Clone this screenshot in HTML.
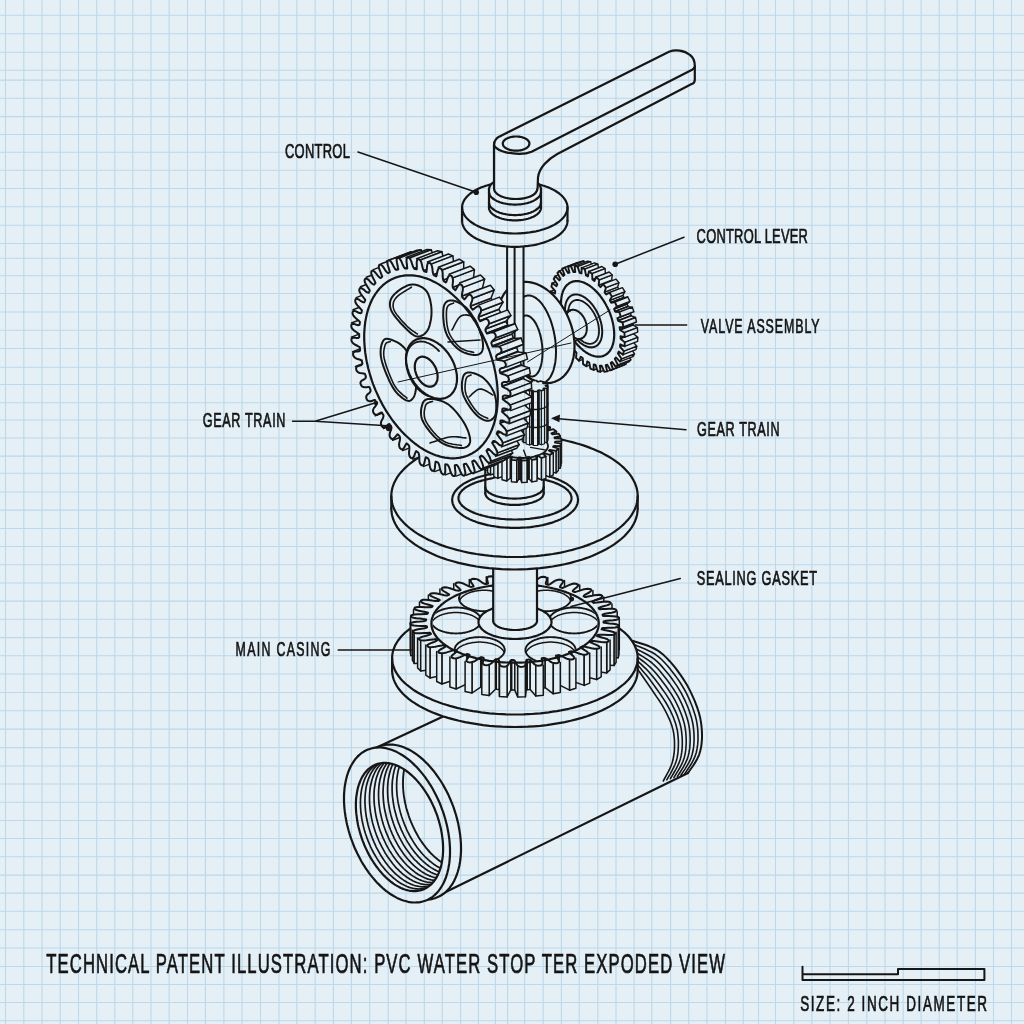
<!DOCTYPE html>
<html><head><meta charset="utf-8"><style>
html,body{margin:0;padding:0;background:#e4eff6;overflow:hidden;}
svg{display:block;will-change:transform;}
text{font-family:"Liberation Sans",sans-serif;fill:#141414;stroke:#141414;stroke-width:0.7px;}
</style></head><body>
<svg width="1024" height="1024" viewBox="0 0 1024 1024">
<defs><pattern id="bg" patternUnits="userSpaceOnUse" x="0" y="0" width="1024" height="1024">
<rect width="1024" height="1024" fill="#e4eff6"/>
<path d="M5.5 0V1024M23.8 0V1024M42.0 0V1024M60.2 0V1024M78.5 0V1024M96.7 0V1024M114.8 0V1024M132.8 0V1024M151.0 0V1024M169.1 0V1024M187.5 0V1024M205.4 0V1024M223.9 0V1024M242.0 0V1024M260.5 0V1024M279.0 0V1024M296.8 0V1024M315.1 0V1024M333.4 0V1024M351.4 0V1024M369.7 0V1024M388.2 0V1024M406.0 0V1024M424.3 0V1024M442.3 0V1024M460.6 0V1024M478.4 0V1024M495.4 0V1024M507.6 0V1024M524.6 0V1024M543.2 0V1024M561.4 0V1024M579.2 0V1024M597.8 0V1024M616.0 0V1024M634.1 0V1024M651.8 0V1024M670.6 0V1024M688.7 0V1024M707.0 0V1024M725.5 0V1024M743.3 0V1024M758.5 0V1024M775.5 0V1024M793.8 0V1024M811.9 0V1024M830.0 0V1024M848.4 0V1024M866.8 0V1024M885.0 0V1024M903.2 0V1024M921.1 0V1024M939.2 0V1024M957.2 0V1024M975.4 0V1024M993.5 0V1024M1011.5 0V1024M0 15.2H1024M0 33.8H1024M0 52.3H1024M0 70.3H1024M0 80.1H1024M0 98.2H1024M0 116.6H1024M0 134.4H1024M0 152.3H1024M0 170.3H1024M0 188.4H1024M0 206.7H1024M0 225.2H1024M0 243.5H1024M0 258.2H1024M0 275.7H1024M0 293.5H1024M0 312.0H1024M0 330.3H1024M0 348.4H1024M0 367.2H1024M0 384.4H1024M0 402.7H1024M0 420.0H1024M0 437.9H1024M0 456.1H1024M0 473.3H1024M0 491.9H1024M0 510.1H1024M0 528.4H1024M0 546.5H1024M0 564.7H1024M0 583.0H1024M0 601.1H1024M0 619.3H1024M0 637.6H1024M0 655.7H1024M0 673.9H1024M0 692.5H1024M0 710.8H1024M0 729.1H1024M0 747.6H1024M0 765.9H1024M0 783.9H1024M0 802.2H1024M0 820.5H1024M0 838.5H1024M0 856.8H1024M0 875.1H1024M0 893.1H1024M0 911.3H1024M0 929.8H1024M0 948.0H1024M0 966.4H1024M0 984.4H1024M0 1002.5H1024M0 1020.7H1024" stroke="#bcd8ea" stroke-width="1.05" fill="none"/>
</pattern></defs>
<rect width="1024" height="1024" fill="url(#bg)"/>
<g fill="none" stroke="#161616" stroke-linejoin="round" stroke-linecap="round">
<path d="M344.0 798.6L344.0 796.1L344.1 793.6L344.3 791.1L344.5 788.7L344.8 786.4L345.2 784.0L345.6 781.8L346.1 779.5L346.6 777.4L347.2 775.3L347.9 773.2L348.6 771.2L349.4 769.3L350.2 767.5L351.1 765.7L352.1 764.0L353.1 762.4L354.1 760.8L355.2 759.3L356.4 757.9L357.6 756.6L358.9 755.4L360.2 754.2L361.5 753.2L362.9 752.2L364.4 751.3L365.9 750.5L600.0 640.0L633.0 641.0L641.1 643.5L645.2 644.8L649.2 646.3L653.1 648.0L656.9 650.0L660.4 652.4L663.7 655.1L666.8 658.1L669.7 661.2L672.5 664.4L675.2 667.7L677.8 671.1L680.3 674.6L682.7 678.1L685.0 681.7L687.2 685.3L689.2 689.1L691.1 692.9L692.9 696.8L694.6 700.7L696.1 704.7L697.5 708.7L698.9 712.8L700.0 716.9L700.8 721.1L701.4 725.3L701.8 729.5L702.0 733.8L702.0 738.1L701.7 742.3L701.2 746.6L700.3 750.7L699.1 754.8L697.3 758.7L695.2 762.4L692.9 766.0L688.0 773.0L439.1 896.5L437.6 897.2L436.1 897.8L434.5 898.3L423.5 901.3L421.9 901.7L420.2 902.1L418.6 902.3L416.9 902.5L415.1 902.5L413.4 902.5L411.6 902.3L409.8 902.1L408.0 901.8L406.2 901.3L404.4 900.8L402.5 900.2L400.7 899.5L398.9 898.7L397.0 897.9L395.1 896.9L393.3 895.9L391.5 894.7L389.6 893.5L387.8 892.2L386.0 890.8L384.2 889.3L382.4 887.8L380.6 886.1L378.9 884.4L377.1 882.7L375.4 880.8L373.8 878.9L372.1 876.9L370.5 874.9L368.9 872.8L367.4 870.6L365.9 868.4L364.4 866.2L362.9 863.9L361.5 861.5L360.2 859.1L358.9 856.6L357.6 854.1L356.4 851.6L355.2 849.1L354.1 846.5L353.1 843.9L352.1 841.2L351.1 838.6L350.2 835.9L349.4 833.2L348.6 830.5L347.9 827.8L347.2 825.1L346.6 822.4L346.1 819.7L345.6 817.0L345.2 814.3L344.8 811.6L344.5 809.0L344.3 806.4L344.1 803.8L344.0 801.2Z" fill="url(#bg)" stroke="none"/>
<path d="M358.0 756.2L560.0 662.0" stroke-width="2.2" />
<path d="M431.4 899.0L688.0 773.0" stroke-width="2.2" />
<path d="M633.0 641.0L637.1 642.3L641.1 643.5L645.2 644.8L649.2 646.3L653.1 648.0L656.9 650.0L660.4 652.4L663.7 655.1L666.8 658.1L669.7 661.2L672.5 664.4L675.2 667.7L677.8 671.1L680.3 674.6L682.7 678.1L685.0 681.7L687.2 685.3L689.2 689.1L691.1 692.9L692.9 696.8L694.6 700.7L696.1 704.7L697.6 708.7L698.9 712.8L700.0 716.9L700.8 721.1L701.4 725.3L701.8 729.5L702.0 733.8L702.0 738.1L701.7 742.3L701.2 746.6L700.3 750.7L699.1 754.8L697.3 758.7L695.2 762.4L692.9 766.0L690.4 769.5L688.0 773.0" stroke-width="2.0" />
<path d="M633.1 644.3L636.9 645.8L640.7 647.2L644.4 648.7L648.1 650.4L651.8 652.2L655.3 654.3L658.6 656.8L661.6 659.5L664.5 662.5L667.3 665.5L670.0 668.7L672.5 671.9L675.0 675.2L677.5 678.6L679.8 682.0L682.0 685.5L684.1 689.0L686.1 692.7L687.9 696.4L689.6 700.1L691.2 704.0L692.7 707.8L694.0 711.7L695.3 715.7L696.3 719.7L697.0 723.7L697.6 727.8L697.9 732.0L698.0 736.1L698.0 740.2L697.7 744.4L697.1 748.4L696.3 752.5L695.0 756.4L693.3 760.2L691.3 763.8L689.1 767.3L686.8 770.7L684.5 774.1" stroke-width="1.6" />
<path d="M633.3 647.6L636.7 649.3L640.2 650.9L643.7 652.7L647.1 654.5L650.4 656.5L653.7 658.7L656.7 661.2L659.6 663.9L662.3 666.9L664.9 669.9L667.5 673.0L669.9 676.1L672.3 679.3L674.6 682.6L676.9 685.9L679.0 689.3L681.0 692.7L682.9 696.3L684.7 699.9L686.3 703.5L687.9 707.2L689.3 711.0L690.5 714.8L691.7 718.6L692.6 722.5L693.3 726.4L693.7 730.4L694.0 734.4L694.1 738.4L694.0 742.4L693.7 746.4L693.1 750.3L692.2 754.2L691.0 758.1L689.4 761.7L687.4 765.2L685.3 768.6L683.1 771.9L680.9 775.3" stroke-width="1.6" />
<path d="M633.4 650.9L636.6 652.8L639.7 654.7L642.9 656.6L646.0 658.6L649.0 660.7L652.0 663.0L654.8 665.6L657.5 668.3L660.1 671.2L662.5 674.2L664.9 677.2L667.3 680.3L669.6 683.4L671.8 686.6L674.0 689.8L676.0 693.1L678.0 696.4L679.8 699.9L681.5 703.3L683.0 706.9L684.5 710.5L685.8 714.1L687.0 717.8L688.1 721.5L688.9 725.3L689.5 729.1L689.9 732.9L690.1 736.8L690.2 740.7L690.0 744.5L689.7 748.4L689.1 752.2L688.2 756.0L687.0 759.7L685.4 763.2L683.6 766.6L681.6 769.9L679.5 773.2L677.4 776.4" stroke-width="1.6" />
<path d="M633.6 654.1L636.4 656.3L639.3 658.4L642.1 660.5L644.9 662.7L647.7 665.0L650.4 667.4L653.0 670.0L655.5 672.8L657.8 675.6L660.2 678.5L662.4 681.5L664.7 684.5L666.9 687.5L669.0 690.6L671.1 693.7L673.0 696.9L674.9 700.1L676.6 703.5L678.2 706.8L679.7 710.2L681.1 713.7L682.4 717.2L683.5 720.8L684.5 724.4L685.2 728.1L685.7 731.8L686.0 735.5L686.2 739.2L686.2 743.0L686.0 746.7L685.7 750.4L685.1 754.1L684.2 757.7L683.0 761.3L681.5 764.7L679.7 768.0L677.8 771.2L675.8 774.4L673.9 777.6" stroke-width="1.6" />
<path d="M633.7 657.4L636.2 659.8L638.8 662.1L641.3 664.4L643.8 666.8L646.3 669.2L648.8 671.7L651.1 674.4L653.4 677.2L655.6 680.0L657.8 682.9L659.9 685.8L662.0 688.7L664.1 691.6L666.2 694.6L668.1 697.6L670.0 700.7L671.8 703.9L673.4 707.1L675.0 710.3L676.5 713.6L677.8 717.0L679.0 720.4L680.0 723.8L680.9 727.3L681.5 730.9L681.9 734.5L682.2 738.0L682.3 741.7L682.3 745.3L682.1 748.9L681.7 752.4L681.1 756.0L680.2 759.5L679.0 762.9L677.5 766.2L675.8 769.4L674.0 772.5L672.2 775.6L670.4 778.7" stroke-width="1.6" />
<path d="M633.9 660.7L636.1 663.3L638.3 665.8L640.5 668.3L642.7 670.9L644.9 673.5L647.1 676.1L649.3 678.8L651.3 681.6L653.4 684.4L655.4 687.2L657.4 690.0L659.4 692.9L661.4 695.7L663.3 698.6L665.2 701.5L667.0 704.5L668.7 707.6L670.3 710.7L671.8 713.8L673.2 717.0L674.4 720.2L675.6 723.5L676.5 726.9L677.3 730.2L677.8 733.7L678.1 737.1L678.4 740.6L678.4 744.1L678.3 747.5L678.1 751.0L677.7 754.5L677.1 757.9L676.2 761.3L675.0 764.5L673.5 767.7L671.9 770.8L670.3 773.8L668.5 776.8L666.8 779.9" stroke-width="1.6" />
<path d="M634.0 664.0L635.9 666.7L637.8 669.5L639.8 672.2L641.7 675.0L643.6 677.7L645.5 680.5L647.4 683.2L649.3 686.0L651.2 688.8L653.0 691.5L654.9 694.3L656.8 697.1L658.7 699.8L660.5 702.6L662.3 705.4L664.0 708.3L665.6 711.3L667.1 714.3L668.5 717.3L669.9 720.4L671.1 723.5L672.1 726.6L673.0 729.9L673.7 733.2L674.1 736.5L674.4 739.8L674.5 743.1L674.5 746.5L674.4 749.8L674.1 753.2L673.6 756.5L673.0 759.8L672.1 763.0L671.0 766.1L669.6 769.2L668.1 772.2L666.5 775.1L664.9 778.0L663.3 781.0" stroke-width="1.6" />
<path d="M461.0 848.4L461.0 850.9L460.9 853.4L460.7 855.9L460.5 858.3L460.2 860.7L459.8 863.0L459.4 865.2L458.9 867.5L458.4 869.6L457.8 871.7L457.1 873.8L456.4 875.8L455.6 877.7L454.8 879.5L453.9 881.3L452.9 883.0L451.9 884.6L450.9 886.2L449.8 887.7L448.6 889.1L447.4 890.4L446.1 891.6L444.8 892.8L443.5 893.8L442.1 894.8L440.6 895.7L439.2 896.5L437.6 897.2L436.1 897.8L434.5 898.3L432.9 898.7L431.2 899.1L429.6 899.3L427.9 899.4L426.1 899.5L424.4 899.5L422.6 899.3L420.8 899.1L419.0 898.8L417.2 898.3L415.4 897.8L413.5 897.2L411.7 896.5L409.8 895.7L408.0 894.9L406.2 893.9L404.3 892.8L402.5 891.7L400.6 890.5L398.8 889.2L397.0 887.8L395.2 886.3L393.4 884.8L391.6 883.1L389.9 881.4L388.1 879.7L386.4 877.8L384.8 875.9L383.1 873.9L381.5 871.9L379.9 869.8L378.4 867.6L376.8 865.4L375.4 863.2L373.9 860.8L372.5 858.5L371.2 856.1L369.9 853.6L368.6 851.1L367.4 848.6L366.2 846.1L365.1 843.5L364.1 840.9L363.1 838.2L362.1 835.6L361.2 832.9L360.4 830.2L359.6 827.5L358.9 824.8L358.2 822.1L357.6 819.4L357.1 816.7L356.6 814.0L356.2 811.3L355.8 808.7L355.5 806.0L355.3 803.4L355.1 800.7L355.0 798.2L355.0 795.6L355.0 793.1L355.1 790.6L355.3 788.1L355.5 785.7L355.8 783.3L356.2 781.0L356.6 778.8L357.1 776.5L357.6 774.4L358.2 772.3L358.9 770.2L359.6 768.2L360.4 766.3L361.2 764.5L362.1 762.7L363.1 761.0L364.1 759.4L365.1 757.8L366.2 756.3L367.4 754.9L368.6 753.6L369.9 752.4L371.2 751.2L372.5 750.2L373.9 749.2L375.4 748.3L376.8 747.5L378.4 746.8L379.9 746.2L381.5 745.7L383.1 745.3L384.8 744.9L386.4 744.7L388.1 744.6L389.9 744.5L391.6 744.5L393.4 744.7L395.2 744.9L397.0 745.2L398.8 745.7L400.6 746.2L402.5 746.8L404.3 747.5L406.2 748.3L408.0 749.1L409.8 750.1L411.7 751.2L413.5 752.3L415.4 753.5L417.2 754.8L419.0 756.2L420.8 757.7L422.6 759.2L424.4 760.9L426.1 762.6L427.9 764.3L429.6 766.2L431.2 768.1L432.9 770.1L434.5 772.1L436.1 774.2L437.6 776.4L439.2 778.6L440.6 780.8L442.1 783.2L443.5 785.5L444.8 787.9L446.1 790.4L447.4 792.9L448.6 795.4L449.8 797.9L450.9 800.5L451.9 803.1L452.9 805.8L453.9 808.4L454.8 811.1L455.6 813.8L456.4 816.5L457.1 819.2L457.8 821.9L458.4 824.6L458.9 827.3L459.4 830.0L459.8 832.7L460.2 835.3L460.5 838.0L460.7 840.6L460.9 843.3L461.0 845.8L461.0 848.4Z" fill="url(#bg)" stroke="none"/>
<path d="M367.4 754.9L369.3 753.0L371.2 751.2L373.3 749.7L375.4 748.3L377.7 747.1L380.0 746.2L382.4 745.4L384.9 744.9L387.5 744.6L390.1 744.5L392.7 744.6L395.4 745.0L398.2 745.5L400.9 746.3L403.7 747.2L406.5 748.4L409.3 749.8L412.1 751.4L414.9 753.2L417.6 755.1L420.4 757.3L423.1 759.6L425.7 762.2L428.3 764.8L430.9 767.7L433.4 770.7L435.8 773.8L438.1 777.1L440.4 780.5L442.6 784.0L444.6 787.6L446.6 791.3L448.5 795.1L450.2 799.0L451.8 802.9L453.4 806.9L454.7 810.9L456.0 815.0L457.1 819.1L458.1 823.1L458.9 827.2L459.6 831.3L460.2 835.3L460.6 839.4L460.9 843.3L461.0 847.2L461.0 851.0L460.8 854.8L460.5 858.5L460.0 862.0L459.4 865.5L458.6 868.8L457.7 872.0L456.7 875.0L455.5 877.9L454.2 880.7L452.8 883.3L451.2 885.7L449.6 887.9L447.8 890.0L445.9 891.9L443.8 893.5L441.7 895.0L439.5 896.3L437.2 897.3L434.9 898.2L432.4 898.8L429.9 899.3L427.3 899.5L424.7 899.5L422.0 899.3L419.3 898.8L416.6 898.2L413.8 897.3L411.0 896.2L408.2 895.0L405.4 893.5L402.6 891.8L399.9 889.9L397.1 887.9L394.4 885.6L391.7 883.2L389.1 880.6L386.5 877.9L384.0 875.0L381.5 871.9" stroke-width="2.2" />
<path d="M450.0 851.4L450.0 853.9L449.9 856.4L449.7 858.9L449.5 861.3L449.2 863.7L448.8 866.0L448.4 868.2L447.9 870.5L447.4 872.6L446.8 874.7L446.1 876.8L445.4 878.8L444.6 880.7L443.8 882.5L442.9 884.3L441.9 886.0L440.9 887.6L439.9 889.2L438.8 890.7L437.6 892.1L436.4 893.4L435.1 894.6L433.8 895.8L432.5 896.8L431.1 897.8L429.6 898.7L428.2 899.5L426.6 900.2L425.1 900.8L423.5 901.3L421.9 901.7L420.2 902.1L418.6 902.3L416.9 902.4L415.1 902.5L413.4 902.5L411.6 902.3L409.8 902.1L408.0 901.8L406.2 901.3L404.4 900.8L402.5 900.2L400.7 899.5L398.8 898.7L397.0 897.9L395.2 896.9L393.3 895.8L391.5 894.7L389.6 893.5L387.8 892.2L386.0 890.8L384.2 889.3L382.4 887.8L380.6 886.1L378.9 884.4L377.1 882.7L375.4 880.8L373.8 878.9L372.1 876.9L370.5 874.9L368.9 872.8L367.4 870.6L365.8 868.4L364.4 866.2L362.9 863.8L361.5 861.5L360.2 859.1L358.9 856.6L357.6 854.1L356.4 851.6L355.2 849.1L354.1 846.5L353.1 843.9L352.1 841.2L351.1 838.6L350.2 835.9L349.4 833.2L348.6 830.5L347.9 827.8L347.2 825.1L346.6 822.4L346.1 819.7L345.6 817.0L345.2 814.3L344.8 811.7L344.5 809.0L344.3 806.4L344.1 803.7L344.0 801.2L344.0 798.6L344.0 796.1L344.1 793.6L344.3 791.1L344.5 788.7L344.8 786.3L345.2 784.0L345.6 781.8L346.1 779.5L346.6 777.4L347.2 775.3L347.9 773.2L348.6 771.2L349.4 769.3L350.2 767.5L351.1 765.7L352.1 764.0L353.1 762.4L354.1 760.8L355.2 759.3L356.4 757.9L357.6 756.6L358.9 755.4L360.2 754.2L361.5 753.2L362.9 752.2L364.4 751.3L365.8 750.5L367.4 749.8L368.9 749.2L370.5 748.7L372.1 748.3L373.8 747.9L375.4 747.7L377.1 747.6L378.9 747.5L380.6 747.5L382.4 747.7L384.2 747.9L386.0 748.2L387.8 748.7L389.6 749.2L391.5 749.8L393.3 750.5L395.2 751.3L397.0 752.1L398.8 753.1L400.7 754.2L402.5 755.3L404.4 756.5L406.2 757.8L408.0 759.2L409.8 760.7L411.6 762.2L413.4 763.9L415.1 765.6L416.9 767.3L418.6 769.2L420.2 771.1L421.9 773.1L423.5 775.1L425.1 777.2L426.6 779.4L428.2 781.6L429.6 783.8L431.1 786.2L432.5 788.5L433.8 790.9L435.1 793.4L436.4 795.9L437.6 798.4L438.8 800.9L439.9 803.5L440.9 806.1L441.9 808.8L442.9 811.4L443.8 814.1L444.6 816.8L445.4 819.5L446.1 822.2L446.8 824.9L447.4 827.6L447.9 830.3L448.4 833.0L448.8 835.7L449.2 838.3L449.5 841.0L449.7 843.6L449.9 846.3L450.0 848.8L450.0 851.4Z" fill="url(#bg)" stroke="none"/>
<path d="M450.0 851.4L450.0 853.9L449.9 856.4L449.7 858.9L449.5 861.3L449.2 863.7L448.8 866.0L448.4 868.2L447.9 870.5L447.4 872.6L446.8 874.7L446.1 876.8L445.4 878.8L444.6 880.7L443.8 882.5L442.9 884.3L441.9 886.0L440.9 887.6L439.9 889.2L438.8 890.7L437.6 892.1L436.4 893.4L435.1 894.6L433.8 895.8L432.5 896.8L431.1 897.8L429.6 898.7L428.2 899.5L426.6 900.2L425.1 900.8L423.5 901.3L421.9 901.7L420.2 902.1L418.6 902.3L416.9 902.4L415.1 902.5L413.4 902.5L411.6 902.3L409.8 902.1L408.0 901.8L406.2 901.3L404.4 900.8L402.5 900.2L400.7 899.5L398.8 898.7L397.0 897.9L395.2 896.9L393.3 895.8L391.5 894.7L389.6 893.5L387.8 892.2L386.0 890.8L384.2 889.3L382.4 887.8L380.6 886.1L378.9 884.4L377.1 882.7L375.4 880.8L373.8 878.9L372.1 876.9L370.5 874.9L368.9 872.8L367.4 870.6L365.8 868.4L364.4 866.2L362.9 863.8L361.5 861.5L360.2 859.1L358.9 856.6L357.6 854.1L356.4 851.6L355.2 849.1L354.1 846.5L353.1 843.9L352.1 841.2L351.1 838.6L350.2 835.9L349.4 833.2L348.6 830.5L347.9 827.8L347.2 825.1L346.6 822.4L346.1 819.7L345.6 817.0L345.2 814.3L344.8 811.7L344.5 809.0L344.3 806.4L344.1 803.7L344.0 801.2L344.0 798.6L344.0 796.1L344.1 793.6L344.3 791.1L344.5 788.7L344.8 786.3L345.2 784.0L345.6 781.8L346.1 779.5L346.6 777.4L347.2 775.3L347.9 773.2L348.6 771.2L349.4 769.3L350.2 767.5L351.1 765.7L352.1 764.0L353.1 762.4L354.1 760.8L355.2 759.3L356.4 757.9L357.6 756.6L358.9 755.4L360.2 754.2L361.5 753.2L362.9 752.2L364.4 751.3L365.8 750.5L367.4 749.8L368.9 749.2L370.5 748.7L372.1 748.3L373.8 747.9L375.4 747.7L377.1 747.6L378.9 747.5L380.6 747.5L382.4 747.7L384.2 747.9L386.0 748.2L387.8 748.7L389.6 749.2L391.5 749.8L393.3 750.5L395.2 751.3L397.0 752.1L398.8 753.1L400.7 754.2L402.5 755.3L404.4 756.5L406.2 757.8L408.0 759.2L409.8 760.7L411.6 762.2L413.4 763.9L415.1 765.6L416.9 767.3L418.6 769.2L420.2 771.1L421.9 773.1L423.5 775.1L425.1 777.2L426.6 779.4L428.2 781.6L429.6 783.8L431.1 786.2L432.5 788.5L433.8 790.9L435.1 793.4L436.4 795.9L437.6 798.4L438.8 800.9L439.9 803.5L440.9 806.1L441.9 808.8L442.9 811.4L443.8 814.1L444.6 816.8L445.4 819.5L446.1 822.2L446.8 824.9L447.4 827.6L447.9 830.3L448.4 833.0L448.8 835.7L449.2 838.3L449.5 841.0L449.7 843.6L449.9 846.3L450.0 848.8L450.0 851.4Z" stroke-width="2.2" />
<path d="M443.1 848.9L443.1 851.0L443.0 853.0L442.9 855.1L442.7 857.1L442.4 859.0L442.1 860.9L441.8 862.8L441.4 864.7L441.0 866.4L440.5 868.2L439.9 869.9L439.3 871.5L438.7 873.1L438.0 874.6L437.3 876.1L436.5 877.5L435.6 878.8L434.8 880.1L433.9 881.3L432.9 882.5L431.9 883.6L430.9 884.6L429.8 885.5L428.7 886.4L427.5 887.2L426.3 888.0L425.1 888.6L423.9 889.2L422.6 889.7L421.3 890.1L420.0 890.5L418.6 890.7L417.2 890.9L415.8 891.1L414.4 891.1L413.0 891.1L411.5 890.9L410.0 890.8L408.6 890.5L407.1 890.1L405.6 889.7L404.1 889.2L402.5 888.6L401.0 888.0L399.5 887.2L398.0 886.4L396.5 885.6L394.9 884.6L393.4 883.6L391.9 882.5L390.4 881.4L389.0 880.2L387.5 878.9L386.0 877.5L384.6 876.1L383.2 874.7L381.8 873.1L380.4 871.5L379.0 869.9L377.7 868.2L376.4 866.5L375.1 864.7L373.9 862.9L372.7 861.0L371.5 859.1L370.3 857.1L369.2 855.1L368.1 853.1L367.1 851.0L366.1 848.9L365.1 846.8L364.2 844.7L363.4 842.5L362.5 840.4L361.7 838.2L361.0 835.9L360.3 833.7L359.7 831.5L359.1 829.3L358.5 827.0L358.0 824.8L357.6 822.6L357.2 820.3L356.9 818.1L356.6 815.9L356.3 813.7L356.1 811.5L356.0 809.4L355.9 807.2L355.9 805.1L355.9 803.0L356.0 801.0L356.1 798.9L356.3 796.9L356.6 795.0L356.9 793.1L357.2 791.2L357.6 789.3L358.0 787.6L358.5 785.8L359.1 784.1L359.7 782.5L360.3 780.9L361.0 779.4L361.7 777.9L362.5 776.5L363.4 775.2L364.2 773.9L365.1 772.7L366.1 771.5L367.1 770.4L368.1 769.4L369.2 768.5L370.3 767.6L371.5 766.8L372.7 766.0L373.9 765.4L375.1 764.8L376.4 764.3L377.7 763.9L379.0 763.5L380.4 763.3L381.8 763.1L383.2 762.9L384.6 762.9L386.0 762.9L387.5 763.1L389.0 763.2L390.4 763.5L391.9 763.9L393.4 764.3L394.9 764.8L396.5 765.4L398.0 766.0L399.5 766.8L401.0 767.6L402.5 768.4L404.1 769.4L405.6 770.4L407.1 771.5L408.6 772.6L410.0 773.8L411.5 775.1L413.0 776.5L414.4 777.9L415.8 779.3L417.2 780.9L418.6 782.5L420.0 784.1L421.3 785.8L422.6 787.5L423.9 789.3L425.1 791.1L426.3 793.0L427.5 794.9L428.7 796.9L429.8 798.9L430.9 800.9L431.9 803.0L432.9 805.1L433.9 807.2L434.8 809.3L435.6 811.5L436.5 813.6L437.3 815.8L438.0 818.1L438.7 820.3L439.3 822.5L439.9 824.7L440.5 827.0L441.0 829.2L441.4 831.4L441.8 833.7L442.1 835.9L442.4 838.1L442.7 840.3L442.9 842.5L443.0 844.6L443.1 846.8L443.1 848.9Z" stroke-width="2.2" />
<clipPath id="cp1"><path d="M443.1 848.9L443.1 851.0L443.0 853.0L442.9 855.1L442.7 857.1L442.4 859.0L442.1 860.9L441.8 862.8L441.4 864.7L441.0 866.4L440.5 868.2L439.9 869.9L439.3 871.5L438.7 873.1L438.0 874.6L437.3 876.1L436.5 877.5L435.6 878.8L434.8 880.1L433.9 881.3L432.9 882.5L431.9 883.6L430.9 884.6L429.8 885.5L428.7 886.4L427.5 887.2L426.3 888.0L425.1 888.6L423.9 889.2L422.6 889.7L421.3 890.1L420.0 890.5L418.6 890.7L417.2 890.9L415.8 891.1L414.4 891.1L413.0 891.1L411.5 890.9L410.0 890.8L408.6 890.5L407.1 890.1L405.6 889.7L404.1 889.2L402.5 888.6L401.0 888.0L399.5 887.2L398.0 886.4L396.5 885.6L394.9 884.6L393.4 883.6L391.9 882.5L390.4 881.4L389.0 880.2L387.5 878.9L386.0 877.5L384.6 876.1L383.2 874.7L381.8 873.1L380.4 871.5L379.0 869.9L377.7 868.2L376.4 866.5L375.1 864.7L373.9 862.9L372.7 861.0L371.5 859.1L370.3 857.1L369.2 855.1L368.1 853.1L367.1 851.0L366.1 848.9L365.1 846.8L364.2 844.7L363.4 842.5L362.5 840.4L361.7 838.2L361.0 835.9L360.3 833.7L359.7 831.5L359.1 829.3L358.5 827.0L358.0 824.8L357.6 822.6L357.2 820.3L356.9 818.1L356.6 815.9L356.3 813.7L356.1 811.5L356.0 809.4L355.9 807.2L355.9 805.1L355.9 803.0L356.0 801.0L356.1 798.9L356.3 796.9L356.6 795.0L356.9 793.1L357.2 791.2L357.6 789.3L358.0 787.6L358.5 785.8L359.1 784.1L359.7 782.5L360.3 780.9L361.0 779.4L361.7 777.9L362.5 776.5L363.4 775.2L364.2 773.9L365.1 772.7L366.1 771.5L367.1 770.4L368.1 769.4L369.2 768.5L370.3 767.6L371.5 766.8L372.7 766.0L373.9 765.4L375.1 764.8L376.4 764.3L377.7 763.9L379.0 763.5L380.4 763.3L381.8 763.1L383.2 762.9L384.6 762.9L386.0 762.9L387.5 763.1L389.0 763.2L390.4 763.5L391.9 763.9L393.4 764.3L394.9 764.8L396.5 765.4L398.0 766.0L399.5 766.8L401.0 767.6L402.5 768.4L404.1 769.4L405.6 770.4L407.1 771.5L408.6 772.6L410.0 773.8L411.5 775.1L413.0 776.5L414.4 777.9L415.8 779.3L417.2 780.9L418.6 782.5L420.0 784.1L421.3 785.8L422.6 787.5L423.9 789.3L425.1 791.1L426.3 793.0L427.5 794.9L428.7 796.9L429.8 798.9L430.9 800.9L431.9 803.0L432.9 805.1L433.9 807.2L434.8 809.3L435.6 811.5L436.5 813.6L437.3 815.8L438.0 818.1L438.7 820.3L439.3 822.5L439.9 824.7L440.5 827.0L441.0 829.2L441.4 831.4L441.8 833.7L442.1 835.9L442.4 838.1L442.7 840.3L442.9 842.5L443.0 844.6L443.1 846.8L443.1 848.9Z"/></clipPath><g clip-path="url(#cp1)">
<path d="M447.6 846.8L447.6 848.9L447.5 850.9L447.4 853.0L447.2 854.9L447.0 856.9L446.7 858.8L446.3 860.7L445.9 862.5L445.5 864.3L445.0 866.1L444.5 867.7L443.9 869.4L443.2 871.0L442.5 872.5L441.8 874.0L441.0 875.4L440.2 876.7L439.3 878.0L438.4 879.2L437.4 880.4L436.4 881.5L435.4 882.5L434.3 883.4L433.2 884.3L432.1 885.1L430.9 885.8L429.7 886.5L428.4 887.1L427.1 887.6L425.8 888.0L424.5 888.3L423.1 888.6L421.8 888.8L420.4 888.9L418.9 889.0L417.5 888.9L416.0 888.8L414.6 888.6L413.1 888.4L411.6 888.0L410.1 887.6L408.6 887.1L407.1 886.5L405.5 885.8L404.0 885.1L402.5 884.3L401.0 883.4L399.5 882.5L398.0 881.5L396.5 880.4L395.0 879.2L393.5 878.0L392.0 876.7L390.6 875.4L389.1 874.0L387.7 872.5L386.3 871.0L384.9 869.4L383.6 867.8L382.2 866.1L380.9 864.4L379.6 862.6L378.4 860.7L377.2 858.9L376.0 856.9L374.9 855.0L373.7 853.0L372.7 851.0L371.6 848.9L370.6 846.8L369.7 844.7L368.8 842.6L367.9 840.4L367.1 838.2L366.3 836.0L365.5 833.8L364.8 831.6L364.2 829.4L363.6 827.1L363.1 824.9L362.6 822.7L362.1 820.4L361.7 818.2L361.4 816.0L361.1 813.8L360.8 811.6L360.7 809.4L360.5 807.2L360.5 805.1L360.4 803.0L360.5 800.9L360.5 798.8L360.7 796.8L360.8 794.8L361.1 792.8L361.4 790.9L361.7 789.1L362.1 787.2L362.6 785.4L363.1 783.7L363.6 782.0L364.2 780.4L364.8 778.8L365.5 777.3L366.3 775.8L367.1 774.4L367.9 773.0L368.8 771.7L369.7 770.5L370.6 769.4L371.6 768.3L372.7 767.3L373.7 766.3L374.9 765.5L376.0 764.6L377.2 763.9L378.4 763.3L379.6 762.7L380.9 762.2L382.2 761.8L383.6 761.4L384.9 761.1L386.3 760.9L387.7 760.8L389.1 760.8L390.6 760.8L392.0 760.9L393.5 761.1L395.0 761.4L396.5 761.7L398.0 762.2L399.5 762.7L401.0 763.3L402.5 763.9L404.0 764.6L405.5 765.4L407.1 766.3L408.6 767.3L410.1 768.3L411.6 769.4L413.1 770.5L414.6 771.7L416.0 773.0L417.5 774.3L418.9 775.8L420.4 777.2L421.8 778.7L423.1 780.3L424.5 782.0L425.8 783.7L427.1 785.4L428.4 787.2L429.7 789.0L430.9 790.9L432.1 792.8L433.2 794.8L434.3 796.8L435.4 798.8L436.4 800.8L437.4 802.9L438.4 805.0L439.3 807.2L440.2 809.3L441.0 811.5L441.8 813.7L442.5 815.9L443.2 818.1L443.9 820.4L444.5 822.6L445.0 824.9L445.5 827.1L445.9 829.3L446.3 831.6L446.7 833.8L447.0 836.0L447.2 838.2L447.4 840.4L447.5 842.5L447.6 844.7L447.6 846.8Z" stroke-width="1.7" />
<path d="M452.2 844.6L452.1 846.7L452.0 848.8L451.9 850.8L451.7 852.8L451.5 854.8L451.2 856.7L450.9 858.6L450.5 860.4L450.0 862.2L449.5 863.9L449.0 865.6L448.4 867.3L447.7 868.8L447.0 870.4L446.3 871.8L445.5 873.2L444.7 874.6L443.8 875.9L442.9 877.1L441.9 878.2L441.0 879.3L439.9 880.4L438.8 881.3L437.7 882.2L436.6 883.0L435.4 883.7L434.2 884.4L432.9 884.9L431.7 885.4L430.4 885.9L429.0 886.2L427.7 886.5L426.3 886.7L424.9 886.8L423.5 886.8L422.0 886.8L420.6 886.7L419.1 886.5L417.6 886.2L416.1 885.9L414.6 885.5L413.1 885.0L411.6 884.4L410.1 883.7L408.6 883.0L407.0 882.2L405.5 881.3L404.0 880.4L402.5 879.4L401.0 878.3L399.5 877.1L398.0 875.9L396.5 874.6L395.1 873.3L393.6 871.9L392.2 870.4L390.8 868.9L389.4 867.3L388.1 865.7L386.8 864.0L385.4 862.2L384.2 860.4L382.9 858.6L381.7 856.7L380.5 854.8L379.4 852.9L378.3 850.9L377.2 848.8L376.1 846.8L375.2 844.7L374.2 842.6L373.3 840.4L372.4 838.3L371.6 836.1L370.8 833.9L370.1 831.7L369.4 829.5L368.7 827.2L368.1 825.0L367.6 822.8L367.1 820.5L366.6 818.3L366.2 816.1L365.9 813.9L365.6 811.6L365.4 809.4L365.2 807.3L365.1 805.1L365.0 803.0L364.9 800.9L365.0 798.8L365.1 796.7L365.2 794.7L365.4 792.7L365.6 790.7L365.9 788.8L366.2 786.9L366.6 785.1L367.1 783.3L367.6 781.6L368.1 779.9L368.7 778.2L369.4 776.7L370.1 775.1L370.8 773.7L371.6 772.3L372.4 770.9L373.3 769.6L374.2 768.4L375.2 767.3L376.1 766.2L377.2 765.1L378.3 764.2L379.4 763.3L380.5 762.5L381.7 761.8L382.9 761.1L384.2 760.6L385.4 760.1L386.8 759.6L388.1 759.3L389.4 759.0L390.8 758.8L392.2 758.7L393.6 758.7L395.1 758.7L396.5 758.8L398.0 759.0L399.5 759.3L401.0 759.6L402.5 760.0L404.0 760.5L405.5 761.1L407.0 761.8L408.6 762.5L410.1 763.3L411.6 764.2L413.1 765.1L414.6 766.1L416.1 767.2L417.6 768.4L419.1 769.6L420.6 770.9L422.0 772.2L423.5 773.6L424.9 775.1L426.3 776.6L427.7 778.2L429.0 779.8L430.4 781.5L431.7 783.3L432.9 785.1L434.2 786.9L435.4 788.8L436.6 790.7L437.7 792.6L438.8 794.6L439.9 796.7L441.0 798.7L441.9 800.8L442.9 802.9L443.8 805.1L444.7 807.2L445.5 809.4L446.3 811.6L447.0 813.8L447.7 816.0L448.4 818.3L449.0 820.5L449.5 822.7L450.0 825.0L450.5 827.2L450.9 829.4L451.2 831.6L451.5 833.9L451.7 836.1L451.9 838.2L452.0 840.4L452.1 842.5L452.2 844.6Z" stroke-width="1.7" />
<path d="M456.7 842.5L456.6 844.6L456.6 846.7L456.4 848.7L456.3 850.7L456.0 852.7L455.7 854.6L455.4 856.4L455.0 858.3L454.5 860.1L454.0 861.8L453.5 863.5L452.9 865.1L452.3 866.7L451.6 868.2L450.8 869.7L450.0 871.1L449.2 872.5L448.3 873.8L447.4 875.0L446.5 876.1L445.5 877.2L444.4 878.2L443.4 879.2L442.2 880.0L441.1 880.9L439.9 881.6L438.7 882.2L437.5 882.8L436.2 883.3L434.9 883.7L433.5 884.1L432.2 884.4L430.8 884.6L429.4 884.7L428.0 884.7L426.5 884.7L425.1 884.6L423.6 884.4L422.1 884.1L420.6 883.8L419.1 883.3L417.6 882.8L416.1 882.2L414.6 881.6L413.1 880.9L411.6 880.1L410.0 879.2L408.5 878.2L407.0 877.2L405.5 876.1L404.0 875.0L402.5 873.8L401.1 872.5L399.6 871.2L398.2 869.7L396.7 868.3L395.3 866.8L394.0 865.2L392.6 863.5L391.3 861.8L390.0 860.1L388.7 858.3L387.4 856.5L386.2 854.6L385.0 852.7L383.9 850.7L382.8 848.7L381.7 846.7L380.7 844.7L379.7 842.6L378.7 840.5L377.8 838.3L376.9 836.2L376.1 834.0L375.3 831.8L374.6 829.6L373.9 827.4L373.2 825.1L372.6 822.9L372.1 820.6L371.6 818.4L371.2 816.2L370.8 813.9L370.4 811.7L370.1 809.5L369.9 807.3L369.7 805.1L369.6 803.0L369.5 800.8L369.5 798.7L369.5 796.6L369.6 794.6L369.7 792.5L369.9 790.6L370.1 788.6L370.4 786.7L370.8 784.8L371.2 783.0L371.6 781.2L372.1 779.4L372.6 777.8L373.2 776.1L373.9 774.5L374.6 773.0L375.3 771.5L376.1 770.1L376.9 768.8L377.8 767.5L378.7 766.3L379.7 765.1L380.7 764.0L381.7 763.0L382.8 762.1L383.9 761.2L385.0 760.4L386.2 759.7L387.4 759.0L388.7 758.4L390.0 757.9L391.3 757.5L392.6 757.2L394.0 756.9L395.3 756.7L396.7 756.6L398.2 756.5L399.6 756.6L401.1 756.7L402.5 756.9L404.0 757.1L405.5 757.5L407.0 757.9L408.5 758.4L410.0 759.0L411.6 759.7L413.1 760.4L414.6 761.2L416.1 762.1L417.6 763.0L419.1 764.0L420.6 765.1L422.1 766.3L423.6 767.5L425.1 768.8L426.5 770.1L428.0 771.5L429.4 773.0L430.8 774.5L432.2 776.1L433.5 777.7L434.9 779.4L436.2 781.1L437.5 782.9L438.7 784.8L439.9 786.6L441.1 788.6L442.2 790.5L443.4 792.5L444.4 794.5L445.5 796.6L446.5 798.7L447.4 800.8L448.3 802.9L449.2 805.1L450.0 807.3L450.8 809.5L451.6 811.7L452.3 813.9L452.9 816.1L453.5 818.4L454.0 820.6L454.5 822.8L455.0 825.1L455.4 827.3L455.7 829.5L456.0 831.7L456.3 833.9L456.4 836.1L456.6 838.3L456.6 840.4L456.7 842.5Z" stroke-width="1.7" />
<path d="M461.2 840.4L461.2 842.5L461.1 844.5L461.0 846.6L460.8 848.6L460.5 850.5L460.2 852.4L459.9 854.3L459.5 856.2L459.1 857.9L458.6 859.7L458.0 861.4L457.4 863.0L456.8 864.6L456.1 866.1L455.4 867.6L454.6 869.0L453.7 870.3L452.9 871.6L452.0 872.8L451.0 874.0L450.0 875.1L449.0 876.1L447.9 877.0L446.8 877.9L445.6 878.7L444.4 879.5L443.2 880.1L442.0 880.7L440.7 881.2L439.4 881.6L438.1 882.0L436.7 882.2L435.3 882.4L433.9 882.6L432.5 882.6L431.1 882.6L429.6 882.4L428.1 882.3L426.7 882.0L425.2 881.6L423.7 881.2L422.2 880.7L420.6 880.1L419.1 879.5L417.6 878.7L416.1 877.9L414.6 877.1L413.0 876.1L411.5 875.1L410.0 874.0L408.5 872.9L407.1 871.7L405.6 870.4L404.1 869.0L402.7 867.6L401.3 866.2L399.9 864.6L398.5 863.0L397.1 861.4L395.8 859.7L394.5 858.0L393.2 856.2L392.0 854.4L390.8 852.5L389.6 850.6L388.4 848.6L387.3 846.6L386.2 844.6L385.2 842.5L384.2 840.4L383.2 838.3L382.3 836.2L381.5 834.0L380.6 831.9L379.8 829.7L379.1 827.4L378.4 825.2L377.8 823.0L377.2 820.8L376.6 818.5L376.1 816.3L375.7 814.1L375.3 811.8L375.0 809.6L374.7 807.4L374.4 805.2L374.2 803.0L374.1 800.9L374.0 798.7L374.0 796.6L374.0 794.5L374.1 792.5L374.2 790.4L374.4 788.4L374.7 786.5L375.0 784.6L375.3 782.7L375.7 780.8L376.1 779.1L376.6 777.3L377.2 775.6L377.8 774.0L378.4 772.4L379.1 770.9L379.8 769.4L380.6 768.0L381.5 766.7L382.3 765.4L383.2 764.2L384.2 763.0L385.2 761.9L386.2 760.9L387.3 760.0L388.4 759.1L389.6 758.3L390.8 757.5L392.0 756.9L393.2 756.3L394.5 755.8L395.8 755.4L397.1 755.0L398.5 754.8L399.9 754.6L401.3 754.4L402.7 754.4L404.1 754.4L405.6 754.6L407.1 754.7L408.5 755.0L410.0 755.4L411.5 755.8L413.0 756.3L414.6 756.9L416.1 757.5L417.6 758.3L419.1 759.1L420.6 759.9L422.2 760.9L423.7 761.9L425.2 763.0L426.7 764.1L428.1 765.3L429.6 766.6L431.1 768.0L432.5 769.4L433.9 770.8L435.3 772.4L436.7 774.0L438.1 775.6L439.4 777.3L440.7 779.0L442.0 780.8L443.2 782.6L444.4 784.5L445.6 786.4L446.8 788.4L447.9 790.4L449.0 792.4L450.0 794.5L451.0 796.6L452.0 798.7L452.9 800.8L453.7 803.0L454.6 805.1L455.4 807.3L456.1 809.6L456.8 811.8L457.4 814.0L458.0 816.2L458.6 818.5L459.1 820.7L459.5 822.9L459.9 825.2L460.2 827.4L460.5 829.6L460.8 831.8L461.0 834.0L461.1 836.1L461.2 838.3L461.2 840.4Z" stroke-width="1.7" />
<path d="M465.7 838.3L465.7 840.4L465.6 842.4L465.5 844.5L465.3 846.4L465.1 848.4L464.8 850.3L464.4 852.2L464.0 854.0L463.6 855.8L463.1 857.6L462.6 859.2L462.0 860.9L461.3 862.5L460.6 864.0L459.9 865.5L459.1 866.9L458.3 868.2L457.4 869.5L456.5 870.7L455.5 871.9L454.5 873.0L453.5 874.0L452.4 874.9L451.3 875.8L450.2 876.6L449.0 877.3L447.8 878.0L446.5 878.6L445.2 879.1L443.9 879.5L442.6 879.8L441.2 880.1L439.9 880.3L438.5 880.4L437.0 880.5L435.6 880.4L434.1 880.3L432.7 880.1L431.2 879.9L429.7 879.5L428.2 879.1L426.7 878.6L425.2 878.0L423.6 877.3L422.1 876.6L420.6 875.8L419.1 874.9L417.6 874.0L416.1 873.0L414.6 871.9L413.1 870.7L411.6 869.5L410.1 868.2L408.7 866.9L407.2 865.5L405.8 864.0L404.4 862.5L403.0 860.9L401.7 859.3L400.3 857.6L399.0 855.9L397.7 854.1L396.5 852.2L395.3 850.4L394.1 848.4L393.0 846.5L391.8 844.5L390.8 842.5L389.7 840.4L388.7 838.3L387.8 836.2L386.9 834.1L386.0 831.9L385.2 829.7L384.4 827.5L383.6 825.3L382.9 823.1L382.3 820.9L381.7 818.6L381.2 816.4L380.7 814.2L380.2 811.9L379.8 809.7L379.5 807.5L379.2 805.3L378.9 803.1L378.8 800.9L378.6 798.7L378.6 796.6L378.5 794.5L378.6 792.4L378.6 790.3L378.8 788.3L378.9 786.3L379.2 784.3L379.5 782.4L379.8 780.6L380.2 778.7L380.7 776.9L381.2 775.2L381.7 773.5L382.3 771.9L382.9 770.3L383.6 768.8L384.4 767.3L385.2 765.9L386.0 764.5L386.9 763.2L387.8 762.0L388.7 760.9L389.7 759.8L390.8 758.8L391.8 757.8L393.0 757.0L394.1 756.1L395.3 755.4L396.5 754.8L397.7 754.2L399.0 753.7L400.3 753.3L401.7 752.9L403.0 752.6L404.4 752.4L405.8 752.3L407.2 752.3L408.7 752.3L410.1 752.4L411.6 752.6L413.1 752.9L414.6 753.2L416.1 753.7L417.6 754.2L419.1 754.8L420.6 755.4L422.1 756.1L423.6 756.9L425.2 757.8L426.7 758.8L428.2 759.8L429.7 760.9L431.2 762.0L432.7 763.2L434.1 764.5L435.6 765.8L437.0 767.3L438.5 768.7L439.9 770.2L441.2 771.8L442.6 773.5L443.9 775.2L445.2 776.9L446.5 778.7L447.8 780.5L449.0 782.4L450.2 784.3L451.3 786.3L452.4 788.3L453.5 790.3L454.5 792.3L455.5 794.4L456.5 796.5L457.4 798.7L458.3 800.8L459.1 803.0L459.9 805.2L460.6 807.4L461.3 809.6L462.0 811.9L462.6 814.1L463.1 816.4L463.6 818.6L464.0 820.8L464.4 823.1L464.8 825.3L465.1 827.5L465.3 829.7L465.5 831.9L465.6 834.0L465.7 836.2L465.7 838.3Z" stroke-width="1.7" />
<path d="M470.2 836.1L470.2 838.2L470.1 840.3L470.0 842.3L469.8 844.3L469.6 846.3L469.3 848.2L469.0 850.1L468.6 851.9L468.1 853.7L467.6 855.4L467.1 857.1L466.5 858.8L465.8 860.3L465.1 861.9L464.4 863.3L463.6 864.7L462.8 866.1L461.9 867.4L461.0 868.6L460.0 869.7L459.1 870.8L458.0 871.9L456.9 872.8L455.8 873.7L454.7 874.5L453.5 875.2L452.3 875.9L451.0 876.4L449.8 876.9L448.4 877.4L447.1 877.7L445.8 878.0L444.4 878.2L443.0 878.3L441.6 878.3L440.1 878.3L438.7 878.2L437.2 878.0L435.7 877.7L434.2 877.4L432.7 877.0L431.2 876.5L429.7 875.9L428.2 875.2L426.6 874.5L425.1 873.7L423.6 872.8L422.1 871.9L420.6 870.9L419.1 869.8L417.6 868.6L416.1 867.4L414.6 866.1L413.2 864.8L411.7 863.4L410.3 861.9L408.9 860.4L407.5 858.8L406.2 857.2L404.8 855.5L403.5 853.7L402.3 851.9L401.0 850.1L399.8 848.2L398.6 846.3L397.5 844.4L396.4 842.4L395.3 840.3L394.2 838.3L393.3 836.2L392.3 834.1L391.4 831.9L390.5 829.8L389.7 827.6L388.9 825.4L388.2 823.2L387.5 821.0L386.8 818.7L386.2 816.5L385.7 814.3L385.2 812.0L384.7 809.8L384.3 807.6L384.0 805.4L383.7 803.1L383.5 800.9L383.3 798.8L383.2 796.6L383.1 794.5L383.0 792.4L383.1 790.3L383.2 788.2L383.3 786.2L383.5 784.2L383.7 782.2L384.0 780.3L384.3 778.4L384.7 776.6L385.2 774.8L385.7 773.1L386.2 771.4L386.8 769.7L387.5 768.2L388.2 766.6L388.9 765.2L389.7 763.8L390.5 762.4L391.4 761.1L392.3 759.9L393.3 758.8L394.2 757.7L395.3 756.6L396.4 755.7L397.5 754.8L398.6 754.0L399.8 753.3L401.0 752.6L402.3 752.1L403.5 751.6L404.8 751.1L406.2 750.8L407.5 750.5L408.9 750.3L410.3 750.2L411.7 750.2L413.2 750.2L414.6 750.3L416.1 750.5L417.6 750.8L419.1 751.1L420.6 751.5L422.1 752.0L423.6 752.6L425.1 753.3L426.6 754.0L428.2 754.8L429.7 755.7L431.2 756.6L432.7 757.6L434.2 758.7L435.7 759.9L437.2 761.1L438.7 762.4L440.1 763.7L441.6 765.1L443.0 766.6L444.4 768.1L445.8 769.7L447.1 771.3L448.4 773.0L449.8 774.8L451.0 776.6L452.3 778.4L453.5 780.3L454.7 782.2L455.8 784.1L456.9 786.1L458.0 788.2L459.1 790.2L460.0 792.3L461.0 794.4L461.9 796.6L462.8 798.7L463.6 800.9L464.4 803.1L465.1 805.3L465.8 807.5L466.5 809.8L467.1 812.0L467.6 814.2L468.1 816.5L468.6 818.7L469.0 820.9L469.3 823.1L469.6 825.4L469.8 827.6L470.0 829.7L470.1 831.9L470.2 834.0L470.2 836.1Z" stroke-width="1.7" />
<path d="M474.8 834.0L474.7 836.1L474.7 838.2L474.5 840.2L474.4 842.2L474.1 844.2L473.8 846.1L473.5 847.9L473.1 849.8L472.6 851.6L472.1 853.3L471.6 855.0L471.0 856.6L470.4 858.2L469.7 859.7L468.9 861.2L468.1 862.6L467.3 864.0L466.4 865.3L465.5 866.5L464.6 867.6L463.6 868.7L462.5 869.7L461.5 870.7L460.3 871.5L459.2 872.4L458.0 873.1L456.8 873.7L455.6 874.3L454.3 874.8L453.0 875.2L451.6 875.6L450.3 875.9L448.9 876.1L447.5 876.2L446.1 876.2L444.6 876.2L443.2 876.1L441.7 875.9L440.2 875.6L438.7 875.3L437.2 874.8L435.7 874.3L434.2 873.7L432.7 873.1L431.2 872.4L429.7 871.6L428.1 870.7L426.6 869.7L425.1 868.7L423.6 867.6L422.1 866.5L420.6 865.3L419.2 864.0L417.7 862.7L416.3 861.2L414.8 859.8L413.4 858.3L412.1 856.7L410.7 855.0L409.4 853.3L408.1 851.6L406.8 849.8L405.5 848.0L404.3 846.1L403.1 844.2L402.0 842.2L400.9 840.2L399.8 838.2L398.8 836.2L397.8 834.1L396.8 832.0L395.9 829.8L395.0 827.7L394.2 825.5L393.4 823.3L392.7 821.1L392.0 818.9L391.3 816.6L390.7 814.4L390.2 812.1L389.7 809.9L389.3 807.7L388.9 805.4L388.5 803.2L388.2 801.0L388.0 798.8L387.8 796.6L387.7 794.5L387.6 792.3L387.6 790.2L387.6 788.1L387.7 786.1L387.8 784.0L388.0 782.1L388.2 780.1L388.5 778.2L388.9 776.3L389.3 774.5L389.7 772.7L390.2 770.9L390.7 769.3L391.3 767.6L392.0 766.0L392.7 764.5L393.4 763.0L394.2 761.6L395.0 760.3L395.9 759.0L396.8 757.8L397.8 756.6L398.8 755.5L399.8 754.5L400.9 753.6L402.0 752.7L403.1 751.9L404.3 751.2L405.5 750.5L406.8 749.9L408.1 749.4L409.4 749.0L410.7 748.7L412.1 748.4L413.4 748.2L414.8 748.1L416.3 748.0L417.7 748.1L419.2 748.2L420.6 748.4L422.1 748.6L423.6 749.0L425.1 749.4L426.6 749.9L428.1 750.5L429.7 751.2L431.2 751.9L432.7 752.7L434.2 753.6L435.7 754.5L437.2 755.5L438.7 756.6L440.2 757.8L441.7 759.0L443.2 760.3L444.6 761.6L446.1 763.0L447.5 764.5L448.9 766.0L450.3 767.6L451.6 769.2L453.0 770.9L454.3 772.6L455.6 774.4L456.8 776.3L458.0 778.1L459.2 780.1L460.3 782.0L461.5 784.0L462.5 786.0L463.6 788.1L464.6 790.2L465.5 792.3L466.4 794.4L467.3 796.6L468.1 798.8L468.9 801.0L469.7 803.2L470.4 805.4L471.0 807.6L471.6 809.9L472.1 812.1L472.6 814.3L473.1 816.6L473.5 818.8L473.8 821.0L474.1 823.2L474.4 825.4L474.5 827.6L474.7 829.8L474.7 831.9L474.8 834.0Z" stroke-width="1.7" />
<path d="M479.3 831.9L479.3 834.0L479.2 836.0L479.1 838.1L478.9 840.1L478.6 842.0L478.3 843.9L478.0 845.8L477.6 847.7L477.2 849.4L476.7 851.2L476.1 852.9L475.5 854.5L474.9 856.1L474.2 857.6L473.5 859.1L472.7 860.5L471.8 861.8L471.0 863.1L470.1 864.3L469.1 865.5L468.1 866.6L467.1 867.6L466.0 868.5L464.9 869.4L463.7 870.2L462.5 871.0L461.3 871.6L460.1 872.2L458.8 872.7L457.5 873.1L456.2 873.5L454.8 873.7L453.4 873.9L452.0 874.1L450.6 874.1L449.2 874.1L447.7 873.9L446.2 873.8L444.8 873.5L443.3 873.1L441.8 872.7L440.3 872.2L438.7 871.6L437.2 871.0L435.7 870.2L434.2 869.4L432.7 868.6L431.1 867.6L429.6 866.6L428.1 865.5L426.6 864.4L425.2 863.2L423.7 861.9L422.2 860.5L420.8 859.1L419.4 857.7L418.0 856.1L416.6 854.5L415.2 852.9L413.9 851.2L412.6 849.5L411.3 847.7L410.1 845.9L408.9 844.0L407.7 842.1L406.5 840.1L405.4 838.1L404.3 836.1L403.3 834.0L402.3 831.9L401.3 829.8L400.4 827.7L399.6 825.5L398.7 823.4L397.9 821.2L397.2 818.9L396.5 816.7L395.9 814.5L395.3 812.3L394.7 810.0L394.2 807.8L393.8 805.6L393.4 803.3L393.1 801.1L392.8 798.9L392.5 796.7L392.3 794.5L392.2 792.4L392.1 790.2L392.1 788.1L392.1 786.0L392.2 784.0L392.3 781.9L392.5 779.9L392.8 778.0L393.1 776.1L393.4 774.2L393.8 772.3L394.2 770.6L394.7 768.8L395.3 767.1L395.9 765.5L396.5 763.9L397.2 762.4L397.9 760.9L398.7 759.5L399.6 758.2L400.4 756.9L401.3 755.7L402.3 754.5L403.3 753.4L404.3 752.4L405.4 751.5L406.5 750.6L407.7 749.8L408.9 749.0L410.1 748.4L411.3 747.8L412.6 747.3L413.9 746.9L415.2 746.5L416.6 746.3L418.0 746.1L419.4 745.9L420.8 745.9L422.2 745.9L423.7 746.1L425.2 746.2L426.6 746.5L428.1 746.9L429.6 747.3L431.1 747.8L432.7 748.4L434.2 749.0L435.7 749.8L437.2 750.6L438.7 751.4L440.3 752.4L441.8 753.4L443.3 754.5L444.8 755.6L446.2 756.8L447.7 758.1L449.2 759.5L450.6 760.9L452.0 762.3L453.4 763.9L454.8 765.5L456.2 767.1L457.5 768.8L458.8 770.5L460.1 772.3L461.3 774.1L462.5 776.0L463.7 777.9L464.9 779.9L466.0 781.9L467.1 783.9L468.1 786.0L469.1 788.1L470.1 790.2L471.0 792.3L471.8 794.5L472.7 796.6L473.5 798.8L474.2 801.1L474.9 803.3L475.5 805.5L476.1 807.7L476.7 810.0L477.2 812.2L477.6 814.4L478.0 816.7L478.3 818.9L478.6 821.1L478.9 823.3L479.1 825.5L479.2 827.6L479.3 829.8L479.3 831.9Z" stroke-width="1.7" />
<path d="M483.8 829.8L483.8 831.9L483.7 833.9L483.6 836.0L483.4 837.9L483.2 839.9L482.9 841.8L482.5 843.7L482.1 845.5L481.7 847.3L481.2 849.1L480.7 850.7L480.1 852.4L479.4 854.0L478.7 855.5L478.0 857.0L477.2 858.4L476.4 859.7L475.5 861.0L474.6 862.2L473.6 863.4L472.6 864.5L471.6 865.5L470.5 866.4L469.4 867.3L468.3 868.1L467.1 868.8L465.9 869.5L464.6 870.1L463.3 870.6L462.0 871.0L460.7 871.3L459.3 871.6L458.0 871.8L456.6 871.9L455.1 872.0L453.7 871.9L452.2 871.8L450.8 871.6L449.3 871.4L447.8 871.0L446.3 870.6L444.8 870.1L443.3 869.5L441.7 868.8L440.2 868.1L438.7 867.3L437.2 866.4L435.7 865.5L434.2 864.5L432.7 863.4L431.2 862.2L429.7 861.0L428.2 859.7L426.8 858.4L425.3 857.0L423.9 855.5L422.5 854.0L421.1 852.4L419.8 850.8L418.4 849.1L417.1 847.4L415.8 845.6L414.6 843.7L413.4 841.9L412.2 839.9L411.1 838.0L409.9 836.0L408.9 834.0L407.8 831.9L406.8 829.8L405.9 827.7L405.0 825.6L404.1 823.4L403.3 821.2L402.5 819.0L401.7 816.8L401.0 814.6L400.4 812.4L399.8 810.1L399.3 807.9L398.8 805.7L398.3 803.4L397.9 801.2L397.6 799.0L397.3 796.8L397.0 794.6L396.9 792.4L396.7 790.2L396.7 788.1L396.6 786.0L396.7 783.9L396.7 781.8L396.9 779.8L397.0 777.8L397.3 775.8L397.6 773.9L397.9 772.1L398.3 770.2L398.8 768.4L399.3 766.7L399.8 765.0L400.4 763.4L401.0 761.8L401.7 760.3L402.5 758.8L403.3 757.4L404.1 756.0L405.0 754.7L405.9 753.5L406.8 752.4L407.8 751.3L408.9 750.3L409.9 749.3L411.1 748.5L412.2 747.6L413.4 746.9L414.6 746.3L415.8 745.7L417.1 745.2L418.4 744.8L419.8 744.4L421.1 744.1L422.5 743.9L423.9 743.8L425.3 743.8L426.8 743.8L428.2 743.9L429.7 744.1L431.2 744.4L432.7 744.7L434.2 745.2L435.7 745.7L437.2 746.3L438.7 746.9L440.2 747.6L441.7 748.4L443.3 749.3L444.8 750.3L446.3 751.3L447.8 752.4L449.3 753.5L450.8 754.7L452.2 756.0L453.7 757.3L455.1 758.8L456.6 760.2L458.0 761.7L459.3 763.3L460.7 765.0L462.0 766.7L463.3 768.4L464.6 770.2L465.9 772.0L467.1 773.9L468.3 775.8L469.4 777.8L470.5 779.8L471.6 781.8L472.6 783.8L473.6 785.9L474.6 788.0L475.5 790.2L476.4 792.3L477.2 794.5L478.0 796.7L478.7 798.9L479.4 801.1L480.1 803.4L480.7 805.6L481.2 807.9L481.7 810.1L482.1 812.3L482.5 814.6L482.9 816.8L483.2 819.0L483.4 821.2L483.6 823.4L483.7 825.5L483.8 827.7L483.8 829.8Z" stroke-width="1.7" />
<path d="M490.2 826.8L490.1 828.9L490.1 830.9L489.9 833.0L489.7 835.0L489.5 836.9L489.2 838.8L488.9 840.7L488.5 842.6L488.0 844.3L487.5 846.1L487.0 847.8L486.4 849.4L485.7 851.0L485.1 852.5L484.3 854.0L483.5 855.4L482.7 856.7L481.8 858.0L480.9 859.2L480.0 860.4L479.0 861.5L477.9 862.5L476.8 863.4L475.7 864.3L474.6 865.1L473.4 865.9L472.2 866.5L470.9 867.1L469.7 867.6L468.4 868.0L467.0 868.4L465.7 868.6L464.3 868.8L462.9 869.0L461.5 869.0L460.0 869.0L458.6 868.8L457.1 868.7L455.6 868.4L454.1 868.0L452.6 867.6L451.1 867.1L449.6 866.5L448.1 865.9L446.6 865.1L445.0 864.3L443.5 863.5L442.0 862.5L440.5 861.5L439.0 860.4L437.5 859.3L436.0 858.1L434.5 856.8L433.1 855.4L431.6 854.0L430.2 852.6L428.8 851.0L427.4 849.4L426.1 847.8L424.8 846.1L423.5 844.4L422.2 842.6L420.9 840.8L419.7 838.9L418.5 837.0L417.4 835.0L416.3 833.0L415.2 831.0L414.2 828.9L413.2 826.8L412.2 824.7L411.3 822.6L410.4 820.4L409.6 818.3L408.8 816.1L408.1 813.8L407.4 811.6L406.7 809.4L406.1 807.2L405.6 804.9L405.1 802.7L404.6 800.5L404.3 798.2L403.9 796.0L403.6 793.8L403.4 791.6L403.2 789.4L403.1 787.3L403.0 785.1L403.0 783.0L403.0 780.9L403.1 778.9L403.2 776.8L403.4 774.8L403.6 772.9L403.9 771.0L404.3 769.1L404.6 767.2L405.1 765.5L405.6 763.7L406.1 762.0L406.7 760.4L407.4 758.8L408.1 757.3L408.8 755.8L409.6 754.4L410.4 753.1L411.3 751.8L412.2 750.6L413.2 749.4L414.2 748.3L415.2 747.3L416.3 746.4L417.4 745.5L418.5 744.7L419.7 743.9L420.9 743.3L422.2 742.7L423.5 742.2L424.8 741.8L426.1 741.4L427.4 741.2L428.8 741.0L430.2 740.8L431.6 740.8L433.1 740.8L434.5 741.0L436.0 741.1L437.5 741.4L439.0 741.8L440.5 742.2L442.0 742.7L443.5 743.3L445.0 743.9L446.6 744.7L448.1 745.5L449.6 746.3L451.1 747.3L452.6 748.3L454.1 749.4L455.6 750.5L457.1 751.7L458.6 753.0L460.0 754.4L461.5 755.8L462.9 757.2L464.3 758.8L465.7 760.4L467.0 762.0L468.4 763.7L469.7 765.4L470.9 767.2L472.2 769.0L473.4 770.9L474.6 772.8L475.7 774.8L476.8 776.8L477.9 778.8L479.0 780.9L480.0 783.0L480.9 785.1L481.8 787.2L482.7 789.4L483.5 791.5L484.3 793.7L485.1 796.0L485.7 798.2L486.4 800.4L487.0 802.6L487.5 804.9L488.0 807.1L488.5 809.3L488.9 811.6L489.2 813.8L489.5 816.0L489.7 818.2L489.9 820.4L490.1 822.5L490.1 824.7L490.2 826.8Z" stroke-width="1.9" />
</g>
<path d="M392.1 658.0L392.3 655.0L392.8 652.1L393.6 649.2L394.8 646.3L396.3 643.4L398.1 640.5L400.3 637.8L402.7 635.0L405.5 632.3L408.6 629.8L411.9 627.2L415.6 624.8L419.5 622.4L423.6 620.2L428.1 618.0L432.7 616.0L437.6 614.1L442.7 612.3L448.0 610.6L453.5 609.1L459.1 607.7L465.0 606.4L470.9 605.3L477.0 604.3L483.1 603.4L489.4 602.7L495.7 602.2L502.1 601.8L508.5 601.6L514.9 601.5L521.3 601.6L527.7 601.8L534.1 602.2L540.4 602.7L546.7 603.4L552.8 604.3L558.9 605.3L564.8 606.4L570.7 607.7L576.3 609.1L581.8 610.6L587.1 612.3L592.2 614.1L597.1 616.0L601.7 618.0L606.2 620.2L610.3 622.4L614.2 624.8L617.9 627.2L621.2 629.8L624.3 632.3L627.1 635.0L629.5 637.8L631.7 640.5L633.5 643.4L635.0 646.3L636.2 649.2L637.0 652.1L637.5 655.0L637.7 658.0L637.7 670.5L637.5 673.5L637.0 676.4L636.2 679.3L635.0 682.2L633.5 685.1L631.7 688.0L629.5 690.7L627.1 693.5L624.3 696.2L621.2 698.8L617.9 701.3L614.2 703.7L610.3 706.1L606.2 708.3L601.7 710.5L597.1 712.5L592.2 714.4L587.1 716.2L581.8 717.9L576.3 719.4L570.7 720.8L564.8 722.1L558.9 723.2L552.8 724.2L546.7 725.1L540.4 725.8L534.1 726.3L527.7 726.7L521.3 726.9L514.9 727.0L508.5 726.9L502.1 726.7L495.7 726.3L489.4 725.8L483.1 725.1L477.0 724.2L470.9 723.2L465.0 722.1L459.1 720.8L453.5 719.4L448.0 717.9L442.7 716.2L437.6 714.4L432.7 712.5L428.1 710.5L423.6 708.3L419.5 706.1L415.6 703.7L411.9 701.3L408.6 698.8L405.5 696.2L402.7 693.5L400.3 690.7L398.1 688.0L396.3 685.1L394.8 682.2L393.6 679.3L392.8 676.4L392.3 673.5L392.1 670.5Z" fill="url(#bg)" stroke="none"/>
<path d="M637.7 658.0L637.6 660.0L637.4 661.9L637.0 663.9L636.5 665.9L635.8 667.8L635.0 669.7L634.1 671.7L632.9 673.6L631.7 675.5L630.3 677.3L628.8 679.2L627.1 681.0L625.3 682.8L623.3 684.5L621.2 686.2L619.0 687.9L616.7 689.6L614.2 691.2L611.7 692.8L609.0 694.3L606.2 695.8L603.2 697.2L600.2 698.6L597.1 700.0L593.8 701.3L590.5 702.5L587.1 703.7L583.6 704.8L580.0 705.9L576.3 706.9L572.6 707.9L568.7 708.8L564.8 709.6L560.9 710.4L556.9 711.1L552.8 711.7L548.7 712.3L544.6 712.8L540.4 713.3L536.2 713.6L532.0 714.0L527.7 714.2L523.5 714.4L519.2 714.5L514.9 714.5L510.6 714.5L506.3 714.4L502.1 714.2L497.8 714.0L493.6 713.6L489.4 713.3L485.2 712.8L481.1 712.3L477.0 711.7L472.9 711.1L468.9 710.4L465.0 709.6L461.1 708.8L457.2 707.9L453.5 706.9L449.8 705.9L446.2 704.8L442.7 703.7L439.3 702.5L436.0 701.3L432.7 700.0L429.6 698.6L426.6 697.2L423.6 695.8L420.8 694.3L418.1 692.8L415.6 691.2L413.1 689.6L410.8 687.9L408.6 686.2L406.5 684.5L404.5 682.8L402.7 681.0L401.0 679.2L399.5 677.3L398.1 675.5L396.9 673.6L395.7 671.7L394.8 669.7L394.0 667.8L393.3 665.9L392.8 663.9L392.4 661.9L392.2 660.0L392.1 658.0L392.2 656.0L392.4 654.1L392.8 652.1L393.3 650.1L394.0 648.2L394.8 646.3L395.7 644.3L396.9 642.4L398.1 640.5L399.5 638.7L401.0 636.8L402.7 635.0L404.5 633.2L406.5 631.5L408.6 629.8L410.8 628.1L413.1 626.4L415.6 624.8L418.1 623.2L420.8 621.7L423.6 620.2L426.6 618.8L429.6 617.4L432.7 616.0L436.0 614.7L439.3 613.5L442.7 612.3L446.2 611.2L449.8 610.1L453.5 609.1L457.2 608.1L461.1 607.2L465.0 606.4L468.9 605.6L472.9 604.9L477.0 604.3L481.1 603.7L485.2 603.2L489.4 602.7L493.6 602.4L497.8 602.0L502.1 601.8L506.3 601.6L510.6 601.5L514.9 601.5L519.2 601.5L523.5 601.6L527.7 601.8L532.0 602.0L536.2 602.4L540.4 602.7L544.6 603.2L548.7 603.7L552.8 604.3L556.9 604.9L560.9 605.6L564.8 606.4L568.7 607.2L572.6 608.1L576.3 609.1L580.0 610.1L583.6 611.2L587.1 612.3L590.5 613.5L593.8 614.7L597.1 616.0L600.2 617.4L603.2 618.8L606.2 620.2L609.0 621.7L611.7 623.2L614.2 624.8L616.7 626.4L619.0 628.1L621.2 629.8L623.3 631.5L625.3 633.2L627.1 635.0L628.8 636.8L630.3 638.7L631.7 640.5L632.9 642.4L634.1 644.3L635.0 646.3L635.8 648.2L636.5 650.1L637.0 652.1L637.4 654.1L637.6 656.0L637.7 658.0Z" stroke-width="2.2" />
<path d="M637.7 670.5L637.5 673.5L637.0 676.4L636.2 679.3L635.0 682.2L633.5 685.1L631.7 688.0L629.5 690.7L627.1 693.5L624.3 696.2L621.2 698.8L617.9 701.3L614.2 703.7L610.3 706.1L606.2 708.3L601.7 710.5L597.1 712.5L592.2 714.4L587.1 716.2L581.8 717.9L576.3 719.4L570.7 720.8L564.8 722.1L558.9 723.2L552.8 724.2L546.7 725.1L540.4 725.8L534.1 726.3L527.7 726.7L521.3 726.9L514.9 727.0L508.5 726.9L502.1 726.7L495.7 726.3L489.4 725.8L483.1 725.1L477.0 724.2L470.9 723.2L465.0 722.1L459.1 720.8L453.5 719.4L448.0 717.9L442.7 716.2L437.6 714.4L432.7 712.5L428.1 710.5L423.6 708.3L419.5 706.1L415.6 703.7L411.9 701.3L408.6 698.8L405.5 696.2L402.7 693.5L400.3 690.7L398.1 688.0L396.3 685.1L394.8 682.2L393.6 679.3L392.8 676.4L392.3 673.5L392.1 670.5" stroke-width="2.2" />
<path d="M392.1 658.0L392.1 670.5" stroke-width="2.2" />
<path d="M637.7 658.0L637.7 670.5" stroke-width="2.2" />
<path d="M410.3 621.0L410.3 651.0L619.3 651.0L619.3 621.0Z" fill="url(#bg)" stroke="none"/>
<path d="M488.2 583.7L486.3 576.7L486.3 606.7L488.2 613.7Z" fill="url(#bg)" stroke="none"/>
<path d="M488.2 583.7L488.2 613.7L486.3 606.7L486.3 576.7" stroke-width="1.5" />
<path d="M547.8 577.4L545.2 584.3L545.2 614.3L547.8 607.4Z" fill="url(#bg)" stroke="none"/>
<path d="M547.8 577.4L547.8 607.4L545.2 614.3L545.2 584.3" stroke-width="1.5" />
<path d="M473.9 586.3L469.3 579.6L469.3 609.6L473.9 616.3Z" fill="url(#bg)" stroke="none"/>
<path d="M473.9 586.3L473.9 616.3L469.3 609.6L469.3 579.6" stroke-width="1.5" />
<path d="M564.5 580.5L559.2 587.1L559.2 617.1L564.5 610.5Z" fill="url(#bg)" stroke="none"/>
<path d="M564.5 580.5L564.5 610.5L559.2 617.1L559.2 587.1" stroke-width="1.5" />
<path d="M460.8 589.9L453.7 583.7L453.7 613.7L460.8 619.9Z" fill="url(#bg)" stroke="none"/>
<path d="M460.8 589.9L460.8 619.9L453.7 613.7L453.7 583.7" stroke-width="1.5" />
<path d="M579.7 585.0L571.9 591.0L571.9 621.0L579.7 615.0Z" fill="url(#bg)" stroke="none"/>
<path d="M579.7 585.0L579.7 615.0L571.9 621.0L571.9 591.0" stroke-width="1.5" />
<path d="M449.4 594.5L439.9 588.9L439.9 618.9L449.4 624.5Z" fill="url(#bg)" stroke="none"/>
<path d="M449.4 594.5L449.4 624.5L439.9 618.9L439.9 588.9" stroke-width="1.5" />
<path d="M592.9 590.5L582.8 595.9L582.8 625.9L592.9 620.5Z" fill="url(#bg)" stroke="none"/>
<path d="M592.9 590.5L592.9 620.5L582.8 625.9L582.8 595.9" stroke-width="1.5" />
<path d="M440.0 599.9L428.4 595.1L428.4 625.1L440.0 629.9Z" fill="url(#bg)" stroke="none"/>
<path d="M440.0 599.9L440.0 629.9L428.4 625.1L428.4 595.1" stroke-width="1.5" />
<path d="M603.8 596.9L591.7 601.4L591.7 631.4L603.8 626.9Z" fill="url(#bg)" stroke="none"/>
<path d="M603.8 596.9L603.8 626.9L591.7 631.4L591.7 601.4" stroke-width="1.5" />
<path d="M432.8 606.0L419.5 602.1L419.5 632.1L432.8 636.0Z" fill="url(#bg)" stroke="none"/>
<path d="M432.8 606.0L432.8 636.0L419.5 632.1L419.5 602.1" stroke-width="1.5" />
<path d="M612.0 604.1L598.3 607.6L598.3 637.6L612.0 634.1Z" fill="url(#bg)" stroke="none"/>
<path d="M612.0 604.1L612.0 634.1L598.3 637.6L598.3 607.6" stroke-width="1.5" />
<path d="M428.1 612.5L413.5 609.7L413.5 639.7L428.1 642.5Z" fill="url(#bg)" stroke="none"/>
<path d="M428.1 612.5L428.1 642.5L413.5 639.7L413.5 609.7" stroke-width="1.5" />
<path d="M617.2 611.8L602.3 614.2L602.3 644.2L617.2 641.8Z" fill="url(#bg)" stroke="none"/>
<path d="M617.2 611.8L617.2 641.8L602.3 644.2L602.3 614.2" stroke-width="1.5" />
<path d="M426.1 619.2L410.6 617.6L410.6 647.6L426.1 649.2Z" fill="url(#bg)" stroke="none"/>
<path d="M426.1 619.2L426.1 649.2L410.6 647.6L410.6 617.6" stroke-width="1.5" />
<path d="M619.3 619.7L603.6 621.0L603.6 651.0L619.3 649.7Z" fill="url(#bg)" stroke="none"/>
<path d="M619.3 619.7L619.3 649.7L603.6 651.0L603.6 621.0" stroke-width="1.5" />
<path d="M603.6 621.0L603.6 622.4L603.6 652.4L603.6 651.0Z" fill="url(#bg)" stroke="none"/>
<path d="M603.6 621.0L603.6 651.0L603.6 652.4L603.6 622.4" stroke-width="1.5" />
<path d="M603.6 622.4L603.5 622.8L603.5 652.8L603.6 652.4Z" fill="url(#bg)" stroke="none"/>
<path d="M603.6 622.4L603.6 652.4L603.5 652.8L603.5 622.8" stroke-width="1.5" />
<path d="M410.8 625.6L410.3 622.3L410.3 652.3L410.8 655.6Z" fill="url(#bg)" stroke="none"/>
<path d="M410.8 625.6L410.8 655.6L410.3 652.3L410.3 622.3" stroke-width="1.5" />
<path d="M426.7 626.0L410.8 625.6L410.8 655.6L426.7 656.0Z" fill="url(#bg)" stroke="none"/>
<path d="M426.7 626.0L426.7 656.0L410.8 655.6L410.8 625.6" stroke-width="1.5" />
<path d="M619.0 624.4L618.2 627.7L618.2 657.7L619.0 654.4Z" fill="url(#bg)" stroke="none"/>
<path d="M619.0 624.4L619.0 654.4L618.2 657.7L618.2 627.7" stroke-width="1.5" />
<path d="M426.8 626.4L426.7 626.0L426.7 656.0L426.8 656.4Z" fill="url(#bg)" stroke="none"/>
<path d="M426.8 626.4L426.8 656.4L426.7 656.0L426.7 626.0" stroke-width="1.5" />
<path d="M427.3 627.8L426.8 626.4L426.8 656.4L427.3 657.8Z" fill="url(#bg)" stroke="none"/>
<path d="M427.3 627.8L427.3 657.8L426.8 656.4L426.8 626.4" stroke-width="1.5" />
<path d="M618.2 627.7L602.3 627.8L602.3 657.8L618.2 657.7Z" fill="url(#bg)" stroke="none"/>
<path d="M618.2 627.7L618.2 657.7L602.3 657.8L602.3 627.8" stroke-width="1.5" />
<path d="M602.3 627.8L601.7 629.1L601.7 659.1L602.3 657.8Z" fill="url(#bg)" stroke="none"/>
<path d="M602.3 627.8L602.3 657.8L601.7 659.1L601.7 629.1" stroke-width="1.5" />
<path d="M601.7 629.1L601.5 629.5L601.5 659.5L601.7 659.1Z" fill="url(#bg)" stroke="none"/>
<path d="M601.7 629.1L601.7 659.1L601.5 659.5L601.5 629.5" stroke-width="1.5" />
<path d="M414.2 633.5L412.4 630.2L412.4 660.2L414.2 663.5Z" fill="url(#bg)" stroke="none"/>
<path d="M414.2 633.5L414.2 663.5L412.4 660.2L412.4 630.2" stroke-width="1.5" />
<path d="M430.3 633.1L430.0 632.7L430.0 662.7L430.3 663.1Z" fill="url(#bg)" stroke="none"/>
<path d="M430.3 633.1L430.3 663.1L430.0 662.7L430.0 632.7" stroke-width="1.5" />
<path d="M430.0 632.7L414.2 633.5L414.2 663.5L430.0 662.7Z" fill="url(#bg)" stroke="none"/>
<path d="M430.0 632.7L430.0 662.7L414.2 663.5L414.2 633.5" stroke-width="1.5" />
<path d="M431.3 634.4L430.3 633.1L430.3 663.1L431.3 664.4Z" fill="url(#bg)" stroke="none"/>
<path d="M431.3 634.4L431.3 664.4L430.3 663.1L430.3 633.1" stroke-width="1.5" />
<path d="M616.1 632.3L614.0 635.5L614.0 665.5L616.1 662.3Z" fill="url(#bg)" stroke="none"/>
<path d="M616.1 632.3L616.1 662.3L614.0 665.5L614.0 635.5" stroke-width="1.5" />
<path d="M614.0 635.5L598.3 634.4L598.3 664.4L614.0 665.5Z" fill="url(#bg)" stroke="none"/>
<path d="M614.0 635.5L614.0 665.5L598.3 664.4L598.3 634.4" stroke-width="1.5" />
<path d="M598.3 634.4L597.2 635.6L597.2 665.6L598.3 664.4Z" fill="url(#bg)" stroke="none"/>
<path d="M598.3 634.4L598.3 664.4L597.2 665.6L597.2 635.6" stroke-width="1.5" />
<path d="M597.2 635.6L596.8 636.0L596.8 666.0L597.2 665.6Z" fill="url(#bg)" stroke="none"/>
<path d="M597.2 635.6L597.2 665.6L596.8 666.0L596.8 636.0" stroke-width="1.5" />
<path d="M436.4 639.4L435.9 639.0L435.9 669.0L436.4 669.4Z" fill="url(#bg)" stroke="none"/>
<path d="M436.4 639.4L436.4 669.4L435.9 669.0L435.9 639.0" stroke-width="1.5" />
<path d="M420.7 641.0L417.6 637.9L417.6 667.9L420.7 671.0Z" fill="url(#bg)" stroke="none"/>
<path d="M420.7 641.0L420.7 671.0L417.6 667.9L417.6 637.9" stroke-width="1.5" />
<path d="M437.9 640.5L436.4 639.4L436.4 669.4L437.9 670.5Z" fill="url(#bg)" stroke="none"/>
<path d="M437.9 640.5L437.9 670.5L436.4 669.4L436.4 639.4" stroke-width="1.5" />
<path d="M435.9 639.0L420.7 641.0L420.7 671.0L435.9 669.0Z" fill="url(#bg)" stroke="none"/>
<path d="M435.9 639.0L435.9 669.0L420.7 671.0L420.7 641.0" stroke-width="1.5" />
<path d="M591.7 640.5L590.1 641.7L590.1 671.7L591.7 670.5Z" fill="url(#bg)" stroke="none"/>
<path d="M591.7 640.5L591.7 670.5L590.1 671.7L590.1 641.7" stroke-width="1.5" />
<path d="M610.1 639.9L606.7 642.9L606.7 672.9L610.1 669.9Z" fill="url(#bg)" stroke="none"/>
<path d="M610.1 639.9L610.1 669.9L606.7 672.9L606.7 642.9" stroke-width="1.5" />
<path d="M606.7 642.9L591.7 640.5L591.7 670.5L606.7 672.9Z" fill="url(#bg)" stroke="none"/>
<path d="M606.7 642.9L606.7 672.9L591.7 670.5L591.7 640.5" stroke-width="1.5" />
<path d="M590.1 641.7L589.6 642.1L589.6 672.1L590.1 671.7Z" fill="url(#bg)" stroke="none"/>
<path d="M590.1 641.7L590.1 671.7L589.6 672.1L589.6 642.1" stroke-width="1.5" />
<path d="M444.8 645.1L444.2 644.7L444.2 674.7L444.8 675.1Z" fill="url(#bg)" stroke="none"/>
<path d="M444.8 645.1L444.8 675.1L444.2 674.7L444.2 644.7" stroke-width="1.5" />
<path d="M446.8 646.1L444.8 645.1L444.8 675.1L446.8 676.1Z" fill="url(#bg)" stroke="none"/>
<path d="M446.8 646.1L446.8 676.1L444.8 675.1L444.8 645.1" stroke-width="1.5" />
<path d="M444.2 644.7L430.0 647.9L430.0 677.9L444.2 674.7Z" fill="url(#bg)" stroke="none"/>
<path d="M444.2 644.7L444.2 674.7L430.0 677.9L430.0 647.9" stroke-width="1.5" />
<path d="M430.0 647.9L425.8 645.1L425.8 675.1L430.0 677.9Z" fill="url(#bg)" stroke="none"/>
<path d="M430.0 647.9L430.0 677.9L425.8 675.1L425.8 645.1" stroke-width="1.5" />
<path d="M582.8 646.1L580.8 647.2L580.8 677.2L582.8 676.1Z" fill="url(#bg)" stroke="none"/>
<path d="M582.8 646.1L582.8 676.1L580.8 677.2L580.8 647.2" stroke-width="1.5" />
<path d="M580.8 647.2L580.2 647.5L580.2 677.5L580.8 677.2Z" fill="url(#bg)" stroke="none"/>
<path d="M580.8 647.2L580.8 677.2L580.2 677.5L580.2 647.5" stroke-width="1.5" />
<path d="M596.7 649.6L582.8 646.1L582.8 676.1L596.7 679.6Z" fill="url(#bg)" stroke="none"/>
<path d="M596.7 649.6L596.7 679.6L582.8 676.1L582.8 646.1" stroke-width="1.5" />
<path d="M601.2 646.9L596.7 649.6L596.7 679.6L601.2 676.9Z" fill="url(#bg)" stroke="none"/>
<path d="M601.2 646.9L601.2 676.9L596.7 679.6L596.7 649.6" stroke-width="1.5" />
<path d="M455.4 650.1L454.7 649.8L454.7 679.8L455.4 680.1Z" fill="url(#bg)" stroke="none"/>
<path d="M455.4 650.1L455.4 680.1L454.7 679.8L454.7 649.8" stroke-width="1.5" />
<path d="M457.7 651.0L455.4 650.1L455.4 680.1L457.7 681.0Z" fill="url(#bg)" stroke="none"/>
<path d="M457.7 651.0L457.7 681.0L455.4 680.1L455.4 650.1" stroke-width="1.5" />
<path d="M571.9 651.0L569.5 651.8L569.5 681.8L571.9 681.0Z" fill="url(#bg)" stroke="none"/>
<path d="M571.9 651.0L571.9 681.0L569.5 681.8L569.5 651.8" stroke-width="1.5" />
<path d="M454.7 649.8L441.9 654.0L441.9 684.0L454.7 679.8Z" fill="url(#bg)" stroke="none"/>
<path d="M454.7 649.8L454.7 679.8L441.9 684.0L441.9 654.0" stroke-width="1.5" />
<path d="M569.5 651.8L568.8 652.1L568.8 682.1L569.5 681.8Z" fill="url(#bg)" stroke="none"/>
<path d="M569.5 651.8L569.5 681.8L568.8 682.1L568.8 652.1" stroke-width="1.5" />
<path d="M441.9 654.0L436.7 651.5L436.7 681.5L441.9 684.0Z" fill="url(#bg)" stroke="none"/>
<path d="M441.9 654.0L441.9 684.0L436.7 681.5L436.7 651.5" stroke-width="1.5" />
<path d="M584.2 655.4L571.9 651.0L571.9 681.0L584.2 685.4Z" fill="url(#bg)" stroke="none"/>
<path d="M584.2 655.4L584.2 685.4L571.9 681.0L571.9 651.0" stroke-width="1.5" />
<path d="M467.7 654.2L466.9 653.9L466.9 683.9L467.7 684.2Z" fill="url(#bg)" stroke="none"/>
<path d="M467.7 654.2L467.7 684.2L466.9 683.9L466.9 653.9" stroke-width="1.5" />
<path d="M589.7 653.1L584.2 655.4L584.2 685.4L589.7 683.1Z" fill="url(#bg)" stroke="none"/>
<path d="M589.7 653.1L589.7 683.1L584.2 685.4L584.2 655.4" stroke-width="1.5" />
<path d="M470.4 654.9L467.7 654.2L467.7 684.2L470.4 684.9Z" fill="url(#bg)" stroke="none"/>
<path d="M470.4 654.9L470.4 684.9L467.7 684.2L467.7 654.2" stroke-width="1.5" />
<path d="M559.2 654.9L556.5 655.5L556.5 685.5L559.2 684.9Z" fill="url(#bg)" stroke="none"/>
<path d="M559.2 654.9L559.2 684.9L556.5 685.5L556.5 655.5" stroke-width="1.5" />
<path d="M556.5 655.5L555.7 655.7L555.7 685.7L556.5 685.5Z" fill="url(#bg)" stroke="none"/>
<path d="M556.5 655.5L556.5 685.5L555.7 685.7L555.7 655.7" stroke-width="1.5" />
<path d="M466.9 653.9L456.1 659.0L456.1 689.0L466.9 683.9Z" fill="url(#bg)" stroke="none"/>
<path d="M466.9 653.9L466.9 683.9L456.1 689.0L456.1 659.0" stroke-width="1.5" />
<path d="M481.5 657.3L480.7 657.1L480.7 687.1L481.5 687.3Z" fill="url(#bg)" stroke="none"/>
<path d="M481.5 657.3L481.5 687.3L480.7 687.1L480.7 657.1" stroke-width="1.5" />
<path d="M484.4 657.7L481.5 657.3L481.5 687.3L484.4 687.7Z" fill="url(#bg)" stroke="none"/>
<path d="M484.4 657.7L484.4 687.7L481.5 687.3L481.5 657.3" stroke-width="1.5" />
<path d="M569.6 660.2L559.2 654.9L559.2 684.9L569.6 690.2Z" fill="url(#bg)" stroke="none"/>
<path d="M569.6 660.2L569.6 690.2L559.2 684.9L559.2 654.9" stroke-width="1.5" />
<path d="M545.2 657.7L542.2 658.2L542.2 688.2L545.2 687.7Z" fill="url(#bg)" stroke="none"/>
<path d="M545.2 657.7L545.2 687.7L542.2 688.2L542.2 658.2" stroke-width="1.5" />
<path d="M456.1 659.0L449.9 657.0L449.9 687.0L456.1 689.0Z" fill="url(#bg)" stroke="none"/>
<path d="M456.1 659.0L456.1 689.0L449.9 687.0L449.9 657.0" stroke-width="1.5" />
<path d="M542.2 658.2L541.4 658.3L541.4 688.3L542.2 688.2Z" fill="url(#bg)" stroke="none"/>
<path d="M542.2 658.2L542.2 688.2L541.4 688.3L541.4 658.3" stroke-width="1.5" />
<path d="M496.3 659.2L495.4 659.2L495.4 689.2L496.3 689.2Z" fill="url(#bg)" stroke="none"/>
<path d="M496.3 659.2L496.3 689.2L495.4 689.2L495.4 659.2" stroke-width="1.5" />
<path d="M575.9 658.3L569.6 660.2L569.6 690.2L575.9 688.3Z" fill="url(#bg)" stroke="none"/>
<path d="M575.9 658.3L575.9 688.3L569.6 690.2L569.6 660.2" stroke-width="1.5" />
<path d="M499.4 659.5L496.3 659.2L496.3 689.2L499.4 689.5Z" fill="url(#bg)" stroke="none"/>
<path d="M499.4 659.5L499.4 689.5L496.3 689.2L496.3 659.2" stroke-width="1.5" />
<path d="M530.2 659.5L527.2 659.7L527.2 689.7L530.2 689.5Z" fill="url(#bg)" stroke="none"/>
<path d="M530.2 659.5L530.2 689.5L527.2 689.7L527.2 659.7" stroke-width="1.5" />
<path d="M527.2 659.7L526.2 659.8L526.2 689.8L527.2 689.7Z" fill="url(#bg)" stroke="none"/>
<path d="M527.2 659.7L527.2 689.7L526.2 689.8L526.2 659.8" stroke-width="1.5" />
<path d="M480.7 657.1L472.0 663.0L472.0 693.0L480.7 687.1Z" fill="url(#bg)" stroke="none"/>
<path d="M480.7 657.1L480.7 687.1L472.0 693.0L472.0 663.0" stroke-width="1.5" />
<path d="M511.7 660.1L510.8 660.1L510.8 690.1L511.7 690.1Z" fill="url(#bg)" stroke="none"/>
<path d="M511.7 660.1L511.7 690.1L510.8 690.1L510.8 660.1" stroke-width="1.5" />
<path d="M514.8 660.1L511.7 660.1L511.7 690.1L514.8 690.1Z" fill="url(#bg)" stroke="none"/>
<path d="M514.8 660.1L514.8 690.1L511.7 690.1L511.7 660.1" stroke-width="1.5" />
<path d="M553.3 663.8L545.2 657.7L545.2 687.7L553.3 693.8Z" fill="url(#bg)" stroke="none"/>
<path d="M553.3 663.8L553.3 693.8L545.2 687.7L545.2 657.7" stroke-width="1.5" />
<path d="M472.0 663.0L465.1 661.5L465.1 691.5L472.0 693.0Z" fill="url(#bg)" stroke="none"/>
<path d="M472.0 663.0L472.0 693.0L465.1 691.5L465.1 661.5" stroke-width="1.5" />
<path d="M495.4 659.2L489.2 665.6L489.2 695.6L495.4 689.2Z" fill="url(#bg)" stroke="none"/>
<path d="M495.4 659.2L495.4 689.2L489.2 695.6L489.2 665.6" stroke-width="1.5" />
<path d="M535.8 666.1L530.2 659.5L530.2 689.5L535.8 696.1Z" fill="url(#bg)" stroke="none"/>
<path d="M535.8 666.1L535.8 696.1L530.2 689.5L530.2 659.5" stroke-width="1.5" />
<path d="M499.5 666.5L499.4 659.5L499.4 689.5L499.5 696.5Z" fill="url(#bg)" stroke="none"/>
<path d="M499.5 666.5L499.5 696.5L499.4 689.5L499.4 659.5" stroke-width="1.5" />
<path d="M560.3 662.4L553.3 663.8L553.3 693.8L560.3 692.4Z" fill="url(#bg)" stroke="none"/>
<path d="M560.3 662.4L560.3 692.4L553.3 693.8L553.3 663.8" stroke-width="1.5" />
<path d="M526.2 659.8L525.4 666.8L525.4 696.8L526.2 689.8Z" fill="url(#bg)" stroke="none"/>
<path d="M526.2 659.8L526.2 689.8L525.4 696.8L525.4 666.8" stroke-width="1.5" />
<path d="M510.8 660.1L507.1 666.9L507.1 696.9L510.8 690.1Z" fill="url(#bg)" stroke="none"/>
<path d="M510.8 660.1L510.8 690.1L507.1 696.9L507.1 666.9" stroke-width="1.5" />
<path d="M517.7 667.0L514.8 660.1L514.8 690.1L517.7 697.0Z" fill="url(#bg)" stroke="none"/>
<path d="M517.7 667.0L517.7 697.0L514.8 690.1L514.8 660.1" stroke-width="1.5" />
<path d="M489.2 665.6L481.8 664.6L481.8 694.6L489.2 695.6Z" fill="url(#bg)" stroke="none"/>
<path d="M489.2 665.6L489.2 695.6L481.8 694.6L481.8 664.6" stroke-width="1.5" />
<path d="M543.3 665.3L535.8 666.1L535.8 696.1L543.3 695.3Z" fill="url(#bg)" stroke="none"/>
<path d="M543.3 665.3L543.3 695.3L535.8 696.1L535.8 666.1" stroke-width="1.5" />
<path d="M507.1 666.9L499.5 666.5L499.5 696.5L507.1 696.9Z" fill="url(#bg)" stroke="none"/>
<path d="M507.1 666.9L507.1 696.9L499.5 696.5L499.5 666.5" stroke-width="1.5" />
<path d="M525.4 666.8L517.7 667.0L517.7 697.0L525.4 696.8Z" fill="url(#bg)" stroke="none"/>
<path d="M525.4 666.8L525.4 696.8L517.7 697.0L517.7 667.0" stroke-width="1.5" />
<path d="M603.6 622.5L603.5 622.6L604.5 622.8L606.4 623.0L609.3 623.4L613.2 623.8L616.1 624.3L617.9 624.9L618.7 625.6L618.5 626.5L617.3 627.1L615.2 627.5L612.2 627.7L608.2 627.8L605.2 627.9L603.2 628.0L602.1 628.3L601.9 628.6L601.8 628.9L601.7 629.1L601.6 629.3L601.6 629.4L602.4 629.6L604.2 630.0L607.0 630.6L610.6 631.3L613.2 632.0L614.8 632.7L615.3 633.5L614.8 634.3L613.4 634.8L611.2 635.1L608.1 635.1L604.2 634.8L601.1 634.7L599.0 634.7L597.9 634.9L597.6 635.2L597.3 635.4L597.2 635.6L597.0 635.8L596.9 635.9L597.7 636.2L599.3 636.7L601.8 637.5L605.1 638.4L607.4 639.3L608.6 640.2L608.8 641.0L608.0 641.7L606.4 642.2L604.1 642.3L601.1 642.0L597.3 641.4L594.4 641.1L592.4 640.9L591.1 641.0L590.7 641.3L590.4 641.5L590.1 641.7L589.9 641.8L589.8 641.9L590.4 642.3L591.8 642.9L594.0 643.9L596.9 645.1L598.8 646.1L599.7 647.1L599.5 647.9L598.4 648.6L596.7 648.8L594.4 648.8L591.5 648.3L588.0 647.4L585.3 646.8L583.3 646.5L582.1 646.5L581.6 646.8L581.2 647.0L580.8 647.2L580.6 647.3L580.4 647.4L580.9 647.8L582.0 648.5L583.8 649.6L586.1 651.0L587.6 652.2L588.1 653.2L587.6 653.9L586.3 654.5L584.5 654.7L582.2 654.4L579.6 653.7L576.5 652.6L574.0 651.8L572.2 651.4L571.0 651.3L570.4 651.5L569.9 651.7L569.5 651.8L569.2 651.9L569.0 652.0L569.3 652.4L570.1 653.2L571.4 654.4L573.2 656.0L574.2 657.3L574.3 658.3L573.5 659.0L571.9 659.5L570.1 659.5L568.0 659.1L565.7 658.2L563.1 656.9L561.0 655.9L559.4 655.3L558.2 655.1L557.5 655.3L557.0 655.4L556.5 655.5L556.2 655.6L556.0 655.6L556.1 656.1L556.6 657.0L557.4 658.2L558.6 659.9L559.0 661.2L558.7 662.2L557.7 662.9L555.9 663.3L554.1 663.1L552.2 662.6L550.2 661.5L548.2 660.0L546.5 658.9L545.1 658.2L544.1 657.9L543.3 658.0L542.7 658.1L542.3 658.2L541.9 658.2L541.7 658.3L541.6 658.7L541.8 659.6L542.1 660.9L542.5 662.7L542.4 664.0L541.7 665.0L540.5 665.6L538.6 665.8L536.9 665.5L535.2 664.8L533.7 663.6L532.3 662.0L531.1 660.7L530.0 660.0L529.1 659.6L528.3 659.6L527.7 659.7L527.2 659.7L526.8 659.7L526.6 659.8L526.4 660.2L526.1 661.1L525.9 662.4L525.7 664.1L525.0 665.5L524.0 666.4L522.5 666.8L520.6 666.9L519.0 666.5L517.6 665.7L516.6 664.4L515.9 662.7L515.2 661.4L514.4 660.5L513.6 660.1L512.9 660.1L512.2 660.1L511.7 660.1L511.4 660.1L511.1 660.1L510.7 660.5L510.1 661.3L509.4 662.6L508.5 664.3L507.4 665.6L505.9 666.4L504.3 666.7L502.4 666.6L501.0 666.1L500.0 665.2L499.5 663.9L499.4 662.1L499.2 660.8L498.8 659.9L498.2 659.4L497.5 659.3L496.8 659.3L496.4 659.2L496.0 659.2L495.8 659.2L495.2 659.6L494.3 660.4L493.1 661.6L491.5 663.2L489.9 664.3L488.2 665.0L486.4 665.2L484.6 665.0L483.4 664.4L482.8 663.4L482.8 662.1L483.4 660.3L483.8 659.0L483.7 658.1L483.3 657.6L482.6 657.4L482.0 657.3L481.5 657.3L481.2 657.2L481.0 657.2L480.3 657.5L479.1 658.2L477.4 659.3L475.2 660.8L473.2 661.8L471.2 662.3L469.4 662.4L467.7 662.0L466.7 661.3L466.5 660.3L467.1 659.0L468.4 657.3L469.2 656.1L469.6 655.1L469.4 654.6L468.7 654.4L468.2 654.3L467.7 654.2L467.4 654.1L467.2 654.0L466.4 654.3L465.0 654.9L462.9 655.9L460.1 657.1L457.7 658.0L455.6 658.4L453.7 658.3L452.2 657.8L451.5 657.0L451.7 656.0L452.8 654.8L454.8 653.2L456.1 652.0L456.8 651.2L456.8 650.6L456.2 650.4L455.8 650.2L455.4 650.1L455.1 650.0L454.9 649.9L454.0 650.1L452.3 650.6L449.9 651.4L446.7 652.4L444.0 653.0L441.7 653.3L440.0 653.1L438.6 652.5L438.3 651.7L438.9 650.7L440.4 649.5L443.0 648.2L444.7 647.1L445.8 646.3L446.0 645.7L445.5 645.5L445.1 645.3L444.8 645.1L444.6 645.0L444.4 644.9L443.5 645.0L441.6 645.4L438.9 645.9L435.4 646.7L432.4 647.1L430.1 647.2L428.5 646.9L427.4 646.2L427.3 645.3L428.3 644.4L430.3 643.4L433.3 642.3L435.5 641.3L436.8 640.6L437.3 640.1L436.9 639.8L436.6 639.6L436.4 639.4L436.2 639.2L436.1 639.1L435.1 639.2L433.1 639.4L430.2 639.8L426.4 640.3L423.4 640.4L421.1 640.3L419.6 639.9L418.8 639.1L419.1 638.3L420.4 637.5L422.8 636.6L426.2 635.7L428.7 635.0L430.3 634.4L431.0 633.9L430.7 633.6L430.5 633.3L430.3 633.1L430.2 632.9L430.1 632.8L429.1 632.8L427.1 632.9L424.1 633.0L420.2 633.2L417.1 633.2L414.9 632.9L413.6 632.3L413.1 631.5L413.7 630.7L415.3 630.0L418.0 629.3L421.7 628.7L424.5 628.2L426.3 627.7L427.1 627.3L427.0 626.9L426.9 626.7L426.8 626.4L426.8 626.3L426.8 626.2L425.7 626.1L423.7 626.0L420.8 625.9L416.8 625.8L413.8 625.5L411.7 625.0L410.6 624.4L410.5 623.5L411.4 622.8L413.3 622.3L416.2 621.8L420.1 621.5L423.0 621.2L425.0 620.8L426.0 620.5L426.0 620.1L426.0 619.9L426.0 619.6L426.0 619.5L426.1 619.4L425.1 619.2L423.2 619.0L420.3 618.6L416.4 618.2L413.5 617.7L411.7 617.1L410.9 616.4L411.1 615.5L412.3 614.9L414.4 614.5L417.4 614.3L421.4 614.2L424.4 614.1L426.4 614.0L427.5 613.7L427.7 613.4L427.8 613.1L427.9 612.9L428.0 612.7L428.0 612.6L427.2 612.4L425.4 612.0L422.6 611.4L419.0 610.7L416.4 610.0L414.8 609.3L414.3 608.5L414.8 607.7L416.2 607.2L418.4 606.9L421.5 606.9L425.4 607.2L428.5 607.3L430.6 607.3L431.7 607.1L432.0 606.8L432.3 606.6L432.4 606.4L432.6 606.2L432.7 606.1L431.9 605.8L430.3 605.3L427.8 604.5L424.5 603.6L422.2 602.7L421.0 601.8L420.8 601.0L421.6 600.3L423.2 599.8L425.5 599.7L428.5 600.0L432.3 600.6L435.2 600.9L437.2 601.1L438.5 601.0L438.9 600.7L439.2 600.5L439.5 600.3L439.7 600.2L439.8 600.1L439.2 599.7L437.8 599.1L435.6 598.1L432.7 596.9L430.8 595.9L429.9 594.9L430.1 594.1L431.2 593.4L432.9 593.2L435.2 593.2L438.1 593.7L441.6 594.6L444.3 595.2L446.3 595.5L447.5 595.5L448.0 595.2L448.4 595.0L448.8 594.8L449.0 594.7L449.2 594.6L448.7 594.2L447.6 593.5L445.8 592.4L443.5 591.0L442.0 589.8L441.5 588.8L442.0 588.1L443.3 587.5L445.1 587.3L447.4 587.6L450.0 588.3L453.1 589.4L455.6 590.2L457.4 590.6L458.6 590.7L459.2 590.5L459.7 590.3L460.1 590.2L460.4 590.1L460.6 590.0L460.3 589.6L459.5 588.8L458.2 587.6L456.4 586.0L455.4 584.7L455.3 583.7L456.1 583.0L457.7 582.5L459.5 582.5L461.6 582.9L463.9 583.8L466.5 585.1L468.6 586.1L470.2 586.7L471.4 586.9L472.1 586.7L472.6 586.6L473.1 586.5L473.4 586.4L473.6 586.4L473.5 585.9L473.0 585.0L472.2 583.8L471.0 582.1L470.6 580.8L470.9 579.8L471.9 579.1L473.7 578.7L475.5 578.9L477.4 579.4L479.4 580.5L481.4 582.0L483.1 583.1L484.5 583.8L485.5 584.1L486.3 584.0L486.9 583.9L487.3 583.8L487.7 583.8L487.9 583.7L488.0 583.3L487.8 582.4L487.5 581.1L487.1 579.3L487.2 578.0L487.9 577.0L489.1 576.4L491.0 576.2L492.7 576.5L494.4 577.2L495.9 578.4L497.3 580.0L498.5 581.3L499.6 582.0L500.5 582.4L501.3 582.4L501.9 582.3L502.4 582.3L502.8 582.3L503.0 582.2L503.2 581.8L503.5 580.9L503.7 579.6L503.9 577.9L504.6 576.5L505.6 575.6L507.1 575.2L509.0 575.1L510.6 575.5L512.0 576.3L513.0 577.6L513.7 579.3L514.4 580.6L515.2 581.5L516.0 581.9L516.7 581.9L517.4 581.9L517.9 581.9L518.2 581.9L518.5 581.9L518.9 581.5L519.5 580.7L520.2 579.4L521.1 577.7L522.2 576.4L523.7 575.6L525.3 575.3L527.2 575.4L528.6 575.9L529.6 576.8L530.1 578.1L530.2 579.9L530.4 581.2L530.8 582.1L531.4 582.6L532.1 582.7L532.8 582.7L533.2 582.8L533.6 582.8L533.8 582.8L534.4 582.4L535.3 581.6L536.5 580.4L538.1 578.8L539.7 577.7L541.4 577.0L543.2 576.8L545.0 577.0L546.2 577.6L546.8 578.6L546.8 579.9L546.2 581.7L545.8 583.0L545.9 583.9L546.3 584.4L547.0 584.6L547.6 584.7L548.1 584.7L548.4 584.8L548.6 584.8L549.3 584.5L550.5 583.8L552.2 582.7L554.4 581.2L556.4 580.2L558.4 579.7L560.2 579.6L561.9 580.0L562.9 580.7L563.1 581.7L562.5 583.0L561.2 584.7L560.4 585.9L560.0 586.9L560.2 587.4L560.9 587.6L561.4 587.7L561.9 587.8L562.2 587.9L562.4 588.0L563.2 587.7L564.6 587.1L566.7 586.1L569.5 584.9L571.9 584.0L574.0 583.6L575.9 583.7L577.4 584.2L578.1 585.0L577.9 586.0L576.8 587.2L574.8 588.8L573.5 590.0L572.8 590.8L572.8 591.4L573.4 591.6L573.8 591.8L574.2 591.9L574.5 592.0L574.7 592.1L575.6 591.9L577.3 591.4L579.7 590.6L582.9 589.6L585.6 589.0L587.9 588.7L589.6 588.9L591.0 589.5L591.3 590.3L590.7 591.3L589.2 592.5L586.6 593.8L584.9 594.9L583.8 595.7L583.6 596.3L584.1 596.5L584.5 596.7L584.8 596.9L585.0 597.0L585.2 597.1L586.1 597.0L588.0 596.6L590.7 596.1L594.2 595.3L597.2 594.9L599.5 594.8L601.1 595.1L602.2 595.8L602.3 596.7L601.3 597.6L599.3 598.6L596.3 599.7L594.1 600.7L592.8 601.4L592.3 601.9L592.7 602.2L593.0 602.4L593.2 602.6L593.4 602.8L593.5 602.9L594.5 602.8L596.5 602.6L599.4 602.2L603.2 601.7L606.2 601.6L608.5 601.7L610.0 602.1L610.8 602.9L610.5 603.7L609.2 604.5L606.8 605.4L603.4 606.3L600.9 607.0L599.3 607.6L598.6 608.1L598.9 608.4L599.1 608.7L599.3 608.9L599.4 609.1L599.5 609.2L600.5 609.2L602.5 609.1L605.5 609.0L609.4 608.8L612.5 608.8L614.7 609.1L616.0 609.7L616.5 610.5L615.9 611.3L614.3 612.0L611.6 612.7L607.9 613.3L605.1 613.8L603.3 614.3L602.5 614.7L602.6 615.1L602.7 615.3L602.8 615.6L602.8 615.7L602.8 615.8L603.9 615.9L605.9 616.0L608.8 616.1L612.8 616.2L615.8 616.5L617.9 617.0L619.0 617.6L619.1 618.5L618.2 619.2L616.3 619.7L613.4 620.2L609.5 620.5L606.6 620.8L604.6 621.2L603.6 621.5L603.6 621.9L603.6 622.1L603.6 622.4Z" fill="url(#bg)" stroke="none"/>
<path d="M603.6 622.5L603.5 622.6L604.5 622.8L606.4 623.0L609.3 623.4L613.2 623.8L616.1 624.3L617.9 624.9L618.7 625.6L618.5 626.5L617.3 627.1L615.2 627.5L612.2 627.7L608.2 627.8L605.2 627.9L603.2 628.0L602.1 628.3L601.9 628.6L601.8 628.9L601.7 629.1L601.6 629.3L601.6 629.4L602.4 629.6L604.2 630.0L607.0 630.6L610.6 631.3L613.2 632.0L614.8 632.7L615.3 633.5L614.8 634.3L613.4 634.8L611.2 635.1L608.1 635.1L604.2 634.8L601.1 634.7L599.0 634.7L597.9 634.9L597.6 635.2L597.3 635.4L597.2 635.6L597.0 635.8L596.9 635.9L597.7 636.2L599.3 636.7L601.8 637.5L605.1 638.4L607.4 639.3L608.6 640.2L608.8 641.0L608.0 641.7L606.4 642.2L604.1 642.3L601.1 642.0L597.3 641.4L594.4 641.1L592.4 640.9L591.1 641.0L590.7 641.3L590.4 641.5L590.1 641.7L589.9 641.8L589.8 641.9L590.4 642.3L591.8 642.9L594.0 643.9L596.9 645.1L598.8 646.1L599.7 647.1L599.5 647.9L598.4 648.6L596.7 648.8L594.4 648.8L591.5 648.3L588.0 647.4L585.3 646.8L583.3 646.5L582.1 646.5L581.6 646.8L581.2 647.0L580.8 647.2L580.6 647.3L580.4 647.4L580.9 647.8L582.0 648.5L583.8 649.6L586.1 651.0L587.6 652.2L588.1 653.2L587.6 653.9L586.3 654.5L584.5 654.7L582.2 654.4L579.6 653.7L576.5 652.6L574.0 651.8L572.2 651.4L571.0 651.3L570.4 651.5L569.9 651.7L569.5 651.8L569.2 651.9L569.0 652.0L569.3 652.4L570.1 653.2L571.4 654.4L573.2 656.0L574.2 657.3L574.3 658.3L573.5 659.0L571.9 659.5L570.1 659.5L568.0 659.1L565.7 658.2L563.1 656.9L561.0 655.9L559.4 655.3L558.2 655.1L557.5 655.3L557.0 655.4L556.5 655.5L556.2 655.6L556.0 655.6L556.1 656.1L556.6 657.0L557.4 658.2L558.6 659.9L559.0 661.2L558.7 662.2L557.7 662.9L555.9 663.3L554.1 663.1L552.2 662.6L550.2 661.5L548.2 660.0L546.5 658.9L545.1 658.2L544.1 657.9L543.3 658.0L542.7 658.1L542.3 658.2L541.9 658.2L541.7 658.3L541.6 658.7L541.8 659.6L542.1 660.9L542.5 662.7L542.4 664.0L541.7 665.0L540.5 665.6L538.6 665.8L536.9 665.5L535.2 664.8L533.7 663.6L532.3 662.0L531.1 660.7L530.0 660.0L529.1 659.6L528.3 659.6L527.7 659.7L527.2 659.7L526.8 659.7L526.6 659.8L526.4 660.2L526.1 661.1L525.9 662.4L525.7 664.1L525.0 665.5L524.0 666.4L522.5 666.8L520.6 666.9L519.0 666.5L517.6 665.7L516.6 664.4L515.9 662.7L515.2 661.4L514.4 660.5L513.6 660.1L512.9 660.1L512.2 660.1L511.7 660.1L511.4 660.1L511.1 660.1L510.7 660.5L510.1 661.3L509.4 662.6L508.5 664.3L507.4 665.6L505.9 666.4L504.3 666.7L502.4 666.6L501.0 666.1L500.0 665.2L499.5 663.9L499.4 662.1L499.2 660.8L498.8 659.9L498.2 659.4L497.5 659.3L496.8 659.3L496.4 659.2L496.0 659.2L495.8 659.2L495.2 659.6L494.3 660.4L493.1 661.6L491.5 663.2L489.9 664.3L488.2 665.0L486.4 665.2L484.6 665.0L483.4 664.4L482.8 663.4L482.8 662.1L483.4 660.3L483.8 659.0L483.7 658.1L483.3 657.6L482.6 657.4L482.0 657.3L481.5 657.3L481.2 657.2L481.0 657.2L480.3 657.5L479.1 658.2L477.4 659.3L475.2 660.8L473.2 661.8L471.2 662.3L469.4 662.4L467.7 662.0L466.7 661.3L466.5 660.3L467.1 659.0L468.4 657.3L469.2 656.1L469.6 655.1L469.4 654.6L468.7 654.4L468.2 654.3L467.7 654.2L467.4 654.1L467.2 654.0L466.4 654.3L465.0 654.9L462.9 655.9L460.1 657.1L457.7 658.0L455.6 658.4L453.7 658.3L452.2 657.8L451.5 657.0L451.7 656.0L452.8 654.8L454.8 653.2L456.1 652.0L456.8 651.2L456.8 650.6L456.2 650.4L455.8 650.2L455.4 650.1L455.1 650.0L454.9 649.9L454.0 650.1L452.3 650.6L449.9 651.4L446.7 652.4L444.0 653.0L441.7 653.3L440.0 653.1L438.6 652.5L438.3 651.7L438.9 650.7L440.4 649.5L443.0 648.2L444.7 647.1L445.8 646.3L446.0 645.7L445.5 645.5L445.1 645.3L444.8 645.1L444.6 645.0L444.4 644.9L443.5 645.0L441.6 645.4L438.9 645.9L435.4 646.7L432.4 647.1L430.1 647.2L428.5 646.9L427.4 646.2L427.3 645.3L428.3 644.4L430.3 643.4L433.3 642.3L435.5 641.3L436.8 640.6L437.3 640.1L436.9 639.8L436.6 639.6L436.4 639.4L436.2 639.2L436.1 639.1L435.1 639.2L433.1 639.4L430.2 639.8L426.4 640.3L423.4 640.4L421.1 640.3L419.6 639.9L418.8 639.1L419.1 638.3L420.4 637.5L422.8 636.6L426.2 635.7L428.7 635.0L430.3 634.4L431.0 633.9L430.7 633.6L430.5 633.3L430.3 633.1L430.2 632.9L430.1 632.8L429.1 632.8L427.1 632.9L424.1 633.0L420.2 633.2L417.1 633.2L414.9 632.9L413.6 632.3L413.1 631.5L413.7 630.7L415.3 630.0L418.0 629.3L421.7 628.7L424.5 628.2L426.3 627.7L427.1 627.3L427.0 626.9L426.9 626.7L426.8 626.4L426.8 626.3L426.8 626.2L425.7 626.1L423.7 626.0L420.8 625.9L416.8 625.8L413.8 625.5L411.7 625.0L410.6 624.4L410.5 623.5L411.4 622.8L413.3 622.3L416.2 621.8L420.1 621.5L423.0 621.2L425.0 620.8L426.0 620.5L426.0 620.1L426.0 619.9L426.0 619.6L426.0 619.5L426.1 619.4L425.1 619.2L423.2 619.0L420.3 618.6L416.4 618.2L413.5 617.7L411.7 617.1L410.9 616.4L411.1 615.5L412.3 614.9L414.4 614.5L417.4 614.3L421.4 614.2L424.4 614.1L426.4 614.0L427.5 613.7L427.7 613.4L427.8 613.1L427.9 612.9L428.0 612.7L428.0 612.6L427.2 612.4L425.4 612.0L422.6 611.4L419.0 610.7L416.4 610.0L414.8 609.3L414.3 608.5L414.8 607.7L416.2 607.2L418.4 606.9L421.5 606.9L425.4 607.2L428.5 607.3L430.6 607.3L431.7 607.1L432.0 606.8L432.3 606.6L432.4 606.4L432.6 606.2L432.7 606.1L431.9 605.8L430.3 605.3L427.8 604.5L424.5 603.6L422.2 602.7L421.0 601.8L420.8 601.0L421.6 600.3L423.2 599.8L425.5 599.7L428.5 600.0L432.3 600.6L435.2 600.9L437.2 601.1L438.5 601.0L438.9 600.7L439.2 600.5L439.5 600.3L439.7 600.2L439.8 600.1L439.2 599.7L437.8 599.1L435.6 598.1L432.7 596.9L430.8 595.9L429.9 594.9L430.1 594.1L431.2 593.4L432.9 593.2L435.2 593.2L438.1 593.7L441.6 594.6L444.3 595.2L446.3 595.5L447.5 595.5L448.0 595.2L448.4 595.0L448.8 594.8L449.0 594.7L449.2 594.6L448.7 594.2L447.6 593.5L445.8 592.4L443.5 591.0L442.0 589.8L441.5 588.8L442.0 588.1L443.3 587.5L445.1 587.3L447.4 587.6L450.0 588.3L453.1 589.4L455.6 590.2L457.4 590.6L458.6 590.7L459.2 590.5L459.7 590.3L460.1 590.2L460.4 590.1L460.6 590.0L460.3 589.6L459.5 588.8L458.2 587.6L456.4 586.0L455.4 584.7L455.3 583.7L456.1 583.0L457.7 582.5L459.5 582.5L461.6 582.9L463.9 583.8L466.5 585.1L468.6 586.1L470.2 586.7L471.4 586.9L472.1 586.7L472.6 586.6L473.1 586.5L473.4 586.4L473.6 586.4L473.5 585.9L473.0 585.0L472.2 583.8L471.0 582.1L470.6 580.8L470.9 579.8L471.9 579.1L473.7 578.7L475.5 578.9L477.4 579.4L479.4 580.5L481.4 582.0L483.1 583.1L484.5 583.8L485.5 584.1L486.3 584.0L486.9 583.9L487.3 583.8L487.7 583.8L487.9 583.7L488.0 583.3L487.8 582.4L487.5 581.1L487.1 579.3L487.2 578.0L487.9 577.0L489.1 576.4L491.0 576.2L492.7 576.5L494.4 577.2L495.9 578.4L497.3 580.0L498.5 581.3L499.6 582.0L500.5 582.4L501.3 582.4L501.9 582.3L502.4 582.3L502.8 582.3L503.0 582.2L503.2 581.8L503.5 580.9L503.7 579.6L503.9 577.9L504.6 576.5L505.6 575.6L507.1 575.2L509.0 575.1L510.6 575.5L512.0 576.3L513.0 577.6L513.7 579.3L514.4 580.6L515.2 581.5L516.0 581.9L516.7 581.9L517.4 581.9L517.9 581.9L518.2 581.9L518.5 581.9L518.9 581.5L519.5 580.7L520.2 579.4L521.1 577.7L522.2 576.4L523.7 575.6L525.3 575.3L527.2 575.4L528.6 575.9L529.6 576.8L530.1 578.1L530.2 579.9L530.4 581.2L530.8 582.1L531.4 582.6L532.1 582.7L532.8 582.7L533.2 582.8L533.6 582.8L533.8 582.8L534.4 582.4L535.3 581.6L536.5 580.4L538.1 578.8L539.7 577.7L541.4 577.0L543.2 576.8L545.0 577.0L546.2 577.6L546.8 578.6L546.8 579.9L546.2 581.7L545.8 583.0L545.9 583.9L546.3 584.4L547.0 584.6L547.6 584.7L548.1 584.7L548.4 584.8L548.6 584.8L549.3 584.5L550.5 583.8L552.2 582.7L554.4 581.2L556.4 580.2L558.4 579.7L560.2 579.6L561.9 580.0L562.9 580.7L563.1 581.7L562.5 583.0L561.2 584.7L560.4 585.9L560.0 586.9L560.2 587.4L560.9 587.6L561.4 587.7L561.9 587.8L562.2 587.9L562.4 588.0L563.2 587.7L564.6 587.1L566.7 586.1L569.5 584.9L571.9 584.0L574.0 583.6L575.9 583.7L577.4 584.2L578.1 585.0L577.9 586.0L576.8 587.2L574.8 588.8L573.5 590.0L572.8 590.8L572.8 591.4L573.4 591.6L573.8 591.8L574.2 591.9L574.5 592.0L574.7 592.1L575.6 591.9L577.3 591.4L579.7 590.6L582.9 589.6L585.6 589.0L587.9 588.7L589.6 588.9L591.0 589.5L591.3 590.3L590.7 591.3L589.2 592.5L586.6 593.8L584.9 594.9L583.8 595.7L583.6 596.3L584.1 596.5L584.5 596.7L584.8 596.9L585.0 597.0L585.2 597.1L586.1 597.0L588.0 596.6L590.7 596.1L594.2 595.3L597.2 594.9L599.5 594.8L601.1 595.1L602.2 595.8L602.3 596.7L601.3 597.6L599.3 598.6L596.3 599.7L594.1 600.7L592.8 601.4L592.3 601.9L592.7 602.2L593.0 602.4L593.2 602.6L593.4 602.8L593.5 602.9L594.5 602.8L596.5 602.6L599.4 602.2L603.2 601.7L606.2 601.6L608.5 601.7L610.0 602.1L610.8 602.9L610.5 603.7L609.2 604.5L606.8 605.4L603.4 606.3L600.9 607.0L599.3 607.6L598.6 608.1L598.9 608.4L599.1 608.7L599.3 608.9L599.4 609.1L599.5 609.2L600.5 609.2L602.5 609.1L605.5 609.0L609.4 608.8L612.5 608.8L614.7 609.1L616.0 609.7L616.5 610.5L615.9 611.3L614.3 612.0L611.6 612.7L607.9 613.3L605.1 613.8L603.3 614.3L602.5 614.7L602.6 615.1L602.7 615.3L602.8 615.6L602.8 615.7L602.8 615.8L603.9 615.9L605.9 616.0L608.8 616.1L612.8 616.2L615.8 616.5L617.9 617.0L619.0 617.6L619.1 618.5L618.2 619.2L616.3 619.7L613.4 620.2L609.5 620.5L606.6 620.8L604.6 621.2L603.6 621.5L603.6 621.9L603.6 622.1L603.6 622.4Z" stroke-width="2.0" />
<path d="M598.8 623.4L598.7 624.8L598.6 626.1L598.3 627.5L598.0 628.9L597.5 630.2L597.0 631.6L596.3 632.9L595.6 634.2L594.7 635.5L593.8 636.8L592.7 638.1L591.6 639.4L590.3 640.6L589.0 641.9L587.6 643.0L586.1 644.2L584.5 645.4L582.8 646.5L581.1 647.6L579.2 648.7L577.3 649.7L575.3 650.7L573.2 651.7L571.1 652.6L568.9 653.5L566.6 654.4L564.3 655.2L561.9 656.0L559.5 656.7L557.0 657.4L554.4 658.1L551.8 658.7L549.1 659.3L546.5 659.8L543.7 660.3L541.0 660.8L538.2 661.2L535.3 661.5L532.5 661.8L529.6 662.1L526.7 662.3L523.8 662.5L520.9 662.6L518.0 662.7L515.1 662.7L512.2 662.7L509.3 662.6L506.4 662.5L503.5 662.3L500.6 662.1L497.7 661.8L494.9 661.5L492.0 661.2L489.2 660.8L486.5 660.3L483.7 659.8L481.1 659.3L478.4 658.7L475.8 658.1L473.3 657.4L470.7 656.7L468.3 656.0L465.9 655.2L463.6 654.4L461.3 653.5L459.1 652.6L457.0 651.7L454.9 650.7L452.9 649.7L451.0 648.7L449.1 647.6L447.4 646.5L445.7 645.4L444.1 644.2L442.6 643.0L441.2 641.9L439.9 640.6L438.6 639.4L437.5 638.1L436.4 636.8L435.5 635.5L434.6 634.2L433.9 632.9L433.2 631.6L432.7 630.2L432.2 628.9L431.9 627.5L431.6 626.1L431.5 624.8L431.4 623.4L431.5 622.0L431.6 620.7L431.9 619.3L432.2 617.9L432.7 616.6L433.2 615.2L433.9 613.9L434.6 612.6L435.5 611.3L436.4 610.0L437.5 608.7L438.6 607.4L439.9 606.2L441.2 604.9L442.6 603.8L444.1 602.6L445.7 601.4L447.4 600.3L449.1 599.2L451.0 598.1L452.9 597.1L454.9 596.1L457.0 595.1L459.1 594.2L461.3 593.3L463.6 592.4L465.9 591.6L468.3 590.8L470.7 590.1L473.2 589.4L475.8 588.7L478.4 588.1L481.1 587.5L483.7 587.0L486.5 586.5L489.2 586.0L492.0 585.6L494.9 585.3L497.7 585.0L500.6 584.7L503.5 584.5L506.4 584.3L509.3 584.2L512.2 584.1L515.1 584.1L518.0 584.1L520.9 584.2L523.8 584.3L526.7 584.5L529.6 584.7L532.5 585.0L535.3 585.3L538.2 585.6L541.0 586.0L543.7 586.5L546.5 587.0L549.1 587.5L551.8 588.1L554.4 588.7L557.0 589.4L559.5 590.1L561.9 590.8L564.3 591.6L566.6 592.4L568.9 593.3L571.1 594.2L573.2 595.1L575.3 596.1L577.3 597.1L579.2 598.1L581.1 599.2L582.8 600.3L584.5 601.4L586.1 602.6L587.6 603.8L589.0 604.9L590.3 606.2L591.6 607.4L592.7 608.7L593.8 610.0L594.7 611.3L595.6 612.6L596.3 613.9L597.0 615.2L597.5 616.6L598.0 617.9L598.3 619.3L598.6 620.7L598.7 622.0L598.8 623.4Z" stroke-width="2.2" />
<clipPath id="cp2"><path d="M597.5 623.4L597.5 624.8L597.3 626.1L597.1 627.4L596.7 628.8L596.3 630.1L595.7 631.4L595.1 632.8L594.4 634.1L593.5 635.4L592.6 636.6L591.5 637.9L590.4 639.1L589.2 640.4L587.9 641.6L586.5 642.8L585.0 643.9L583.4 645.0L581.8 646.2L580.1 647.2L578.3 648.3L576.4 649.3L574.4 650.3L572.4 651.2L570.3 652.2L568.1 653.1L565.9 653.9L563.6 654.7L561.2 655.5L558.8 656.2L556.3 656.9L553.8 657.6L551.2 658.2L548.6 658.8L546.0 659.3L543.3 659.8L540.6 660.2L537.8 660.6L535.0 661.0L532.2 661.3L529.4 661.5L526.6 661.7L523.7 661.9L520.9 662.0L518.0 662.1L515.1 662.1L512.2 662.1L509.3 662.0L506.5 661.9L503.6 661.7L500.8 661.5L498.0 661.3L495.2 661.0L492.4 660.6L489.6 660.2L486.9 659.8L484.2 659.3L481.6 658.8L479.0 658.2L476.4 657.6L473.9 656.9L471.4 656.2L469.0 655.5L466.6 654.7L464.3 653.9L462.1 653.1L459.9 652.2L457.8 651.2L455.8 650.3L453.8 649.3L451.9 648.3L450.1 647.2L448.4 646.2L446.8 645.0L445.2 643.9L443.7 642.8L442.3 641.6L441.0 640.4L439.8 639.1L438.7 637.9L437.6 636.6L436.7 635.4L435.8 634.1L435.1 632.8L434.5 631.4L433.9 630.1L433.5 628.8L433.1 627.4L432.9 626.1L432.7 624.8L432.7 623.4L432.7 622.0L432.9 620.7L433.1 619.4L433.5 618.0L433.9 616.7L434.5 615.4L435.1 614.0L435.8 612.7L436.7 611.4L437.6 610.2L438.7 608.9L439.8 607.7L441.0 606.4L442.3 605.2L443.7 604.0L445.2 602.9L446.8 601.8L448.4 600.6L450.1 599.6L451.9 598.5L453.8 597.5L455.8 596.5L457.8 595.6L459.9 594.6L462.1 593.7L464.3 592.9L466.6 592.1L469.0 591.3L471.4 590.6L473.9 589.9L476.4 589.2L479.0 588.6L481.6 588.0L484.2 587.5L486.9 587.0L489.6 586.6L492.4 586.2L495.2 585.8L498.0 585.5L500.8 585.3L503.6 585.1L506.5 584.9L509.3 584.8L512.2 584.7L515.1 584.7L518.0 584.7L520.9 584.8L523.7 584.9L526.6 585.1L529.4 585.3L532.2 585.5L535.0 585.8L537.8 586.2L540.6 586.6L543.3 587.0L546.0 587.5L548.6 588.0L551.2 588.6L553.8 589.2L556.3 589.9L558.8 590.6L561.2 591.3L563.6 592.1L565.9 592.9L568.1 593.7L570.3 594.6L572.4 595.6L574.4 596.5L576.4 597.5L578.3 598.5L580.1 599.6L581.8 600.6L583.4 601.8L585.0 602.9L586.5 604.0L587.9 605.2L589.2 606.4L590.4 607.7L591.5 608.9L592.6 610.2L593.5 611.4L594.4 612.7L595.1 614.0L595.7 615.4L596.3 616.7L596.7 618.0L597.1 619.4L597.3 620.7L597.5 622.0L597.5 623.4Z"/></clipPath><g clip-path="url(#cp2)">
<path d="M599.3 620.5L599.3 620.9L599.3 621.4L599.2 621.8L599.1 622.3L598.9 622.7L598.8 623.2L598.6 623.6L598.3 624.1L598.1 624.5L597.8 624.9L597.5 625.3L597.1 625.8L596.8 626.2L596.4 626.6L595.9 627.0L595.5 627.4L595.0 627.7L594.5 628.1L594.0 628.5L593.4 628.8L592.9 629.2L592.3 629.5L591.6 629.8L591.0 630.1L590.3 630.4L589.7 630.7L589.0 631.0L588.2 631.2L587.5 631.5L586.8 631.7L586.0 631.9L585.2 632.1L584.4 632.3L583.6 632.5L582.8 632.7L582.0 632.8L581.1 632.9L580.3 633.1L579.4 633.2L578.6 633.3L577.7 633.3L576.8 633.4L576.0 633.4L575.1 633.4L574.2 633.5L573.3 633.4L572.4 633.4L571.6 633.4L570.7 633.3L569.8 633.3L569.0 633.2L568.1 633.1L567.3 632.9L566.4 632.8L565.6 632.7L564.8 632.5L564.0 632.3L563.2 632.1L562.4 631.9L561.6 631.7L560.9 631.5L560.2 631.2L559.4 631.0L558.7 630.7L558.1 630.4L557.4 630.1L556.8 629.8L556.1 629.5L555.5 629.2L555.0 628.8L554.4 628.5L553.9 628.1L553.4 627.7L552.9 627.4L552.5 627.0L552.0 626.6L551.6 626.2L551.3 625.8L550.9 625.3L550.6 624.9L550.3 624.5L550.1 624.1L549.8 623.6L549.6 623.2L549.5 622.7L549.3 622.3L549.2 621.8L549.2 621.4L549.1 620.9L549.1 620.5L549.1 620.0L549.2 619.6L549.2 619.1L549.3 618.7L549.5 618.2L549.6 617.8L549.8 617.3L550.1 616.9L550.3 616.5L550.6 616.0L550.9 615.6L551.3 615.2L551.6 614.8L552.0 614.4L552.5 614.0L552.9 613.6L553.4 613.2L553.9 612.9L554.4 612.5L555.0 612.1L555.5 611.8L556.1 611.5L556.8 611.2L557.4 610.8L558.1 610.5L558.7 610.3L559.4 610.0L560.2 609.7L560.9 609.5L561.6 609.3L562.4 609.0L563.2 608.8L564.0 608.6L564.8 608.5L565.6 608.3L566.4 608.1L567.3 608.0L568.1 607.9L569.0 607.8L569.8 607.7L570.7 607.6L571.6 607.6L572.4 607.5L573.3 607.5L574.2 607.5L575.1 607.5L576.0 607.5L576.8 607.6L577.7 607.6L578.6 607.7L579.4 607.8L580.3 607.9L581.1 608.0L582.0 608.1L582.8 608.3L583.6 608.5L584.4 608.6L585.2 608.8L586.0 609.0L586.8 609.3L587.5 609.5L588.2 609.7L589.0 610.0L589.7 610.3L590.3 610.5L591.0 610.8L591.6 611.2L592.3 611.5L592.9 611.8L593.4 612.1L594.0 612.5L594.5 612.9L595.0 613.2L595.5 613.6L595.9 614.0L596.4 614.4L596.8 614.8L597.1 615.2L597.5 615.6L597.8 616.0L598.1 616.5L598.3 616.9L598.6 617.3L598.8 617.8L598.9 618.2L599.1 618.7L599.2 619.1L599.3 619.6L599.3 620.0L599.3 620.5Z" stroke-width="1.9" />
</g>
<clipPath id="cp3"><path d="M599.3 620.5L599.3 620.9L599.3 621.4L599.2 621.8L599.1 622.3L598.9 622.7L598.8 623.2L598.6 623.6L598.3 624.1L598.1 624.5L597.8 624.9L597.5 625.3L597.1 625.8L596.8 626.2L596.4 626.6L595.9 627.0L595.5 627.4L595.0 627.7L594.5 628.1L594.0 628.5L593.4 628.8L592.9 629.2L592.3 629.5L591.6 629.8L591.0 630.1L590.3 630.4L589.7 630.7L589.0 631.0L588.2 631.2L587.5 631.5L586.8 631.7L586.0 631.9L585.2 632.1L584.4 632.3L583.6 632.5L582.8 632.7L582.0 632.8L581.1 632.9L580.3 633.1L579.4 633.2L578.6 633.3L577.7 633.3L576.8 633.4L576.0 633.4L575.1 633.4L574.2 633.5L573.3 633.4L572.4 633.4L571.6 633.4L570.7 633.3L569.8 633.3L569.0 633.2L568.1 633.1L567.3 632.9L566.4 632.8L565.6 632.7L564.8 632.5L564.0 632.3L563.2 632.1L562.4 631.9L561.6 631.7L560.9 631.5L560.2 631.2L559.4 631.0L558.7 630.7L558.1 630.4L557.4 630.1L556.8 629.8L556.1 629.5L555.5 629.2L555.0 628.8L554.4 628.5L553.9 628.1L553.4 627.7L552.9 627.4L552.5 627.0L552.0 626.6L551.6 626.2L551.3 625.8L550.9 625.3L550.6 624.9L550.3 624.5L550.1 624.1L549.8 623.6L549.6 623.2L549.5 622.7L549.3 622.3L549.2 621.8L549.2 621.4L549.1 620.9L549.1 620.5L549.1 620.0L549.2 619.6L549.2 619.1L549.3 618.7L549.5 618.2L549.6 617.8L549.8 617.3L550.1 616.9L550.3 616.5L550.6 616.0L550.9 615.6L551.3 615.2L551.6 614.8L552.0 614.4L552.5 614.0L552.9 613.6L553.4 613.2L553.9 612.9L554.4 612.5L555.0 612.1L555.5 611.8L556.1 611.5L556.8 611.2L557.4 610.8L558.1 610.5L558.7 610.3L559.4 610.0L560.2 609.7L560.9 609.5L561.6 609.3L562.4 609.0L563.2 608.8L564.0 608.6L564.8 608.5L565.6 608.3L566.4 608.1L567.3 608.0L568.1 607.9L569.0 607.8L569.8 607.7L570.7 607.6L571.6 607.6L572.4 607.5L573.3 607.5L574.2 607.5L575.1 607.5L576.0 607.5L576.8 607.6L577.7 607.6L578.6 607.7L579.4 607.8L580.3 607.9L581.1 608.0L582.0 608.1L582.8 608.3L583.6 608.5L584.4 608.6L585.2 608.8L586.0 609.0L586.8 609.3L587.5 609.5L588.2 609.7L589.0 610.0L589.7 610.3L590.3 610.5L591.0 610.8L591.6 611.2L592.3 611.5L592.9 611.8L593.4 612.1L594.0 612.5L594.5 612.9L595.0 613.2L595.5 613.6L595.9 614.0L596.4 614.4L596.8 614.8L597.1 615.2L597.5 615.6L597.8 616.0L598.1 616.5L598.3 616.9L598.6 617.3L598.8 617.8L598.9 618.2L599.1 618.7L599.2 619.1L599.3 619.6L599.3 620.0L599.3 620.5Z"/></clipPath><g clip-path="url(#cp3)">
<clipPath id="cp4"><path d="M597.5 623.4L597.5 624.8L597.3 626.1L597.1 627.4L596.7 628.8L596.3 630.1L595.7 631.4L595.1 632.8L594.4 634.1L593.5 635.4L592.6 636.6L591.5 637.9L590.4 639.1L589.2 640.4L587.9 641.6L586.5 642.8L585.0 643.9L583.4 645.0L581.8 646.2L580.1 647.2L578.3 648.3L576.4 649.3L574.4 650.3L572.4 651.2L570.3 652.2L568.1 653.1L565.9 653.9L563.6 654.7L561.2 655.5L558.8 656.2L556.3 656.9L553.8 657.6L551.2 658.2L548.6 658.8L546.0 659.3L543.3 659.8L540.6 660.2L537.8 660.6L535.0 661.0L532.2 661.3L529.4 661.5L526.6 661.7L523.7 661.9L520.9 662.0L518.0 662.1L515.1 662.1L512.2 662.1L509.3 662.0L506.5 661.9L503.6 661.7L500.8 661.5L498.0 661.3L495.2 661.0L492.4 660.6L489.6 660.2L486.9 659.8L484.2 659.3L481.6 658.8L479.0 658.2L476.4 657.6L473.9 656.9L471.4 656.2L469.0 655.5L466.6 654.7L464.3 653.9L462.1 653.1L459.9 652.2L457.8 651.2L455.8 650.3L453.8 649.3L451.9 648.3L450.1 647.2L448.4 646.2L446.8 645.0L445.2 643.9L443.7 642.8L442.3 641.6L441.0 640.4L439.8 639.1L438.7 637.9L437.6 636.6L436.7 635.4L435.8 634.1L435.1 632.8L434.5 631.4L433.9 630.1L433.5 628.8L433.1 627.4L432.9 626.1L432.7 624.8L432.7 623.4L432.7 622.0L432.9 620.7L433.1 619.4L433.5 618.0L433.9 616.7L434.5 615.4L435.1 614.0L435.8 612.7L436.7 611.4L437.6 610.2L438.7 608.9L439.8 607.7L441.0 606.4L442.3 605.2L443.7 604.0L445.2 602.9L446.8 601.8L448.4 600.6L450.1 599.6L451.9 598.5L453.8 597.5L455.8 596.5L457.8 595.6L459.9 594.6L462.1 593.7L464.3 592.9L466.6 592.1L469.0 591.3L471.4 590.6L473.9 589.9L476.4 589.2L479.0 588.6L481.6 588.0L484.2 587.5L486.9 587.0L489.6 586.6L492.4 586.2L495.2 585.8L498.0 585.5L500.8 585.3L503.6 585.1L506.5 584.9L509.3 584.8L512.2 584.7L515.1 584.7L518.0 584.7L520.9 584.8L523.7 584.9L526.6 585.1L529.4 585.3L532.2 585.5L535.0 585.8L537.8 586.2L540.6 586.6L543.3 587.0L546.0 587.5L548.6 588.0L551.2 588.6L553.8 589.2L556.3 589.9L558.8 590.6L561.2 591.3L563.6 592.1L565.9 592.9L568.1 593.7L570.3 594.6L572.4 595.6L574.4 596.5L576.4 597.5L578.3 598.5L580.1 599.6L581.8 600.6L583.4 601.8L585.0 602.9L586.5 604.0L587.9 605.2L589.2 606.4L590.4 607.7L591.5 608.9L592.6 610.2L593.5 611.4L594.4 612.7L595.1 614.0L595.7 615.4L596.3 616.7L596.7 618.0L597.1 619.4L597.3 620.7L597.5 622.0L597.5 623.4Z"/></clipPath><g clip-path="url(#cp4)">
<path d="M549.1 625.5L549.1 624.8L549.2 624.1L549.4 623.5L549.6 622.8L549.9 622.1L550.3 621.5L550.8 620.8L551.3 620.2L551.8 619.6L552.5 619.0L553.1 618.4L553.9 617.9L554.7 617.3L555.5 616.8L556.4 616.3L557.4 615.8L558.4 615.4L559.4 615.0L560.5 614.6L561.6 614.3L562.8 613.9L564.0 613.6L565.2 613.4L566.4 613.1L567.7 613.0L569.0 612.8L570.3 612.7L571.6 612.6L572.9 612.5L574.2 612.5L575.5 612.5L576.8 612.6L578.1 612.7L579.4 612.8L580.7 613.0L582.0 613.1L583.2 613.4L584.4 613.6L585.6 613.9L586.8 614.3L587.9 614.6L589.0 615.0L590.0 615.4L591.0 615.8L592.0 616.3L592.9 616.8L593.7 617.3L594.5 617.9L595.3 618.4L595.9 619.0L596.6 619.6L597.1 620.2L597.6 620.8L598.1 621.5L598.5 622.1L598.8 622.8L599.0 623.5L599.2 624.1L599.3 624.8L599.3 625.5" stroke-width="1.5" />
</g>
</g>
<clipPath id="cp5"><path d="M597.5 623.4L597.5 624.8L597.3 626.1L597.1 627.4L596.7 628.8L596.3 630.1L595.7 631.4L595.1 632.8L594.4 634.1L593.5 635.4L592.6 636.6L591.5 637.9L590.4 639.1L589.2 640.4L587.9 641.6L586.5 642.8L585.0 643.9L583.4 645.0L581.8 646.2L580.1 647.2L578.3 648.3L576.4 649.3L574.4 650.3L572.4 651.2L570.3 652.2L568.1 653.1L565.9 653.9L563.6 654.7L561.2 655.5L558.8 656.2L556.3 656.9L553.8 657.6L551.2 658.2L548.6 658.8L546.0 659.3L543.3 659.8L540.6 660.2L537.8 660.6L535.0 661.0L532.2 661.3L529.4 661.5L526.6 661.7L523.7 661.9L520.9 662.0L518.0 662.1L515.1 662.1L512.2 662.1L509.3 662.0L506.5 661.9L503.6 661.7L500.8 661.5L498.0 661.3L495.2 661.0L492.4 660.6L489.6 660.2L486.9 659.8L484.2 659.3L481.6 658.8L479.0 658.2L476.4 657.6L473.9 656.9L471.4 656.2L469.0 655.5L466.6 654.7L464.3 653.9L462.1 653.1L459.9 652.2L457.8 651.2L455.8 650.3L453.8 649.3L451.9 648.3L450.1 647.2L448.4 646.2L446.8 645.0L445.2 643.9L443.7 642.8L442.3 641.6L441.0 640.4L439.8 639.1L438.7 637.9L437.6 636.6L436.7 635.4L435.8 634.1L435.1 632.8L434.5 631.4L433.9 630.1L433.5 628.8L433.1 627.4L432.9 626.1L432.7 624.8L432.7 623.4L432.7 622.0L432.9 620.7L433.1 619.4L433.5 618.0L433.9 616.7L434.5 615.4L435.1 614.0L435.8 612.7L436.7 611.4L437.6 610.2L438.7 608.9L439.8 607.7L441.0 606.4L442.3 605.2L443.7 604.0L445.2 602.9L446.8 601.8L448.4 600.6L450.1 599.6L451.9 598.5L453.8 597.5L455.8 596.5L457.8 595.6L459.9 594.6L462.1 593.7L464.3 592.9L466.6 592.1L469.0 591.3L471.4 590.6L473.9 589.9L476.4 589.2L479.0 588.6L481.6 588.0L484.2 587.5L486.9 587.0L489.6 586.6L492.4 586.2L495.2 585.8L498.0 585.5L500.8 585.3L503.6 585.1L506.5 584.9L509.3 584.8L512.2 584.7L515.1 584.7L518.0 584.7L520.9 584.8L523.7 584.9L526.6 585.1L529.4 585.3L532.2 585.5L535.0 585.8L537.8 586.2L540.6 586.6L543.3 587.0L546.0 587.5L548.6 588.0L551.2 588.6L553.8 589.2L556.3 589.9L558.8 590.6L561.2 591.3L563.6 592.1L565.9 592.9L568.1 593.7L570.3 594.6L572.4 595.6L574.4 596.5L576.4 597.5L578.3 598.5L580.1 599.6L581.8 600.6L583.4 601.8L585.0 602.9L586.5 604.0L587.9 605.2L589.2 606.4L590.4 607.7L591.5 608.9L592.6 610.2L593.5 611.4L594.4 612.7L595.1 614.0L595.7 615.4L596.3 616.7L596.7 618.0L597.1 619.4L597.3 620.7L597.5 622.0L597.5 623.4Z"/></clipPath><g clip-path="url(#cp5)">
<path d="M575.7 650.1L575.7 650.5L575.6 651.0L575.6 651.4L575.4 651.9L575.3 652.3L575.1 652.8L574.9 653.2L574.7 653.6L574.5 654.1L574.2 654.5L573.9 654.9L573.5 655.3L573.2 655.7L572.8 656.2L572.3 656.5L571.9 656.9L571.4 657.3L570.9 657.7L570.4 658.0L569.8 658.4L569.2 658.7L568.6 659.1L568.0 659.4L567.4 659.7L566.7 660.0L566.0 660.3L565.3 660.6L564.6 660.8L563.9 661.1L563.1 661.3L562.4 661.5L561.6 661.7L560.8 661.9L560.0 662.1L559.2 662.2L558.3 662.4L557.5 662.5L556.7 662.6L555.8 662.7L554.9 662.8L554.1 662.9L553.2 663.0L552.3 663.0L551.5 663.0L550.6 663.0L549.7 663.0L548.8 663.0L548.0 663.0L547.1 662.9L546.2 662.8L545.4 662.7L544.5 662.6L543.7 662.5L542.8 662.4L542.0 662.2L541.2 662.1L540.4 661.9L539.6 661.7L538.8 661.5L538.0 661.3L537.3 661.1L536.5 660.8L535.8 660.6L535.1 660.3L534.4 660.0L533.8 659.7L533.1 659.4L532.5 659.1L531.9 658.7L531.3 658.4L530.8 658.0L530.3 657.7L529.8 657.3L529.3 656.9L528.8 656.5L528.4 656.2L528.0 655.7L527.6 655.3L527.3 654.9L527.0 654.5L526.7 654.1L526.4 653.6L526.2 653.2L526.0 652.8L525.9 652.3L525.7 651.9L525.6 651.4L525.5 651.0L525.5 650.5L525.5 650.1L525.5 649.6L525.5 649.2L525.6 648.7L525.7 648.3L525.9 647.8L526.0 647.4L526.2 646.9L526.4 646.5L526.7 646.1L527.0 645.6L527.3 645.2L527.6 644.8L528.0 644.4L528.4 644.0L528.8 643.6L529.3 643.2L529.8 642.8L530.3 642.4L530.8 642.1L531.3 641.7L531.9 641.4L532.5 641.1L533.1 640.7L533.8 640.4L534.4 640.1L535.1 639.8L535.8 639.6L536.5 639.3L537.3 639.1L538.0 638.8L538.8 638.6L539.6 638.4L540.4 638.2L541.2 638.0L542.0 637.9L542.8 637.7L543.7 637.6L544.5 637.5L545.4 637.4L546.2 637.3L547.1 637.2L548.0 637.2L548.8 637.1L549.7 637.1L550.6 637.1L551.5 637.1L552.3 637.1L553.2 637.2L554.1 637.2L554.9 637.3L555.8 637.4L556.7 637.5L557.5 637.6L558.3 637.7L559.2 637.9L560.0 638.0L560.8 638.2L561.6 638.4L562.4 638.6L563.1 638.8L563.9 639.1L564.6 639.3L565.3 639.6L566.0 639.8L566.7 640.1L567.4 640.4L568.0 640.7L568.6 641.1L569.2 641.4L569.8 641.7L570.4 642.1L570.9 642.4L571.4 642.8L571.9 643.2L572.3 643.6L572.8 644.0L573.2 644.4L573.5 644.8L573.9 645.2L574.2 645.6L574.5 646.1L574.7 646.5L574.9 646.9L575.1 647.4L575.3 647.8L575.4 648.3L575.6 648.7L575.6 649.2L575.7 649.6L575.7 650.1Z" stroke-width="1.9" />
</g>
<clipPath id="cp6"><path d="M575.7 650.1L575.7 650.5L575.6 651.0L575.6 651.4L575.4 651.9L575.3 652.3L575.1 652.8L574.9 653.2L574.7 653.6L574.5 654.1L574.2 654.5L573.9 654.9L573.5 655.3L573.2 655.7L572.8 656.2L572.3 656.5L571.9 656.9L571.4 657.3L570.9 657.7L570.4 658.0L569.8 658.4L569.2 658.7L568.6 659.1L568.0 659.4L567.4 659.7L566.7 660.0L566.0 660.3L565.3 660.6L564.6 660.8L563.9 661.1L563.1 661.3L562.4 661.5L561.6 661.7L560.8 661.9L560.0 662.1L559.2 662.2L558.3 662.4L557.5 662.5L556.7 662.6L555.8 662.7L554.9 662.8L554.1 662.9L553.2 663.0L552.3 663.0L551.5 663.0L550.6 663.0L549.7 663.0L548.8 663.0L548.0 663.0L547.1 662.9L546.2 662.8L545.4 662.7L544.5 662.6L543.7 662.5L542.8 662.4L542.0 662.2L541.2 662.1L540.4 661.9L539.6 661.7L538.8 661.5L538.0 661.3L537.3 661.1L536.5 660.8L535.8 660.6L535.1 660.3L534.4 660.0L533.8 659.7L533.1 659.4L532.5 659.1L531.9 658.7L531.3 658.4L530.8 658.0L530.3 657.7L529.8 657.3L529.3 656.9L528.8 656.5L528.4 656.2L528.0 655.7L527.6 655.3L527.3 654.9L527.0 654.5L526.7 654.1L526.4 653.6L526.2 653.2L526.0 652.8L525.9 652.3L525.7 651.9L525.6 651.4L525.5 651.0L525.5 650.5L525.5 650.1L525.5 649.6L525.5 649.2L525.6 648.7L525.7 648.3L525.9 647.8L526.0 647.4L526.2 646.9L526.4 646.5L526.7 646.1L527.0 645.6L527.3 645.2L527.6 644.8L528.0 644.4L528.4 644.0L528.8 643.6L529.3 643.2L529.8 642.8L530.3 642.4L530.8 642.1L531.3 641.7L531.9 641.4L532.5 641.1L533.1 640.7L533.8 640.4L534.4 640.1L535.1 639.8L535.8 639.6L536.5 639.3L537.3 639.1L538.0 638.8L538.8 638.6L539.6 638.4L540.4 638.2L541.2 638.0L542.0 637.9L542.8 637.7L543.7 637.6L544.5 637.5L545.4 637.4L546.2 637.3L547.1 637.2L548.0 637.2L548.8 637.1L549.7 637.1L550.6 637.1L551.5 637.1L552.3 637.1L553.2 637.2L554.1 637.2L554.9 637.3L555.8 637.4L556.7 637.5L557.5 637.6L558.3 637.7L559.2 637.9L560.0 638.0L560.8 638.2L561.6 638.4L562.4 638.6L563.1 638.8L563.9 639.1L564.6 639.3L565.3 639.6L566.0 639.8L566.7 640.1L567.4 640.4L568.0 640.7L568.6 641.1L569.2 641.4L569.8 641.7L570.4 642.1L570.9 642.4L571.4 642.8L571.9 643.2L572.3 643.6L572.8 644.0L573.2 644.4L573.5 644.8L573.9 645.2L574.2 645.6L574.5 646.1L574.7 646.5L574.9 646.9L575.1 647.4L575.3 647.8L575.4 648.3L575.6 648.7L575.6 649.2L575.7 649.6L575.7 650.1Z"/></clipPath><g clip-path="url(#cp6)">
<clipPath id="cp7"><path d="M597.5 623.4L597.5 624.8L597.3 626.1L597.1 627.4L596.7 628.8L596.3 630.1L595.7 631.4L595.1 632.8L594.4 634.1L593.5 635.4L592.6 636.6L591.5 637.9L590.4 639.1L589.2 640.4L587.9 641.6L586.5 642.8L585.0 643.9L583.4 645.0L581.8 646.2L580.1 647.2L578.3 648.3L576.4 649.3L574.4 650.3L572.4 651.2L570.3 652.2L568.1 653.1L565.9 653.9L563.6 654.7L561.2 655.5L558.8 656.2L556.3 656.9L553.8 657.6L551.2 658.2L548.6 658.8L546.0 659.3L543.3 659.8L540.6 660.2L537.8 660.6L535.0 661.0L532.2 661.3L529.4 661.5L526.6 661.7L523.7 661.9L520.9 662.0L518.0 662.1L515.1 662.1L512.2 662.1L509.3 662.0L506.5 661.9L503.6 661.7L500.8 661.5L498.0 661.3L495.2 661.0L492.4 660.6L489.6 660.2L486.9 659.8L484.2 659.3L481.6 658.8L479.0 658.2L476.4 657.6L473.9 656.9L471.4 656.2L469.0 655.5L466.6 654.7L464.3 653.9L462.1 653.1L459.9 652.2L457.8 651.2L455.8 650.3L453.8 649.3L451.9 648.3L450.1 647.2L448.4 646.2L446.8 645.0L445.2 643.9L443.7 642.8L442.3 641.6L441.0 640.4L439.8 639.1L438.7 637.9L437.6 636.6L436.7 635.4L435.8 634.1L435.1 632.8L434.5 631.4L433.9 630.1L433.5 628.8L433.1 627.4L432.9 626.1L432.7 624.8L432.7 623.4L432.7 622.0L432.9 620.7L433.1 619.4L433.5 618.0L433.9 616.7L434.5 615.4L435.1 614.0L435.8 612.7L436.7 611.4L437.6 610.2L438.7 608.9L439.8 607.7L441.0 606.4L442.3 605.2L443.7 604.0L445.2 602.9L446.8 601.8L448.4 600.6L450.1 599.6L451.9 598.5L453.8 597.5L455.8 596.5L457.8 595.6L459.9 594.6L462.1 593.7L464.3 592.9L466.6 592.1L469.0 591.3L471.4 590.6L473.9 589.9L476.4 589.2L479.0 588.6L481.6 588.0L484.2 587.5L486.9 587.0L489.6 586.6L492.4 586.2L495.2 585.8L498.0 585.5L500.8 585.3L503.6 585.1L506.5 584.9L509.3 584.8L512.2 584.7L515.1 584.7L518.0 584.7L520.9 584.8L523.7 584.9L526.6 585.1L529.4 585.3L532.2 585.5L535.0 585.8L537.8 586.2L540.6 586.6L543.3 587.0L546.0 587.5L548.6 588.0L551.2 588.6L553.8 589.2L556.3 589.9L558.8 590.6L561.2 591.3L563.6 592.1L565.9 592.9L568.1 593.7L570.3 594.6L572.4 595.6L574.4 596.5L576.4 597.5L578.3 598.5L580.1 599.6L581.8 600.6L583.4 601.8L585.0 602.9L586.5 604.0L587.9 605.2L589.2 606.4L590.4 607.7L591.5 608.9L592.6 610.2L593.5 611.4L594.4 612.7L595.1 614.0L595.7 615.4L596.3 616.7L596.7 618.0L597.1 619.4L597.3 620.7L597.5 622.0L597.5 623.4Z"/></clipPath><g clip-path="url(#cp7)">
<path d="M525.5 655.1L525.5 654.4L525.6 653.7L525.8 653.0L526.0 652.4L526.3 651.7L526.7 651.1L527.1 650.4L527.6 649.8L528.2 649.2L528.8 648.6L529.5 648.0L530.3 647.4L531.1 646.9L531.9 646.4L532.8 645.9L533.8 645.4L534.8 645.0L535.8 644.6L536.9 644.2L538.0 643.8L539.2 643.5L540.4 643.2L541.6 643.0L542.8 642.7L544.1 642.5L545.4 642.4L546.7 642.3L548.0 642.2L549.3 642.1L550.6 642.1L551.9 642.1L553.2 642.2L554.5 642.3L555.8 642.4L557.1 642.5L558.3 642.7L559.6 643.0L560.8 643.2L562.0 643.5L563.1 643.8L564.3 644.2L565.3 644.6L566.4 645.0L567.4 645.4L568.3 645.9L569.2 646.4L570.1 646.9L570.9 647.4L571.6 648.0L572.3 648.6L573.0 649.2L573.5 649.8L574.0 650.4L574.5 651.1L574.8 651.7L575.1 652.4L575.4 653.0L575.6 653.7L575.7 654.4L575.7 655.1" stroke-width="1.5" />
</g>
</g>
<clipPath id="cp8"><path d="M597.5 623.4L597.5 624.8L597.3 626.1L597.1 627.4L596.7 628.8L596.3 630.1L595.7 631.4L595.1 632.8L594.4 634.1L593.5 635.4L592.6 636.6L591.5 637.9L590.4 639.1L589.2 640.4L587.9 641.6L586.5 642.8L585.0 643.9L583.4 645.0L581.8 646.2L580.1 647.2L578.3 648.3L576.4 649.3L574.4 650.3L572.4 651.2L570.3 652.2L568.1 653.1L565.9 653.9L563.6 654.7L561.2 655.5L558.8 656.2L556.3 656.9L553.8 657.6L551.2 658.2L548.6 658.8L546.0 659.3L543.3 659.8L540.6 660.2L537.8 660.6L535.0 661.0L532.2 661.3L529.4 661.5L526.6 661.7L523.7 661.9L520.9 662.0L518.0 662.1L515.1 662.1L512.2 662.1L509.3 662.0L506.5 661.9L503.6 661.7L500.8 661.5L498.0 661.3L495.2 661.0L492.4 660.6L489.6 660.2L486.9 659.8L484.2 659.3L481.6 658.8L479.0 658.2L476.4 657.6L473.9 656.9L471.4 656.2L469.0 655.5L466.6 654.7L464.3 653.9L462.1 653.1L459.9 652.2L457.8 651.2L455.8 650.3L453.8 649.3L451.9 648.3L450.1 647.2L448.4 646.2L446.8 645.0L445.2 643.9L443.7 642.8L442.3 641.6L441.0 640.4L439.8 639.1L438.7 637.9L437.6 636.6L436.7 635.4L435.8 634.1L435.1 632.8L434.5 631.4L433.9 630.1L433.5 628.8L433.1 627.4L432.9 626.1L432.7 624.8L432.7 623.4L432.7 622.0L432.9 620.7L433.1 619.4L433.5 618.0L433.9 616.7L434.5 615.4L435.1 614.0L435.8 612.7L436.7 611.4L437.6 610.2L438.7 608.9L439.8 607.7L441.0 606.4L442.3 605.2L443.7 604.0L445.2 602.9L446.8 601.8L448.4 600.6L450.1 599.6L451.9 598.5L453.8 597.5L455.8 596.5L457.8 595.6L459.9 594.6L462.1 593.7L464.3 592.9L466.6 592.1L469.0 591.3L471.4 590.6L473.9 589.9L476.4 589.2L479.0 588.6L481.6 588.0L484.2 587.5L486.9 587.0L489.6 586.6L492.4 586.2L495.2 585.8L498.0 585.5L500.8 585.3L503.6 585.1L506.5 584.9L509.3 584.8L512.2 584.7L515.1 584.7L518.0 584.7L520.9 584.8L523.7 584.9L526.6 585.1L529.4 585.3L532.2 585.5L535.0 585.8L537.8 586.2L540.6 586.6L543.3 587.0L546.0 587.5L548.6 588.0L551.2 588.6L553.8 589.2L556.3 589.9L558.8 590.6L561.2 591.3L563.6 592.1L565.9 592.9L568.1 593.7L570.3 594.6L572.4 595.6L574.4 596.5L576.4 597.5L578.3 598.5L580.1 599.6L581.8 600.6L583.4 601.8L585.0 602.9L586.5 604.0L587.9 605.2L589.2 606.4L590.4 607.7L591.5 608.9L592.6 610.2L593.5 611.4L594.4 612.7L595.1 614.0L595.7 615.4L596.3 616.7L596.7 618.0L597.1 619.4L597.3 620.7L597.5 622.0L597.5 623.4Z"/></clipPath><g clip-path="url(#cp8)">
<path d="M504.7 650.1L504.7 650.5L504.7 651.0L504.6 651.4L504.5 651.9L504.3 652.3L504.2 652.8L504.0 653.2L503.8 653.6L503.5 654.1L503.2 654.5L502.9 654.9L502.6 655.3L502.2 655.7L501.8 656.2L501.4 656.5L500.9 656.9L500.4 657.3L499.9 657.7L499.4 658.0L498.9 658.4L498.3 658.7L497.7 659.1L497.1 659.4L496.4 659.7L495.8 660.0L495.1 660.3L494.4 660.6L493.7 660.8L492.9 661.1L492.2 661.3L491.4 661.5L490.6 661.7L489.8 661.9L489.0 662.1L488.2 662.2L487.4 662.4L486.5 662.5L485.7 662.6L484.8 662.7L484.0 662.8L483.1 662.9L482.2 663.0L481.4 663.0L480.5 663.0L479.6 663.0L478.7 663.0L477.9 663.0L477.0 663.0L476.1 662.9L475.3 662.8L474.4 662.7L473.5 662.6L472.7 662.5L471.9 662.4L471.0 662.2L470.2 662.1L469.4 661.9L468.6 661.7L467.8 661.5L467.1 661.3L466.3 661.1L465.6 660.8L464.9 660.6L464.2 660.3L463.5 660.0L462.8 659.7L462.2 659.4L461.6 659.1L461.0 658.7L460.4 658.4L459.8 658.0L459.3 657.7L458.8 657.3L458.3 656.9L457.9 656.5L457.4 656.2L457.0 655.7L456.7 655.3L456.3 654.9L456.0 654.5L455.7 654.1L455.5 653.6L455.3 653.2L455.1 652.8L454.9 652.3L454.8 651.9L454.6 651.4L454.6 651.0L454.5 650.5L454.5 650.1L454.5 649.6L454.6 649.2L454.6 648.7L454.8 648.3L454.9 647.8L455.1 647.4L455.3 646.9L455.5 646.5L455.7 646.1L456.0 645.6L456.3 645.2L456.7 644.8L457.0 644.4L457.4 644.0L457.9 643.6L458.3 643.2L458.8 642.8L459.3 642.4L459.8 642.1L460.4 641.7L461.0 641.4L461.6 641.1L462.2 640.7L462.8 640.4L463.5 640.1L464.2 639.8L464.9 639.6L465.6 639.3L466.3 639.1L467.1 638.8L467.8 638.6L468.6 638.4L469.4 638.2L470.2 638.0L471.0 637.9L471.9 637.7L472.7 637.6L473.5 637.5L474.4 637.4L475.3 637.3L476.1 637.2L477.0 637.2L477.9 637.1L478.7 637.1L479.6 637.1L480.5 637.1L481.4 637.1L482.2 637.2L483.1 637.2L484.0 637.3L484.8 637.4L485.7 637.5L486.5 637.6L487.4 637.7L488.2 637.9L489.0 638.0L489.8 638.2L490.6 638.4L491.4 638.6L492.2 638.8L492.9 639.1L493.7 639.3L494.4 639.6L495.1 639.8L495.8 640.1L496.4 640.4L497.1 640.7L497.7 641.1L498.3 641.4L498.9 641.7L499.4 642.1L499.9 642.4L500.4 642.8L500.9 643.2L501.4 643.6L501.8 644.0L502.2 644.4L502.6 644.8L502.9 645.2L503.2 645.6L503.5 646.1L503.8 646.5L504.0 646.9L504.2 647.4L504.3 647.8L504.5 648.3L504.6 648.7L504.7 649.2L504.7 649.6L504.7 650.1Z" stroke-width="1.9" />
</g>
<clipPath id="cp9"><path d="M504.7 650.1L504.7 650.5L504.7 651.0L504.6 651.4L504.5 651.9L504.3 652.3L504.2 652.8L504.0 653.2L503.8 653.6L503.5 654.1L503.2 654.5L502.9 654.9L502.6 655.3L502.2 655.7L501.8 656.2L501.4 656.5L500.9 656.9L500.4 657.3L499.9 657.7L499.4 658.0L498.9 658.4L498.3 658.7L497.7 659.1L497.1 659.4L496.4 659.7L495.8 660.0L495.1 660.3L494.4 660.6L493.7 660.8L492.9 661.1L492.2 661.3L491.4 661.5L490.6 661.7L489.8 661.9L489.0 662.1L488.2 662.2L487.4 662.4L486.5 662.5L485.7 662.6L484.8 662.7L484.0 662.8L483.1 662.9L482.2 663.0L481.4 663.0L480.5 663.0L479.6 663.0L478.7 663.0L477.9 663.0L477.0 663.0L476.1 662.9L475.3 662.8L474.4 662.7L473.5 662.6L472.7 662.5L471.9 662.4L471.0 662.2L470.2 662.1L469.4 661.9L468.6 661.7L467.8 661.5L467.1 661.3L466.3 661.1L465.6 660.8L464.9 660.6L464.2 660.3L463.5 660.0L462.8 659.7L462.2 659.4L461.6 659.1L461.0 658.7L460.4 658.4L459.8 658.0L459.3 657.7L458.8 657.3L458.3 656.9L457.9 656.5L457.4 656.2L457.0 655.7L456.7 655.3L456.3 654.9L456.0 654.5L455.7 654.1L455.5 653.6L455.3 653.2L455.1 652.8L454.9 652.3L454.8 651.9L454.6 651.4L454.6 651.0L454.5 650.5L454.5 650.1L454.5 649.6L454.6 649.2L454.6 648.7L454.8 648.3L454.9 647.8L455.1 647.4L455.3 646.9L455.5 646.5L455.7 646.1L456.0 645.6L456.3 645.2L456.7 644.8L457.0 644.4L457.4 644.0L457.9 643.6L458.3 643.2L458.8 642.8L459.3 642.4L459.8 642.1L460.4 641.7L461.0 641.4L461.6 641.1L462.2 640.7L462.8 640.4L463.5 640.1L464.2 639.8L464.9 639.6L465.6 639.3L466.3 639.1L467.1 638.8L467.8 638.6L468.6 638.4L469.4 638.2L470.2 638.0L471.0 637.9L471.9 637.7L472.7 637.6L473.5 637.5L474.4 637.4L475.3 637.3L476.1 637.2L477.0 637.2L477.9 637.1L478.7 637.1L479.6 637.1L480.5 637.1L481.4 637.1L482.2 637.2L483.1 637.2L484.0 637.3L484.8 637.4L485.7 637.5L486.5 637.6L487.4 637.7L488.2 637.9L489.0 638.0L489.8 638.2L490.6 638.4L491.4 638.6L492.2 638.8L492.9 639.1L493.7 639.3L494.4 639.6L495.1 639.8L495.8 640.1L496.4 640.4L497.1 640.7L497.7 641.1L498.3 641.4L498.9 641.7L499.4 642.1L499.9 642.4L500.4 642.8L500.9 643.2L501.4 643.6L501.8 644.0L502.2 644.4L502.6 644.8L502.9 645.2L503.2 645.6L503.5 646.1L503.8 646.5L504.0 646.9L504.2 647.4L504.3 647.8L504.5 648.3L504.6 648.7L504.7 649.2L504.7 649.6L504.7 650.1Z"/></clipPath><g clip-path="url(#cp9)">
<clipPath id="cp10"><path d="M597.5 623.4L597.5 624.8L597.3 626.1L597.1 627.4L596.7 628.8L596.3 630.1L595.7 631.4L595.1 632.8L594.4 634.1L593.5 635.4L592.6 636.6L591.5 637.9L590.4 639.1L589.2 640.4L587.9 641.6L586.5 642.8L585.0 643.9L583.4 645.0L581.8 646.2L580.1 647.2L578.3 648.3L576.4 649.3L574.4 650.3L572.4 651.2L570.3 652.2L568.1 653.1L565.9 653.9L563.6 654.7L561.2 655.5L558.8 656.2L556.3 656.9L553.8 657.6L551.2 658.2L548.6 658.8L546.0 659.3L543.3 659.8L540.6 660.2L537.8 660.6L535.0 661.0L532.2 661.3L529.4 661.5L526.6 661.7L523.7 661.9L520.9 662.0L518.0 662.1L515.1 662.1L512.2 662.1L509.3 662.0L506.5 661.9L503.6 661.7L500.8 661.5L498.0 661.3L495.2 661.0L492.4 660.6L489.6 660.2L486.9 659.8L484.2 659.3L481.6 658.8L479.0 658.2L476.4 657.6L473.9 656.9L471.4 656.2L469.0 655.5L466.6 654.7L464.3 653.9L462.1 653.1L459.9 652.2L457.8 651.2L455.8 650.3L453.8 649.3L451.9 648.3L450.1 647.2L448.4 646.2L446.8 645.0L445.2 643.9L443.7 642.8L442.3 641.6L441.0 640.4L439.8 639.1L438.7 637.9L437.6 636.6L436.7 635.4L435.8 634.1L435.1 632.8L434.5 631.4L433.9 630.1L433.5 628.8L433.1 627.4L432.9 626.1L432.7 624.8L432.7 623.4L432.7 622.0L432.9 620.7L433.1 619.4L433.5 618.0L433.9 616.7L434.5 615.4L435.1 614.0L435.8 612.7L436.7 611.4L437.6 610.2L438.7 608.9L439.8 607.7L441.0 606.4L442.3 605.2L443.7 604.0L445.2 602.9L446.8 601.8L448.4 600.6L450.1 599.6L451.9 598.5L453.8 597.5L455.8 596.5L457.8 595.6L459.9 594.6L462.1 593.7L464.3 592.9L466.6 592.1L469.0 591.3L471.4 590.6L473.9 589.9L476.4 589.2L479.0 588.6L481.6 588.0L484.2 587.5L486.9 587.0L489.6 586.6L492.4 586.2L495.2 585.8L498.0 585.5L500.8 585.3L503.6 585.1L506.5 584.9L509.3 584.8L512.2 584.7L515.1 584.7L518.0 584.7L520.9 584.8L523.7 584.9L526.6 585.1L529.4 585.3L532.2 585.5L535.0 585.8L537.8 586.2L540.6 586.6L543.3 587.0L546.0 587.5L548.6 588.0L551.2 588.6L553.8 589.2L556.3 589.9L558.8 590.6L561.2 591.3L563.6 592.1L565.9 592.9L568.1 593.7L570.3 594.6L572.4 595.6L574.4 596.5L576.4 597.5L578.3 598.5L580.1 599.6L581.8 600.6L583.4 601.8L585.0 602.9L586.5 604.0L587.9 605.2L589.2 606.4L590.4 607.7L591.5 608.9L592.6 610.2L593.5 611.4L594.4 612.7L595.1 614.0L595.7 615.4L596.3 616.7L596.7 618.0L597.1 619.4L597.3 620.7L597.5 622.0L597.5 623.4Z"/></clipPath><g clip-path="url(#cp10)">
<path d="M454.5 655.1L454.5 654.4L454.6 653.7L454.8 653.0L455.1 652.4L455.4 651.7L455.7 651.1L456.2 650.4L456.7 649.8L457.2 649.2L457.9 648.6L458.6 648.0L459.3 647.4L460.1 646.9L461.0 646.4L461.9 645.9L462.8 645.4L463.8 645.0L464.9 644.6L465.9 644.2L467.1 643.8L468.2 643.5L469.4 643.2L470.6 643.0L471.9 642.7L473.1 642.5L474.4 642.4L475.7 642.3L477.0 642.2L478.3 642.1L479.6 642.1L480.9 642.1L482.2 642.2L483.5 642.3L484.8 642.4L486.1 642.5L487.4 642.7L488.6 643.0L489.8 643.2L491.0 643.5L492.2 643.8L493.3 644.2L494.4 644.6L495.4 645.0L496.4 645.4L497.4 645.9L498.3 646.4L499.1 646.9L499.9 647.4L500.7 648.0L501.4 648.6L502.0 649.2L502.6 649.8L503.1 650.4L503.5 651.1L503.9 651.7L504.2 652.4L504.4 653.0L504.6 653.7L504.7 654.4L504.7 655.1" stroke-width="1.5" />
</g>
</g>
<clipPath id="cp11"><path d="M597.5 623.4L597.5 624.8L597.3 626.1L597.1 627.4L596.7 628.8L596.3 630.1L595.7 631.4L595.1 632.8L594.4 634.1L593.5 635.4L592.6 636.6L591.5 637.9L590.4 639.1L589.2 640.4L587.9 641.6L586.5 642.8L585.0 643.9L583.4 645.0L581.8 646.2L580.1 647.2L578.3 648.3L576.4 649.3L574.4 650.3L572.4 651.2L570.3 652.2L568.1 653.1L565.9 653.9L563.6 654.7L561.2 655.5L558.8 656.2L556.3 656.9L553.8 657.6L551.2 658.2L548.6 658.8L546.0 659.3L543.3 659.8L540.6 660.2L537.8 660.6L535.0 661.0L532.2 661.3L529.4 661.5L526.6 661.7L523.7 661.9L520.9 662.0L518.0 662.1L515.1 662.1L512.2 662.1L509.3 662.0L506.5 661.9L503.6 661.7L500.8 661.5L498.0 661.3L495.2 661.0L492.4 660.6L489.6 660.2L486.9 659.8L484.2 659.3L481.6 658.8L479.0 658.2L476.4 657.6L473.9 656.9L471.4 656.2L469.0 655.5L466.6 654.7L464.3 653.9L462.1 653.1L459.9 652.2L457.8 651.2L455.8 650.3L453.8 649.3L451.9 648.3L450.1 647.2L448.4 646.2L446.8 645.0L445.2 643.9L443.7 642.8L442.3 641.6L441.0 640.4L439.8 639.1L438.7 637.9L437.6 636.6L436.7 635.4L435.8 634.1L435.1 632.8L434.5 631.4L433.9 630.1L433.5 628.8L433.1 627.4L432.9 626.1L432.7 624.8L432.7 623.4L432.7 622.0L432.9 620.7L433.1 619.4L433.5 618.0L433.9 616.7L434.5 615.4L435.1 614.0L435.8 612.7L436.7 611.4L437.6 610.2L438.7 608.9L439.8 607.7L441.0 606.4L442.3 605.2L443.7 604.0L445.2 602.9L446.8 601.8L448.4 600.6L450.1 599.6L451.9 598.5L453.8 597.5L455.8 596.5L457.8 595.6L459.9 594.6L462.1 593.7L464.3 592.9L466.6 592.1L469.0 591.3L471.4 590.6L473.9 589.9L476.4 589.2L479.0 588.6L481.6 588.0L484.2 587.5L486.9 587.0L489.6 586.6L492.4 586.2L495.2 585.8L498.0 585.5L500.8 585.3L503.6 585.1L506.5 584.9L509.3 584.8L512.2 584.7L515.1 584.7L518.0 584.7L520.9 584.8L523.7 584.9L526.6 585.1L529.4 585.3L532.2 585.5L535.0 585.8L537.8 586.2L540.6 586.6L543.3 587.0L546.0 587.5L548.6 588.0L551.2 588.6L553.8 589.2L556.3 589.9L558.8 590.6L561.2 591.3L563.6 592.1L565.9 592.9L568.1 593.7L570.3 594.6L572.4 595.6L574.4 596.5L576.4 597.5L578.3 598.5L580.1 599.6L581.8 600.6L583.4 601.8L585.0 602.9L586.5 604.0L587.9 605.2L589.2 606.4L590.4 607.7L591.5 608.9L592.6 610.2L593.5 611.4L594.4 612.7L595.1 614.0L595.7 615.4L596.3 616.7L596.7 618.0L597.1 619.4L597.3 620.7L597.5 622.0L597.5 623.4Z"/></clipPath><g clip-path="url(#cp11)">
<path d="M481.1 620.5L481.1 620.9L481.0 621.4L481.0 621.8L480.9 622.3L480.7 622.7L480.6 623.2L480.4 623.6L480.1 624.1L479.9 624.5L479.6 624.9L479.3 625.3L478.9 625.8L478.6 626.2L478.2 626.6L477.7 627.0L477.3 627.4L476.8 627.7L476.3 628.1L475.8 628.5L475.2 628.8L474.7 629.2L474.1 629.5L473.4 629.8L472.8 630.1L472.1 630.4L471.5 630.7L470.8 631.0L470.0 631.2L469.3 631.5L468.6 631.7L467.8 631.9L467.0 632.1L466.2 632.3L465.4 632.5L464.6 632.7L463.8 632.8L462.9 632.9L462.1 633.1L461.2 633.2L460.4 633.3L459.5 633.3L458.6 633.4L457.8 633.4L456.9 633.4L456.0 633.5L455.1 633.4L454.2 633.4L453.4 633.4L452.5 633.3L451.6 633.3L450.8 633.2L449.9 633.1L449.1 632.9L448.2 632.8L447.4 632.7L446.6 632.5L445.8 632.3L445.0 632.1L444.2 631.9L443.4 631.7L442.7 631.5L442.0 631.2L441.2 631.0L440.5 630.7L439.9 630.4L439.2 630.1L438.6 629.8L437.9 629.5L437.3 629.2L436.8 628.8L436.2 628.5L435.7 628.1L435.2 627.7L434.7 627.4L434.3 627.0L433.8 626.6L433.4 626.2L433.1 625.8L432.7 625.3L432.4 624.9L432.1 624.5L431.9 624.1L431.6 623.6L431.4 623.2L431.3 622.7L431.1 622.3L431.0 621.8L430.9 621.4L430.9 620.9L430.9 620.5L430.9 620.0L430.9 619.6L431.0 619.1L431.1 618.7L431.3 618.2L431.4 617.8L431.6 617.3L431.9 616.9L432.1 616.5L432.4 616.0L432.7 615.6L433.1 615.2L433.4 614.8L433.8 614.4L434.3 614.0L434.7 613.6L435.2 613.2L435.7 612.9L436.2 612.5L436.8 612.1L437.3 611.8L437.9 611.5L438.6 611.2L439.2 610.8L439.9 610.5L440.5 610.3L441.2 610.0L442.0 609.7L442.7 609.5L443.4 609.3L444.2 609.0L445.0 608.8L445.8 608.6L446.6 608.5L447.4 608.3L448.2 608.1L449.1 608.0L449.9 607.9L450.8 607.8L451.6 607.7L452.5 607.6L453.4 607.6L454.2 607.5L455.1 607.5L456.0 607.5L456.9 607.5L457.8 607.5L458.6 607.6L459.5 607.6L460.4 607.7L461.2 607.8L462.1 607.9L462.9 608.0L463.8 608.1L464.6 608.3L465.4 608.5L466.2 608.6L467.0 608.8L467.8 609.0L468.6 609.3L469.3 609.5L470.0 609.7L470.8 610.0L471.5 610.3L472.1 610.5L472.8 610.8L473.4 611.2L474.1 611.5L474.7 611.8L475.2 612.1L475.8 612.5L476.3 612.9L476.8 613.2L477.3 613.6L477.7 614.0L478.2 614.4L478.6 614.8L478.9 615.2L479.3 615.6L479.6 616.0L479.9 616.5L480.1 616.9L480.4 617.3L480.6 617.8L480.7 618.2L480.9 618.7L481.0 619.1L481.0 619.6L481.1 620.0L481.1 620.5Z" stroke-width="1.9" />
</g>
<clipPath id="cp12"><path d="M481.1 620.5L481.1 620.9L481.0 621.4L481.0 621.8L480.9 622.3L480.7 622.7L480.6 623.2L480.4 623.6L480.1 624.1L479.9 624.5L479.6 624.9L479.3 625.3L478.9 625.8L478.6 626.2L478.2 626.6L477.7 627.0L477.3 627.4L476.8 627.7L476.3 628.1L475.8 628.5L475.2 628.8L474.7 629.2L474.1 629.5L473.4 629.8L472.8 630.1L472.1 630.4L471.5 630.7L470.8 631.0L470.0 631.2L469.3 631.5L468.6 631.7L467.8 631.9L467.0 632.1L466.2 632.3L465.4 632.5L464.6 632.7L463.8 632.8L462.9 632.9L462.1 633.1L461.2 633.2L460.4 633.3L459.5 633.3L458.6 633.4L457.8 633.4L456.9 633.4L456.0 633.5L455.1 633.4L454.2 633.4L453.4 633.4L452.5 633.3L451.6 633.3L450.8 633.2L449.9 633.1L449.1 632.9L448.2 632.8L447.4 632.7L446.6 632.5L445.8 632.3L445.0 632.1L444.2 631.9L443.4 631.7L442.7 631.5L442.0 631.2L441.2 631.0L440.5 630.7L439.9 630.4L439.2 630.1L438.6 629.8L437.9 629.5L437.3 629.2L436.8 628.8L436.2 628.5L435.7 628.1L435.2 627.7L434.7 627.4L434.3 627.0L433.8 626.6L433.4 626.2L433.1 625.8L432.7 625.3L432.4 624.9L432.1 624.5L431.9 624.1L431.6 623.6L431.4 623.2L431.3 622.7L431.1 622.3L431.0 621.8L430.9 621.4L430.9 620.9L430.9 620.5L430.9 620.0L430.9 619.6L431.0 619.1L431.1 618.7L431.3 618.2L431.4 617.8L431.6 617.3L431.9 616.9L432.1 616.5L432.4 616.0L432.7 615.6L433.1 615.2L433.4 614.8L433.8 614.4L434.3 614.0L434.7 613.6L435.2 613.2L435.7 612.9L436.2 612.5L436.8 612.1L437.3 611.8L437.9 611.5L438.6 611.2L439.2 610.8L439.9 610.5L440.5 610.3L441.2 610.0L442.0 609.7L442.7 609.5L443.4 609.3L444.2 609.0L445.0 608.8L445.8 608.6L446.6 608.5L447.4 608.3L448.2 608.1L449.1 608.0L449.9 607.9L450.8 607.8L451.6 607.7L452.5 607.6L453.4 607.6L454.2 607.5L455.1 607.5L456.0 607.5L456.9 607.5L457.8 607.5L458.6 607.6L459.5 607.6L460.4 607.7L461.2 607.8L462.1 607.9L462.9 608.0L463.8 608.1L464.6 608.3L465.4 608.5L466.2 608.6L467.0 608.8L467.8 609.0L468.6 609.3L469.3 609.5L470.0 609.7L470.8 610.0L471.5 610.3L472.1 610.5L472.8 610.8L473.4 611.2L474.1 611.5L474.7 611.8L475.2 612.1L475.8 612.5L476.3 612.9L476.8 613.2L477.3 613.6L477.7 614.0L478.2 614.4L478.6 614.8L478.9 615.2L479.3 615.6L479.6 616.0L479.9 616.5L480.1 616.9L480.4 617.3L480.6 617.8L480.7 618.2L480.9 618.7L481.0 619.1L481.0 619.6L481.1 620.0L481.1 620.5Z"/></clipPath><g clip-path="url(#cp12)">
<clipPath id="cp13"><path d="M597.5 623.4L597.5 624.8L597.3 626.1L597.1 627.4L596.7 628.8L596.3 630.1L595.7 631.4L595.1 632.8L594.4 634.1L593.5 635.4L592.6 636.6L591.5 637.9L590.4 639.1L589.2 640.4L587.9 641.6L586.5 642.8L585.0 643.9L583.4 645.0L581.8 646.2L580.1 647.2L578.3 648.3L576.4 649.3L574.4 650.3L572.4 651.2L570.3 652.2L568.1 653.1L565.9 653.9L563.6 654.7L561.2 655.5L558.8 656.2L556.3 656.9L553.8 657.6L551.2 658.2L548.6 658.8L546.0 659.3L543.3 659.8L540.6 660.2L537.8 660.6L535.0 661.0L532.2 661.3L529.4 661.5L526.6 661.7L523.7 661.9L520.9 662.0L518.0 662.1L515.1 662.1L512.2 662.1L509.3 662.0L506.5 661.9L503.6 661.7L500.8 661.5L498.0 661.3L495.2 661.0L492.4 660.6L489.6 660.2L486.9 659.8L484.2 659.3L481.6 658.8L479.0 658.2L476.4 657.6L473.9 656.9L471.4 656.2L469.0 655.5L466.6 654.7L464.3 653.9L462.1 653.1L459.9 652.2L457.8 651.2L455.8 650.3L453.8 649.3L451.9 648.3L450.1 647.2L448.4 646.2L446.8 645.0L445.2 643.9L443.7 642.8L442.3 641.6L441.0 640.4L439.8 639.1L438.7 637.9L437.6 636.6L436.7 635.4L435.8 634.1L435.1 632.8L434.5 631.4L433.9 630.1L433.5 628.8L433.1 627.4L432.9 626.1L432.7 624.8L432.7 623.4L432.7 622.0L432.9 620.7L433.1 619.4L433.5 618.0L433.9 616.7L434.5 615.4L435.1 614.0L435.8 612.7L436.7 611.4L437.6 610.2L438.7 608.9L439.8 607.7L441.0 606.4L442.3 605.2L443.7 604.0L445.2 602.9L446.8 601.8L448.4 600.6L450.1 599.6L451.9 598.5L453.8 597.5L455.8 596.5L457.8 595.6L459.9 594.6L462.1 593.7L464.3 592.9L466.6 592.1L469.0 591.3L471.4 590.6L473.9 589.9L476.4 589.2L479.0 588.6L481.6 588.0L484.2 587.5L486.9 587.0L489.6 586.6L492.4 586.2L495.2 585.8L498.0 585.5L500.8 585.3L503.6 585.1L506.5 584.9L509.3 584.8L512.2 584.7L515.1 584.7L518.0 584.7L520.9 584.8L523.7 584.9L526.6 585.1L529.4 585.3L532.2 585.5L535.0 585.8L537.8 586.2L540.6 586.6L543.3 587.0L546.0 587.5L548.6 588.0L551.2 588.6L553.8 589.2L556.3 589.9L558.8 590.6L561.2 591.3L563.6 592.1L565.9 592.9L568.1 593.7L570.3 594.6L572.4 595.6L574.4 596.5L576.4 597.5L578.3 598.5L580.1 599.6L581.8 600.6L583.4 601.8L585.0 602.9L586.5 604.0L587.9 605.2L589.2 606.4L590.4 607.7L591.5 608.9L592.6 610.2L593.5 611.4L594.4 612.7L595.1 614.0L595.7 615.4L596.3 616.7L596.7 618.0L597.1 619.4L597.3 620.7L597.5 622.0L597.5 623.4Z"/></clipPath><g clip-path="url(#cp13)">
<path d="M430.9 625.5L430.9 624.8L431.0 624.1L431.2 623.5L431.4 622.8L431.7 622.1L432.1 621.5L432.6 620.8L433.1 620.2L433.6 619.6L434.3 619.0L434.9 618.4L435.7 617.9L436.5 617.3L437.3 616.8L438.2 616.3L439.2 615.8L440.2 615.4L441.2 615.0L442.3 614.6L443.4 614.3L444.6 613.9L445.8 613.6L447.0 613.4L448.2 613.1L449.5 613.0L450.8 612.8L452.1 612.7L453.4 612.6L454.7 612.5L456.0 612.5L457.3 612.5L458.6 612.6L459.9 612.7L461.2 612.8L462.5 613.0L463.8 613.1L465.0 613.4L466.2 613.6L467.4 613.9L468.6 614.3L469.7 614.6L470.8 615.0L471.8 615.4L472.8 615.8L473.8 616.3L474.7 616.8L475.5 617.3L476.3 617.9L477.1 618.4L477.7 619.0L478.4 619.6L478.9 620.2L479.4 620.8L479.9 621.5L480.3 622.1L480.6 622.8L480.8 623.5L481.0 624.1L481.1 624.8L481.1 625.5" stroke-width="1.5" />
</g>
</g>
<clipPath id="cp14"><path d="M597.5 623.4L597.5 624.8L597.3 626.1L597.1 627.4L596.7 628.8L596.3 630.1L595.7 631.4L595.1 632.8L594.4 634.1L593.5 635.4L592.6 636.6L591.5 637.9L590.4 639.1L589.2 640.4L587.9 641.6L586.5 642.8L585.0 643.9L583.4 645.0L581.8 646.2L580.1 647.2L578.3 648.3L576.4 649.3L574.4 650.3L572.4 651.2L570.3 652.2L568.1 653.1L565.9 653.9L563.6 654.7L561.2 655.5L558.8 656.2L556.3 656.9L553.8 657.6L551.2 658.2L548.6 658.8L546.0 659.3L543.3 659.8L540.6 660.2L537.8 660.6L535.0 661.0L532.2 661.3L529.4 661.5L526.6 661.7L523.7 661.9L520.9 662.0L518.0 662.1L515.1 662.1L512.2 662.1L509.3 662.0L506.5 661.9L503.6 661.7L500.8 661.5L498.0 661.3L495.2 661.0L492.4 660.6L489.6 660.2L486.9 659.8L484.2 659.3L481.6 658.8L479.0 658.2L476.4 657.6L473.9 656.9L471.4 656.2L469.0 655.5L466.6 654.7L464.3 653.9L462.1 653.1L459.9 652.2L457.8 651.2L455.8 650.3L453.8 649.3L451.9 648.3L450.1 647.2L448.4 646.2L446.8 645.0L445.2 643.9L443.7 642.8L442.3 641.6L441.0 640.4L439.8 639.1L438.7 637.9L437.6 636.6L436.7 635.4L435.8 634.1L435.1 632.8L434.5 631.4L433.9 630.1L433.5 628.8L433.1 627.4L432.9 626.1L432.7 624.8L432.7 623.4L432.7 622.0L432.9 620.7L433.1 619.4L433.5 618.0L433.9 616.7L434.5 615.4L435.1 614.0L435.8 612.7L436.7 611.4L437.6 610.2L438.7 608.9L439.8 607.7L441.0 606.4L442.3 605.2L443.7 604.0L445.2 602.9L446.8 601.8L448.4 600.6L450.1 599.6L451.9 598.5L453.8 597.5L455.8 596.5L457.8 595.6L459.9 594.6L462.1 593.7L464.3 592.9L466.6 592.1L469.0 591.3L471.4 590.6L473.9 589.9L476.4 589.2L479.0 588.6L481.6 588.0L484.2 587.5L486.9 587.0L489.6 586.6L492.4 586.2L495.2 585.8L498.0 585.5L500.8 585.3L503.6 585.1L506.5 584.9L509.3 584.8L512.2 584.7L515.1 584.7L518.0 584.7L520.9 584.8L523.7 584.9L526.6 585.1L529.4 585.3L532.2 585.5L535.0 585.8L537.8 586.2L540.6 586.6L543.3 587.0L546.0 587.5L548.6 588.0L551.2 588.6L553.8 589.2L556.3 589.9L558.8 590.6L561.2 591.3L563.6 592.1L565.9 592.9L568.1 593.7L570.3 594.6L572.4 595.6L574.4 596.5L576.4 597.5L578.3 598.5L580.1 599.6L581.8 600.6L583.4 601.8L585.0 602.9L586.5 604.0L587.9 605.2L589.2 606.4L590.4 607.7L591.5 608.9L592.6 610.2L593.5 611.4L594.4 612.7L595.1 614.0L595.7 615.4L596.3 616.7L596.7 618.0L597.1 619.4L597.3 620.7L597.5 622.0L597.5 623.4Z"/></clipPath><g clip-path="url(#cp14)">
<path d="M509.2 598.2L509.2 598.7L509.2 599.1L509.1 599.6L509.0 600.0L508.9 600.5L508.7 600.9L508.5 601.4L508.3 601.8L508.0 602.2L507.7 602.6L507.4 603.1L507.1 603.5L506.7 603.9L506.3 604.3L505.9 604.7L505.4 605.1L504.9 605.5L504.4 605.8L503.9 606.2L503.4 606.6L502.8 606.9L502.2 607.2L501.6 607.5L500.9 607.9L500.3 608.1L499.6 608.4L498.9 608.7L498.2 609.0L497.4 609.2L496.7 609.4L495.9 609.7L495.1 609.9L494.3 610.1L493.5 610.2L492.7 610.4L491.9 610.5L491.1 610.7L490.2 610.8L489.4 610.9L488.5 611.0L487.6 611.1L486.8 611.1L485.9 611.2L485.0 611.2L484.1 611.2L483.3 611.2L482.4 611.2L481.5 611.1L480.6 611.1L479.8 611.0L478.9 610.9L478.1 610.8L477.2 610.7L476.4 610.5L475.5 610.4L474.7 610.2L473.9 610.1L473.1 609.9L472.3 609.7L471.6 609.4L470.8 609.2L470.1 609.0L469.4 608.7L468.7 608.4L468.0 608.1L467.3 607.9L466.7 607.5L466.1 607.2L465.5 606.9L464.9 606.6L464.3 606.2L463.8 605.8L463.3 605.5L462.8 605.1L462.4 604.7L462.0 604.3L461.6 603.9L461.2 603.5L460.8 603.1L460.5 602.6L460.2 602.2L460.0 601.8L459.8 601.4L459.6 600.9L459.4 600.5L459.3 600.0L459.2 599.6L459.1 599.1L459.0 598.7L459.0 598.2L459.0 597.8L459.1 597.3L459.2 596.9L459.3 596.4L459.4 596.0L459.6 595.5L459.8 595.1L460.0 594.6L460.2 594.2L460.5 593.8L460.8 593.4L461.2 592.9L461.6 592.5L462.0 592.1L462.4 591.7L462.8 591.3L463.3 591.0L463.8 590.6L464.3 590.2L464.9 589.9L465.5 589.5L466.1 589.2L466.7 588.9L467.3 588.6L468.0 588.3L468.7 588.0L469.4 587.7L470.1 587.5L470.8 587.2L471.6 587.0L472.3 586.8L473.1 586.6L473.9 586.4L474.7 586.2L475.5 586.0L476.4 585.9L477.2 585.7L478.1 585.6L478.9 585.5L479.8 585.4L480.6 585.4L481.5 585.3L482.4 585.3L483.3 585.3L484.1 585.2L485.0 585.3L485.9 585.3L486.8 585.3L487.6 585.4L488.5 585.4L489.4 585.5L490.2 585.6L491.1 585.7L491.9 585.9L492.7 586.0L493.5 586.2L494.3 586.4L495.1 586.6L495.9 586.8L496.7 587.0L497.4 587.2L498.2 587.5L498.9 587.7L499.6 588.0L500.3 588.3L500.9 588.6L501.6 588.9L502.2 589.2L502.8 589.5L503.4 589.9L503.9 590.2L504.4 590.6L504.9 591.0L505.4 591.3L505.9 591.7L506.3 592.1L506.7 592.5L507.1 592.9L507.4 593.4L507.7 593.8L508.0 594.2L508.3 594.6L508.5 595.1L508.7 595.5L508.9 596.0L509.0 596.4L509.1 596.9L509.2 597.3L509.2 597.8L509.2 598.2Z" stroke-width="1.9" />
</g>
<clipPath id="cp15"><path d="M509.2 598.2L509.2 598.7L509.2 599.1L509.1 599.6L509.0 600.0L508.9 600.5L508.7 600.9L508.5 601.4L508.3 601.8L508.0 602.2L507.7 602.6L507.4 603.1L507.1 603.5L506.7 603.9L506.3 604.3L505.9 604.7L505.4 605.1L504.9 605.5L504.4 605.8L503.9 606.2L503.4 606.6L502.8 606.9L502.2 607.2L501.6 607.5L500.9 607.9L500.3 608.1L499.6 608.4L498.9 608.7L498.2 609.0L497.4 609.2L496.7 609.4L495.9 609.7L495.1 609.9L494.3 610.1L493.5 610.2L492.7 610.4L491.9 610.5L491.1 610.7L490.2 610.8L489.4 610.9L488.5 611.0L487.6 611.1L486.8 611.1L485.9 611.2L485.0 611.2L484.1 611.2L483.3 611.2L482.4 611.2L481.5 611.1L480.6 611.1L479.8 611.0L478.9 610.9L478.1 610.8L477.2 610.7L476.4 610.5L475.5 610.4L474.7 610.2L473.9 610.1L473.1 609.9L472.3 609.7L471.6 609.4L470.8 609.2L470.1 609.0L469.4 608.7L468.7 608.4L468.0 608.1L467.3 607.9L466.7 607.5L466.1 607.2L465.5 606.9L464.9 606.6L464.3 606.2L463.8 605.8L463.3 605.5L462.8 605.1L462.4 604.7L462.0 604.3L461.6 603.9L461.2 603.5L460.8 603.1L460.5 602.6L460.2 602.2L460.0 601.8L459.8 601.4L459.6 600.9L459.4 600.5L459.3 600.0L459.2 599.6L459.1 599.1L459.0 598.7L459.0 598.2L459.0 597.8L459.1 597.3L459.2 596.9L459.3 596.4L459.4 596.0L459.6 595.5L459.8 595.1L460.0 594.6L460.2 594.2L460.5 593.8L460.8 593.4L461.2 592.9L461.6 592.5L462.0 592.1L462.4 591.7L462.8 591.3L463.3 591.0L463.8 590.6L464.3 590.2L464.9 589.9L465.5 589.5L466.1 589.2L466.7 588.9L467.3 588.6L468.0 588.3L468.7 588.0L469.4 587.7L470.1 587.5L470.8 587.2L471.6 587.0L472.3 586.8L473.1 586.6L473.9 586.4L474.7 586.2L475.5 586.0L476.4 585.9L477.2 585.7L478.1 585.6L478.9 585.5L479.8 585.4L480.6 585.4L481.5 585.3L482.4 585.3L483.3 585.3L484.1 585.2L485.0 585.3L485.9 585.3L486.8 585.3L487.6 585.4L488.5 585.4L489.4 585.5L490.2 585.6L491.1 585.7L491.9 585.9L492.7 586.0L493.5 586.2L494.3 586.4L495.1 586.6L495.9 586.8L496.7 587.0L497.4 587.2L498.2 587.5L498.9 587.7L499.6 588.0L500.3 588.3L500.9 588.6L501.6 588.9L502.2 589.2L502.8 589.5L503.4 589.9L503.9 590.2L504.4 590.6L504.9 591.0L505.4 591.3L505.9 591.7L506.3 592.1L506.7 592.5L507.1 592.9L507.4 593.4L507.7 593.8L508.0 594.2L508.3 594.6L508.5 595.1L508.7 595.5L508.9 596.0L509.0 596.4L509.1 596.9L509.2 597.3L509.2 597.8L509.2 598.2Z"/></clipPath><g clip-path="url(#cp15)">
<clipPath id="cp16"><path d="M597.5 623.4L597.5 624.8L597.3 626.1L597.1 627.4L596.7 628.8L596.3 630.1L595.7 631.4L595.1 632.8L594.4 634.1L593.5 635.4L592.6 636.6L591.5 637.9L590.4 639.1L589.2 640.4L587.9 641.6L586.5 642.8L585.0 643.9L583.4 645.0L581.8 646.2L580.1 647.2L578.3 648.3L576.4 649.3L574.4 650.3L572.4 651.2L570.3 652.2L568.1 653.1L565.9 653.9L563.6 654.7L561.2 655.5L558.8 656.2L556.3 656.9L553.8 657.6L551.2 658.2L548.6 658.8L546.0 659.3L543.3 659.8L540.6 660.2L537.8 660.6L535.0 661.0L532.2 661.3L529.4 661.5L526.6 661.7L523.7 661.9L520.9 662.0L518.0 662.1L515.1 662.1L512.2 662.1L509.3 662.0L506.5 661.9L503.6 661.7L500.8 661.5L498.0 661.3L495.2 661.0L492.4 660.6L489.6 660.2L486.9 659.8L484.2 659.3L481.6 658.8L479.0 658.2L476.4 657.6L473.9 656.9L471.4 656.2L469.0 655.5L466.6 654.7L464.3 653.9L462.1 653.1L459.9 652.2L457.8 651.2L455.8 650.3L453.8 649.3L451.9 648.3L450.1 647.2L448.4 646.2L446.8 645.0L445.2 643.9L443.7 642.8L442.3 641.6L441.0 640.4L439.8 639.1L438.7 637.9L437.6 636.6L436.7 635.4L435.8 634.1L435.1 632.8L434.5 631.4L433.9 630.1L433.5 628.8L433.1 627.4L432.9 626.1L432.7 624.8L432.7 623.4L432.7 622.0L432.9 620.7L433.1 619.4L433.5 618.0L433.9 616.7L434.5 615.4L435.1 614.0L435.8 612.7L436.7 611.4L437.6 610.2L438.7 608.9L439.8 607.7L441.0 606.4L442.3 605.2L443.7 604.0L445.2 602.9L446.8 601.8L448.4 600.6L450.1 599.6L451.9 598.5L453.8 597.5L455.8 596.5L457.8 595.6L459.9 594.6L462.1 593.7L464.3 592.9L466.6 592.1L469.0 591.3L471.4 590.6L473.9 589.9L476.4 589.2L479.0 588.6L481.6 588.0L484.2 587.5L486.9 587.0L489.6 586.6L492.4 586.2L495.2 585.8L498.0 585.5L500.8 585.3L503.6 585.1L506.5 584.9L509.3 584.8L512.2 584.7L515.1 584.7L518.0 584.7L520.9 584.8L523.7 584.9L526.6 585.1L529.4 585.3L532.2 585.5L535.0 585.8L537.8 586.2L540.6 586.6L543.3 587.0L546.0 587.5L548.6 588.0L551.2 588.6L553.8 589.2L556.3 589.9L558.8 590.6L561.2 591.3L563.6 592.1L565.9 592.9L568.1 593.7L570.3 594.6L572.4 595.6L574.4 596.5L576.4 597.5L578.3 598.5L580.1 599.6L581.8 600.6L583.4 601.8L585.0 602.9L586.5 604.0L587.9 605.2L589.2 606.4L590.4 607.7L591.5 608.9L592.6 610.2L593.5 611.4L594.4 612.7L595.1 614.0L595.7 615.4L596.3 616.7L596.7 618.0L597.1 619.4L597.3 620.7L597.5 622.0L597.5 623.4Z"/></clipPath><g clip-path="url(#cp16)">
<path d="M459.0 603.2L459.1 602.5L459.2 601.9L459.3 601.2L459.6 600.5L459.9 599.9L460.2 599.2L460.7 598.6L461.2 597.9L461.8 597.3L462.4 596.7L463.1 596.2L463.8 595.6L464.6 595.1L465.5 594.5L466.4 594.0L467.3 593.6L468.3 593.1L469.4 592.7L470.5 592.3L471.6 592.0L472.7 591.7L473.9 591.4L475.1 591.1L476.4 590.9L477.6 590.7L478.9 590.5L480.2 590.4L481.5 590.3L482.8 590.3L484.1 590.2L485.4 590.3L486.8 590.3L488.1 590.4L489.4 590.5L490.6 590.7L491.9 590.9L493.1 591.1L494.3 591.4L495.5 591.7L496.7 592.0L497.8 592.3L498.9 592.7L499.9 593.1L500.9 593.6L501.9 594.0L502.8 594.5L503.6 595.1L504.4 595.6L505.2 596.2L505.9 596.7L506.5 597.3L507.1 597.9L507.6 598.6L508.0 599.2L508.4 599.9L508.7 600.5L508.9 601.2L509.1 601.9L509.2 602.5L509.2 603.2" stroke-width="1.5" />
</g>
</g>
<clipPath id="cp17"><path d="M597.5 623.4L597.5 624.8L597.3 626.1L597.1 627.4L596.7 628.8L596.3 630.1L595.7 631.4L595.1 632.8L594.4 634.1L593.5 635.4L592.6 636.6L591.5 637.9L590.4 639.1L589.2 640.4L587.9 641.6L586.5 642.8L585.0 643.9L583.4 645.0L581.8 646.2L580.1 647.2L578.3 648.3L576.4 649.3L574.4 650.3L572.4 651.2L570.3 652.2L568.1 653.1L565.9 653.9L563.6 654.7L561.2 655.5L558.8 656.2L556.3 656.9L553.8 657.6L551.2 658.2L548.6 658.8L546.0 659.3L543.3 659.8L540.6 660.2L537.8 660.6L535.0 661.0L532.2 661.3L529.4 661.5L526.6 661.7L523.7 661.9L520.9 662.0L518.0 662.1L515.1 662.1L512.2 662.1L509.3 662.0L506.5 661.9L503.6 661.7L500.8 661.5L498.0 661.3L495.2 661.0L492.4 660.6L489.6 660.2L486.9 659.8L484.2 659.3L481.6 658.8L479.0 658.2L476.4 657.6L473.9 656.9L471.4 656.2L469.0 655.5L466.6 654.7L464.3 653.9L462.1 653.1L459.9 652.2L457.8 651.2L455.8 650.3L453.8 649.3L451.9 648.3L450.1 647.2L448.4 646.2L446.8 645.0L445.2 643.9L443.7 642.8L442.3 641.6L441.0 640.4L439.8 639.1L438.7 637.9L437.6 636.6L436.7 635.4L435.8 634.1L435.1 632.8L434.5 631.4L433.9 630.1L433.5 628.8L433.1 627.4L432.9 626.1L432.7 624.8L432.7 623.4L432.7 622.0L432.9 620.7L433.1 619.4L433.5 618.0L433.9 616.7L434.5 615.4L435.1 614.0L435.8 612.7L436.7 611.4L437.6 610.2L438.7 608.9L439.8 607.7L441.0 606.4L442.3 605.2L443.7 604.0L445.2 602.9L446.8 601.8L448.4 600.6L450.1 599.6L451.9 598.5L453.8 597.5L455.8 596.5L457.8 595.6L459.9 594.6L462.1 593.7L464.3 592.9L466.6 592.1L469.0 591.3L471.4 590.6L473.9 589.9L476.4 589.2L479.0 588.6L481.6 588.0L484.2 587.5L486.9 587.0L489.6 586.6L492.4 586.2L495.2 585.8L498.0 585.5L500.8 585.3L503.6 585.1L506.5 584.9L509.3 584.8L512.2 584.7L515.1 584.7L518.0 584.7L520.9 584.8L523.7 584.9L526.6 585.1L529.4 585.3L532.2 585.5L535.0 585.8L537.8 586.2L540.6 586.6L543.3 587.0L546.0 587.5L548.6 588.0L551.2 588.6L553.8 589.2L556.3 589.9L558.8 590.6L561.2 591.3L563.6 592.1L565.9 592.9L568.1 593.7L570.3 594.6L572.4 595.6L574.4 596.5L576.4 597.5L578.3 598.5L580.1 599.6L581.8 600.6L583.4 601.8L585.0 602.9L586.5 604.0L587.9 605.2L589.2 606.4L590.4 607.7L591.5 608.9L592.6 610.2L593.5 611.4L594.4 612.7L595.1 614.0L595.7 615.4L596.3 616.7L596.7 618.0L597.1 619.4L597.3 620.7L597.5 622.0L597.5 623.4Z"/></clipPath><g clip-path="url(#cp17)">
<path d="M571.2 598.2L571.2 598.7L571.1 599.1L571.0 599.6L570.9 600.0L570.8 600.5L570.6 600.9L570.4 601.4L570.2 601.8L570.0 602.2L569.7 602.6L569.4 603.1L569.0 603.5L568.6 603.9L568.2 604.3L567.8 604.7L567.4 605.1L566.9 605.5L566.4 605.8L565.9 606.2L565.3 606.6L564.7 606.9L564.1 607.2L563.5 607.5L562.9 607.9L562.2 608.1L561.5 608.4L560.8 608.7L560.1 609.0L559.4 609.2L558.6 609.4L557.9 609.7L557.1 609.9L556.3 610.1L555.5 610.2L554.7 610.4L553.8 610.5L553.0 610.7L552.1 610.8L551.3 610.9L550.4 611.0L549.6 611.1L548.7 611.1L547.8 611.2L546.9 611.2L546.1 611.2L545.2 611.2L544.3 611.2L543.4 611.1L542.6 611.1L541.7 611.0L540.8 610.9L540.0 610.8L539.1 610.7L538.3 610.5L537.5 610.4L536.7 610.2L535.9 610.1L535.1 609.9L534.3 609.7L533.5 609.4L532.8 609.2L532.0 609.0L531.3 608.7L530.6 608.4L529.9 608.1L529.3 607.9L528.6 607.5L528.0 607.2L527.4 606.9L526.8 606.6L526.3 606.2L525.8 605.8L525.3 605.5L524.8 605.1L524.3 604.7L523.9 604.3L523.5 603.9L523.1 603.5L522.8 603.1L522.5 602.6L522.2 602.2L521.9 601.8L521.7 601.4L521.5 600.9L521.3 600.5L521.2 600.0L521.1 599.6L521.0 599.1L521.0 598.7L521.0 598.2L521.0 597.8L521.0 597.3L521.1 596.9L521.2 596.4L521.3 596.0L521.5 595.5L521.7 595.1L521.9 594.6L522.2 594.2L522.5 593.8L522.8 593.4L523.1 592.9L523.5 592.5L523.9 592.1L524.3 591.7L524.8 591.3L525.3 591.0L525.8 590.6L526.3 590.2L526.8 589.9L527.4 589.5L528.0 589.2L528.6 588.9L529.3 588.6L529.9 588.3L530.6 588.0L531.3 587.7L532.0 587.5L532.8 587.2L533.5 587.0L534.3 586.8L535.1 586.6L535.9 586.4L536.7 586.2L537.5 586.0L538.3 585.9L539.1 585.7L540.0 585.6L540.8 585.5L541.7 585.4L542.6 585.4L543.4 585.3L544.3 585.3L545.2 585.3L546.1 585.2L546.9 585.3L547.8 585.3L548.7 585.3L549.6 585.4L550.4 585.4L551.3 585.5L552.1 585.6L553.0 585.7L553.8 585.9L554.7 586.0L555.5 586.2L556.3 586.4L557.1 586.6L557.9 586.8L558.6 587.0L559.4 587.2L560.1 587.5L560.8 587.7L561.5 588.0L562.2 588.3L562.9 588.6L563.5 588.9L564.1 589.2L564.7 589.5L565.3 589.9L565.9 590.2L566.4 590.6L566.9 591.0L567.4 591.3L567.8 591.7L568.2 592.1L568.6 592.5L569.0 592.9L569.4 593.4L569.7 593.8L570.0 594.2L570.2 594.6L570.4 595.1L570.6 595.5L570.8 596.0L570.9 596.4L571.0 596.9L571.1 597.3L571.2 597.8L571.2 598.2Z" stroke-width="1.9" />
</g>
<clipPath id="cp18"><path d="M571.2 598.2L571.2 598.7L571.1 599.1L571.0 599.6L570.9 600.0L570.8 600.5L570.6 600.9L570.4 601.4L570.2 601.8L570.0 602.2L569.7 602.6L569.4 603.1L569.0 603.5L568.6 603.9L568.2 604.3L567.8 604.7L567.4 605.1L566.9 605.5L566.4 605.8L565.9 606.2L565.3 606.6L564.7 606.9L564.1 607.2L563.5 607.5L562.9 607.9L562.2 608.1L561.5 608.4L560.8 608.7L560.1 609.0L559.4 609.2L558.6 609.4L557.9 609.7L557.1 609.9L556.3 610.1L555.5 610.2L554.7 610.4L553.8 610.5L553.0 610.7L552.1 610.8L551.3 610.9L550.4 611.0L549.6 611.1L548.7 611.1L547.8 611.2L546.9 611.2L546.1 611.2L545.2 611.2L544.3 611.2L543.4 611.1L542.6 611.1L541.7 611.0L540.8 610.9L540.0 610.8L539.1 610.7L538.3 610.5L537.5 610.4L536.7 610.2L535.9 610.1L535.1 609.9L534.3 609.7L533.5 609.4L532.8 609.2L532.0 609.0L531.3 608.7L530.6 608.4L529.9 608.1L529.3 607.9L528.6 607.5L528.0 607.2L527.4 606.9L526.8 606.6L526.3 606.2L525.8 605.8L525.3 605.5L524.8 605.1L524.3 604.7L523.9 604.3L523.5 603.9L523.1 603.5L522.8 603.1L522.5 602.6L522.2 602.2L521.9 601.8L521.7 601.4L521.5 600.9L521.3 600.5L521.2 600.0L521.1 599.6L521.0 599.1L521.0 598.7L521.0 598.2L521.0 597.8L521.0 597.3L521.1 596.9L521.2 596.4L521.3 596.0L521.5 595.5L521.7 595.1L521.9 594.6L522.2 594.2L522.5 593.8L522.8 593.4L523.1 592.9L523.5 592.5L523.9 592.1L524.3 591.7L524.8 591.3L525.3 591.0L525.8 590.6L526.3 590.2L526.8 589.9L527.4 589.5L528.0 589.2L528.6 588.9L529.3 588.6L529.9 588.3L530.6 588.0L531.3 587.7L532.0 587.5L532.8 587.2L533.5 587.0L534.3 586.8L535.1 586.6L535.9 586.4L536.7 586.2L537.5 586.0L538.3 585.9L539.1 585.7L540.0 585.6L540.8 585.5L541.7 585.4L542.6 585.4L543.4 585.3L544.3 585.3L545.2 585.3L546.1 585.2L546.9 585.3L547.8 585.3L548.7 585.3L549.6 585.4L550.4 585.4L551.3 585.5L552.1 585.6L553.0 585.7L553.8 585.9L554.7 586.0L555.5 586.2L556.3 586.4L557.1 586.6L557.9 586.8L558.6 587.0L559.4 587.2L560.1 587.5L560.8 587.7L561.5 588.0L562.2 588.3L562.9 588.6L563.5 588.9L564.1 589.2L564.7 589.5L565.3 589.9L565.9 590.2L566.4 590.6L566.9 591.0L567.4 591.3L567.8 591.7L568.2 592.1L568.6 592.5L569.0 592.9L569.4 593.4L569.7 593.8L570.0 594.2L570.2 594.6L570.4 595.1L570.6 595.5L570.8 596.0L570.9 596.4L571.0 596.9L571.1 597.3L571.2 597.8L571.2 598.2Z"/></clipPath><g clip-path="url(#cp18)">
<clipPath id="cp19"><path d="M597.5 623.4L597.5 624.8L597.3 626.1L597.1 627.4L596.7 628.8L596.3 630.1L595.7 631.4L595.1 632.8L594.4 634.1L593.5 635.4L592.6 636.6L591.5 637.9L590.4 639.1L589.2 640.4L587.9 641.6L586.5 642.8L585.0 643.9L583.4 645.0L581.8 646.2L580.1 647.2L578.3 648.3L576.4 649.3L574.4 650.3L572.4 651.2L570.3 652.2L568.1 653.1L565.9 653.9L563.6 654.7L561.2 655.5L558.8 656.2L556.3 656.9L553.8 657.6L551.2 658.2L548.6 658.8L546.0 659.3L543.3 659.8L540.6 660.2L537.8 660.6L535.0 661.0L532.2 661.3L529.4 661.5L526.6 661.7L523.7 661.9L520.9 662.0L518.0 662.1L515.1 662.1L512.2 662.1L509.3 662.0L506.5 661.9L503.6 661.7L500.8 661.5L498.0 661.3L495.2 661.0L492.4 660.6L489.6 660.2L486.9 659.8L484.2 659.3L481.6 658.8L479.0 658.2L476.4 657.6L473.9 656.9L471.4 656.2L469.0 655.5L466.6 654.7L464.3 653.9L462.1 653.1L459.9 652.2L457.8 651.2L455.8 650.3L453.8 649.3L451.9 648.3L450.1 647.2L448.4 646.2L446.8 645.0L445.2 643.9L443.7 642.8L442.3 641.6L441.0 640.4L439.8 639.1L438.7 637.9L437.6 636.6L436.7 635.4L435.8 634.1L435.1 632.8L434.5 631.4L433.9 630.1L433.5 628.8L433.1 627.4L432.9 626.1L432.7 624.8L432.7 623.4L432.7 622.0L432.9 620.7L433.1 619.4L433.5 618.0L433.9 616.7L434.5 615.4L435.1 614.0L435.8 612.7L436.7 611.4L437.6 610.2L438.7 608.9L439.8 607.7L441.0 606.4L442.3 605.2L443.7 604.0L445.2 602.9L446.8 601.8L448.4 600.6L450.1 599.6L451.9 598.5L453.8 597.5L455.8 596.5L457.8 595.6L459.9 594.6L462.1 593.7L464.3 592.9L466.6 592.1L469.0 591.3L471.4 590.6L473.9 589.9L476.4 589.2L479.0 588.6L481.6 588.0L484.2 587.5L486.9 587.0L489.6 586.6L492.4 586.2L495.2 585.8L498.0 585.5L500.8 585.3L503.6 585.1L506.5 584.9L509.3 584.8L512.2 584.7L515.1 584.7L518.0 584.7L520.9 584.8L523.7 584.9L526.6 585.1L529.4 585.3L532.2 585.5L535.0 585.8L537.8 586.2L540.6 586.6L543.3 587.0L546.0 587.5L548.6 588.0L551.2 588.6L553.8 589.2L556.3 589.9L558.8 590.6L561.2 591.3L563.6 592.1L565.9 592.9L568.1 593.7L570.3 594.6L572.4 595.6L574.4 596.5L576.4 597.5L578.3 598.5L580.1 599.6L581.8 600.6L583.4 601.8L585.0 602.9L586.5 604.0L587.9 605.2L589.2 606.4L590.4 607.7L591.5 608.9L592.6 610.2L593.5 611.4L594.4 612.7L595.1 614.0L595.7 615.4L596.3 616.7L596.7 618.0L597.1 619.4L597.3 620.7L597.5 622.0L597.5 623.4Z"/></clipPath><g clip-path="url(#cp19)">
<path d="M521.0 603.2L521.0 602.5L521.1 601.9L521.3 601.2L521.5 600.5L521.8 599.9L522.2 599.2L522.6 598.6L523.1 597.9L523.7 597.3L524.3 596.7L525.0 596.2L525.8 595.6L526.6 595.1L527.4 594.5L528.3 594.0L529.3 593.6L530.3 593.1L531.3 592.7L532.4 592.3L533.5 592.0L534.7 591.7L535.9 591.4L537.1 591.1L538.3 590.9L539.6 590.7L540.8 590.5L542.1 590.4L543.4 590.3L544.8 590.3L546.1 590.2L547.4 590.3L548.7 590.3L550.0 590.4L551.3 590.5L552.6 590.7L553.8 590.9L555.1 591.1L556.3 591.4L557.5 591.7L558.6 592.0L559.7 592.3L560.8 592.7L561.9 593.1L562.9 593.6L563.8 594.0L564.7 594.5L565.6 595.1L566.4 595.6L567.1 596.2L567.8 596.7L568.4 597.3L569.0 597.9L569.5 598.6L570.0 599.2L570.3 599.9L570.6 600.5L570.9 601.2L571.0 601.9L571.1 602.5L571.2 603.2" stroke-width="1.5" />
</g>
</g>
<path d="M551.5 622.0L551.5 622.6L551.4 623.2L551.3 623.8L551.1 624.4L550.9 625.0L550.7 625.5L550.4 626.1L550.1 626.7L549.7 627.3L549.3 627.8L548.8 628.4L548.3 628.9L547.8 629.5L547.2 630.0L546.6 630.5L546.0 631.0L545.3 631.5L544.5 632.0L543.8 632.5L543.0 632.9L542.1 633.4L541.3 633.8L540.4 634.2L539.4 634.6L538.5 635.0L537.5 635.4L536.5 635.8L535.4 636.1L534.3 636.4L533.2 636.7L532.1 637.0L531.0 637.3L529.8 637.5L528.7 637.8L527.5 638.0L526.3 638.2L525.1 638.3L523.8 638.5L522.6 638.6L521.3 638.7L520.1 638.8L518.8 638.9L517.5 639.0L516.3 639.0L515.0 639.0L513.7 639.0L512.5 639.0L511.2 638.9L509.9 638.8L508.7 638.7L507.4 638.6L506.2 638.5L504.9 638.3L503.7 638.2L502.5 638.0L501.3 637.8L500.2 637.5L499.0 637.3L497.9 637.0L496.8 636.7L495.7 636.4L494.6 636.1L493.5 635.8L492.5 635.4L491.5 635.0L490.6 634.6L489.6 634.2L488.7 633.8L487.9 633.4L487.0 632.9L486.2 632.5L485.5 632.0L484.7 631.5L484.0 631.0L483.4 630.5L482.8 630.0L482.2 629.5L481.7 628.9L481.2 628.4L480.7 627.8L480.3 627.3L479.9 626.7L479.6 626.1L479.3 625.5L479.1 625.0L478.9 624.4L478.7 623.8L478.6 623.2L478.5 622.6L478.5 622.0L478.5 621.4L478.6 620.8L478.7 620.2L478.9 619.6L479.1 619.0L479.3 618.5L479.6 617.9L479.9 617.3L480.3 616.7L480.7 616.2L481.2 615.6L481.7 615.1L482.2 614.5L482.8 614.0L483.4 613.5L484.0 613.0L484.7 612.5L485.5 612.0L486.2 611.5L487.0 611.1L487.9 610.6L488.7 610.2L489.6 609.8L490.6 609.4L491.5 609.0L492.5 608.6L493.5 608.2L494.6 607.9L495.7 607.6L496.8 607.3L497.9 607.0L499.0 606.7L500.2 606.5L501.3 606.2L502.5 606.0L503.7 605.8L504.9 605.7L506.2 605.5L507.4 605.4L508.7 605.3L509.9 605.2L511.2 605.1L512.5 605.0L513.7 605.0L515.0 605.0L516.3 605.0L517.5 605.0L518.8 605.1L520.1 605.2L521.3 605.3L522.6 605.4L523.8 605.5L525.1 605.7L526.3 605.8L527.5 606.0L528.7 606.2L529.8 606.5L531.0 606.7L532.1 607.0L533.2 607.3L534.3 607.6L535.4 607.9L536.5 608.2L537.5 608.6L538.5 609.0L539.4 609.4L540.4 609.8L541.3 610.2L542.1 610.6L543.0 611.1L543.8 611.5L544.5 612.0L545.3 612.5L546.0 613.0L546.6 613.5L547.2 614.0L547.8 614.5L548.3 615.1L548.8 615.6L549.3 616.2L549.7 616.7L550.1 617.3L550.4 617.9L550.7 618.5L550.9 619.0L551.1 619.6L551.3 620.2L551.4 620.8L551.5 621.4L551.5 622.0Z" fill="url(#bg)" stroke="none"/>
<path d="M551.5 622.0L551.5 622.6L551.4 623.2L551.3 623.8L551.1 624.4L550.9 625.0L550.7 625.5L550.4 626.1L550.1 626.7L549.7 627.3L549.3 627.8L548.8 628.4L548.3 628.9L547.8 629.5L547.2 630.0L546.6 630.5L546.0 631.0L545.3 631.5L544.5 632.0L543.8 632.5L543.0 632.9L542.1 633.4L541.3 633.8L540.4 634.2L539.4 634.6L538.5 635.0L537.5 635.4L536.5 635.8L535.4 636.1L534.3 636.4L533.2 636.7L532.1 637.0L531.0 637.3L529.8 637.5L528.7 637.8L527.5 638.0L526.3 638.2L525.1 638.3L523.8 638.5L522.6 638.6L521.3 638.7L520.1 638.8L518.8 638.9L517.5 639.0L516.3 639.0L515.0 639.0L513.7 639.0L512.5 639.0L511.2 638.9L509.9 638.8L508.7 638.7L507.4 638.6L506.2 638.5L504.9 638.3L503.7 638.2L502.5 638.0L501.3 637.8L500.2 637.5L499.0 637.3L497.9 637.0L496.8 636.7L495.7 636.4L494.6 636.1L493.5 635.8L492.5 635.4L491.5 635.0L490.6 634.6L489.6 634.2L488.7 633.8L487.9 633.4L487.0 632.9L486.2 632.5L485.5 632.0L484.7 631.5L484.0 631.0L483.4 630.5L482.8 630.0L482.2 629.5L481.7 628.9L481.2 628.4L480.7 627.8L480.3 627.3L479.9 626.7L479.6 626.1L479.3 625.5L479.1 625.0L478.9 624.4L478.7 623.8L478.6 623.2L478.5 622.6L478.5 622.0L478.5 621.4L478.6 620.8L478.7 620.2L478.9 619.6L479.1 619.0L479.3 618.5L479.6 617.9L479.9 617.3L480.3 616.7L480.7 616.2L481.2 615.6L481.7 615.1L482.2 614.5L482.8 614.0L483.4 613.5L484.0 613.0L484.7 612.5L485.5 612.0L486.2 611.5L487.0 611.1L487.9 610.6L488.7 610.2L489.6 609.8L490.6 609.4L491.5 609.0L492.5 608.6L493.5 608.2L494.6 607.9L495.7 607.6L496.8 607.3L497.9 607.0L499.0 606.7L500.2 606.5L501.3 606.2L502.5 606.0L503.7 605.8L504.9 605.7L506.2 605.5L507.4 605.4L508.7 605.3L509.9 605.2L511.2 605.1L512.5 605.0L513.7 605.0L515.0 605.0L516.3 605.0L517.5 605.0L518.8 605.1L520.1 605.2L521.3 605.3L522.6 605.4L523.8 605.5L525.1 605.7L526.3 605.8L527.5 606.0L528.7 606.2L529.8 606.5L531.0 606.7L532.1 607.0L533.2 607.3L534.3 607.6L535.4 607.9L536.5 608.2L537.5 608.6L538.5 609.0L539.4 609.4L540.4 609.8L541.3 610.2L542.1 610.6L543.0 611.1L543.8 611.5L544.5 612.0L545.3 612.5L546.0 613.0L546.6 613.5L547.2 614.0L547.8 614.5L548.3 615.1L548.8 615.6L549.3 616.2L549.7 616.7L550.1 617.3L550.4 617.9L550.7 618.5L550.9 619.0L551.1 619.6L551.3 620.2L551.4 620.8L551.5 621.4L551.5 622.0Z" stroke-width="2.2" />
<path d="M493.2 560.0L493.2 621.0L493.2 621.5L493.3 621.9L493.5 622.4L493.7 622.9L493.9 623.3L494.3 623.8L494.7 624.2L495.1 624.7L495.6 625.1L496.1 625.5L496.7 625.9L497.4 626.3L498.1 626.7L498.8 627.0L499.6 627.4L500.4 627.7L501.3 628.0L502.2 628.3L503.2 628.5L504.2 628.8L505.2 629.0L506.2 629.2L507.3 629.4L508.3 629.6L509.4 629.7L510.5 629.8L511.7 629.9L512.8 630.0L514.0 630.0L515.1 630.0L516.2 630.0L517.4 630.0L518.5 629.9L519.7 629.8L520.8 629.7L521.9 629.6L522.9 629.4L524.0 629.2L525.0 629.0L526.1 628.8L527.0 628.5L528.0 628.3L528.9 628.0L529.8 627.7L530.6 627.4L531.4 627.0L532.1 626.7L532.8 626.3L533.5 625.9L534.1 625.5L534.6 625.1L535.1 624.7L535.5 624.2L535.9 623.8L536.3 623.3L536.5 622.9L536.7 622.4L536.9 621.9L537.0 621.5L537.0 621.0L537.0 560.0Z" fill="url(#bg)" stroke="none"/>
<path d="M493.2 560.0L493.2 621.0" stroke-width="2.2" />
<path d="M537.0 560.0L537.0 621.0" stroke-width="2.2" />
<path d="M537.0 621.0L537.0 621.5L536.9 621.9L536.7 622.4L536.5 622.9L536.3 623.3L535.9 623.8L535.5 624.2L535.1 624.7L534.6 625.1L534.1 625.5L533.5 625.9L532.8 626.3L532.1 626.7L531.4 627.0L530.6 627.4L529.8 627.7L528.9 628.0L528.0 628.3L527.0 628.5L526.1 628.8L525.0 629.0L524.0 629.2L522.9 629.4L521.9 629.6L520.8 629.7L519.7 629.8L518.5 629.9L517.4 630.0L516.2 630.0L515.1 630.0L514.0 630.0L512.8 630.0L511.7 629.9L510.5 629.8L509.4 629.7L508.3 629.6L507.3 629.4L506.2 629.2L505.2 629.0L504.2 628.8L503.2 628.5L502.2 628.3L501.3 628.0L500.4 627.7L499.6 627.4L498.8 627.0L498.1 626.7L497.4 626.3L496.7 625.9L496.1 625.5L495.6 625.1L495.1 624.7L494.7 624.2L494.3 623.8L493.9 623.3L493.7 622.9L493.5 622.4L493.3 621.9L493.2 621.5L493.2 621.0" stroke-width="2.2" />
<path d="M391.3 496.0L391.5 492.8L392.0 489.6L392.8 486.5L394.0 483.3L395.5 480.2L397.3 477.1L399.5 474.1L402.0 471.2L404.7 468.3L407.8 465.5L411.2 462.8L414.8 460.1L418.8 457.6L422.9 455.2L427.4 452.9L432.1 450.7L437.0 448.6L442.1 446.6L447.4 444.8L452.9 443.2L458.6 441.6L464.4 440.3L470.3 439.1L476.4 438.0L482.6 437.1L488.9 436.3L495.2 435.8L501.6 435.3L508.1 435.1L514.5 435.0L520.9 435.1L527.4 435.3L533.8 435.8L540.1 436.3L546.4 437.1L552.6 438.0L558.7 439.1L564.6 440.3L570.4 441.6L576.1 443.2L581.6 444.8L586.9 446.6L592.0 448.6L596.9 450.7L601.6 452.9L606.1 455.2L610.2 457.6L614.2 460.1L617.8 462.8L621.2 465.5L624.3 468.3L627.0 471.2L629.5 474.1L631.7 477.1L633.5 480.2L635.0 483.3L636.2 486.5L637.0 489.6L637.5 492.8L637.7 496.0L637.7 508.5L637.5 511.7L637.0 514.9L636.2 518.0L635.0 521.2L633.5 524.3L631.7 527.4L629.5 530.4L627.0 533.3L624.3 536.2L621.2 539.0L617.8 541.7L614.2 544.4L610.2 546.9L606.1 549.3L601.6 551.6L596.9 553.8L592.0 555.9L586.9 557.9L581.6 559.7L576.1 561.3L570.4 562.9L564.6 564.2L558.7 565.4L552.6 566.5L546.4 567.4L540.1 568.2L533.8 568.7L527.4 569.2L520.9 569.4L514.5 569.5L508.1 569.4L501.6 569.2L495.2 568.7L488.9 568.2L482.6 567.4L476.4 566.5L470.3 565.4L464.4 564.2L458.6 562.9L452.9 561.3L447.4 559.7L442.1 557.9L437.0 555.9L432.1 553.8L427.4 551.6L422.9 549.3L418.8 546.9L414.8 544.4L411.2 541.7L407.8 539.0L404.7 536.2L402.0 533.3L399.5 530.4L397.3 527.4L395.5 524.3L394.0 521.2L392.8 518.0L392.0 514.9L391.5 511.7L391.3 508.5Z" fill="url(#bg)" stroke="none"/>
<path d="M637.7 496.0L637.6 498.1L637.4 500.3L637.0 502.4L636.5 504.5L635.8 506.6L635.0 508.7L634.0 510.8L632.9 512.8L631.7 514.9L630.3 516.9L628.7 518.9L627.0 520.8L625.2 522.7L623.3 524.6L621.2 526.5L619.0 528.3L616.6 530.1L614.2 531.9L611.6 533.6L608.9 535.2L606.1 536.8L603.1 538.4L600.1 539.9L596.9 541.3L593.7 542.7L590.3 544.1L586.9 545.4L583.4 546.6L579.8 547.7L576.1 548.8L572.3 549.9L568.5 550.8L564.6 551.7L560.7 552.6L556.6 553.3L552.6 554.0L548.5 554.6L544.3 555.2L540.1 555.7L535.9 556.1L531.6 556.4L527.4 556.7L523.1 556.9L518.8 557.0L514.5 557.0L510.2 557.0L505.9 556.9L501.6 556.7L497.4 556.4L493.1 556.1L488.9 555.7L484.7 555.2L480.5 554.6L476.4 554.0L472.4 553.3L468.3 552.6L464.4 551.7L460.5 550.8L456.7 549.9L452.9 548.8L449.2 547.7L445.6 546.6L442.1 545.4L438.7 544.1L435.3 542.7L432.1 541.3L428.9 539.9L425.9 538.4L422.9 536.8L420.1 535.2L417.4 533.6L414.8 531.9L412.4 530.1L410.0 528.3L407.8 526.5L405.7 524.6L403.8 522.7L402.0 520.8L400.3 518.9L398.7 516.9L397.3 514.9L396.1 512.8L395.0 510.8L394.0 508.7L393.2 506.6L392.5 504.5L392.0 502.4L391.6 500.3L391.4 498.1L391.3 496.0L391.4 493.9L391.6 491.7L392.0 489.6L392.5 487.5L393.2 485.4L394.0 483.3L395.0 481.2L396.1 479.2L397.3 477.1L398.7 475.1L400.3 473.1L402.0 471.2L403.8 469.3L405.7 467.4L407.8 465.5L410.0 463.7L412.4 461.9L414.8 460.1L417.4 458.4L420.1 456.8L422.9 455.2L425.9 453.6L428.9 452.1L432.1 450.7L435.3 449.3L438.7 447.9L442.1 446.6L445.6 445.4L449.2 444.3L452.9 443.2L456.7 442.1L460.5 441.2L464.4 440.3L468.3 439.4L472.4 438.7L476.4 438.0L480.5 437.4L484.7 436.8L488.9 436.3L493.1 435.9L497.4 435.6L501.6 435.3L505.9 435.1L510.2 435.0L514.5 435.0L518.8 435.0L523.1 435.1L527.4 435.3L531.6 435.6L535.9 435.9L540.1 436.3L544.3 436.8L548.5 437.4L552.6 438.0L556.6 438.7L560.7 439.4L564.6 440.3L568.5 441.2L572.3 442.1L576.1 443.2L579.8 444.3L583.4 445.4L586.9 446.6L590.3 447.9L593.7 449.3L596.9 450.7L600.1 452.1L603.1 453.6L606.1 455.2L608.9 456.8L611.6 458.4L614.2 460.1L616.6 461.9L619.0 463.7L621.2 465.5L623.3 467.4L625.2 469.3L627.0 471.2L628.7 473.1L630.3 475.1L631.7 477.1L632.9 479.2L634.0 481.2L635.0 483.3L635.8 485.4L636.5 487.5L637.0 489.6L637.4 491.7L637.6 493.9L637.7 496.0Z" stroke-width="2.2" />
<path d="M637.7 508.5L637.5 511.7L637.0 514.9L636.2 518.0L635.0 521.2L633.5 524.3L631.7 527.4L629.5 530.4L627.0 533.3L624.3 536.2L621.2 539.0L617.8 541.7L614.2 544.4L610.2 546.9L606.1 549.3L601.6 551.6L596.9 553.8L592.0 555.9L586.9 557.9L581.6 559.7L576.1 561.3L570.4 562.9L564.6 564.2L558.7 565.4L552.6 566.5L546.4 567.4L540.1 568.2L533.8 568.7L527.4 569.2L520.9 569.4L514.5 569.5L508.1 569.4L501.6 569.2L495.2 568.7L488.9 568.2L482.6 567.4L476.4 566.5L470.3 565.4L464.4 564.2L458.6 562.9L452.9 561.3L447.4 559.7L442.1 557.9L437.0 555.9L432.1 553.8L427.4 551.6L422.9 549.3L418.8 546.9L414.8 544.4L411.2 541.7L407.8 539.0L404.7 536.2L402.0 533.3L399.5 530.4L397.3 527.4L395.5 524.3L394.0 521.2L392.8 518.0L392.0 514.9L391.5 511.7L391.3 508.5" stroke-width="2.2" />
<path d="M391.3 496.0L391.3 508.5" stroke-width="2.2" />
<path d="M637.7 496.0L637.7 508.5" stroke-width="2.2" />
<path d="M578.0 499.9L578.0 500.9L577.8 501.9L577.7 502.8L577.4 503.8L577.0 504.8L576.6 505.7L576.1 506.7L575.6 507.6L574.9 508.6L574.2 509.5L573.4 510.4L572.6 511.3L571.6 512.2L570.6 513.0L569.6 513.9L568.4 514.7L567.2 515.6L566.0 516.4L564.7 517.1L563.3 517.9L561.8 518.6L560.3 519.4L558.8 520.0L557.2 520.7L555.5 521.3L553.8 522.0L552.1 522.6L550.3 523.1L548.4 523.6L546.6 524.1L544.6 524.6L542.7 525.1L540.7 525.5L538.7 525.9L536.6 526.2L534.5 526.5L532.4 526.8L530.3 527.1L528.2 527.3L526.0 527.5L523.9 527.6L521.7 527.7L519.5 527.8L517.3 527.9L515.1 527.9L512.9 527.9L510.7 527.8L508.5 527.7L506.3 527.6L504.2 527.5L502.0 527.3L499.9 527.1L497.8 526.8L495.7 526.5L493.6 526.2L491.5 525.9L489.5 525.5L487.5 525.1L485.6 524.6L483.7 524.1L481.8 523.6L479.9 523.1L478.1 522.6L476.4 522.0L474.7 521.3L473.0 520.7L471.4 520.0L469.9 519.4L468.4 518.6L466.9 517.9L465.5 517.1L464.2 516.4L463.0 515.6L461.8 514.7L460.6 513.9L459.6 513.0L458.6 512.2L457.6 511.3L456.8 510.4L456.0 509.5L455.3 508.6L454.6 507.6L454.1 506.7L453.6 505.7L453.2 504.8L452.8 503.8L452.5 502.8L452.4 501.9L452.2 500.9L452.2 499.9L452.2 498.9L452.4 497.9L452.5 497.0L452.8 496.0L453.2 495.0L453.6 494.1L454.1 493.1L454.6 492.2L455.3 491.2L456.0 490.3L456.8 489.4L457.6 488.5L458.6 487.6L459.6 486.8L460.6 485.9L461.8 485.1L463.0 484.2L464.2 483.4L465.5 482.7L466.9 481.9L468.4 481.2L469.9 480.4L471.4 479.8L473.0 479.1L474.7 478.5L476.4 477.8L478.1 477.2L479.9 476.7L481.8 476.2L483.6 475.7L485.6 475.2L487.5 474.7L489.5 474.3L491.5 473.9L493.6 473.6L495.7 473.3L497.8 473.0L499.9 472.7L502.0 472.5L504.2 472.3L506.3 472.2L508.5 472.1L510.7 472.0L512.9 471.9L515.1 471.9L517.3 471.9L519.5 472.0L521.7 472.1L523.9 472.2L526.0 472.3L528.2 472.5L530.3 472.7L532.4 473.0L534.5 473.3L536.6 473.6L538.7 473.9L540.7 474.3L542.7 474.7L544.6 475.2L546.6 475.7L548.4 476.2L550.3 476.7L552.1 477.2L553.8 477.8L555.5 478.5L557.2 479.1L558.8 479.8L560.3 480.4L561.8 481.2L563.3 481.9L564.7 482.7L566.0 483.4L567.2 484.2L568.4 485.1L569.6 485.9L570.6 486.8L571.6 487.6L572.6 488.5L573.4 489.4L574.2 490.3L574.9 491.2L575.6 492.2L576.1 493.1L576.6 494.1L577.0 495.0L577.4 496.0L577.7 497.0L577.8 497.9L578.0 498.9L578.0 499.9Z" stroke-width="2.2" />
<path d="M571.5 498.0L571.5 498.8L571.4 499.5L571.2 500.2L571.0 501.0L570.6 501.7L570.3 502.5L569.8 503.2L569.3 503.9L568.7 504.6L568.1 505.4L567.4 506.1L566.6 506.7L565.8 507.4L564.9 508.1L563.9 508.8L562.9 509.4L561.8 510.0L560.7 510.6L559.5 511.2L558.3 511.8L557.0 512.4L555.6 512.9L554.2 513.5L552.8 514.0L551.3 514.5L549.8 514.9L548.2 515.4L546.6 515.8L544.9 516.2L543.2 516.6L541.5 517.0L539.8 517.3L538.0 517.6L536.2 517.9L534.3 518.2L532.5 518.4L530.6 518.7L528.7 518.9L526.7 519.0L524.8 519.2L522.9 519.3L520.9 519.4L518.9 519.4L517.0 519.5L515.0 519.5L513.0 519.5L511.1 519.4L509.1 519.4L507.1 519.3L505.2 519.2L503.3 519.0L501.3 518.9L499.4 518.7L497.5 518.4L495.7 518.2L493.8 517.9L492.0 517.6L490.2 517.3L488.5 517.0L486.8 516.6L485.1 516.2L483.4 515.8L481.8 515.4L480.2 514.9L478.7 514.5L477.2 514.0L475.8 513.5L474.4 512.9L473.0 512.4L471.7 511.8L470.5 511.2L469.3 510.6L468.2 510.0L467.1 509.4L466.1 508.8L465.1 508.1L464.2 507.4L463.4 506.7L462.6 506.1L461.9 505.4L461.3 504.6L460.7 503.9L460.2 503.2L459.7 502.5L459.4 501.7L459.0 501.0L458.8 500.2L458.6 499.5L458.5 498.8L458.5 498.0L458.5 497.2L458.6 496.5L458.8 495.8L459.0 495.0L459.4 494.3L459.7 493.5L460.2 492.8L460.7 492.1L461.3 491.4L461.9 490.6L462.6 489.9L463.4 489.3L464.2 488.6L465.1 487.9L466.1 487.2L467.1 486.6L468.2 486.0L469.3 485.4L470.5 484.8L471.7 484.2L473.0 483.6L474.4 483.1L475.8 482.5L477.2 482.0L478.7 481.5L480.2 481.1L481.8 480.6L483.4 480.2L485.1 479.8L486.8 479.4L488.5 479.0L490.2 478.7L492.0 478.4L493.8 478.1L495.7 477.8L497.5 477.6L499.4 477.3L501.3 477.1L503.3 477.0L505.2 476.8L507.1 476.7L509.1 476.6L511.1 476.6L513.0 476.5L515.0 476.5L517.0 476.5L518.9 476.6L520.9 476.6L522.9 476.7L524.8 476.8L526.7 477.0L528.7 477.1L530.6 477.3L532.5 477.6L534.3 477.8L536.2 478.1L538.0 478.4L539.8 478.7L541.5 479.0L543.2 479.4L544.9 479.8L546.6 480.2L548.2 480.6L549.8 481.1L551.3 481.5L552.8 482.0L554.2 482.5L555.6 483.1L557.0 483.6L558.3 484.2L559.5 484.8L560.7 485.4L561.8 486.0L562.9 486.6L563.9 487.2L564.9 487.9L565.8 488.6L566.6 489.3L567.4 489.9L568.1 490.6L568.7 491.4L569.3 492.1L569.8 492.8L570.3 493.5L570.6 494.3L571.0 495.0L571.2 495.8L571.4 496.5L571.5 497.2L571.5 498.0Z" stroke-width="2.2" />
<path d="M485.3 487.0L485.3 486.4L485.5 485.8L485.7 485.2L485.9 484.6L486.3 484.0L486.7 483.4L487.2 482.8L487.8 482.3L488.5 481.7L489.2 481.2L490.0 480.7L490.9 480.2L491.8 479.7L492.8 479.2L493.9 478.8L495.0 478.4L496.1 478.0L497.3 477.6L498.6 477.3L499.9 477.0L501.2 476.7L502.6 476.4L504.0 476.2L505.5 476.0L506.9 475.8L508.4 475.7L509.9 475.5L511.4 475.5L513.0 475.4L514.5 475.4L516.0 475.4L517.6 475.5L519.1 475.5L520.6 475.7L522.1 475.8L523.5 476.0L525.0 476.2L526.4 476.4L527.8 476.7L529.1 477.0L530.4 477.3L531.7 477.6L532.9 478.0L534.0 478.4L535.1 478.8L536.2 479.2L537.2 479.7L538.1 480.2L539.0 480.7L539.8 481.2L540.5 481.7L541.2 482.3L541.8 482.8L542.3 483.4L542.7 484.0L543.1 484.6L543.3 485.2L543.5 485.8L543.7 486.4L543.7 487.0L543.7 493.3L543.7 493.3L543.7 493.9L543.5 494.5L543.3 495.1L543.1 495.7L542.7 496.3L542.3 496.9L541.8 497.5L541.2 498.0L540.5 498.6L539.8 499.1L539.0 499.6L538.1 500.1L537.2 500.6L536.2 501.1L535.1 501.5L534.0 501.9L532.9 502.3L531.7 502.7L530.4 503.0L529.1 503.3L527.8 503.6L526.4 503.9L525.0 504.1L523.5 504.3L522.1 504.5L520.6 504.6L519.1 504.8L517.6 504.8L516.0 504.9L514.5 504.9L513.0 504.9L511.4 504.8L509.9 504.8L508.4 504.6L506.9 504.5L505.5 504.3L504.0 504.1L502.6 503.9L501.2 503.6L499.9 503.3L498.6 503.0L497.3 502.7L496.1 502.3L495.0 501.9L493.9 501.5L492.8 501.1L491.8 500.6L490.9 500.1L490.0 499.6L489.2 499.1L488.5 498.6L487.8 498.0L487.2 497.5L486.7 496.9L486.3 496.3L485.9 495.7L485.7 495.1L485.5 494.5L485.3 493.9L485.3 493.3Z" fill="url(#bg)" stroke="none"/>
<path d="M543.7 487.0L543.7 487.6L543.5 488.2L543.3 488.8L543.1 489.4L542.7 490.0L542.3 490.6L541.8 491.2L541.2 491.7L540.5 492.3L539.8 492.8L539.0 493.3L538.1 493.8L537.2 494.3L536.2 494.8L535.1 495.2L534.0 495.6L532.9 496.0L531.7 496.4L530.4 496.7L529.1 497.0L527.8 497.3L526.4 497.6L525.0 497.8L523.5 498.0L522.1 498.2L520.6 498.3L519.1 498.5L517.6 498.5L516.0 498.6L514.5 498.6L513.0 498.6L511.4 498.5L509.9 498.5L508.4 498.3L506.9 498.2L505.5 498.0L504.0 497.8L502.6 497.6L501.2 497.3L499.9 497.0L498.6 496.7L497.3 496.4L496.1 496.0L495.0 495.6L493.9 495.2L492.8 494.8L491.8 494.3L490.9 493.8L490.0 493.3L489.2 492.8L488.5 492.3L487.8 491.7L487.2 491.2L486.7 490.6L486.3 490.0L485.9 489.4L485.7 488.8L485.5 488.2L485.3 487.6L485.3 487.0" stroke-width="2.2" />
<path d="M543.7 493.3L543.7 493.9L543.5 494.5L543.3 495.1L543.1 495.7L542.7 496.3L542.3 496.9L541.8 497.5L541.2 498.0L540.5 498.6L539.8 499.1L539.0 499.6L538.1 500.1L537.2 500.6L536.2 501.1L535.1 501.5L534.0 501.9L532.9 502.3L531.7 502.7L530.4 503.0L529.1 503.3L527.8 503.6L526.4 503.9L525.0 504.1L523.5 504.3L522.1 504.5L520.6 504.6L519.1 504.8L517.6 504.8L516.0 504.9L514.5 504.9L513.0 504.9L511.4 504.8L509.9 504.8L508.4 504.6L506.9 504.5L505.5 504.3L504.0 504.1L502.6 503.9L501.2 503.6L499.9 503.3L498.6 503.0L497.3 502.7L496.1 502.3L495.0 501.9L493.9 501.5L492.8 501.1L491.8 500.6L490.9 500.1L490.0 499.6L489.2 499.1L488.5 498.6L487.8 498.0L487.2 497.5L486.7 496.9L486.3 496.3L485.9 495.7L485.7 495.1L485.5 494.5L485.3 493.9L485.3 493.3" stroke-width="2.2" />
<path d="M485.3 470.0L485.3 493.3" stroke-width="2.2" />
<path d="M543.7 470.0L543.7 493.3" stroke-width="2.2" />
<path d="M532.6 422.2L531.9 425.4L531.9 447.4L532.6 444.2Z" fill="url(#bg)" stroke="none"/>
<path d="M532.6 422.2L532.6 444.2L531.9 447.4L531.9 425.4" stroke-width="1.4" />
<path d="M508.4 426.1L507.0 423.0L507.0 445.0L508.4 448.1Z" fill="url(#bg)" stroke="none"/>
<path d="M508.4 426.1L508.4 448.1L507.0 445.0L507.0 423.0" stroke-width="1.4" />
<path d="M542.0 424.2L539.8 427.2L539.8 449.2L542.0 446.2Z" fill="url(#bg)" stroke="none"/>
<path d="M542.0 424.2L542.0 446.2L539.8 449.2L539.8 427.2" stroke-width="1.4" />
<path d="M501.0 428.3L498.1 425.5L498.1 447.5L501.0 450.3Z" fill="url(#bg)" stroke="none"/>
<path d="M501.0 428.3L501.0 450.3L498.1 447.5L498.1 425.5" stroke-width="1.4" />
<path d="M550.2 427.3L546.4 429.9L546.4 451.9L550.2 449.3Z" fill="url(#bg)" stroke="none"/>
<path d="M550.2 427.3L550.2 449.3L546.4 451.9L546.4 429.9" stroke-width="1.4" />
<path d="M495.1 431.4L490.7 429.1L490.7 451.1L495.1 453.4Z" fill="url(#bg)" stroke="none"/>
<path d="M495.1 431.4L495.1 453.4L490.7 451.1L490.7 429.1" stroke-width="1.4" />
<path d="M556.4 431.4L551.4 433.4L551.4 455.4L556.4 453.4Z" fill="url(#bg)" stroke="none"/>
<path d="M556.4 431.4L556.4 453.4L551.4 455.4L551.4 433.4" stroke-width="1.4" />
<path d="M491.0 435.2L485.6 433.5L485.6 455.5L491.0 457.2Z" fill="url(#bg)" stroke="none"/>
<path d="M491.0 435.2L491.0 457.2L485.6 455.5L485.6 433.5" stroke-width="1.4" />
<path d="M560.2 436.1L554.4 437.4L554.4 459.4L560.2 458.1Z" fill="url(#bg)" stroke="none"/>
<path d="M560.2 436.1L560.2 458.1L554.4 459.4L554.4 437.4" stroke-width="1.4" />
<path d="M489.0 439.4L482.9 438.4L482.9 460.4L489.0 461.4Z" fill="url(#bg)" stroke="none"/>
<path d="M489.0 439.4L489.0 461.4L482.9 460.4L482.9 438.4" stroke-width="1.4" />
<path d="M561.5 441.2L555.1 441.7L555.1 463.7L561.5 463.2Z" fill="url(#bg)" stroke="none"/>
<path d="M561.5 441.2L561.5 463.2L555.1 463.7L555.1 441.7" stroke-width="1.4" />
<path d="M555.1 441.7L555.1 442.4L555.1 464.4L555.1 463.7Z" fill="url(#bg)" stroke="none"/>
<path d="M555.1 441.7L555.1 463.7L555.1 464.4L555.1 442.4" stroke-width="1.4" />
<path d="M482.8 443.5L482.5 440.8L482.5 462.8L482.8 465.5Z" fill="url(#bg)" stroke="none"/>
<path d="M482.8 443.5L482.8 465.5L482.5 462.8L482.5 440.8" stroke-width="1.4" />
<path d="M555.1 442.4L555.0 442.6L555.0 464.6L555.1 464.4Z" fill="url(#bg)" stroke="none"/>
<path d="M555.1 442.4L555.1 464.4L555.0 464.6L555.0 442.6" stroke-width="1.4" />
<path d="M489.3 443.6L482.8 443.5L482.8 465.5L489.3 465.6Z" fill="url(#bg)" stroke="none"/>
<path d="M489.3 443.6L489.3 465.6L482.8 465.5L482.8 443.5" stroke-width="1.4" />
<path d="M489.3 443.8L489.3 443.6L489.3 465.6L489.3 465.8Z" fill="url(#bg)" stroke="none"/>
<path d="M489.3 443.8L489.3 465.8L489.3 465.6L489.3 443.6" stroke-width="1.4" />
<path d="M489.6 444.6L489.3 443.8L489.3 465.8L489.6 466.6Z" fill="url(#bg)" stroke="none"/>
<path d="M489.6 444.6L489.6 466.6L489.3 465.8L489.3 443.8" stroke-width="1.4" />
<path d="M561.1 443.6L560.1 446.2L560.1 468.2L561.1 465.6Z" fill="url(#bg)" stroke="none"/>
<path d="M561.1 443.6L561.1 465.6L560.1 468.2L560.1 446.2" stroke-width="1.4" />
<path d="M560.1 446.2L553.7 445.9L553.7 467.9L560.1 468.2Z" fill="url(#bg)" stroke="none"/>
<path d="M560.1 446.2L560.1 468.2L553.7 467.9L553.7 445.9" stroke-width="1.4" />
<path d="M553.7 445.9L553.2 446.6L553.2 468.6L553.7 467.9Z" fill="url(#bg)" stroke="none"/>
<path d="M553.7 445.9L553.7 467.9L553.2 468.6L553.2 446.6" stroke-width="1.4" />
<path d="M553.2 446.6L553.0 446.8L553.0 468.8L553.2 468.6Z" fill="url(#bg)" stroke="none"/>
<path d="M553.2 446.6L553.2 468.6L553.0 468.8L553.0 446.8" stroke-width="1.4" />
<path d="M485.5 448.4L483.8 445.9L483.8 467.9L485.5 470.4Z" fill="url(#bg)" stroke="none"/>
<path d="M485.5 448.4L485.5 470.4L483.8 467.9L483.8 445.9" stroke-width="1.4" />
<path d="M491.9 447.9L491.7 447.7L491.7 469.7L491.9 469.9Z" fill="url(#bg)" stroke="none"/>
<path d="M491.9 447.9L491.9 469.9L491.7 469.7L491.7 447.7" stroke-width="1.4" />
<path d="M491.7 447.7L485.5 448.4L485.5 470.4L491.7 469.7Z" fill="url(#bg)" stroke="none"/>
<path d="M491.7 447.7L491.7 469.7L485.5 470.4L485.5 448.4" stroke-width="1.4" />
<path d="M492.6 448.6L491.9 447.9L491.9 469.9L492.6 470.6Z" fill="url(#bg)" stroke="none"/>
<path d="M492.6 448.6L492.6 470.6L491.9 469.9L491.9 447.9" stroke-width="1.4" />
<path d="M558.4 448.5L556.0 450.9L556.0 472.9L558.4 470.5Z" fill="url(#bg)" stroke="none"/>
<path d="M558.4 448.5L558.4 470.5L556.0 472.9L556.0 450.9" stroke-width="1.4" />
<path d="M550.0 449.8L549.2 450.4L549.2 472.4L550.0 471.8Z" fill="url(#bg)" stroke="none"/>
<path d="M550.0 449.8L550.0 471.8L549.2 472.4L549.2 450.4" stroke-width="1.4" />
<path d="M556.0 450.9L550.0 449.8L550.0 471.8L556.0 472.9Z" fill="url(#bg)" stroke="none"/>
<path d="M556.0 450.9L556.0 472.9L550.0 471.8L550.0 449.8" stroke-width="1.4" />
<path d="M549.2 450.4L548.9 450.6L548.9 472.6L549.2 472.4Z" fill="url(#bg)" stroke="none"/>
<path d="M549.2 450.4L549.2 472.4L548.9 472.6L548.9 450.6" stroke-width="1.4" />
<path d="M496.6 451.5L496.3 451.4L496.3 473.4L496.6 473.5Z" fill="url(#bg)" stroke="none"/>
<path d="M496.6 451.5L496.6 473.5L496.3 473.4L496.3 451.4" stroke-width="1.4" />
<path d="M490.6 452.8L487.6 450.6L487.6 472.6L490.6 474.8Z" fill="url(#bg)" stroke="none"/>
<path d="M490.6 452.8L490.6 474.8L487.6 472.6L487.6 450.6" stroke-width="1.4" />
<path d="M497.6 452.1L496.6 451.5L496.6 473.5L497.6 474.1Z" fill="url(#bg)" stroke="none"/>
<path d="M497.6 452.1L497.6 474.1L496.6 473.5L496.6 451.5" stroke-width="1.4" />
<path d="M496.3 451.4L490.6 452.8L490.6 474.8L496.3 473.4Z" fill="url(#bg)" stroke="none"/>
<path d="M496.3 451.4L496.3 473.4L490.6 474.8L490.6 452.8" stroke-width="1.4" />
<path d="M544.4 453.1L543.3 453.5L543.3 475.5L544.4 475.1Z" fill="url(#bg)" stroke="none"/>
<path d="M544.4 453.1L544.4 475.1L543.3 475.5L543.3 453.5" stroke-width="1.4" />
<path d="M543.3 453.5L543.0 453.7L543.0 475.7L543.3 475.5Z" fill="url(#bg)" stroke="none"/>
<path d="M543.3 453.5L543.3 475.5L543.0 475.7L543.0 453.7" stroke-width="1.4" />
<path d="M553.3 452.9L549.7 454.9L549.7 476.9L553.3 474.9Z" fill="url(#bg)" stroke="none"/>
<path d="M553.3 452.9L553.3 474.9L549.7 476.9L549.7 454.9" stroke-width="1.4" />
<path d="M549.7 454.9L544.4 453.1L544.4 475.1L549.7 476.9Z" fill="url(#bg)" stroke="none"/>
<path d="M549.7 454.9L549.7 476.9L544.4 475.1L544.4 453.1" stroke-width="1.4" />
<path d="M503.0 454.4L502.6 454.3L502.6 476.3L503.0 476.4Z" fill="url(#bg)" stroke="none"/>
<path d="M503.0 454.4L503.0 476.4L502.6 476.3L502.6 454.3" stroke-width="1.4" />
<path d="M504.2 454.8L503.0 454.4L503.0 476.4L504.2 476.8Z" fill="url(#bg)" stroke="none"/>
<path d="M504.2 454.8L504.2 476.8L503.0 476.4L503.0 454.4" stroke-width="1.4" />
<path d="M502.6 454.3L497.8 456.4L497.8 478.4L502.6 476.3Z" fill="url(#bg)" stroke="none"/>
<path d="M502.6 454.3L502.6 476.3L497.8 478.4L497.8 456.4" stroke-width="1.4" />
<path d="M497.8 456.4L493.8 454.7L493.8 476.7L497.8 478.4Z" fill="url(#bg)" stroke="none"/>
<path d="M497.8 456.4L497.8 478.4L493.8 476.7L493.8 454.7" stroke-width="1.4" />
<path d="M537.3 455.5L536.0 455.8L536.0 477.8L537.3 477.5Z" fill="url(#bg)" stroke="none"/>
<path d="M537.3 455.5L537.3 477.5L536.0 477.8L536.0 455.8" stroke-width="1.4" />
<path d="M536.0 455.8L535.6 455.9L535.6 477.9L536.0 477.8Z" fill="url(#bg)" stroke="none"/>
<path d="M536.0 455.8L536.0 477.8L535.6 477.9L535.6 455.9" stroke-width="1.4" />
<path d="M510.7 456.4L510.2 456.3L510.2 478.3L510.7 478.4Z" fill="url(#bg)" stroke="none"/>
<path d="M510.7 456.4L510.7 478.4L510.2 478.3L510.2 456.3" stroke-width="1.4" />
<path d="M512.1 456.6L510.7 456.4L510.7 478.4L512.1 478.6Z" fill="url(#bg)" stroke="none"/>
<path d="M512.1 456.6L512.1 478.6L510.7 478.4L510.7 456.4" stroke-width="1.4" />
<path d="M541.5 458.0L537.3 455.5L537.3 477.5L541.5 480.0Z" fill="url(#bg)" stroke="none"/>
<path d="M541.5 458.0L541.5 480.0L537.3 477.5L537.3 455.5" stroke-width="1.4" />
<path d="M529.2 457.0L527.8 457.1L527.8 479.1L529.2 479.0Z" fill="url(#bg)" stroke="none"/>
<path d="M529.2 457.0L529.2 479.0L527.8 479.1L527.8 457.1" stroke-width="1.4" />
<path d="M527.8 457.1L527.3 457.2L527.3 479.2L527.8 479.1Z" fill="url(#bg)" stroke="none"/>
<path d="M527.8 457.1L527.8 479.1L527.3 479.2L527.3 457.2" stroke-width="1.4" />
<path d="M545.9 456.5L541.5 458.0L541.5 480.0L545.9 478.5Z" fill="url(#bg)" stroke="none"/>
<path d="M545.9 456.5L545.9 478.5L541.5 480.0L541.5 458.0" stroke-width="1.4" />
<path d="M519.1 457.3L518.7 457.3L518.7 479.3L519.1 479.3Z" fill="url(#bg)" stroke="none"/>
<path d="M519.1 457.3L519.1 479.3L518.7 479.3L518.7 457.3" stroke-width="1.4" />
<path d="M520.6 457.4L519.1 457.3L519.1 479.3L520.6 479.4Z" fill="url(#bg)" stroke="none"/>
<path d="M520.6 457.4L520.6 479.4L519.1 479.3L519.1 457.3" stroke-width="1.4" />
<path d="M510.2 456.3L506.8 459.0L506.8 481.0L510.2 478.3Z" fill="url(#bg)" stroke="none"/>
<path d="M510.2 456.3L510.2 478.3L506.8 481.0L506.8 459.0" stroke-width="1.4" />
<path d="M506.8 459.0L502.0 457.8L502.0 479.8L506.8 481.0Z" fill="url(#bg)" stroke="none"/>
<path d="M506.8 459.0L506.8 481.0L502.0 479.8L502.0 457.8" stroke-width="1.4" />
<path d="M531.9 459.9L529.2 457.0L529.2 479.0L531.9 481.9Z" fill="url(#bg)" stroke="none"/>
<path d="M531.9 459.9L531.9 481.9L529.2 479.0L529.2 457.0" stroke-width="1.4" />
<path d="M527.3 457.2L527.0 460.3L527.0 482.3L527.3 479.2Z" fill="url(#bg)" stroke="none"/>
<path d="M527.3 457.2L527.3 479.2L527.0 482.3L527.0 460.3" stroke-width="1.4" />
<path d="M518.7 457.3L516.7 460.3L516.7 482.3L518.7 479.3Z" fill="url(#bg)" stroke="none"/>
<path d="M518.7 457.3L518.7 479.3L516.7 482.3L516.7 460.3" stroke-width="1.4" />
<path d="M521.7 460.5L520.6 457.4L520.6 479.4L521.7 482.5Z" fill="url(#bg)" stroke="none"/>
<path d="M521.7 460.5L521.7 482.5L520.6 479.4L520.6 457.4" stroke-width="1.4" />
<path d="M537.0 459.0L531.9 459.9L531.9 481.9L537.0 481.0Z" fill="url(#bg)" stroke="none"/>
<path d="M537.0 459.0L537.0 481.0L531.9 481.9L531.9 459.9" stroke-width="1.4" />
<path d="M516.7 460.3L511.4 459.8L511.4 481.8L516.7 482.3Z" fill="url(#bg)" stroke="none"/>
<path d="M516.7 460.3L516.7 482.3L511.4 481.8L511.4 459.8" stroke-width="1.4" />
<path d="M527.0 460.3L521.7 460.5L521.7 482.5L527.0 482.3Z" fill="url(#bg)" stroke="none"/>
<path d="M527.0 460.3L527.0 482.3L521.7 482.5L521.7 460.5" stroke-width="1.4" />
<path d="M555.1 442.4L555.0 442.6L561.1 443.6L560.1 446.2L553.7 445.9L553.2 446.6L553.0 446.8L558.4 448.5L556.0 450.9L550.0 449.8L549.2 450.4L548.9 450.6L553.3 452.9L549.7 454.9L544.4 453.1L543.3 453.5L543.0 453.7L545.9 456.5L541.5 458.0L537.3 455.5L536.0 455.8L535.6 455.9L537.0 459.0L531.9 459.9L529.2 457.0L527.8 457.1L527.3 457.2L527.0 460.3L521.7 460.5L520.6 457.4L519.1 457.3L518.7 457.3L516.7 460.3L511.4 459.8L512.1 456.6L510.7 456.4L510.2 456.3L506.8 459.0L502.0 457.8L504.2 454.8L503.0 454.4L502.6 454.3L497.8 456.4L493.8 454.7L497.6 452.1L496.6 451.5L496.3 451.4L490.6 452.8L487.6 450.6L492.6 448.6L491.9 447.9L491.7 447.7L485.5 448.4L483.8 445.9L489.6 444.6L489.3 443.8L489.3 443.6L482.8 443.5L482.5 440.8L488.9 440.3L488.9 439.6L489.0 439.4L482.9 438.4L483.9 435.8L490.3 436.1L490.8 435.4L491.0 435.2L485.6 433.5L488.0 431.1L494.0 432.2L494.8 431.6L495.1 431.4L490.7 429.1L494.3 427.1L499.6 428.9L500.7 428.5L501.0 428.3L498.1 425.5L502.5 424.0L506.7 426.5L508.0 426.2L508.4 426.1L507.0 423.0L512.1 422.1L514.8 425.0L516.2 424.9L516.7 424.8L517.0 421.7L522.3 421.5L523.4 424.6L524.9 424.7L525.3 424.7L527.3 421.7L532.6 422.2L531.9 425.4L533.3 425.6L533.8 425.7L537.2 423.0L542.0 424.2L539.8 427.2L541.0 427.6L541.4 427.7L546.2 425.6L550.2 427.3L546.4 429.9L547.4 430.5L547.7 430.6L553.4 429.2L556.4 431.4L551.4 433.4L552.1 434.1L552.3 434.3L558.5 433.6L560.2 436.1L554.4 437.4L554.7 438.2L554.7 438.4L561.2 438.5L561.5 441.2L555.1 441.7Z" fill="url(#bg)" stroke="none"/>
<path d="M555.1 442.4L555.0 442.6L561.1 443.6L560.1 446.2L553.7 445.9L553.2 446.6L553.0 446.8L558.4 448.5L556.0 450.9L550.0 449.8L549.2 450.4L548.9 450.6L553.3 452.9L549.7 454.9L544.4 453.1L543.3 453.5L543.0 453.7L545.9 456.5L541.5 458.0L537.3 455.5L536.0 455.8L535.6 455.9L537.0 459.0L531.9 459.9L529.2 457.0L527.8 457.1L527.3 457.2L527.0 460.3L521.7 460.5L520.6 457.4L519.1 457.3L518.7 457.3L516.7 460.3L511.4 459.8L512.1 456.6L510.7 456.4L510.2 456.3L506.8 459.0L502.0 457.8L504.2 454.8L503.0 454.4L502.6 454.3L497.8 456.4L493.8 454.7L497.6 452.1L496.6 451.5L496.3 451.4L490.6 452.8L487.6 450.6L492.6 448.6L491.9 447.9L491.7 447.7L485.5 448.4L483.8 445.9L489.6 444.6L489.3 443.8L489.3 443.6L482.8 443.5L482.5 440.8L488.9 440.3L488.9 439.6L489.0 439.4L482.9 438.4L483.9 435.8L490.3 436.1L490.8 435.4L491.0 435.2L485.6 433.5L488.0 431.1L494.0 432.2L494.8 431.6L495.1 431.4L490.7 429.1L494.3 427.1L499.6 428.9L500.7 428.5L501.0 428.3L498.1 425.5L502.5 424.0L506.7 426.5L508.0 426.2L508.4 426.1L507.0 423.0L512.1 422.1L514.8 425.0L516.2 424.9L516.7 424.8L517.0 421.7L522.3 421.5L523.4 424.6L524.9 424.7L525.3 424.7L527.3 421.7L532.6 422.2L531.9 425.4L533.3 425.6L533.8 425.7L537.2 423.0L542.0 424.2L539.8 427.2L541.0 427.6L541.4 427.7L546.2 425.6L550.2 427.3L546.4 429.9L547.4 430.5L547.7 430.6L553.4 429.2L556.4 431.4L551.4 433.4L552.1 434.1L552.3 434.3L558.5 433.6L560.2 436.1L554.4 437.4L554.7 438.2L554.7 438.4L561.2 438.5L561.5 441.2L555.1 441.7Z" stroke-width="1.8" />
<path d="M548.0 446.0L548.0 446.4L547.9 446.8L547.9 447.3L547.7 447.7L547.6 448.1L547.4 448.5L547.2 448.9L547.0 449.3L546.7 449.7L546.4 450.1L546.1 450.5L545.8 450.9L545.4 451.3L545.0 451.6L544.5 452.0L544.0 452.4L543.6 452.7L543.0 453.1L542.5 453.4L541.9 453.7L541.3 454.0L540.7 454.3L540.1 454.6L539.4 454.9L538.7 455.2L538.0 455.5L537.3 455.7L536.5 455.9L535.8 456.2L535.0 456.4L534.2 456.6L533.4 456.8L532.6 457.0L531.7 457.1L530.9 457.3L530.0 457.4L529.2 457.5L528.3 457.6L527.4 457.7L526.5 457.8L525.6 457.9L524.7 457.9L523.8 458.0L522.9 458.0L522.0 458.0L521.1 458.0L520.2 458.0L519.3 457.9L518.4 457.9L517.5 457.8L516.6 457.7L515.7 457.6L514.8 457.5L514.0 457.4L513.1 457.3L512.3 457.1L511.4 457.0L510.6 456.8L509.8 456.6L509.0 456.4L508.2 456.2L507.5 455.9L506.7 455.7L506.0 455.5L505.3 455.2L504.6 454.9L503.9 454.6L503.3 454.3L502.7 454.0L502.1 453.7L501.5 453.4L501.0 453.1L500.4 452.7L500.0 452.4L499.5 452.0L499.0 451.6L498.6 451.3L498.2 450.9L497.9 450.5L497.6 450.1L497.3 449.7L497.0 449.3L496.8 448.9L496.6 448.5L496.4 448.1L496.3 447.7L496.1 447.3L496.1 446.8L496.0 446.4L496.0 446.0L496.0 445.6L496.1 445.2L496.1 444.7L496.3 444.3L496.4 443.9L496.6 443.5L496.8 443.1L497.0 442.7L497.3 442.3L497.6 441.9L497.9 441.5L498.2 441.1L498.6 440.7L499.0 440.4L499.5 440.0L500.0 439.6L500.4 439.3L501.0 438.9L501.5 438.6L502.1 438.3L502.7 438.0L503.3 437.7L503.9 437.4L504.6 437.1L505.3 436.8L506.0 436.5L506.7 436.3L507.5 436.1L508.2 435.8L509.0 435.6L509.8 435.4L510.6 435.2L511.4 435.0L512.3 434.9L513.1 434.7L514.0 434.6L514.8 434.5L515.7 434.4L516.6 434.3L517.5 434.2L518.4 434.1L519.3 434.1L520.2 434.0L521.1 434.0L522.0 434.0L522.9 434.0L523.8 434.0L524.7 434.1L525.6 434.1L526.5 434.2L527.4 434.3L528.3 434.4L529.2 434.5L530.0 434.6L530.9 434.7L531.7 434.9L532.6 435.0L533.4 435.2L534.2 435.4L535.0 435.6L535.8 435.8L536.5 436.1L537.3 436.3L538.0 436.5L538.7 436.8L539.4 437.1L540.1 437.4L540.7 437.7L541.3 438.0L541.9 438.3L542.5 438.6L543.0 438.9L543.6 439.3L544.0 439.6L544.5 440.0L545.0 440.4L545.4 440.7L545.8 441.1L546.1 441.5L546.4 441.9L546.7 442.3L547.0 442.7L547.2 443.1L547.4 443.5L547.6 443.9L547.7 444.3L547.9 444.7L547.9 445.2L548.0 445.6L548.0 446.0Z" stroke-width="1.8" />
<path d="M530.6 447.4L546.4 450.1" stroke-width="1.4" />
<path d="M523.6 450.1L526.5 457.8" stroke-width="1.4" />
<path d="M515.0 448.7L502.1 453.7" stroke-width="1.4" />
<path d="M551.7 310.8L555.6 310.5L568.6 305.5L564.7 305.8Z" fill="url(#bg)" stroke="none"/>
<path d="M551.7 310.8L564.7 305.8L568.6 305.5L555.6 310.5" stroke-width="1.4" />
<path d="M569.0 343.3L565.8 345.2L578.8 340.2L582.0 338.3Z" fill="url(#bg)" stroke="none"/>
<path d="M569.0 343.3L582.0 338.3L578.8 340.2L565.8 345.2" stroke-width="1.4" />
<path d="M550.5 300.7L554.7 301.7L567.7 296.7L563.5 295.7Z" fill="url(#bg)" stroke="none"/>
<path d="M550.5 300.7L563.5 295.7L567.7 296.7L554.7 301.7" stroke-width="1.4" />
<path d="M574.7 350.6L572.1 353.7L585.1 348.7L587.7 345.6Z" fill="url(#bg)" stroke="none"/>
<path d="M574.7 350.6L587.7 345.6L585.1 348.7L572.1 353.7" stroke-width="1.4" />
<path d="M550.6 291.4L555.0 293.5L568.0 288.5L563.6 286.4Z" fill="url(#bg)" stroke="none"/>
<path d="M550.6 291.4L563.6 286.4L568.0 288.5L555.0 293.5" stroke-width="1.4" />
<path d="M580.8 356.7L579.0 360.8L592.0 355.8L593.8 351.7Z" fill="url(#bg)" stroke="none"/>
<path d="M580.8 356.7L593.8 351.7L592.0 355.8L579.0 360.8" stroke-width="1.4" />
<path d="M552.2 283.1L556.5 286.3L569.5 281.3L565.2 278.1Z" fill="url(#bg)" stroke="none"/>
<path d="M552.2 283.1L565.2 278.1L569.5 281.3L556.5 286.3" stroke-width="1.4" />
<path d="M587.3 361.4L586.3 366.3L599.3 361.3L600.3 356.4Z" fill="url(#bg)" stroke="none"/>
<path d="M587.3 361.4L600.3 356.4L599.3 361.3L586.3 366.3" stroke-width="1.4" />
<path d="M555.2 276.2L559.3 280.4L572.3 275.4L568.2 271.2Z" fill="url(#bg)" stroke="none"/>
<path d="M555.2 276.2L568.2 271.2L572.3 275.4L559.3 280.4" stroke-width="1.4" />
<path d="M593.7 364.4L593.6 370.0L606.6 365.0L606.7 359.4Z" fill="url(#bg)" stroke="none"/>
<path d="M593.7 364.4L606.7 359.4L606.6 365.0L593.6 370.0" stroke-width="1.4" />
<path d="M559.4 270.9L563.2 275.9L576.2 270.9L572.4 265.9Z" fill="url(#bg)" stroke="none"/>
<path d="M559.4 270.9L572.4 265.9L576.2 270.9L563.2 275.9" stroke-width="1.4" />
<path d="M599.9 365.7L600.6 371.7L613.6 366.7L612.9 360.7Z" fill="url(#bg)" stroke="none"/>
<path d="M599.9 365.7L612.9 360.7L613.6 366.7L600.6 371.7" stroke-width="1.4" />
<path d="M564.7 267.5L568.0 273.1L581.0 268.1L577.7 262.5Z" fill="url(#bg)" stroke="none"/>
<path d="M564.7 267.5L577.7 262.5L581.0 268.1L568.0 273.1" stroke-width="1.4" />
<path d="M568.0 273.1L569.3 272.7L582.3 267.7L581.0 268.1Z" fill="url(#bg)" stroke="none"/>
<path d="M568.0 273.1L581.0 268.1L582.3 267.7L569.3 272.7" stroke-width="1.4" />
<path d="M569.3 272.7L569.5 272.6L582.5 267.6L582.3 267.7Z" fill="url(#bg)" stroke="none"/>
<path d="M569.3 272.7L582.3 267.7L582.5 267.6L569.5 272.6" stroke-width="1.4" />
<path d="M605.7 365.2L607.2 371.4L620.2 366.4L618.7 360.2Z" fill="url(#bg)" stroke="none"/>
<path d="M605.7 365.2L618.7 360.2L620.2 366.4L607.2 371.4" stroke-width="1.4" />
<path d="M568.0 266.4L570.8 266.0L583.8 261.0L581.0 261.4Z" fill="url(#bg)" stroke="none"/>
<path d="M568.0 266.4L581.0 261.4L583.8 261.0L570.8 266.0" stroke-width="1.4" />
<path d="M570.8 266.0L573.5 272.0L586.5 267.0L583.8 261.0Z" fill="url(#bg)" stroke="none"/>
<path d="M570.8 266.0L583.8 261.0L586.5 267.0L573.5 272.0" stroke-width="1.4" />
<path d="M613.0 369.1L610.5 370.3L623.5 365.3L626.0 364.1Z" fill="url(#bg)" stroke="none"/>
<path d="M613.0 369.1L626.0 364.1L623.5 365.3L610.5 370.3" stroke-width="1.4" />
<path d="M573.5 272.0L575.0 272.1L588.0 267.1L586.5 267.0Z" fill="url(#bg)" stroke="none"/>
<path d="M573.5 272.0L586.5 267.0L588.0 267.1L575.0 272.1" stroke-width="1.4" />
<path d="M575.0 272.1L575.3 272.1L588.3 267.1L588.0 267.1Z" fill="url(#bg)" stroke="none"/>
<path d="M575.0 272.1L588.0 267.1L588.3 267.1L575.3 272.1" stroke-width="1.4" />
<path d="M610.7 362.9L613.0 369.1L626.0 364.1L623.7 357.9Z" fill="url(#bg)" stroke="none"/>
<path d="M610.7 362.9L623.7 357.9L626.0 364.1L613.0 369.1" stroke-width="1.4" />
<path d="M610.9 362.8L610.7 362.9L623.7 357.9L623.9 357.8Z" fill="url(#bg)" stroke="none"/>
<path d="M610.9 362.8L623.9 357.8L623.7 357.9L610.7 362.9" stroke-width="1.4" />
<path d="M612.0 361.9L610.9 362.8L623.9 357.8L625.0 356.9Z" fill="url(#bg)" stroke="none"/>
<path d="M612.0 361.9L625.0 356.9L623.9 357.8L610.9 362.8" stroke-width="1.4" />
<path d="M574.6 266.1L577.6 266.6L590.6 261.6L587.6 261.1Z" fill="url(#bg)" stroke="none"/>
<path d="M574.6 266.1L587.6 261.1L590.6 261.6L577.6 266.6" stroke-width="1.4" />
<path d="M577.6 266.6L579.6 272.8L592.6 267.8L590.6 261.6Z" fill="url(#bg)" stroke="none"/>
<path d="M577.6 266.6L590.6 261.6L592.6 267.8L579.6 272.8" stroke-width="1.4" />
<path d="M579.6 272.8L581.2 273.3L594.2 268.3L592.6 267.8Z" fill="url(#bg)" stroke="none"/>
<path d="M579.6 272.8L592.6 267.8L594.2 268.3L581.2 273.3" stroke-width="1.4" />
<path d="M617.8 364.8L615.8 366.9L628.8 361.9L630.8 359.8Z" fill="url(#bg)" stroke="none"/>
<path d="M617.8 364.8L630.8 359.8L628.8 361.9L615.8 366.9" stroke-width="1.4" />
<path d="M581.2 273.3L581.5 273.4L594.5 268.4L594.2 268.3Z" fill="url(#bg)" stroke="none"/>
<path d="M581.2 273.3L594.2 268.3L594.5 268.4L581.5 273.4" stroke-width="1.4" />
<path d="M615.0 358.7L614.8 358.9L627.8 353.9L628.0 353.7Z" fill="url(#bg)" stroke="none"/>
<path d="M615.0 358.7L628.0 353.7L627.8 353.9L614.8 358.9" stroke-width="1.4" />
<path d="M614.8 358.9L617.8 364.8L630.8 359.8L627.8 353.9Z" fill="url(#bg)" stroke="none"/>
<path d="M614.8 358.9L627.8 353.9L630.8 359.8L617.8 364.8" stroke-width="1.4" />
<path d="M615.9 357.4L615.0 358.7L628.0 353.7L628.9 352.4Z" fill="url(#bg)" stroke="none"/>
<path d="M615.9 357.4L628.9 352.4L628.0 353.7L615.0 358.7" stroke-width="1.4" />
<path d="M581.6 267.8L584.8 269.2L597.8 264.2L594.6 262.8Z" fill="url(#bg)" stroke="none"/>
<path d="M581.6 267.8L594.6 262.8L597.8 264.2L584.8 269.2" stroke-width="1.4" />
<path d="M584.8 269.2L586.0 275.3L599.0 270.3L597.8 264.2Z" fill="url(#bg)" stroke="none"/>
<path d="M584.8 269.2L597.8 264.2L599.0 270.3L586.0 275.3" stroke-width="1.4" />
<path d="M586.0 275.3L587.6 276.2L600.6 271.2L599.0 270.3Z" fill="url(#bg)" stroke="none"/>
<path d="M586.0 275.3L599.0 270.3L600.6 271.2L587.6 276.2" stroke-width="1.4" />
<path d="M587.6 276.2L587.9 276.4L600.9 271.4L600.6 271.2Z" fill="url(#bg)" stroke="none"/>
<path d="M587.6 276.2L600.6 271.2L600.9 271.4L587.9 276.4" stroke-width="1.4" />
<path d="M618.1 353.1L617.9 353.4L630.9 348.4L631.1 348.1Z" fill="url(#bg)" stroke="none"/>
<path d="M618.1 353.1L631.1 348.1L630.9 348.4L617.9 353.4" stroke-width="1.4" />
<path d="M621.5 358.8L620.0 361.6L633.0 356.6L634.5 353.8Z" fill="url(#bg)" stroke="none"/>
<path d="M621.5 358.8L634.5 353.8L633.0 356.6L620.0 361.6" stroke-width="1.4" />
<path d="M617.9 353.4L621.5 358.8L634.5 353.8L630.9 348.4Z" fill="url(#bg)" stroke="none"/>
<path d="M617.9 353.4L630.9 348.4L634.5 353.8L621.5 358.8" stroke-width="1.4" />
<path d="M618.7 351.5L618.1 353.1L631.1 348.1L631.7 346.5Z" fill="url(#bg)" stroke="none"/>
<path d="M618.7 351.5L631.7 346.5L631.1 348.1L618.1 353.1" stroke-width="1.4" />
<path d="M592.4 279.5L594.0 280.8L607.0 275.8L605.4 274.5Z" fill="url(#bg)" stroke="none"/>
<path d="M592.4 279.5L605.4 274.5L607.0 275.8L594.0 280.8" stroke-width="1.4" />
<path d="M588.9 271.5L592.1 273.7L605.1 268.7L601.9 266.5Z" fill="url(#bg)" stroke="none"/>
<path d="M588.9 271.5L601.9 266.5L605.1 268.7L592.1 273.7" stroke-width="1.4" />
<path d="M592.1 273.7L592.4 279.5L605.4 274.5L605.1 268.7Z" fill="url(#bg)" stroke="none"/>
<path d="M592.1 273.7L605.1 268.7L605.4 274.5L592.4 279.5" stroke-width="1.4" />
<path d="M594.0 280.8L594.4 281.1L607.4 276.1L607.0 275.8Z" fill="url(#bg)" stroke="none"/>
<path d="M594.0 280.8L607.0 275.8L607.4 276.1L594.4 281.1" stroke-width="1.4" />
<path d="M620.0 346.2L619.9 346.6L632.9 341.6L633.0 341.2Z" fill="url(#bg)" stroke="none"/>
<path d="M620.0 346.2L633.0 341.2L632.9 341.6L619.9 346.6" stroke-width="1.4" />
<path d="M620.2 344.3L620.0 346.2L633.0 341.2L633.2 339.3Z" fill="url(#bg)" stroke="none"/>
<path d="M620.2 344.3L633.2 339.3L633.0 341.2L620.0 346.2" stroke-width="1.4" />
<path d="M623.8 351.2L623.0 354.7L636.0 349.7L636.8 346.2Z" fill="url(#bg)" stroke="none"/>
<path d="M623.8 351.2L636.8 346.2L636.0 349.7L623.0 354.7" stroke-width="1.4" />
<path d="M619.9 346.6L623.8 351.2L636.8 346.2L632.9 341.6Z" fill="url(#bg)" stroke="none"/>
<path d="M619.9 346.6L632.9 341.6L636.8 346.2L623.8 351.2" stroke-width="1.4" />
<path d="M598.7 285.2L600.2 286.9L613.2 281.9L611.7 280.2Z" fill="url(#bg)" stroke="none"/>
<path d="M598.7 285.2L611.7 280.2L613.2 281.9L600.2 286.9" stroke-width="1.4" />
<path d="M600.2 286.9L600.5 287.2L613.5 282.2L613.2 281.9Z" fill="url(#bg)" stroke="none"/>
<path d="M600.2 286.9L613.2 281.9L613.5 282.2L600.5 287.2" stroke-width="1.4" />
<path d="M599.2 279.9L598.7 285.2L611.7 280.2L612.2 274.9Z" fill="url(#bg)" stroke="none"/>
<path d="M599.2 279.9L612.2 274.9L611.7 280.2L598.7 285.2" stroke-width="1.4" />
<path d="M620.6 338.2L620.6 338.7L633.6 333.7L633.6 333.2Z" fill="url(#bg)" stroke="none"/>
<path d="M620.6 338.2L633.6 333.2L633.6 333.7L620.6 338.7" stroke-width="1.4" />
<path d="M596.2 277.0L599.2 279.9L612.2 274.9L609.2 272.0Z" fill="url(#bg)" stroke="none"/>
<path d="M596.2 277.0L609.2 272.0L612.2 274.9L599.2 279.9" stroke-width="1.4" />
<path d="M620.5 336.1L620.6 338.2L633.6 333.2L633.5 331.1Z" fill="url(#bg)" stroke="none"/>
<path d="M620.5 336.1L633.5 331.1L633.6 333.2L620.6 338.2" stroke-width="1.4" />
<path d="M620.6 338.7L624.8 342.4L637.8 337.4L633.6 333.7Z" fill="url(#bg)" stroke="none"/>
<path d="M620.6 338.7L633.6 333.7L637.8 337.4L624.8 342.4" stroke-width="1.4" />
<path d="M624.8 342.4L624.6 346.4L637.6 341.4L637.8 337.4Z" fill="url(#bg)" stroke="none"/>
<path d="M624.8 342.4L637.8 337.4L637.6 341.4L624.6 346.4" stroke-width="1.4" />
<path d="M604.6 292.2L605.9 294.1L618.9 289.1L617.6 287.2Z" fill="url(#bg)" stroke="none"/>
<path d="M604.6 292.2L617.6 287.2L618.9 289.1L605.9 294.1" stroke-width="1.4" />
<path d="M605.9 294.1L606.2 294.5L619.2 289.5L618.9 289.1Z" fill="url(#bg)" stroke="none"/>
<path d="M605.9 294.1L618.9 289.1L619.2 289.5L606.2 294.5" stroke-width="1.4" />
<path d="M620.0 329.5L620.0 330.0L633.0 325.0L633.0 324.5Z" fill="url(#bg)" stroke="none"/>
<path d="M620.0 329.5L633.0 324.5L633.0 325.0L620.0 330.0" stroke-width="1.4" />
<path d="M619.6 327.3L620.0 329.5L633.0 324.5L632.6 322.3Z" fill="url(#bg)" stroke="none"/>
<path d="M619.6 327.3L632.6 322.3L633.0 324.5L620.0 329.5" stroke-width="1.4" />
<path d="M605.9 287.7L604.6 292.2L617.6 287.2L618.9 282.7Z" fill="url(#bg)" stroke="none"/>
<path d="M605.9 287.7L618.9 282.7L617.6 287.2L604.6 292.2" stroke-width="1.4" />
<path d="M609.8 300.3L610.9 302.4L623.9 297.4L622.8 295.3Z" fill="url(#bg)" stroke="none"/>
<path d="M609.8 300.3L622.8 295.3L623.9 297.4L610.9 302.4" stroke-width="1.4" />
<path d="M603.1 284.1L605.9 287.7L618.9 282.7L616.1 279.1Z" fill="url(#bg)" stroke="none"/>
<path d="M603.1 284.1L616.1 279.1L618.9 282.7L605.9 287.7" stroke-width="1.4" />
<path d="M610.9 302.4L611.2 302.8L624.2 297.8L623.9 297.4Z" fill="url(#bg)" stroke="none"/>
<path d="M610.9 302.4L623.9 297.4L624.2 297.8L611.2 302.8" stroke-width="1.4" />
<path d="M620.0 330.0L624.4 332.7L637.4 327.7L633.0 325.0Z" fill="url(#bg)" stroke="none"/>
<path d="M620.0 330.0L633.0 325.0L637.4 327.7L624.4 332.7" stroke-width="1.4" />
<path d="M618.1 320.4L618.2 320.9L631.2 315.9L631.1 315.4Z" fill="url(#bg)" stroke="none"/>
<path d="M618.1 320.4L631.1 315.4L631.2 315.9L618.2 320.9" stroke-width="1.4" />
<path d="M617.4 318.1L618.1 320.4L631.1 315.4L630.4 313.1Z" fill="url(#bg)" stroke="none"/>
<path d="M617.4 318.1L630.4 313.1L631.1 315.4L618.1 320.4" stroke-width="1.4" />
<path d="M614.1 309.0L615.0 311.3L628.0 306.3L627.1 304.0Z" fill="url(#bg)" stroke="none"/>
<path d="M614.1 309.0L627.1 304.0L628.0 306.3L615.0 311.3" stroke-width="1.4" />
<path d="M615.0 311.3L615.2 311.7L628.2 306.7L628.0 306.3Z" fill="url(#bg)" stroke="none"/>
<path d="M615.0 311.3L628.0 306.3L628.2 306.7L615.2 311.7" stroke-width="1.4" />
<path d="M624.4 332.7L624.7 337.1L637.7 332.1L637.4 327.7Z" fill="url(#bg)" stroke="none"/>
<path d="M624.4 332.7L637.4 327.7L637.7 332.1L624.7 337.1" stroke-width="1.4" />
<path d="M611.9 296.6L609.8 300.3L622.8 295.3L624.9 291.6Z" fill="url(#bg)" stroke="none"/>
<path d="M611.9 296.6L624.9 291.6L622.8 295.3L609.8 300.3" stroke-width="1.4" />
<path d="M618.2 320.9L622.5 322.5L635.5 317.5L631.2 315.9Z" fill="url(#bg)" stroke="none"/>
<path d="M618.2 320.9L631.2 315.9L635.5 317.5L622.5 322.5" stroke-width="1.4" />
<path d="M611.2 302.8L614.8 302.0L627.8 297.0L624.2 297.8Z" fill="url(#bg)" stroke="none"/>
<path d="M611.2 302.8L624.2 297.8L627.8 297.0L614.8 302.0" stroke-width="1.4" />
<path d="M620.8 316.7L617.4 318.1L630.4 313.1L633.8 311.7Z" fill="url(#bg)" stroke="none"/>
<path d="M620.8 316.7L633.8 311.7L630.4 313.1L617.4 318.1" stroke-width="1.4" />
<path d="M616.9 306.4L614.1 309.0L627.1 304.0L629.9 301.4Z" fill="url(#bg)" stroke="none"/>
<path d="M616.9 306.4L629.9 301.4L627.1 304.0L614.1 309.0" stroke-width="1.4" />
<path d="M615.2 311.7L619.3 312.1L632.3 307.1L628.2 306.7Z" fill="url(#bg)" stroke="none"/>
<path d="M615.2 311.7L628.2 306.7L632.3 307.1L619.3 312.1" stroke-width="1.4" />
<path d="M609.4 292.6L611.9 296.6L624.9 291.6L622.4 287.6Z" fill="url(#bg)" stroke="none"/>
<path d="M609.4 292.6L622.4 287.6L624.9 291.6L611.9 296.6" stroke-width="1.4" />
<path d="M622.5 322.5L623.5 327.0L636.5 322.0L635.5 317.5Z" fill="url(#bg)" stroke="none"/>
<path d="M622.5 322.5L635.5 317.5L636.5 322.0L623.5 327.0" stroke-width="1.4" />
<path d="M614.8 302.0L616.9 306.4L629.9 301.4L627.8 297.0Z" fill="url(#bg)" stroke="none"/>
<path d="M614.8 302.0L627.8 297.0L629.9 301.4L616.9 306.4" stroke-width="1.4" />
<path d="M619.3 312.1L620.8 316.7L633.8 311.7L632.3 307.1Z" fill="url(#bg)" stroke="none"/>
<path d="M619.3 312.1L632.3 307.1L633.8 311.7L620.8 316.7" stroke-width="1.4" />
<path d="M620.6 338.2L620.6 338.7L624.8 342.4L624.6 346.4L620.2 344.3L620.0 346.2L619.9 346.6L623.8 351.2L623.0 354.7L618.7 351.5L618.1 353.1L617.9 353.4L621.5 358.8L620.0 361.6L615.9 357.4L615.0 358.7L614.8 358.9L617.8 364.8L615.8 366.9L612.0 361.9L610.9 362.8L610.7 362.9L613.0 369.1L610.5 370.3L607.2 364.7L605.9 365.1L605.7 365.2L607.2 371.4L604.4 371.8L601.7 365.8L600.2 365.7L599.9 365.7L600.6 371.7L597.6 371.2L595.6 365.0L594.0 364.5L593.7 364.4L593.6 370.0L590.4 368.6L589.2 362.5L587.6 361.6L587.3 361.4L586.3 366.3L583.1 364.1L582.8 358.3L581.2 357.0L580.8 356.7L579.0 360.8L576.0 357.9L576.5 352.6L575.0 350.9L574.7 350.6L572.1 353.7L569.3 350.1L570.6 345.6L569.3 343.7L569.0 343.3L565.8 345.2L563.3 341.2L565.4 337.5L564.3 335.4L564.0 335.0L560.4 335.8L558.3 331.4L561.1 328.8L560.2 326.5L560.0 326.1L555.9 325.7L554.4 321.1L557.8 319.7L557.1 317.4L557.0 316.9L552.7 315.3L551.7 310.8L555.6 310.5L555.2 308.3L555.2 307.8L550.8 305.1L550.5 300.7L554.7 301.7L554.6 299.6L554.6 299.1L550.4 295.4L550.6 291.4L555.0 293.5L555.2 291.6L555.3 291.2L551.4 286.6L552.2 283.1L556.5 286.3L557.1 284.7L557.3 284.4L553.7 279.0L555.2 276.2L559.3 280.4L560.2 279.1L560.4 278.9L557.4 273.0L559.4 270.9L563.2 275.9L564.3 275.0L564.5 274.9L562.2 268.7L564.7 267.5L568.0 273.1L569.3 272.7L569.5 272.6L568.0 266.4L570.8 266.0L573.5 272.0L575.0 272.1L575.3 272.1L574.6 266.1L577.6 266.6L579.6 272.8L581.2 273.3L581.5 273.4L581.6 267.8L584.8 269.2L586.0 275.3L587.6 276.2L587.9 276.4L588.9 271.5L592.1 273.7L592.4 279.5L594.0 280.8L594.4 281.1L596.2 277.0L599.2 279.9L598.7 285.2L600.2 286.9L600.5 287.2L603.1 284.1L605.9 287.7L604.6 292.2L605.9 294.1L606.2 294.5L609.4 292.6L611.9 296.6L609.8 300.3L610.9 302.4L611.2 302.8L614.8 302.0L616.9 306.4L614.1 309.0L615.0 311.3L615.2 311.7L619.3 312.1L620.8 316.7L617.4 318.1L618.1 320.4L618.2 320.9L622.5 322.5L623.5 327.0L619.6 327.3L620.0 329.5L620.0 330.0L624.4 332.7L624.7 337.1L620.5 336.1Z" fill="url(#bg)" stroke="none"/>
<path d="M620.6 338.2L620.6 338.7L624.8 342.4L624.6 346.4L620.2 344.3L620.0 346.2L619.9 346.6L623.8 351.2L623.0 354.7L618.7 351.5L618.1 353.1L617.9 353.4L621.5 358.8L620.0 361.6L615.9 357.4L615.0 358.7L614.8 358.9L617.8 364.8L615.8 366.9L612.0 361.9L610.9 362.8L610.7 362.9L613.0 369.1L610.5 370.3L607.2 364.7L605.9 365.1L605.7 365.2L607.2 371.4L604.4 371.8L601.7 365.8L600.2 365.7L599.9 365.7L600.6 371.7L597.6 371.2L595.6 365.0L594.0 364.5L593.7 364.4L593.6 370.0L590.4 368.6L589.2 362.5L587.6 361.6L587.3 361.4L586.3 366.3L583.1 364.1L582.8 358.3L581.2 357.0L580.8 356.7L579.0 360.8L576.0 357.9L576.5 352.6L575.0 350.9L574.7 350.6L572.1 353.7L569.3 350.1L570.6 345.6L569.3 343.7L569.0 343.3L565.8 345.2L563.3 341.2L565.4 337.5L564.3 335.4L564.0 335.0L560.4 335.8L558.3 331.4L561.1 328.8L560.2 326.5L560.0 326.1L555.9 325.7L554.4 321.1L557.8 319.7L557.1 317.4L557.0 316.9L552.7 315.3L551.7 310.8L555.6 310.5L555.2 308.3L555.2 307.8L550.8 305.1L550.5 300.7L554.7 301.7L554.6 299.6L554.6 299.1L550.4 295.4L550.6 291.4L555.0 293.5L555.2 291.6L555.3 291.2L551.4 286.6L552.2 283.1L556.5 286.3L557.1 284.7L557.3 284.4L553.7 279.0L555.2 276.2L559.3 280.4L560.2 279.1L560.4 278.9L557.4 273.0L559.4 270.9L563.2 275.9L564.3 275.0L564.5 274.9L562.2 268.7L564.7 267.5L568.0 273.1L569.3 272.7L569.5 272.6L568.0 266.4L570.8 266.0L573.5 272.0L575.0 272.1L575.3 272.1L574.6 266.1L577.6 266.6L579.6 272.8L581.2 273.3L581.5 273.4L581.6 267.8L584.8 269.2L586.0 275.3L587.6 276.2L587.9 276.4L588.9 271.5L592.1 273.7L592.4 279.5L594.0 280.8L594.4 281.1L596.2 277.0L599.2 279.9L598.7 285.2L600.2 286.9L600.5 287.2L603.1 284.1L605.9 287.7L604.6 292.2L605.9 294.1L606.2 294.5L609.4 292.6L611.9 296.6L609.8 300.3L610.9 302.4L611.2 302.8L614.8 302.0L616.9 306.4L614.1 309.0L615.0 311.3L615.2 311.7L619.3 312.1L620.8 316.7L617.4 318.1L618.1 320.4L618.2 320.9L622.5 322.5L623.5 327.0L619.6 327.3L620.0 329.5L620.0 330.0L624.4 332.7L624.7 337.1L620.5 336.1Z" stroke-width="1.9" />
<path d="M614.2 334.5L614.2 335.7L614.1 336.9L614.1 338.0L613.9 339.1L613.8 340.2L613.6 341.3L613.4 342.4L613.2 343.4L612.9 344.4L612.6 345.3L612.3 346.3L611.9 347.2L611.5 348.0L611.1 348.8L610.6 349.6L610.2 350.4L609.7 351.1L609.1 351.8L608.6 352.4L608.0 353.0L607.4 353.5L606.7 354.0L606.1 354.5L605.4 354.9L604.7 355.3L604.0 355.6L603.2 355.9L602.5 356.2L601.7 356.4L600.9 356.5L600.1 356.6L599.3 356.7L598.4 356.7L597.6 356.7L596.7 356.6L595.8 356.5L594.9 356.3L594.0 356.1L593.1 355.8L592.2 355.5L591.3 355.2L590.4 354.8L589.5 354.3L588.5 353.9L587.6 353.3L586.7 352.8L585.7 352.2L584.8 351.5L583.9 350.8L583.0 350.1L582.1 349.3L581.2 348.5L580.3 347.7L579.4 346.8L578.5 345.9L577.6 345.0L576.8 344.0L575.9 343.0L575.1 342.0L574.3 340.9L573.5 339.8L572.7 338.7L572.0 337.6L571.2 336.4L570.5 335.2L569.8 334.0L569.1 332.8L568.5 331.6L567.8 330.3L567.2 329.1L566.6 327.8L566.1 326.5L565.5 325.2L565.0 323.9L564.6 322.6L564.1 321.3L563.7 320.0L563.3 318.7L562.9 317.3L562.6 316.0L562.3 314.7L562.0 313.4L561.8 312.1L561.6 310.8L561.4 309.5L561.3 308.2L561.1 307.0L561.1 305.7L561.0 304.5L561.0 303.3L561.0 302.1L561.1 300.9L561.1 299.8L561.3 298.7L561.4 297.6L561.6 296.5L561.8 295.4L562.0 294.4L562.3 293.4L562.6 292.5L562.9 291.5L563.3 290.6L563.7 289.8L564.1 289.0L564.6 288.2L565.0 287.4L565.5 286.7L566.1 286.0L566.6 285.4L567.2 284.8L567.8 284.3L568.5 283.8L569.1 283.3L569.8 282.9L570.5 282.5L571.2 282.2L572.0 281.9L572.7 281.6L573.5 281.4L574.3 281.3L575.1 281.2L575.9 281.1L576.8 281.1L577.6 281.1L578.5 281.2L579.4 281.3L580.3 281.5L581.2 281.7L582.1 282.0L583.0 282.3L583.9 282.6L584.8 283.0L585.7 283.5L586.7 283.9L587.6 284.5L588.5 285.0L589.5 285.6L590.4 286.3L591.3 287.0L592.2 287.7L593.1 288.5L594.0 289.3L594.9 290.1L595.8 291.0L596.7 291.9L597.6 292.8L598.4 293.8L599.3 294.8L600.1 295.8L600.9 296.9L601.7 298.0L602.5 299.1L603.2 300.2L604.0 301.4L604.7 302.6L605.4 303.8L606.1 305.0L606.7 306.2L607.4 307.5L608.0 308.7L608.6 310.0L609.1 311.3L609.7 312.6L610.2 313.9L610.6 315.2L611.1 316.5L611.5 317.8L611.9 319.1L612.3 320.5L612.6 321.8L612.9 323.1L613.2 324.4L613.4 325.7L613.6 327.0L613.8 328.3L613.9 329.6L614.1 330.8L614.1 332.1L614.2 333.3L614.2 334.5Z" stroke-width="2.2" />
<path d="M602.2 331.8L602.2 332.7L602.2 333.5L602.1 334.3L602.0 335.1L601.9 335.8L601.8 336.6L601.7 337.3L601.5 338.0L601.3 338.7L601.1 339.4L600.9 340.1L600.6 340.7L600.3 341.3L600.0 341.9L599.7 342.4L599.4 342.9L599.0 343.4L598.7 343.9L598.3 344.3L597.9 344.8L597.4 345.1L597.0 345.5L596.5 345.8L596.1 346.1L595.6 346.4L595.1 346.6L594.5 346.8L594.0 347.0L593.5 347.1L592.9 347.2L592.3 347.3L591.8 347.3L591.2 347.4L590.6 347.3L590.0 347.3L589.4 347.2L588.7 347.1L588.1 346.9L587.5 346.7L586.8 346.5L586.2 346.3L585.5 346.0L584.9 345.7L584.2 345.4L583.6 345.0L583.0 344.6L582.3 344.2L581.7 343.7L581.0 343.2L580.4 342.7L579.7 342.2L579.1 341.6L578.5 341.1L577.8 340.4L577.2 339.8L576.6 339.2L576.0 338.5L575.4 337.8L574.9 337.1L574.3 336.3L573.7 335.6L573.2 334.8L572.7 334.0L572.1 333.2L571.6 332.3L571.1 331.5L570.7 330.7L570.2 329.8L569.8 328.9L569.3 328.0L568.9 327.1L568.5 326.2L568.2 325.3L567.8 324.4L567.5 323.5L567.2 322.6L566.9 321.7L566.6 320.7L566.3 319.8L566.1 318.9L565.9 318.0L565.7 317.0L565.5 316.1L565.4 315.2L565.3 314.3L565.2 313.4L565.1 312.6L565.0 311.7L565.0 310.8L565.0 310.0L565.0 309.1L565.0 308.3L565.1 307.5L565.2 306.7L565.3 306.0L565.4 305.2L565.5 304.5L565.7 303.8L565.9 303.1L566.1 302.4L566.3 301.7L566.6 301.1L566.9 300.5L567.2 299.9L567.5 299.4L567.8 298.9L568.2 298.4L568.5 297.9L568.9 297.5L569.3 297.0L569.8 296.7L570.2 296.3L570.7 296.0L571.1 295.7L571.6 295.4L572.1 295.2L572.7 295.0L573.2 294.8L573.7 294.7L574.3 294.6L574.9 294.5L575.4 294.5L576.0 294.4L576.6 294.5L577.2 294.5L577.8 294.6L578.5 294.7L579.1 294.9L579.7 295.1L580.4 295.3L581.0 295.5L581.7 295.8L582.3 296.1L583.0 296.4L583.6 296.8L584.2 297.2L584.9 297.6L585.5 298.1L586.2 298.6L586.8 299.1L587.5 299.6L588.1 300.2L588.7 300.7L589.4 301.4L590.0 302.0L590.6 302.6L591.2 303.3L591.8 304.0L592.3 304.7L592.9 305.5L593.5 306.2L594.0 307.0L594.5 307.8L595.1 308.6L595.6 309.5L596.1 310.3L596.5 311.1L597.0 312.0L597.4 312.9L597.9 313.8L598.3 314.7L598.7 315.6L599.0 316.5L599.4 317.4L599.7 318.3L600.0 319.2L600.3 320.1L600.6 321.1L600.9 322.0L601.1 322.9L601.3 323.8L601.5 324.8L601.7 325.7L601.8 326.6L601.9 327.5L602.0 328.4L602.1 329.2L602.2 330.1L602.2 331.0L602.2 331.8Z" stroke-width="2.0" />
<path d="M599.0 330.9L599.0 331.6L599.0 332.3L598.9 333.0L598.9 333.6L598.8 334.3L598.7 334.9L598.6 335.5L598.4 336.1L598.3 336.7L598.1 337.2L597.9 337.8L597.7 338.3L597.5 338.8L597.2 339.3L597.0 339.7L596.7 340.2L596.4 340.6L596.1 341.0L595.8 341.3L595.4 341.7L595.1 342.0L594.7 342.3L594.3 342.6L593.9 342.8L593.5 343.0L593.1 343.2L592.7 343.4L592.2 343.5L591.8 343.6L591.3 343.7L590.8 343.8L590.4 343.8L589.9 343.8L589.4 343.8L588.9 343.8L588.4 343.7L587.9 343.6L587.3 343.5L586.8 343.3L586.3 343.1L585.7 342.9L585.2 342.7L584.7 342.5L584.1 342.2L583.6 341.9L583.1 341.5L582.5 341.2L582.0 340.8L581.5 340.4L580.9 340.0L580.4 339.6L579.9 339.1L579.3 338.6L578.8 338.1L578.3 337.6L577.8 337.0L577.3 336.5L576.8 335.9L576.4 335.3L575.9 334.7L575.4 334.0L575.0 333.4L574.5 332.7L574.1 332.1L573.7 331.4L573.3 330.7L572.9 330.0L572.5 329.3L572.1 328.5L571.8 327.8L571.4 327.1L571.1 326.3L570.8 325.6L570.5 324.8L570.2 324.0L570.0 323.3L569.7 322.5L569.5 321.8L569.3 321.0L569.1 320.2L568.9 319.5L568.8 318.7L568.6 318.0L568.5 317.2L568.4 316.5L568.3 315.7L568.3 315.0L568.2 314.3L568.2 313.6L568.2 312.9L568.2 312.2L568.2 311.5L568.3 310.8L568.3 310.2L568.4 309.5L568.5 308.9L568.6 308.3L568.8 307.7L568.9 307.1L569.1 306.6L569.3 306.0L569.5 305.5L569.7 305.0L570.0 304.5L570.2 304.1L570.5 303.6L570.8 303.2L571.1 302.8L571.4 302.5L571.8 302.1L572.1 301.8L572.5 301.5L572.9 301.2L573.3 301.0L573.7 300.8L574.1 300.6L574.5 300.4L575.0 300.3L575.4 300.2L575.9 300.1L576.4 300.0L576.8 300.0L577.3 300.0L577.8 300.0L578.3 300.0L578.8 300.1L579.3 300.2L579.9 300.3L580.4 300.5L580.9 300.7L581.5 300.9L582.0 301.1L582.5 301.3L583.1 301.6L583.6 301.9L584.1 302.3L584.7 302.6L585.2 303.0L585.7 303.4L586.3 303.8L586.8 304.2L587.3 304.7L587.9 305.2L588.4 305.7L588.9 306.2L589.4 306.8L589.9 307.3L590.4 307.9L590.8 308.5L591.3 309.1L591.8 309.8L592.2 310.4L592.7 311.1L593.1 311.7L593.5 312.4L593.9 313.1L594.3 313.8L594.7 314.5L595.1 315.3L595.4 316.0L595.8 316.7L596.1 317.5L596.4 318.2L596.7 319.0L597.0 319.8L597.2 320.5L597.5 321.3L597.7 322.0L597.9 322.8L598.1 323.6L598.3 324.3L598.4 325.1L598.6 325.8L598.7 326.6L598.8 327.3L598.9 328.1L598.9 328.8L599.0 329.5L599.0 330.2L599.0 330.9Z" stroke-width="1.8" />
<path d="M551.2 325.4L551.2 324.7L551.3 323.9L551.3 323.2L551.4 322.6L551.6 321.9L551.7 321.3L551.9 320.6L552.1 320.0L552.4 319.5L552.6 318.9L552.9 318.4L553.3 317.9L553.6 317.4L554.0 317.0L554.4 316.6L554.8 316.3L555.2 316.0L555.6 315.7L556.1 315.4L556.6 315.2L570.6 310.2L571.1 310.1L571.6 309.9L572.1 309.9L572.7 309.8L573.2 309.8L573.8 309.8L574.3 309.9L574.9 310.0L575.4 310.2L576.0 310.4L576.6 310.6L577.1 310.9L577.7 311.2L578.2 311.5L578.8 311.9L579.3 312.3L579.9 312.7L580.4 313.2L580.9 313.7L581.4 314.2L581.9 314.8L582.4 315.4L582.8 316.0L583.2 316.6L583.6 317.3L584.0 318.0L584.4 318.7L584.7 319.4L585.1 320.1L585.4 320.8L585.6 321.6L585.9 322.3L586.1 323.1L586.3 323.9L586.4 324.6L586.6 325.4L586.7 326.1L586.7 326.9L586.8 327.7L586.8 328.4L586.8 329.1L586.7 329.9L586.7 330.6L586.6 331.2L586.4 331.9L586.3 332.5L586.1 333.2L585.9 333.8L585.6 334.3L585.4 334.9L585.1 335.4L584.7 335.9L584.4 336.4L584.0 336.8L583.6 337.2L583.2 337.5L582.8 337.8L582.4 338.1L581.9 338.4L581.4 338.6L567.4 343.6L566.9 343.7L566.4 343.9L565.9 343.9L565.3 344.0L564.8 344.0L564.2 344.0L563.7 343.9L563.1 343.8L562.6 343.6L562.0 343.4L561.4 343.2L560.9 342.9L560.3 342.6L559.8 342.3L559.2 341.9L558.7 341.5L558.1 341.1L557.6 340.6L557.1 340.1L556.6 339.6L556.1 339.0L555.6 338.4L555.2 337.8L554.8 337.2L554.4 336.5L554.0 335.8L553.6 335.1L553.3 334.4L552.9 333.7L552.6 333.0L552.4 332.2L552.1 331.5L551.9 330.7L551.7 329.9L551.6 329.2L551.4 328.4L551.3 327.6L551.3 326.9L551.2 326.1Z" fill="url(#bg)" stroke="none"/>
<path d="M586.8 328.4L586.8 328.9L586.8 329.4L586.7 329.8L586.7 330.3L586.6 330.8L586.6 331.2L586.5 331.7L586.4 332.1L586.3 332.5L586.1 333.0L586.0 333.4L585.9 333.8L585.7 334.2L585.5 334.5L585.4 334.9L585.2 335.2L585.0 335.6L584.7 335.9L584.5 336.2L584.3 336.5L584.0 336.8L583.8 337.0L583.5 337.3L583.2 337.5L582.9 337.7L582.6 337.9L582.3 338.1L582.0 338.3L581.7 338.4L581.4 338.6L581.1 338.7L580.7 338.8L580.4 338.9L580.0 338.9L579.7 339.0L579.3 339.0L579.0 339.0L578.6 339.0L578.2 339.0L577.9 338.9L577.5 338.9L577.1 338.8L576.8 338.7L576.4 338.6L576.0 338.4L575.6 338.3L575.2 338.1L574.9 337.9L574.5 337.7L574.1 337.5L573.8 337.3L573.4 337.1L573.0 336.8L572.7 336.5L572.3 336.2L572.0 335.9L571.6 335.6L571.3 335.3L570.9 334.9L570.6 334.6L570.3 334.2L570.0 333.8L569.7 333.4L569.4 333.0L569.1 332.6L568.8 332.2L568.5 331.7L568.2 331.3L568.0 330.8L567.7 330.4L567.5 329.9L567.3 329.4L567.0 328.9L566.8 328.4L566.6 328.0L566.5 327.5L566.3 327.0L566.1 326.5L566.0 326.0L565.9 325.4L565.7 324.9L565.6 324.4L565.5 323.9L565.4 323.4L565.4 322.9L565.3 322.4L565.3 321.9L565.2 321.4L565.2 320.9L565.2 320.4L565.2 319.9L565.2 319.4L565.3 319.0L565.3 318.5L565.4 318.0L565.4 317.6L565.5 317.1L565.6 316.7L565.7 316.3L565.9 315.8L566.0 315.4L566.1 315.0L566.3 314.6L566.5 314.3L566.6 313.9L566.8 313.6L567.0 313.2L567.3 312.9L567.5 312.6L567.7 312.3L568.0 312.0L568.2 311.8L568.5 311.5L568.8 311.3L569.1 311.1L569.4 310.9L569.7 310.7L570.0 310.5L570.3 310.4L570.6 310.2L570.9 310.1L571.3 310.0L571.6 309.9L572.0 309.9L572.3 309.8L572.7 309.8L573.0 309.8L573.4 309.8L573.8 309.8L574.1 309.9L574.5 309.9L574.9 310.0L575.2 310.1L575.6 310.2L576.0 310.4L576.4 310.5L576.8 310.7L577.1 310.9L577.5 311.1L577.9 311.3L578.2 311.5L578.6 311.7L579.0 312.0L579.3 312.3L579.7 312.6L580.0 312.9L580.4 313.2L580.7 313.5L581.1 313.9L581.4 314.2L581.7 314.6L582.0 315.0L582.3 315.4L582.6 315.8L582.9 316.2L583.2 316.6L583.5 317.1L583.8 317.5L584.0 318.0L584.3 318.4L584.5 318.9L584.7 319.4L585.0 319.9L585.2 320.4L585.4 320.8L585.5 321.3L585.7 321.8L585.9 322.3L586.0 322.8L586.1 323.4L586.3 323.9L586.4 324.4L586.5 324.9L586.6 325.4L586.6 325.9L586.7 326.4L586.7 326.9L586.8 327.4L586.8 327.9L586.8 328.4Z" stroke-width="2.0" />
<path d="M581.3 338.6L567.3 343.6" stroke-width="2.0" />
<path d="M570.7 310.2L556.7 315.2" stroke-width="2.0" />
<path d="M574.5 346.3L574.5 348.0L574.4 349.7L574.3 351.3L574.1 352.9L573.9 354.5L573.7 356.1L573.4 357.7L573.0 359.2L572.6 360.7L572.2 362.1L571.7 363.5L571.2 364.9L570.6 366.2L570.0 367.5L569.3 368.8L568.6 370.0L567.9 371.2L567.1 372.3L566.3 373.3L565.5 374.4L564.6 375.3L563.7 376.2L562.7 377.1L561.8 377.9L560.7 378.7L559.7 379.4L558.6 380.0L557.5 380.6L556.4 381.1L555.2 381.6L554.1 382.0L552.9 382.3L551.7 382.6L550.4 382.8L549.2 383.0L547.9 383.1L546.6 383.1L545.3 383.1L544.0 383.0L542.7 382.8L541.4 382.6L540.0 382.4L538.7 382.0L537.3 381.6L536.0 381.2L534.7 380.7L533.3 380.1L532.0 379.5L530.6 378.8L529.3 378.0L528.0 377.2L526.7 376.4L525.4 375.5L524.1 374.5L522.8 373.5L521.6 372.5L520.3 371.4L519.1 370.2L517.9 369.0L516.8 367.8L515.6 366.5L514.5 365.1L513.4 363.8L512.3 362.4L511.3 360.9L510.2 359.4L509.3 357.9L508.3 356.4L507.4 354.8L506.5 353.2L505.7 351.6L504.9 350.0L504.1 348.3L503.4 346.6L502.7 344.9L502.0 343.2L501.4 341.4L500.8 339.7L500.3 337.9L499.8 336.2L499.4 334.4L499.0 332.7L498.6 330.9L498.3 329.1L498.1 327.4L497.9 325.6L497.7 323.9L497.6 322.1L497.5 320.4L497.5 318.7L497.5 317.0L497.6 315.3L497.7 313.7L497.9 312.1L498.1 310.5L498.3 308.9L498.6 307.3L499.0 305.8L499.4 304.3L499.8 302.9L500.3 301.5L500.8 300.1L501.4 298.8L502.0 297.5L502.7 296.2L503.4 295.0L504.1 293.8L504.9 292.7L505.7 291.7L506.5 290.6L507.4 289.7L508.3 288.8L509.3 287.9L510.2 287.1L511.3 286.3L512.3 285.6L513.4 285.0L514.5 284.4L515.6 283.9L516.8 283.4L517.9 283.0L519.1 282.7L520.3 282.4L521.6 282.2L522.8 282.0L524.1 281.9L525.4 281.9L526.7 281.9L528.0 282.0L529.3 282.2L530.6 282.4L532.0 282.6L533.3 283.0L534.7 283.4L536.0 283.8L537.3 284.3L538.7 284.9L540.0 285.5L541.4 286.2L542.7 287.0L544.0 287.8L545.3 288.6L546.6 289.5L547.9 290.5L549.2 291.5L550.4 292.5L551.7 293.6L552.9 294.8L554.1 296.0L555.2 297.2L556.4 298.5L557.5 299.9L558.6 301.2L559.7 302.6L560.7 304.1L561.8 305.6L562.7 307.1L563.7 308.6L564.6 310.2L565.5 311.8L566.3 313.4L567.1 315.0L567.9 316.7L568.6 318.4L569.3 320.1L570.0 321.8L570.6 323.6L571.2 325.3L571.7 327.1L572.2 328.8L572.6 330.6L573.0 332.3L573.4 334.1L573.7 335.9L573.9 337.6L574.1 339.4L574.3 341.1L574.4 342.9L574.5 344.6L574.5 346.3Z" fill="url(#bg)" stroke="none"/>
<path d="M574.5 346.3L574.5 348.0L574.4 349.7L574.3 351.3L574.1 352.9L573.9 354.5L573.7 356.1L573.4 357.7L573.0 359.2L572.6 360.7L572.2 362.1L571.7 363.5L571.2 364.9L570.6 366.2L570.0 367.5L569.3 368.8L568.6 370.0L567.9 371.2L567.1 372.3L566.3 373.3L565.5 374.4L564.6 375.3L563.7 376.2L562.7 377.1L561.8 377.9L560.7 378.7L559.7 379.4L558.6 380.0L557.5 380.6L556.4 381.1L555.2 381.6L554.1 382.0L552.9 382.3L551.7 382.6L550.4 382.8L549.2 383.0L547.9 383.1L546.6 383.1L545.3 383.1L544.0 383.0L542.7 382.8L541.4 382.6L540.0 382.4L538.7 382.0L537.3 381.6L536.0 381.2L534.7 380.7L533.3 380.1L532.0 379.5L530.6 378.8L529.3 378.0L528.0 377.2L526.7 376.4L525.4 375.5L524.1 374.5L522.8 373.5L521.6 372.5L520.3 371.4L519.1 370.2L517.9 369.0L516.8 367.8L515.6 366.5L514.5 365.1L513.4 363.8L512.3 362.4L511.3 360.9L510.2 359.4L509.3 357.9L508.3 356.4L507.4 354.8L506.5 353.2L505.7 351.6L504.9 350.0L504.1 348.3L503.4 346.6L502.7 344.9L502.0 343.2L501.4 341.4L500.8 339.7L500.3 337.9L499.8 336.2L499.4 334.4L499.0 332.7L498.6 330.9L498.3 329.1L498.1 327.4L497.9 325.6L497.7 323.9L497.6 322.1L497.5 320.4L497.5 318.7L497.5 317.0L497.6 315.3L497.7 313.7L497.9 312.1L498.1 310.5L498.3 308.9L498.6 307.3L499.0 305.8L499.4 304.3L499.8 302.9L500.3 301.5L500.8 300.1L501.4 298.8L502.0 297.5L502.7 296.2L503.4 295.0L504.1 293.8L504.9 292.7L505.7 291.7L506.5 290.6L507.4 289.7L508.3 288.8L509.3 287.9L510.2 287.1L511.3 286.3L512.3 285.6L513.4 285.0L514.5 284.4L515.6 283.9L516.8 283.4L517.9 283.0L519.1 282.7L520.3 282.4L521.6 282.2L522.8 282.0L524.1 281.9L525.4 281.9L526.7 281.9L528.0 282.0L529.3 282.2L530.6 282.4L532.0 282.6L533.3 283.0L534.7 283.4L536.0 283.8L537.3 284.3L538.7 284.9L540.0 285.5L541.4 286.2L542.7 287.0L544.0 287.8L545.3 288.6L546.6 289.5L547.9 290.5L549.2 291.5L550.4 292.5L551.7 293.6L552.9 294.8L554.1 296.0L555.2 297.2L556.4 298.5L557.5 299.9L558.6 301.2L559.7 302.6L560.7 304.1L561.8 305.6L562.7 307.1L563.7 308.6L564.6 310.2L565.5 311.8L566.3 313.4L567.1 315.0L567.9 316.7L568.6 318.4L569.3 320.1L570.0 321.8L570.6 323.6L571.2 325.3L571.7 327.1L572.2 328.8L572.6 330.6L573.0 332.3L573.4 334.1L573.7 335.9L573.9 337.6L574.1 339.4L574.3 341.1L574.4 342.9L574.5 344.6L574.5 346.3Z" stroke-width="2.2" />
<path d="M556.0 351.5L556.0 353.0L555.9 354.4L555.9 355.9L555.8 357.3L555.7 358.7L555.5 360.0L555.4 361.4L555.2 362.7L554.9 364.0L554.7 365.3L554.4 366.5L554.1 367.7L553.8 368.8L553.5 370.0L553.1 371.1L552.7 372.1L552.3 373.1L551.9 374.1L551.4 375.0L551.0 375.9L550.5 376.7L550.0 377.5L549.4 378.3L548.9 379.0L548.3 379.6L547.7 380.2L547.1 380.8L546.5 381.3L545.9 381.8L545.2 382.2L544.6 382.5L543.9 382.8L543.2 383.1L542.6 383.2L541.9 383.4L541.1 383.5L540.4 383.5L539.7 383.5L539.0 383.4L538.2 383.3L537.5 383.1L536.7 382.9L536.0 382.6L535.3 382.2L534.5 381.8L533.7 381.4L533.0 380.9L532.3 380.3L531.5 379.7L530.8 379.1L530.0 378.4L529.3 377.7L528.6 376.9L527.9 376.1L527.1 375.2L526.4 374.3L525.8 373.3L525.1 372.3L524.4 371.2L523.8 370.2L523.1 369.0L522.5 367.9L521.9 366.7L521.3 365.5L520.7 364.2L520.1 362.9L519.6 361.6L519.0 360.3L518.5 358.9L518.0 357.5L517.6 356.1L517.1 354.7L516.7 353.2L516.3 351.8L515.9 350.3L515.5 348.8L515.2 347.3L514.9 345.8L514.6 344.2L514.3 342.7L514.1 341.2L513.8 339.6L513.6 338.1L513.5 336.6L513.3 335.0L513.2 333.5L513.1 332.0L513.1 330.5L513.0 329.0L513.0 327.5L513.0 326.0L513.1 324.6L513.1 323.1L513.2 321.7L513.3 320.3L513.5 319.0L513.6 317.6L513.8 316.3L514.1 315.0L514.3 313.7L514.6 312.5L514.9 311.3L515.2 310.2L515.5 309.0L515.9 307.9L516.3 306.9L516.7 305.9L517.1 304.9L517.6 304.0L518.0 303.1L518.5 302.3L519.0 301.5L519.6 300.7L520.1 300.0L520.7 299.4L521.3 298.8L521.9 298.2L522.5 297.7L523.1 297.2L523.8 296.8L524.4 296.5L525.1 296.2L525.8 295.9L526.4 295.8L527.1 295.6L527.9 295.5L528.6 295.5L529.3 295.5L530.0 295.6L530.8 295.7L531.5 295.9L532.3 296.1L533.0 296.4L533.7 296.8L534.5 297.2L535.3 297.6L536.0 298.1L536.7 298.7L537.5 299.3L538.2 299.9L539.0 300.6L539.7 301.3L540.4 302.1L541.1 302.9L541.9 303.8L542.6 304.7L543.2 305.7L543.9 306.7L544.6 307.8L545.2 308.8L545.9 310.0L546.5 311.1L547.1 312.3L547.7 313.5L548.3 314.8L548.9 316.1L549.4 317.4L550.0 318.7L550.5 320.1L551.0 321.5L551.4 322.9L551.9 324.3L552.3 325.8L552.7 327.2L553.1 328.7L553.5 330.2L553.8 331.7L554.1 333.2L554.4 334.8L554.7 336.3L554.9 337.8L555.2 339.4L555.4 340.9L555.5 342.4L555.7 344.0L555.8 345.5L555.9 347.0L555.9 348.5L556.0 350.0L556.0 351.5Z" stroke-width="2.0" />
<path d="M542.5 352.4L542.5 353.4L542.5 354.5L542.4 355.5L542.4 356.5L542.3 357.5L542.2 358.5L542.1 359.4L542.0 360.4L541.8 361.3L541.7 362.2L541.5 363.1L541.3 364.0L541.1 364.8L540.9 365.7L540.7 366.5L540.4 367.2L540.2 368.0L539.9 368.7L539.6 369.4L539.3 370.1L539.0 370.7L538.7 371.3L538.4 371.9L538.0 372.4L537.7 373.0L537.3 373.4L536.9 373.9L536.5 374.3L536.2 374.7L535.8 375.0L535.3 375.3L534.9 375.6L534.5 375.8L534.1 376.0L533.6 376.2L533.2 376.3L532.7 376.4L532.3 376.5L531.8 376.5L531.3 376.5L530.9 376.4L530.4 376.3L529.9 376.2L529.5 376.0L529.0 375.8L528.5 375.6L528.1 375.3L527.6 375.0L527.1 374.6L526.7 374.3L526.2 373.8L525.7 373.4L525.3 372.9L524.8 372.4L524.4 371.8L523.9 371.3L523.5 370.6L523.1 370.0L522.7 369.3L522.2 368.6L521.8 367.9L521.5 367.1L521.1 366.4L520.7 365.6L520.3 364.7L520.0 363.9L519.6 363.0L519.3 362.1L519.0 361.2L518.7 360.3L518.4 359.3L518.1 358.4L517.8 357.4L517.6 356.4L517.3 355.4L517.1 354.3L516.9 353.3L516.7 352.3L516.5 351.2L516.3 350.2L516.2 349.1L516.0 348.1L515.9 347.0L515.8 345.9L515.7 344.9L515.6 343.8L515.6 342.8L515.5 341.7L515.5 340.6L515.5 339.6L515.5 338.6L515.5 337.5L515.6 336.5L515.6 335.5L515.7 334.5L515.8 333.5L515.9 332.6L516.0 331.6L516.2 330.7L516.3 329.8L516.5 328.9L516.7 328.0L516.9 327.2L517.1 326.3L517.3 325.5L517.6 324.8L517.8 324.0L518.1 323.3L518.4 322.6L518.7 321.9L519.0 321.3L519.3 320.7L519.6 320.1L520.0 319.6L520.3 319.0L520.7 318.6L521.1 318.1L521.5 317.7L521.8 317.3L522.2 317.0L522.7 316.7L523.1 316.4L523.5 316.2L523.9 316.0L524.4 315.8L524.8 315.7L525.3 315.6L525.7 315.5L526.2 315.5L526.7 315.5L527.1 315.6L527.6 315.7L528.1 315.8L528.5 316.0L529.0 316.2L529.5 316.4L529.9 316.7L530.4 317.0L530.9 317.4L531.3 317.7L531.8 318.2L532.3 318.6L532.7 319.1L533.2 319.6L533.6 320.2L534.1 320.7L534.5 321.4L534.9 322.0L535.3 322.7L535.8 323.4L536.2 324.1L536.5 324.9L536.9 325.6L537.3 326.4L537.7 327.3L538.0 328.1L538.4 329.0L538.7 329.9L539.0 330.8L539.3 331.7L539.6 332.7L539.9 333.6L540.2 334.6L540.4 335.6L540.7 336.6L540.9 337.7L541.1 338.7L541.3 339.7L541.5 340.8L541.7 341.8L541.8 342.9L542.0 343.9L542.1 345.0L542.2 346.1L542.3 347.1L542.4 348.2L542.4 349.2L542.5 350.3L542.5 351.4L542.5 352.4Z" stroke-width="2.0" />
<path d="M507.1 247.0L523.5 247.0L523.5 440.0L507.1 440.0Z" fill="url(#bg)" stroke="none"/>
<path d="M507.1 247.0L507.1 440.0" stroke-width="2.0" />
<path d="M514.6 247.0L514.6 440.0" stroke-width="2.0" />
<path d="M523.5 247.0L523.5 440.0" stroke-width="2.0" />
<path d="M543.9 382.0L542.7 383.0L542.7 437.0L543.9 436.0Z" fill="url(#bg)" stroke="none"/>
<path d="M543.9 382.0L543.9 436.0L542.7 437.0L542.7 383.0" stroke-width="1.2" />
<path d="M526.8 383.3L525.4 382.3L525.4 436.3L526.8 437.3Z" fill="url(#bg)" stroke="none"/>
<path d="M526.8 383.3L526.8 437.3L525.4 436.3L525.4 382.3" stroke-width="1.2" />
<path d="M547.8 385.0L545.3 385.5L545.3 439.5L547.8 439.0Z" fill="url(#bg)" stroke="none"/>
<path d="M547.8 385.0L547.8 439.0L545.3 439.5L545.3 385.5" stroke-width="1.2" />
<path d="M524.6 385.9L522.1 385.4L522.1 439.4L524.6 439.9Z" fill="url(#bg)" stroke="none"/>
<path d="M524.6 385.9L524.6 439.9L522.1 439.4L522.1 385.4" stroke-width="1.2" />
<path d="M545.4 386.0L545.4 386.1L545.4 440.1L545.4 440.0Z" fill="url(#bg)" stroke="none"/>
<path d="M545.4 386.0L545.4 440.0L545.4 440.1L545.4 386.1" stroke-width="1.2" />
<path d="M524.7 386.5L524.6 386.0L524.6 440.0L524.7 440.5Z" fill="url(#bg)" stroke="none"/>
<path d="M524.7 386.5L524.7 440.5L524.6 440.0L524.6 386.0" stroke-width="1.2" />
<path d="M547.9 386.6L546.8 388.3L546.8 442.3L547.9 440.6Z" fill="url(#bg)" stroke="none"/>
<path d="M547.9 386.6L547.9 440.6L546.8 442.3L546.8 388.3" stroke-width="1.2" />
<path d="M523.7 388.7L522.2 387.0L522.2 441.0L523.7 442.7Z" fill="url(#bg)" stroke="none"/>
<path d="M523.7 388.7L523.7 442.7L522.2 441.0L522.2 387.0" stroke-width="1.2" />
<path d="M546.8 388.3L544.0 388.2L544.0 442.2L546.8 442.3Z" fill="url(#bg)" stroke="none"/>
<path d="M546.8 388.3L546.8 442.3L544.0 442.2L544.0 388.2" stroke-width="1.2" />
<path d="M544.0 388.2L543.4 388.6L543.4 442.6L544.0 442.2Z" fill="url(#bg)" stroke="none"/>
<path d="M544.0 388.2L544.0 442.2L543.4 442.6L543.4 388.6" stroke-width="1.2" />
<path d="M526.6 388.6L526.4 388.5L526.4 442.5L526.6 442.6Z" fill="url(#bg)" stroke="none"/>
<path d="M526.6 388.6L526.6 442.6L526.4 442.5L526.4 388.5" stroke-width="1.2" />
<path d="M526.4 388.5L523.7 388.7L523.7 442.7L526.4 442.5Z" fill="url(#bg)" stroke="none"/>
<path d="M526.4 388.5L526.4 442.5L523.7 442.7L523.7 388.7" stroke-width="1.2" />
<path d="M543.4 388.6L543.2 388.7L543.2 442.7L543.4 442.6Z" fill="url(#bg)" stroke="none"/>
<path d="M543.4 388.6L543.4 442.6L543.2 442.7L543.2 388.7" stroke-width="1.2" />
<path d="M527.3 389.0L526.6 388.6L526.6 442.6L527.3 443.0Z" fill="url(#bg)" stroke="none"/>
<path d="M527.3 389.0L527.3 443.0L526.6 442.6L526.6 388.6" stroke-width="1.2" />
<path d="M539.2 390.0L538.2 390.2L538.2 444.2L539.2 444.0Z" fill="url(#bg)" stroke="none"/>
<path d="M539.2 390.0L539.2 444.0L538.2 444.2L538.2 390.2" stroke-width="1.2" />
<path d="M531.8 390.2L531.5 390.1L531.5 444.1L531.8 444.2Z" fill="url(#bg)" stroke="none"/>
<path d="M531.8 390.2L531.8 444.2L531.5 444.1L531.5 390.1" stroke-width="1.2" />
<path d="M538.2 390.2L537.9 390.2L537.9 444.2L538.2 444.2Z" fill="url(#bg)" stroke="none"/>
<path d="M538.2 390.2L538.2 444.2L537.9 444.2L537.9 390.2" stroke-width="1.2" />
<path d="M532.9 390.3L531.8 390.2L531.8 444.2L532.9 444.3Z" fill="url(#bg)" stroke="none"/>
<path d="M532.9 390.3L532.9 444.3L531.8 444.2L531.8 390.2" stroke-width="1.2" />
<path d="M544.6 389.7L541.3 390.8L541.3 444.8L544.6 443.7Z" fill="url(#bg)" stroke="none"/>
<path d="M544.6 389.7L544.6 443.7L541.3 444.8L541.3 390.8" stroke-width="1.2" />
<path d="M541.3 390.8L539.2 390.0L539.2 444.0L541.3 444.8Z" fill="url(#bg)" stroke="none"/>
<path d="M541.3 390.8L541.3 444.8L539.2 444.0L539.2 390.0" stroke-width="1.2" />
<path d="M529.6 391.0L526.1 390.0L526.1 444.0L529.6 445.0Z" fill="url(#bg)" stroke="none"/>
<path d="M529.6 391.0L529.6 445.0L526.1 444.0L526.1 390.0" stroke-width="1.2" />
<path d="M531.5 390.1L529.6 391.0L529.6 445.0L531.5 444.1Z" fill="url(#bg)" stroke="none"/>
<path d="M531.5 390.1L531.5 444.1L529.6 445.0L529.6 391.0" stroke-width="1.2" />
<path d="M537.9 390.2L537.6 391.4L537.6 445.4L537.9 444.2Z" fill="url(#bg)" stroke="none"/>
<path d="M537.9 390.2L537.9 444.2L537.6 445.4L537.6 391.4" stroke-width="1.2" />
<path d="M533.4 391.5L532.9 390.3L532.9 444.3L533.4 445.5Z" fill="url(#bg)" stroke="none"/>
<path d="M533.4 391.5L533.4 445.5L532.9 444.3L532.9 390.3" stroke-width="1.2" />
<path d="M537.6 391.4L533.4 391.5L533.4 445.5L537.6 445.4Z" fill="url(#bg)" stroke="none"/>
<path d="M537.6 391.4L537.6 445.4L533.4 445.5L533.4 391.5" stroke-width="1.2" />
<path d="M545.4 386.0L545.4 386.1L547.9 386.6L546.8 388.3L544.0 388.2L543.4 388.6L543.2 388.7L544.6 389.7L541.3 390.8L539.2 390.0L538.2 390.2L537.9 390.2L537.6 391.4L533.4 391.5L532.9 390.3L531.8 390.2L531.5 390.1L529.6 391.0L526.1 390.0L527.3 389.0L526.6 388.6L526.4 388.5L523.7 388.7L522.2 387.0L524.7 386.5L524.6 386.0L524.6 385.9L522.1 385.4L523.2 383.7L526.0 383.8L526.6 383.4L526.8 383.3L525.4 382.3L528.7 381.2L530.8 382.0L531.8 381.8L532.1 381.8L532.4 380.6L536.6 380.5L537.1 381.7L538.2 381.8L538.5 381.9L540.4 381.0L543.9 382.0L542.7 383.0L543.4 383.4L543.6 383.5L546.3 383.3L547.8 385.0L545.3 385.5Z" fill="url(#bg)" stroke="none"/>
<path d="M545.4 386.0L545.4 386.1L547.9 386.6L546.8 388.3L544.0 388.2L543.4 388.6L543.2 388.7L544.6 389.7L541.3 390.8L539.2 390.0L538.2 390.2L537.9 390.2L537.6 391.4L533.4 391.5L532.9 390.3L531.8 390.2L531.5 390.1L529.6 391.0L526.1 390.0L527.3 389.0L526.6 388.6L526.4 388.5L523.7 388.7L522.2 387.0L524.7 386.5L524.6 386.0L524.6 385.9L522.1 385.4L523.2 383.7L526.0 383.8L526.6 383.4L526.8 383.3L525.4 382.3L528.7 381.2L530.8 382.0L531.8 381.8L532.1 381.8L532.4 380.6L536.6 380.5L537.1 381.7L538.2 381.8L538.5 381.9L540.4 381.0L543.9 382.0L542.7 383.0L543.4 383.4L543.6 383.5L546.3 383.3L547.8 385.0L545.3 385.5Z" stroke-width="1.5" />
<path d="M548.0 404.0L548.0 404.3L547.9 404.6L547.8 404.9L547.7 405.1L547.6 405.4L547.4 405.7L547.1 406.0L546.9 406.2L546.6 406.5L546.3 406.8L545.9 407.0L545.5 407.2L545.1 407.5L544.7 407.7L544.2 407.9L543.7 408.1L543.2 408.3L542.6 408.4L542.1 408.6L541.5 408.8L540.9 408.9L540.3 409.0L539.7 409.1L539.0 409.2L538.4 409.3L537.7 409.4L537.0 409.4L536.4 409.5L535.7 409.5L535.0 409.5L534.3 409.5L533.6 409.5L533.0 409.4L532.3 409.4L531.6 409.3L531.0 409.2L530.3 409.1L529.7 409.0L529.1 408.9L528.5 408.8L527.9 408.6L527.4 408.4L526.8 408.3L526.3 408.1L525.8 407.9L525.3 407.7L524.9 407.5L524.5 407.2L524.1 407.0L523.7 406.8L523.4 406.5L523.1 406.2L522.9 406.0L522.6 405.7L522.4 405.4L522.3 405.1L522.2 404.9L522.1 404.6L522.0 404.3L522.0 404.0" stroke-width="1.3" />
<path d="M548.0 422.0L548.0 422.3L547.9 422.6L547.8 422.9L547.7 423.1L547.6 423.4L547.4 423.7L547.1 424.0L546.9 424.2L546.6 424.5L546.3 424.8L545.9 425.0L545.5 425.2L545.1 425.5L544.7 425.7L544.2 425.9L543.7 426.1L543.2 426.3L542.6 426.4L542.1 426.6L541.5 426.8L540.9 426.9L540.3 427.0L539.7 427.1L539.0 427.2L538.4 427.3L537.7 427.4L537.0 427.4L536.4 427.5L535.7 427.5L535.0 427.5L534.3 427.5L533.6 427.5L533.0 427.4L532.3 427.4L531.6 427.3L531.0 427.2L530.3 427.1L529.7 427.0L529.1 426.9L528.5 426.8L527.9 426.6L527.4 426.4L526.8 426.3L526.3 426.1L525.8 425.9L525.3 425.7L524.9 425.5L524.5 425.2L524.1 425.0L523.7 424.8L523.4 424.5L523.1 424.2L522.9 424.0L522.6 423.7L522.4 423.4L522.3 423.1L522.2 422.9L522.1 422.6L522.0 422.3L522.0 422.0" stroke-width="1.3" />
<path d="M355.5 366.5L362.7 365.0L383.7 357.0L376.5 358.5Z" fill="url(#bg)" stroke="none"/>
<path d="M355.5 366.5L376.5 358.5L383.7 357.0L362.7 365.0" stroke-width="1.5" />
<path d="M381.6 412.2L375.2 415.7L396.2 407.7L402.6 404.2Z" fill="url(#bg)" stroke="none"/>
<path d="M381.6 412.2L402.6 404.2L396.2 407.7L375.2 415.7" stroke-width="1.5" />
<path d="M352.7 351.7L360.3 351.6L381.3 343.6L373.7 343.7Z" fill="url(#bg)" stroke="none"/>
<path d="M352.7 351.7L373.7 343.7L381.3 343.6L360.3 351.6" stroke-width="1.5" />
<path d="M389.2 423.7L383.5 428.5L404.5 420.5L410.2 415.7Z" fill="url(#bg)" stroke="none"/>
<path d="M389.2 423.7L410.2 415.7L404.5 420.5L383.5 428.5" stroke-width="1.5" />
<path d="M351.3 337.1L359.3 338.5L380.3 330.5L372.3 329.1Z" fill="url(#bg)" stroke="none"/>
<path d="M351.3 337.1L372.3 329.1L380.3 330.5L359.3 338.5" stroke-width="1.5" />
<path d="M397.5 434.1L392.6 440.3L413.6 432.3L418.5 426.1Z" fill="url(#bg)" stroke="none"/>
<path d="M397.5 434.1L418.5 426.1L413.6 432.3L392.6 440.3" stroke-width="1.5" />
<path d="M351.4 323.0L359.5 325.9L380.5 317.9L372.4 315.0Z" fill="url(#bg)" stroke="none"/>
<path d="M351.4 323.0L372.4 315.0L380.5 317.9L359.5 325.9" stroke-width="1.5" />
<path d="M406.5 443.2L402.5 450.6L423.5 442.6L427.5 435.2Z" fill="url(#bg)" stroke="none"/>
<path d="M406.5 443.2L427.5 435.2L423.5 442.6L402.5 450.6" stroke-width="1.5" />
<path d="M353.0 309.8L361.1 314.1L382.1 306.1L374.0 301.8Z" fill="url(#bg)" stroke="none"/>
<path d="M353.0 309.8L374.0 301.8L382.1 306.1L361.1 314.1" stroke-width="1.5" />
<path d="M415.9 450.9L412.9 459.4L433.9 451.4L436.9 442.9Z" fill="url(#bg)" stroke="none"/>
<path d="M415.9 450.9L436.9 442.9L433.9 451.4L412.9 459.4" stroke-width="1.5" />
<path d="M356.1 297.6L364.0 303.3L385.0 295.3L377.1 289.6Z" fill="url(#bg)" stroke="none"/>
<path d="M356.1 297.6L377.1 289.6L385.0 295.3L364.0 303.3" stroke-width="1.5" />
<path d="M425.6 457.1L423.7 466.4L444.7 458.4L446.6 449.1Z" fill="url(#bg)" stroke="none"/>
<path d="M425.6 457.1L446.6 449.1L444.7 458.4L423.7 466.4" stroke-width="1.5" />
<path d="M360.5 286.7L368.2 293.7L389.2 285.7L381.5 278.7Z" fill="url(#bg)" stroke="none"/>
<path d="M360.5 286.7L381.5 278.7L389.2 285.7L368.2 293.7" stroke-width="1.5" />
<path d="M435.4 461.6L434.6 471.6L455.6 463.6L456.4 453.6Z" fill="url(#bg)" stroke="none"/>
<path d="M435.4 461.6L456.4 453.6L455.6 463.6L434.6 471.6" stroke-width="1.5" />
<path d="M366.3 277.3L373.5 285.4L394.5 277.4L387.3 269.3Z" fill="url(#bg)" stroke="none"/>
<path d="M366.3 277.3L387.3 269.3L394.5 277.4L373.5 285.4" stroke-width="1.5" />
<path d="M445.1 464.3L445.4 474.9L466.4 466.9L466.1 456.3Z" fill="url(#bg)" stroke="none"/>
<path d="M445.1 464.3L466.1 456.3L466.4 466.9L445.4 474.9" stroke-width="1.5" />
<path d="M373.3 269.6L379.9 278.6L400.9 270.6L394.3 261.6Z" fill="url(#bg)" stroke="none"/>
<path d="M373.3 269.6L394.3 261.6L400.9 270.6L379.9 278.6" stroke-width="1.5" />
<path d="M454.6 465.2L456.0 476.1L477.0 468.1L475.6 457.2Z" fill="url(#bg)" stroke="none"/>
<path d="M454.6 465.2L475.6 457.2L477.0 468.1L456.0 476.1" stroke-width="1.5" />
<path d="M381.3 263.7L387.2 273.5L408.2 265.5L402.3 255.7Z" fill="url(#bg)" stroke="none"/>
<path d="M381.3 263.7L402.3 255.7L408.2 265.5L387.2 273.5" stroke-width="1.5" />
<path d="M463.6 464.2L466.1 475.3L487.1 467.3L484.6 456.2Z" fill="url(#bg)" stroke="none"/>
<path d="M463.6 464.2L484.6 456.2L487.1 467.3L466.1 475.3" stroke-width="1.5" />
<path d="M386.5 261.1L390.3 259.7L411.3 251.7L407.5 253.1Z" fill="url(#bg)" stroke="none"/>
<path d="M386.5 261.1L407.5 253.1L411.3 251.7L390.3 259.7" stroke-width="1.5" />
<path d="M390.3 259.7L395.4 270.1L416.4 262.1L411.3 251.7Z" fill="url(#bg)" stroke="none"/>
<path d="M390.3 259.7L411.3 251.7L416.4 262.1L395.4 270.1" stroke-width="1.5" />
<path d="M395.4 270.1L398.0 269.5L419.0 261.5L416.4 262.1Z" fill="url(#bg)" stroke="none"/>
<path d="M395.4 270.1L416.4 262.1L419.0 261.5L398.0 269.5" stroke-width="1.5" />
<path d="M398.0 269.5L398.4 269.4L419.4 261.4L419.0 261.5Z" fill="url(#bg)" stroke="none"/>
<path d="M398.0 269.5L419.0 261.5L419.4 261.4L398.4 269.4" stroke-width="1.5" />
<path d="M472.0 461.5L475.5 472.5L496.5 464.5L493.0 453.5Z" fill="url(#bg)" stroke="none"/>
<path d="M472.0 461.5L493.0 453.5L496.5 464.5L475.5 472.5" stroke-width="1.5" />
<path d="M472.4 461.3L472.0 461.5L493.0 453.5L493.4 453.3Z" fill="url(#bg)" stroke="none"/>
<path d="M472.4 461.3L493.4 453.3L493.0 453.5L472.0 461.5" stroke-width="1.5" />
<path d="M474.8 460.1L472.4 461.3L493.4 453.3L495.8 452.1Z" fill="url(#bg)" stroke="none"/>
<path d="M474.8 460.1L495.8 452.1L493.4 453.3L472.4 461.3" stroke-width="1.5" />
<path d="M395.9 258.3L400.0 257.7L421.0 249.7L416.9 250.3Z" fill="url(#bg)" stroke="none"/>
<path d="M395.9 258.3L416.9 250.3L421.0 249.7L400.0 257.7" stroke-width="1.5" />
<path d="M400.0 257.7L404.2 268.6L425.2 260.6L421.0 249.7Z" fill="url(#bg)" stroke="none"/>
<path d="M400.0 257.7L421.0 249.7L425.2 260.6L404.2 268.6" stroke-width="1.5" />
<path d="M404.2 268.6L407.0 268.4L428.0 260.4L425.2 260.6Z" fill="url(#bg)" stroke="none"/>
<path d="M404.2 268.6L425.2 260.6L428.0 260.4L407.0 268.4" stroke-width="1.5" />
<path d="M484.1 467.7L480.7 469.9L501.7 461.9L505.1 459.7Z" fill="url(#bg)" stroke="none"/>
<path d="M484.1 467.7L505.1 459.7L501.7 461.9L480.7 469.9" stroke-width="1.5" />
<path d="M407.0 268.4L407.4 268.4L428.4 260.4L428.0 260.4Z" fill="url(#bg)" stroke="none"/>
<path d="M407.0 268.4L428.0 260.4L428.4 260.4L407.4 268.4" stroke-width="1.5" />
<path d="M479.7 457.0L484.1 467.7L505.1 459.7L500.7 449.0Z" fill="url(#bg)" stroke="none"/>
<path d="M479.7 457.0L500.7 449.0L505.1 459.7L484.1 467.7" stroke-width="1.5" />
<path d="M480.0 456.7L479.7 457.0L500.7 449.0L501.0 448.7Z" fill="url(#bg)" stroke="none"/>
<path d="M480.0 456.7L501.0 448.7L500.7 449.0L479.7 457.0" stroke-width="1.5" />
<path d="M482.1 455.0L480.0 456.7L501.0 448.7L503.1 447.0Z" fill="url(#bg)" stroke="none"/>
<path d="M482.1 455.0L503.1 447.0L501.0 448.7L480.0 456.7" stroke-width="1.5" />
<path d="M406.0 257.5L410.3 257.7L431.3 249.7L427.0 249.5Z" fill="url(#bg)" stroke="none"/>
<path d="M406.0 257.5L427.0 249.5L431.3 249.7L410.3 257.7" stroke-width="1.5" />
<path d="M410.3 257.7L413.5 268.8L434.5 260.8L431.3 249.7Z" fill="url(#bg)" stroke="none"/>
<path d="M410.3 257.7L431.3 249.7L434.5 260.8L413.5 268.8" stroke-width="1.5" />
<path d="M413.5 268.8L416.4 269.2L437.4 261.2L434.5 260.8Z" fill="url(#bg)" stroke="none"/>
<path d="M413.5 268.8L434.5 260.8L437.4 261.2L416.4 269.2" stroke-width="1.5" />
<path d="M491.7 461.0L488.7 464.0L509.7 456.0L512.7 453.0Z" fill="url(#bg)" stroke="none"/>
<path d="M491.7 461.0L512.7 453.0L509.7 456.0L488.7 464.0" stroke-width="1.5" />
<path d="M416.4 269.2L416.9 269.3L437.9 261.3L437.4 261.2Z" fill="url(#bg)" stroke="none"/>
<path d="M416.4 269.2L437.4 261.2L437.9 261.3L416.9 269.3" stroke-width="1.5" />
<path d="M486.7 450.4L486.4 450.8L507.4 442.8L507.7 442.4Z" fill="url(#bg)" stroke="none"/>
<path d="M486.7 450.4L507.7 442.4L507.4 442.8L486.4 450.8" stroke-width="1.5" />
<path d="M486.4 450.8L491.7 461.0L512.7 453.0L507.4 442.8Z" fill="url(#bg)" stroke="none"/>
<path d="M486.4 450.8L507.4 442.8L512.7 453.0L491.7 461.0" stroke-width="1.5" />
<path d="M488.5 448.2L486.7 450.4L507.7 442.4L509.5 440.2Z" fill="url(#bg)" stroke="none"/>
<path d="M488.5 448.2L509.5 440.2L507.7 442.4L486.7 450.4" stroke-width="1.5" />
<path d="M416.6 258.7L421.0 259.8L442.0 251.8L437.6 250.7Z" fill="url(#bg)" stroke="none"/>
<path d="M416.6 258.7L437.6 250.7L442.0 251.8L421.0 259.8" stroke-width="1.5" />
<path d="M421.0 259.8L423.2 270.9L444.2 262.9L442.0 251.8Z" fill="url(#bg)" stroke="none"/>
<path d="M421.0 259.8L442.0 251.8L444.2 262.9L423.2 270.9" stroke-width="1.5" />
<path d="M423.2 270.9L426.1 271.9L447.1 263.9L444.2 262.9Z" fill="url(#bg)" stroke="none"/>
<path d="M423.2 270.9L444.2 262.9L447.1 263.9L426.1 271.9" stroke-width="1.5" />
<path d="M426.1 271.9L426.6 272.0L447.6 264.0L447.1 263.9Z" fill="url(#bg)" stroke="none"/>
<path d="M426.1 271.9L447.1 263.9L447.6 264.0L426.6 272.0" stroke-width="1.5" />
<path d="M492.4 442.6L492.1 443.0L513.1 435.0L513.4 434.6Z" fill="url(#bg)" stroke="none"/>
<path d="M492.4 442.6L513.4 434.6L513.1 435.0L492.1 443.0" stroke-width="1.5" />
<path d="M498.2 452.6L495.7 456.3L516.7 448.3L519.2 444.6Z" fill="url(#bg)" stroke="none"/>
<path d="M498.2 452.6L519.2 444.6L516.7 448.3L495.7 456.3" stroke-width="1.5" />
<path d="M492.1 443.0L498.2 452.6L519.2 444.6L513.1 435.0Z" fill="url(#bg)" stroke="none"/>
<path d="M492.1 443.0L513.1 435.0L519.2 444.6L498.2 452.6" stroke-width="1.5" />
<path d="M493.8 439.9L492.4 442.6L513.4 434.6L514.8 431.9Z" fill="url(#bg)" stroke="none"/>
<path d="M493.8 439.9L514.8 431.9L513.4 434.6L492.4 442.6" stroke-width="1.5" />
<path d="M433.0 274.8L435.9 276.2L456.9 268.2L454.0 266.8Z" fill="url(#bg)" stroke="none"/>
<path d="M433.0 274.8L454.0 266.8L456.9 268.2L435.9 276.2" stroke-width="1.5" />
<path d="M427.4 262.0L431.9 263.9L452.9 255.9L448.4 254.0Z" fill="url(#bg)" stroke="none"/>
<path d="M427.4 262.0L448.4 254.0L452.9 255.9L431.9 263.9" stroke-width="1.5" />
<path d="M431.9 263.9L433.0 274.8L454.0 266.8L452.9 255.9Z" fill="url(#bg)" stroke="none"/>
<path d="M431.9 263.9L452.9 255.9L454.0 266.8L433.0 274.8" stroke-width="1.5" />
<path d="M435.9 276.2L436.4 276.5L457.4 268.5L456.9 268.2Z" fill="url(#bg)" stroke="none"/>
<path d="M435.9 276.2L456.9 268.2L457.4 268.5L436.4 276.5" stroke-width="1.5" />
<path d="M496.9 433.3L496.7 433.8L517.7 425.8L517.9 425.3Z" fill="url(#bg)" stroke="none"/>
<path d="M496.9 433.3L517.9 425.3L517.7 425.8L496.7 433.8" stroke-width="1.5" />
<path d="M498.0 430.3L496.9 433.3L517.9 425.3L519.0 422.3Z" fill="url(#bg)" stroke="none"/>
<path d="M498.0 430.3L519.0 422.3L517.9 425.3L496.9 433.3" stroke-width="1.5" />
<path d="M503.5 442.6L501.5 446.9L522.5 438.9L524.5 434.6Z" fill="url(#bg)" stroke="none"/>
<path d="M503.5 442.6L524.5 434.6L522.5 438.9L501.5 446.9" stroke-width="1.5" />
<path d="M496.7 433.8L503.5 442.6L524.5 434.6L517.7 425.8Z" fill="url(#bg)" stroke="none"/>
<path d="M496.7 433.8L517.7 425.8L524.5 434.6L503.5 442.6" stroke-width="1.5" />
<path d="M442.7 280.3L445.6 282.3L466.6 274.3L463.7 272.3Z" fill="url(#bg)" stroke="none"/>
<path d="M442.7 280.3L463.7 272.3L466.6 274.3L445.6 282.3" stroke-width="1.5" />
<path d="M442.7 269.8L442.7 280.3L463.7 272.3L463.7 261.8Z" fill="url(#bg)" stroke="none"/>
<path d="M442.7 269.8L463.7 261.8L463.7 272.3L442.7 280.3" stroke-width="1.5" />
<path d="M438.3 267.2L442.7 269.8L463.7 261.8L459.3 259.2Z" fill="url(#bg)" stroke="none"/>
<path d="M438.3 267.2L459.3 259.2L463.7 261.8L442.7 269.8" stroke-width="1.5" />
<path d="M445.6 282.3L446.1 282.7L467.1 274.7L466.6 274.3Z" fill="url(#bg)" stroke="none"/>
<path d="M445.6 282.3L466.6 274.3L467.1 274.7L446.1 282.7" stroke-width="1.5" />
<path d="M500.1 422.8L500.0 423.4L521.0 415.4L521.1 414.8Z" fill="url(#bg)" stroke="none"/>
<path d="M500.1 422.8L521.1 414.8L521.0 415.4L500.0 423.4" stroke-width="1.5" />
<path d="M500.9 419.5L500.1 422.8L521.1 414.8L521.9 411.5Z" fill="url(#bg)" stroke="none"/>
<path d="M500.9 419.5L521.9 411.5L521.1 414.8L500.1 422.8" stroke-width="1.5" />
<path d="M500.0 423.4L507.3 431.2L528.3 423.2L521.0 415.4Z" fill="url(#bg)" stroke="none"/>
<path d="M500.0 423.4L521.0 415.4L528.3 423.2L507.3 431.2" stroke-width="1.5" />
<path d="M507.3 431.2L505.9 436.0L526.9 428.0L528.3 423.2Z" fill="url(#bg)" stroke="none"/>
<path d="M507.3 431.2L528.3 423.2L526.9 428.0L505.9 436.0" stroke-width="1.5" />
<path d="M452.3 287.5L455.0 290.0L476.0 282.0L473.3 279.5Z" fill="url(#bg)" stroke="none"/>
<path d="M452.3 287.5L473.3 279.5L476.0 282.0L455.0 290.0" stroke-width="1.5" />
<path d="M455.0 290.0L455.5 290.4L476.5 282.4L476.0 282.0Z" fill="url(#bg)" stroke="none"/>
<path d="M455.0 290.0L476.0 282.0L476.5 282.4L455.5 290.4" stroke-width="1.5" />
<path d="M453.4 277.6L452.3 287.5L473.3 279.5L474.4 269.6Z" fill="url(#bg)" stroke="none"/>
<path d="M453.4 277.6L474.4 269.6L473.3 279.5L452.3 287.5" stroke-width="1.5" />
<path d="M502.1 411.3L502.1 411.9L523.1 403.9L523.1 403.3Z" fill="url(#bg)" stroke="none"/>
<path d="M502.1 411.3L523.1 403.3L523.1 403.9L502.1 411.9" stroke-width="1.5" />
<path d="M449.1 274.2L453.4 277.6L474.4 269.6L470.1 266.2Z" fill="url(#bg)" stroke="none"/>
<path d="M449.1 274.2L470.1 266.2L474.4 269.6L453.4 277.6" stroke-width="1.5" />
<path d="M502.5 407.7L502.1 411.3L523.1 403.3L523.5 399.7Z" fill="url(#bg)" stroke="none"/>
<path d="M502.5 407.7L523.5 399.7L523.1 403.3L502.1 411.3" stroke-width="1.5" />
<path d="M502.1 411.9L509.8 418.5L530.8 410.5L523.1 403.9Z" fill="url(#bg)" stroke="none"/>
<path d="M502.1 411.9L523.1 403.9L530.8 410.5L509.8 418.5" stroke-width="1.5" />
<path d="M509.8 418.5L509.0 423.8L530.0 415.8L530.8 410.5Z" fill="url(#bg)" stroke="none"/>
<path d="M509.8 418.5L530.8 410.5L530.0 415.8L509.0 423.8" stroke-width="1.5" />
<path d="M461.4 296.2L464.0 299.0L485.0 291.0L482.4 288.2Z" fill="url(#bg)" stroke="none"/>
<path d="M461.4 296.2L482.4 288.2L485.0 291.0L464.0 299.0" stroke-width="1.5" />
<path d="M464.0 299.0L464.5 299.5L485.5 291.5L485.0 291.0Z" fill="url(#bg)" stroke="none"/>
<path d="M464.0 299.0L485.0 291.0L485.5 291.5L464.5 299.5" stroke-width="1.5" />
<path d="M502.8 398.9L502.8 399.6L523.8 391.6L523.8 390.9Z" fill="url(#bg)" stroke="none"/>
<path d="M502.8 398.9L523.8 390.9L523.8 391.6L502.8 399.6" stroke-width="1.5" />
<path d="M463.6 287.1L461.4 296.2L482.4 288.2L484.6 279.1Z" fill="url(#bg)" stroke="none"/>
<path d="M463.6 287.1L484.6 279.1L482.4 288.2L461.4 296.2" stroke-width="1.5" />
<path d="M502.7 395.1L502.8 398.9L523.8 390.9L523.7 387.1Z" fill="url(#bg)" stroke="none"/>
<path d="M502.7 395.1L523.7 387.1L523.8 390.9L502.8 398.9" stroke-width="1.5" />
<path d="M459.5 283.0L463.6 287.1L484.6 279.1L480.5 275.0Z" fill="url(#bg)" stroke="none"/>
<path d="M459.5 283.0L480.5 275.0L484.6 279.1L463.6 287.1" stroke-width="1.5" />
<path d="M502.8 399.6L510.8 404.9L531.8 396.9L523.8 391.6Z" fill="url(#bg)" stroke="none"/>
<path d="M502.8 399.6L523.8 391.6L531.8 396.9L510.8 404.9" stroke-width="1.5" />
<path d="M470.0 306.2L472.4 309.4L493.4 301.4L491.0 298.2Z" fill="url(#bg)" stroke="none"/>
<path d="M470.0 306.2L491.0 298.2L493.4 301.4L472.4 309.4" stroke-width="1.5" />
<path d="M472.4 309.4L472.8 309.9L493.8 301.9L493.4 301.4Z" fill="url(#bg)" stroke="none"/>
<path d="M472.4 309.4L493.4 301.4L493.8 301.9L472.8 309.9" stroke-width="1.5" />
<path d="M502.1 386.0L502.2 386.6L523.2 378.6L523.1 378.0Z" fill="url(#bg)" stroke="none"/>
<path d="M502.1 386.0L523.1 378.0L523.2 378.6L502.2 386.6" stroke-width="1.5" />
<path d="M510.8 404.9L510.6 410.6L531.6 402.6L531.8 396.9Z" fill="url(#bg)" stroke="none"/>
<path d="M510.8 404.9L531.8 396.9L531.6 402.6L510.6 410.6" stroke-width="1.5" />
<path d="M501.7 382.0L502.1 386.0L523.1 378.0L522.7 374.0Z" fill="url(#bg)" stroke="none"/>
<path d="M501.7 382.0L522.7 374.0L523.1 378.0L502.1 386.0" stroke-width="1.5" />
<path d="M473.2 298.0L470.0 306.2L491.0 298.2L494.2 290.0Z" fill="url(#bg)" stroke="none"/>
<path d="M473.2 298.0L494.2 290.0L491.0 298.2L470.0 306.2" stroke-width="1.5" />
<path d="M477.8 317.3L480.0 320.8L501.0 312.8L498.8 309.3Z" fill="url(#bg)" stroke="none"/>
<path d="M477.8 317.3L498.8 309.3L501.0 312.8L480.0 320.8" stroke-width="1.5" />
<path d="M480.0 320.8L480.4 321.4L501.4 313.4L501.0 312.8Z" fill="url(#bg)" stroke="none"/>
<path d="M480.0 320.8L501.0 312.8L501.4 313.4L480.4 321.4" stroke-width="1.5" />
<path d="M500.1 372.7L500.3 373.3L521.3 365.3L521.1 364.7Z" fill="url(#bg)" stroke="none"/>
<path d="M500.1 372.7L521.1 364.7L521.3 365.3L500.3 373.3" stroke-width="1.5" />
<path d="M502.2 386.6L510.3 390.6L531.3 382.6L523.2 378.6Z" fill="url(#bg)" stroke="none"/>
<path d="M502.2 386.6L523.2 378.6L531.3 382.6L510.3 390.6" stroke-width="1.5" />
<path d="M499.3 368.6L500.1 372.7L521.1 364.7L520.3 360.6Z" fill="url(#bg)" stroke="none"/>
<path d="M499.3 368.6L520.3 360.6L521.1 364.7L500.1 372.7" stroke-width="1.5" />
<path d="M469.4 293.3L473.2 298.0L494.2 290.0L490.4 285.3Z" fill="url(#bg)" stroke="none"/>
<path d="M469.4 293.3L490.4 285.3L494.2 290.0L473.2 298.0" stroke-width="1.5" />
<path d="M484.8 329.3L486.7 333.1L507.7 325.1L505.8 321.3Z" fill="url(#bg)" stroke="none"/>
<path d="M484.8 329.3L505.8 321.3L507.7 325.1L486.7 333.1" stroke-width="1.5" />
<path d="M486.7 333.1L487.0 333.7L508.0 325.7L507.7 325.1Z" fill="url(#bg)" stroke="none"/>
<path d="M486.7 333.1L507.7 325.1L508.0 325.7L487.0 333.7" stroke-width="1.5" />
<path d="M496.9 359.2L497.1 359.9L518.1 351.9L517.9 351.2Z" fill="url(#bg)" stroke="none"/>
<path d="M496.9 359.2L517.9 351.2L518.1 351.9L497.1 359.9" stroke-width="1.5" />
<path d="M495.6 355.2L496.9 359.2L517.9 351.2L516.6 347.2Z" fill="url(#bg)" stroke="none"/>
<path d="M495.6 355.2L516.6 347.2L517.9 351.2L496.9 359.2" stroke-width="1.5" />
<path d="M482.1 310.2L477.8 317.3L498.8 309.3L503.1 302.2Z" fill="url(#bg)" stroke="none"/>
<path d="M482.1 310.2L503.1 302.2L498.8 309.3L477.8 317.3" stroke-width="1.5" />
<path d="M490.8 342.0L492.4 346.0L513.4 338.0L511.8 334.0Z" fill="url(#bg)" stroke="none"/>
<path d="M490.8 342.0L511.8 334.0L513.4 338.0L492.4 346.0" stroke-width="1.5" />
<path d="M492.4 346.0L492.6 346.6L513.6 338.6L513.4 338.0Z" fill="url(#bg)" stroke="none"/>
<path d="M492.4 346.0L513.4 338.0L513.6 338.6L492.6 346.6" stroke-width="1.5" />
<path d="M510.3 390.6L510.7 396.5L531.7 388.5L531.3 382.6Z" fill="url(#bg)" stroke="none"/>
<path d="M510.3 390.6L531.3 382.6L531.7 388.5L510.7 396.5" stroke-width="1.5" />
<path d="M500.3 373.3L508.3 375.9L529.3 367.9L521.3 365.3Z" fill="url(#bg)" stroke="none"/>
<path d="M500.3 373.3L521.3 365.3L529.3 367.9L508.3 375.9" stroke-width="1.5" />
<path d="M489.9 323.5L484.8 329.3L505.8 321.3L510.9 315.5Z" fill="url(#bg)" stroke="none"/>
<path d="M489.9 323.5L510.9 315.5L505.8 321.3L484.8 329.3" stroke-width="1.5" />
<path d="M478.5 305.1L482.1 310.2L503.1 302.2L499.5 297.1Z" fill="url(#bg)" stroke="none"/>
<path d="M478.5 305.1L499.5 297.1L503.1 302.2L482.1 310.2" stroke-width="1.5" />
<path d="M497.1 359.9L504.9 360.9L525.9 352.9L518.1 351.9Z" fill="url(#bg)" stroke="none"/>
<path d="M497.1 359.9L518.1 351.9L525.9 352.9L504.9 360.9" stroke-width="1.5" />
<path d="M487.0 333.7L494.1 331.7L515.1 323.7L508.0 325.7Z" fill="url(#bg)" stroke="none"/>
<path d="M487.0 333.7L508.0 325.7L515.1 323.7L494.1 331.7" stroke-width="1.5" />
<path d="M502.3 352.2L495.6 355.2L516.6 347.2L523.3 344.2Z" fill="url(#bg)" stroke="none"/>
<path d="M502.3 352.2L523.3 344.2L516.6 347.2L495.6 355.2" stroke-width="1.5" />
<path d="M496.7 337.5L490.8 342.0L511.8 334.0L517.7 329.5Z" fill="url(#bg)" stroke="none"/>
<path d="M496.7 337.5L517.7 329.5L511.8 334.0L490.8 342.0" stroke-width="1.5" />
<path d="M492.6 346.6L500.1 346.1L521.1 338.1L513.6 338.6Z" fill="url(#bg)" stroke="none"/>
<path d="M492.6 346.6L513.6 338.6L521.1 338.1L500.1 346.1" stroke-width="1.5" />
<path d="M508.3 375.9L509.3 381.9L530.3 373.9L529.3 367.9Z" fill="url(#bg)" stroke="none"/>
<path d="M508.3 375.9L529.3 367.9L530.3 373.9L509.3 381.9" stroke-width="1.5" />
<path d="M486.8 317.9L489.9 323.5L510.9 315.5L507.8 309.9Z" fill="url(#bg)" stroke="none"/>
<path d="M486.8 317.9L507.8 309.9L510.9 315.5L489.9 323.5" stroke-width="1.5" />
<path d="M504.9 360.9L506.5 367.1L527.5 359.1L525.9 352.9Z" fill="url(#bg)" stroke="none"/>
<path d="M504.9 360.9L525.9 352.9L527.5 359.1L506.5 367.1" stroke-width="1.5" />
<path d="M494.1 331.7L496.7 337.5L517.7 329.5L515.1 323.7Z" fill="url(#bg)" stroke="none"/>
<path d="M494.1 331.7L515.1 323.7L517.7 329.5L496.7 337.5" stroke-width="1.5" />
<path d="M500.1 346.1L502.3 352.2L523.3 344.2L521.1 338.1Z" fill="url(#bg)" stroke="none"/>
<path d="M500.1 346.1L521.1 338.1L523.3 344.2L502.3 352.2" stroke-width="1.5" />
<path d="M502.8 399.2L502.8 399.3L503.3 399.8L504.3 400.5L505.8 401.6L507.8 402.9L509.3 404.3L510.3 405.7L510.7 407.0L510.7 408.5L510.1 409.3L509.1 409.7L507.5 409.5L505.5 408.8L504.0 408.4L502.9 408.5L502.4 409.0L502.3 409.9L502.2 410.7L502.1 411.2L502.1 411.5L502.1 411.7L502.6 412.2L503.5 413.1L505.0 414.4L506.9 416.0L508.3 417.6L509.2 419.1L509.5 420.5L509.3 421.8L508.6 422.6L507.5 422.7L505.9 422.2L503.9 421.1L502.4 420.5L501.3 420.4L500.6 420.7L500.4 421.6L500.3 422.2L500.2 422.7L500.1 423.0L500.1 423.2L500.5 423.8L501.4 424.8L502.8 426.3L504.6 428.2L505.9 430.0L506.6 431.6L506.8 433.0L506.5 434.2L505.7 434.7L504.5 434.6L502.9 433.9L501.0 432.4L499.4 431.6L498.3 431.2L497.6 431.4L497.3 432.2L497.1 432.8L496.9 433.2L496.8 433.5L496.7 433.6L497.1 434.3L498.0 435.4L499.2 437.1L500.9 439.3L502.1 441.2L502.7 442.8L502.7 444.2L502.2 445.3L501.4 445.6L500.2 445.3L498.6 444.3L496.7 442.5L495.2 441.4L494.0 440.9L493.3 440.9L492.9 441.6L492.6 442.1L492.4 442.5L492.3 442.7L492.2 442.8L492.5 443.5L493.3 444.8L494.4 446.6L495.9 449.0L496.9 451.0L497.4 452.7L497.3 454.0L496.7 454.9L495.7 455.1L494.5 454.5L493.0 453.3L491.2 451.2L489.7 449.9L488.6 449.1L487.8 449.0L487.4 449.6L487.0 450.0L486.8 450.3L486.6 450.5L486.5 450.6L486.8 451.3L487.4 452.7L488.4 454.6L489.7 457.2L490.5 459.3L490.8 461.0L490.6 462.2L489.9 462.9L488.9 462.9L487.7 462.1L486.3 460.6L484.6 458.4L483.2 456.8L482.1 455.9L481.3 455.6L480.8 456.0L480.4 456.4L480.1 456.6L479.9 456.8L479.8 456.8L480.0 457.6L480.5 459.0L481.3 461.0L482.4 463.7L483.1 465.8L483.2 467.5L482.8 468.5L482.0 469.1L481.0 468.9L479.8 467.9L478.5 466.2L477.0 463.8L475.7 462.0L474.7 460.9L473.9 460.5L473.3 460.8L472.8 461.1L472.5 461.2L472.3 461.4L472.2 461.4L472.3 462.1L472.7 463.5L473.3 465.6L474.2 468.4L474.6 470.5L474.6 472.1L474.1 473.0L473.1 473.4L472.1 473.0L471.0 471.9L469.8 470.0L468.5 467.4L467.4 465.5L466.5 464.2L465.7 463.7L465.0 463.9L464.5 464.0L464.1 464.1L463.9 464.2L463.8 464.2L463.8 464.9L464.1 466.3L464.5 468.4L465.1 471.2L465.4 473.3L465.2 474.7L464.5 475.5L463.5 475.7L462.5 475.1L461.5 473.8L460.4 471.8L459.4 469.1L458.4 467.1L457.5 465.7L456.8 465.1L456.1 465.1L455.5 465.1L455.1 465.2L454.9 465.2L454.8 465.2L454.8 465.8L454.9 467.2L455.1 469.3L455.5 472.0L455.4 474.1L455.1 475.4L454.4 476.0L453.3 476.0L452.3 475.2L451.4 473.8L450.5 471.7L449.7 468.9L448.9 466.8L448.1 465.4L447.4 464.6L446.7 464.5L446.1 464.4L445.7 464.4L445.4 464.3L445.3 464.3L445.2 465.0L445.2 466.3L445.2 468.3L445.3 470.9L445.1 472.8L444.6 474.0L443.8 474.5L442.7 474.2L441.7 473.3L440.9 471.8L440.2 469.6L439.6 466.9L439.1 464.7L438.4 463.2L437.7 462.3L437.0 462.1L436.4 461.9L436.0 461.8L435.7 461.7L435.6 461.6L435.5 462.2L435.3 463.5L435.1 465.3L434.9 467.9L434.5 469.6L433.8 470.7L432.9 470.9L431.8 470.5L430.9 469.4L430.2 467.8L429.7 465.7L429.4 462.9L429.1 460.8L428.6 459.2L427.9 458.3L427.2 457.9L426.6 457.6L426.2 457.4L425.9 457.3L425.8 457.2L425.6 457.7L425.3 458.9L424.9 460.6L424.4 462.9L423.8 464.5L423.0 465.4L422.0 465.4L420.9 464.8L420.1 463.6L419.5 462.0L419.3 459.8L419.3 457.2L419.1 455.1L418.7 453.6L418.2 452.5L417.5 452.0L416.9 451.6L416.5 451.3L416.2 451.1L416.1 451.1L415.8 451.5L415.4 452.5L414.8 454.1L414.1 456.2L413.2 457.6L412.3 458.2L411.3 458.1L410.2 457.3L409.5 456.0L409.1 454.3L409.0 452.3L409.3 449.8L409.4 447.8L409.2 446.2L408.7 445.2L408.0 444.6L407.4 444.1L407.0 443.7L406.8 443.5L406.7 443.4L406.3 443.8L405.8 444.6L405.0 446.0L404.0 447.8L403.0 449.0L402.0 449.4L401.0 449.1L399.9 448.1L399.3 446.7L399.1 445.1L399.2 443.1L399.8 440.8L400.0 438.9L400.0 437.4L399.6 436.3L399.0 435.6L398.4 435.1L398.0 434.6L397.8 434.4L397.7 434.2L397.3 434.5L396.6 435.3L395.7 436.4L394.5 437.9L393.3 438.8L392.2 439.0L391.2 438.5L390.2 437.3L389.7 436.0L389.6 434.4L390.0 432.5L390.8 430.5L391.3 428.8L391.4 427.3L391.1 426.2L390.5 425.4L390.0 424.8L389.7 424.3L389.4 424.0L389.3 423.9L388.9 424.1L388.1 424.6L387.0 425.5L385.6 426.7L384.3 427.3L383.2 427.3L382.1 426.6L381.3 425.3L380.9 423.9L381.0 422.4L381.5 420.7L382.6 419.0L383.2 417.4L383.5 416.1L383.4 415.0L382.8 414.1L382.4 413.4L382.1 412.9L381.9 412.6L381.8 412.4L381.3 412.5L380.4 412.9L379.2 413.5L377.6 414.4L376.2 414.7L375.0 414.4L374.0 413.6L373.2 412.2L373.0 410.8L373.2 409.4L374.0 407.9L375.3 406.5L376.1 405.2L376.5 404.0L376.5 402.9L376.0 401.9L375.6 401.2L375.4 400.7L375.2 400.3L375.1 400.1L374.6 400.1L373.7 400.3L372.3 400.7L370.6 401.2L369.1 401.2L367.9 400.7L366.9 399.7L366.3 398.2L366.2 396.9L366.6 395.6L367.5 394.4L369.0 393.2L370.0 392.2L370.6 391.1L370.6 390.1L370.2 389.1L369.9 388.3L369.7 387.8L369.5 387.4L369.5 387.2L369.0 387.1L368.0 387.1L366.6 387.2L364.7 387.3L363.1 387.0L361.9 386.3L361.1 385.2L360.5 383.7L360.5 382.4L361.1 381.2L362.2 380.3L363.9 379.5L365.0 378.7L365.7 377.8L365.9 376.9L365.6 375.9L365.4 375.1L365.2 374.5L365.1 374.1L365.0 373.9L364.5 373.7L363.5 373.5L362.0 373.3L360.0 373.0L358.4 372.5L357.3 371.6L356.5 370.4L356.1 368.8L356.2 367.6L356.9 366.6L358.2 365.9L360.0 365.6L361.3 365.0L362.1 364.3L362.4 363.4L362.2 362.4L362.0 361.6L361.9 361.1L361.8 360.7L361.8 360.5L361.2 360.2L360.2 359.8L358.7 359.3L356.7 358.7L355.1 357.8L354.0 356.8L353.3 355.5L353.0 353.9L353.3 352.8L354.2 352.0L355.5 351.6L357.5 351.6L358.9 351.3L359.8 350.8L360.1 350.1L360.0 349.1L359.9 348.3L359.9 347.7L359.8 347.4L359.8 347.2L359.3 346.8L358.3 346.3L356.8 345.5L354.7 344.5L353.2 343.4L352.1 342.1L351.5 340.8L351.4 339.3L351.9 338.3L352.8 337.7L354.3 337.6L356.3 338.0L357.8 338.0L358.7 337.7L359.2 337.1L359.2 336.1L359.2 335.3L359.2 334.8L359.2 334.4L359.2 334.3L358.7 333.8L357.7 333.1L356.2 332.0L354.2 330.7L352.7 329.3L351.7 327.9L351.3 326.6L351.3 325.1L351.9 324.3L352.9 323.9L354.5 324.1L356.5 324.8L358.0 325.2L359.1 325.1L359.6 324.6L359.7 323.7L359.8 322.9L359.9 322.4L359.9 322.1L359.9 321.9L359.4 321.4L358.5 320.5L357.0 319.2L355.1 317.6L353.7 316.0L352.8 314.5L352.5 313.1L352.7 311.8L353.4 311.0L354.5 310.9L356.1 311.4L358.1 312.5L359.6 313.1L360.7 313.2L361.4 312.9L361.6 312.0L361.7 311.4L361.8 310.9L361.9 310.6L361.9 310.4L361.5 309.8L360.6 308.8L359.2 307.3L357.4 305.4L356.1 303.6L355.4 302.0L355.2 300.6L355.5 299.4L356.3 298.9L357.5 299.0L359.1 299.7L361.0 301.2L362.6 302.0L363.7 302.4L364.4 302.2L364.7 301.4L364.9 300.8L365.1 300.4L365.2 300.1L365.3 300.0L364.9 299.3L364.0 298.2L362.8 296.5L361.1 294.3L359.9 292.4L359.3 290.8L359.3 289.4L359.8 288.3L360.6 288.0L361.8 288.3L363.4 289.3L365.3 291.1L366.8 292.2L368.0 292.7L368.7 292.7L369.1 292.0L369.4 291.5L369.6 291.1L369.7 290.9L369.8 290.8L369.5 290.1L368.7 288.8L367.6 287.0L366.1 284.6L365.1 282.6L364.6 280.9L364.7 279.6L365.3 278.7L366.3 278.5L367.5 279.1L369.0 280.3L370.8 282.4L372.3 283.7L373.4 284.5L374.2 284.6L374.6 284.0L375.0 283.6L375.2 283.3L375.4 283.1L375.5 283.0L375.2 282.3L374.6 280.9L373.6 279.0L372.3 276.4L371.5 274.3L371.2 272.6L371.4 271.4L372.1 270.7L373.1 270.7L374.3 271.5L375.7 273.0L377.4 275.2L378.8 276.8L379.9 277.7L380.7 278.0L381.2 277.6L381.6 277.2L381.9 277.0L382.1 276.8L382.2 276.8L382.0 276.0L381.5 274.6L380.7 272.6L379.6 269.9L378.9 267.8L378.8 266.1L379.2 265.1L380.0 264.5L381.0 264.7L382.2 265.7L383.5 267.4L385.0 269.8L386.3 271.6L387.3 272.7L388.1 273.1L388.7 272.8L389.2 272.5L389.5 272.4L389.7 272.2L389.8 272.2L389.7 271.5L389.3 270.1L388.7 268.0L387.8 265.2L387.4 263.1L387.4 261.5L387.9 260.6L388.9 260.2L389.9 260.6L391.0 261.7L392.2 263.6L393.5 266.2L394.6 268.1L395.5 269.4L396.3 269.9L397.0 269.7L397.5 269.6L397.9 269.5L398.1 269.4L398.2 269.4L398.2 268.7L397.9 267.3L397.5 265.2L396.9 262.4L396.6 260.3L396.8 258.9L397.5 258.1L398.5 257.9L399.5 258.5L400.5 259.8L401.6 261.8L402.6 264.5L403.6 266.5L404.5 267.9L405.2 268.5L405.9 268.5L406.5 268.5L406.9 268.4L407.1 268.4L407.2 268.4L407.2 267.8L407.1 266.4L406.9 264.3L406.5 261.6L406.6 259.5L406.9 258.2L407.6 257.6L408.7 257.6L409.7 258.4L410.6 259.8L411.5 261.9L412.3 264.7L413.1 266.8L413.9 268.2L414.6 269.0L415.3 269.1L415.9 269.2L416.3 269.2L416.6 269.3L416.7 269.3L416.8 268.6L416.8 267.3L416.8 265.3L416.7 262.7L416.9 260.8L417.4 259.6L418.2 259.1L419.3 259.4L420.3 260.3L421.1 261.8L421.8 264.0L422.4 266.7L422.9 268.9L423.6 270.4L424.3 271.3L425.0 271.5L425.6 271.7L426.0 271.8L426.3 271.9L426.4 272.0L426.5 271.4L426.7 270.1L426.9 268.3L427.1 265.7L427.5 264.0L428.2 262.9L429.1 262.7L430.2 263.1L431.1 264.2L431.8 265.8L432.3 267.9L432.6 270.7L432.9 272.8L433.4 274.4L434.1 275.3L434.8 275.7L435.4 276.0L435.8 276.2L436.1 276.3L436.2 276.4L436.4 275.9L436.7 274.7L437.1 273.0L437.6 270.7L438.2 269.1L439.0 268.2L440.0 268.2L441.1 268.8L441.9 270.0L442.5 271.6L442.7 273.8L442.7 276.4L442.9 278.5L443.3 280.0L443.8 281.1L444.5 281.6L445.1 282.0L445.5 282.3L445.8 282.5L445.9 282.5L446.2 282.1L446.6 281.1L447.2 279.5L447.9 277.4L448.8 276.0L449.7 275.4L450.7 275.5L451.8 276.3L452.5 277.6L452.9 279.3L453.0 281.3L452.7 283.8L452.6 285.8L452.8 287.4L453.3 288.4L454.0 289.0L454.6 289.5L455.0 289.9L455.2 290.1L455.3 290.2L455.7 289.8L456.2 289.0L457.0 287.6L458.0 285.8L459.0 284.6L460.0 284.2L461.0 284.5L462.1 285.5L462.7 286.9L462.9 288.5L462.8 290.5L462.2 292.8L462.0 294.7L462.0 296.2L462.4 297.3L463.0 298.0L463.6 298.5L464.0 299.0L464.2 299.2L464.3 299.4L464.7 299.1L465.4 298.3L466.3 297.2L467.5 295.7L468.7 294.8L469.8 294.6L470.8 295.1L471.8 296.3L472.3 297.6L472.4 299.2L472.0 301.1L471.2 303.1L470.7 304.8L470.6 306.3L470.9 307.4L471.5 308.2L472.0 308.8L472.3 309.3L472.6 309.6L472.7 309.7L473.1 309.5L473.9 309.0L475.0 308.1L476.4 306.9L477.7 306.3L478.8 306.3L479.9 307.0L480.7 308.3L481.1 309.7L481.0 311.2L480.5 312.9L479.4 314.6L478.8 316.2L478.5 317.5L478.6 318.6L479.2 319.5L479.6 320.2L479.9 320.7L480.1 321.0L480.2 321.2L480.7 321.1L481.6 320.7L482.8 320.1L484.4 319.2L485.8 318.9L487.0 319.2L488.0 320.0L488.8 321.4L489.0 322.8L488.8 324.2L488.0 325.7L486.7 327.1L485.9 328.4L485.5 329.6L485.5 330.7L486.0 331.7L486.4 332.4L486.6 332.9L486.8 333.3L486.9 333.5L487.4 333.5L488.3 333.3L489.7 332.9L491.4 332.4L492.9 332.4L494.1 332.9L495.1 333.9L495.7 335.4L495.8 336.7L495.4 338.0L494.5 339.2L493.0 340.4L492.0 341.4L491.4 342.5L491.4 343.5L491.8 344.5L492.1 345.3L492.3 345.8L492.5 346.2L492.5 346.4L493.0 346.5L494.0 346.5L495.4 346.4L497.3 346.3L498.9 346.6L500.1 347.3L500.9 348.4L501.5 349.9L501.5 351.2L500.9 352.4L499.8 353.3L498.1 354.1L497.0 354.9L496.3 355.8L496.1 356.7L496.4 357.7L496.6 358.5L496.8 359.1L496.9 359.5L497.0 359.7L497.5 359.9L498.5 360.1L500.0 360.3L502.0 360.6L503.6 361.1L504.7 362.0L505.5 363.2L505.9 364.8L505.8 366.0L505.1 367.0L503.8 367.7L502.0 368.0L500.7 368.6L499.9 369.3L499.6 370.2L499.8 371.2L500.0 372.0L500.1 372.5L500.2 372.9L500.2 373.1L500.8 373.4L501.8 373.8L503.3 374.3L505.3 374.9L506.9 375.8L508.0 376.8L508.7 378.1L509.0 379.7L508.7 380.8L507.8 381.6L506.5 382.0L504.5 382.0L503.1 382.3L502.2 382.8L501.9 383.5L502.0 384.5L502.1 385.3L502.1 385.9L502.2 386.2L502.2 386.4L502.7 386.8L503.7 387.3L505.2 388.1L507.3 389.1L508.8 390.2L509.9 391.5L510.5 392.8L510.6 394.3L510.1 395.3L509.2 395.9L507.7 396.0L505.7 395.6L504.2 395.6L503.3 395.9L502.8 396.5L502.8 397.5L502.8 398.3L502.8 398.8Z" fill="url(#bg)" stroke="none"/>
<path d="M502.8 399.2L502.8 399.3L503.3 399.8L504.3 400.5L505.8 401.6L507.8 402.9L509.3 404.3L510.3 405.7L510.7 407.0L510.7 408.5L510.1 409.3L509.1 409.7L507.5 409.5L505.5 408.8L504.0 408.4L502.9 408.5L502.4 409.0L502.3 409.9L502.2 410.7L502.1 411.2L502.1 411.5L502.1 411.7L502.6 412.2L503.5 413.1L505.0 414.4L506.9 416.0L508.3 417.6L509.2 419.1L509.5 420.5L509.3 421.8L508.6 422.6L507.5 422.7L505.9 422.2L503.9 421.1L502.4 420.5L501.3 420.4L500.6 420.7L500.4 421.6L500.3 422.2L500.2 422.7L500.1 423.0L500.1 423.2L500.5 423.8L501.4 424.8L502.8 426.3L504.6 428.2L505.9 430.0L506.6 431.6L506.8 433.0L506.5 434.2L505.7 434.7L504.5 434.6L502.9 433.9L501.0 432.4L499.4 431.6L498.3 431.2L497.6 431.4L497.3 432.2L497.1 432.8L496.9 433.2L496.8 433.5L496.7 433.6L497.1 434.3L498.0 435.4L499.2 437.1L500.9 439.3L502.1 441.2L502.7 442.8L502.7 444.2L502.2 445.3L501.4 445.6L500.2 445.3L498.6 444.3L496.7 442.5L495.2 441.4L494.0 440.9L493.3 440.9L492.9 441.6L492.6 442.1L492.4 442.5L492.3 442.7L492.2 442.8L492.5 443.5L493.3 444.8L494.4 446.6L495.9 449.0L496.9 451.0L497.4 452.7L497.3 454.0L496.7 454.9L495.7 455.1L494.5 454.5L493.0 453.3L491.2 451.2L489.7 449.9L488.6 449.1L487.8 449.0L487.4 449.6L487.0 450.0L486.8 450.3L486.6 450.5L486.5 450.6L486.8 451.3L487.4 452.7L488.4 454.6L489.7 457.2L490.5 459.3L490.8 461.0L490.6 462.2L489.9 462.9L488.9 462.9L487.7 462.1L486.3 460.6L484.6 458.4L483.2 456.8L482.1 455.9L481.3 455.6L480.8 456.0L480.4 456.4L480.1 456.6L479.9 456.8L479.8 456.8L480.0 457.6L480.5 459.0L481.3 461.0L482.4 463.7L483.1 465.8L483.2 467.5L482.8 468.5L482.0 469.1L481.0 468.9L479.8 467.9L478.5 466.2L477.0 463.8L475.7 462.0L474.7 460.9L473.9 460.5L473.3 460.8L472.8 461.1L472.5 461.2L472.3 461.4L472.2 461.4L472.3 462.1L472.7 463.5L473.3 465.6L474.2 468.4L474.6 470.5L474.6 472.1L474.1 473.0L473.1 473.4L472.1 473.0L471.0 471.9L469.8 470.0L468.5 467.4L467.4 465.5L466.5 464.2L465.7 463.7L465.0 463.9L464.5 464.0L464.1 464.1L463.9 464.2L463.8 464.2L463.8 464.9L464.1 466.3L464.5 468.4L465.1 471.2L465.4 473.3L465.2 474.7L464.5 475.5L463.5 475.7L462.5 475.1L461.5 473.8L460.4 471.8L459.4 469.1L458.4 467.1L457.5 465.7L456.8 465.1L456.1 465.1L455.5 465.1L455.1 465.2L454.9 465.2L454.8 465.2L454.8 465.8L454.9 467.2L455.1 469.3L455.5 472.0L455.4 474.1L455.1 475.4L454.4 476.0L453.3 476.0L452.3 475.2L451.4 473.8L450.5 471.7L449.7 468.9L448.9 466.8L448.1 465.4L447.4 464.6L446.7 464.5L446.1 464.4L445.7 464.4L445.4 464.3L445.3 464.3L445.2 465.0L445.2 466.3L445.2 468.3L445.3 470.9L445.1 472.8L444.6 474.0L443.8 474.5L442.7 474.2L441.7 473.3L440.9 471.8L440.2 469.6L439.6 466.9L439.1 464.7L438.4 463.2L437.7 462.3L437.0 462.1L436.4 461.9L436.0 461.8L435.7 461.7L435.6 461.6L435.5 462.2L435.3 463.5L435.1 465.3L434.9 467.9L434.5 469.6L433.8 470.7L432.9 470.9L431.8 470.5L430.9 469.4L430.2 467.8L429.7 465.7L429.4 462.9L429.1 460.8L428.6 459.2L427.9 458.3L427.2 457.9L426.6 457.6L426.2 457.4L425.9 457.3L425.8 457.2L425.6 457.7L425.3 458.9L424.9 460.6L424.4 462.9L423.8 464.5L423.0 465.4L422.0 465.4L420.9 464.8L420.1 463.6L419.5 462.0L419.3 459.8L419.3 457.2L419.1 455.1L418.7 453.6L418.2 452.5L417.5 452.0L416.9 451.6L416.5 451.3L416.2 451.1L416.1 451.1L415.8 451.5L415.4 452.5L414.8 454.1L414.1 456.2L413.2 457.6L412.3 458.2L411.3 458.1L410.2 457.3L409.5 456.0L409.1 454.3L409.0 452.3L409.3 449.8L409.4 447.8L409.2 446.2L408.7 445.2L408.0 444.6L407.4 444.1L407.0 443.7L406.8 443.5L406.7 443.4L406.3 443.8L405.8 444.6L405.0 446.0L404.0 447.8L403.0 449.0L402.0 449.4L401.0 449.1L399.9 448.1L399.3 446.7L399.1 445.1L399.2 443.1L399.8 440.8L400.0 438.9L400.0 437.4L399.6 436.3L399.0 435.6L398.4 435.1L398.0 434.6L397.8 434.4L397.7 434.2L397.3 434.5L396.6 435.3L395.7 436.4L394.5 437.9L393.3 438.8L392.2 439.0L391.2 438.5L390.2 437.3L389.7 436.0L389.6 434.4L390.0 432.5L390.8 430.5L391.3 428.8L391.4 427.3L391.1 426.2L390.5 425.4L390.0 424.8L389.7 424.3L389.4 424.0L389.3 423.9L388.9 424.1L388.1 424.6L387.0 425.5L385.6 426.7L384.3 427.3L383.2 427.3L382.1 426.6L381.3 425.3L380.9 423.9L381.0 422.4L381.5 420.7L382.6 419.0L383.2 417.4L383.5 416.1L383.4 415.0L382.8 414.1L382.4 413.4L382.1 412.9L381.9 412.6L381.8 412.4L381.3 412.5L380.4 412.9L379.2 413.5L377.6 414.4L376.2 414.7L375.0 414.4L374.0 413.6L373.2 412.2L373.0 410.8L373.2 409.4L374.0 407.9L375.3 406.5L376.1 405.2L376.5 404.0L376.5 402.9L376.0 401.9L375.6 401.2L375.4 400.7L375.2 400.3L375.1 400.1L374.6 400.1L373.7 400.3L372.3 400.7L370.6 401.2L369.1 401.2L367.9 400.7L366.9 399.7L366.3 398.2L366.2 396.9L366.6 395.6L367.5 394.4L369.0 393.2L370.0 392.2L370.6 391.1L370.6 390.1L370.2 389.1L369.9 388.3L369.7 387.8L369.5 387.4L369.5 387.2L369.0 387.1L368.0 387.1L366.6 387.2L364.7 387.3L363.1 387.0L361.9 386.3L361.1 385.2L360.5 383.7L360.5 382.4L361.1 381.2L362.2 380.3L363.9 379.5L365.0 378.7L365.7 377.8L365.9 376.9L365.6 375.9L365.4 375.1L365.2 374.5L365.1 374.1L365.0 373.9L364.5 373.7L363.5 373.5L362.0 373.3L360.0 373.0L358.4 372.5L357.3 371.6L356.5 370.4L356.1 368.8L356.2 367.6L356.9 366.6L358.2 365.9L360.0 365.6L361.3 365.0L362.1 364.3L362.4 363.4L362.2 362.4L362.0 361.6L361.9 361.1L361.8 360.7L361.8 360.5L361.2 360.2L360.2 359.8L358.7 359.3L356.7 358.7L355.1 357.8L354.0 356.8L353.3 355.5L353.0 353.9L353.3 352.8L354.2 352.0L355.5 351.6L357.5 351.6L358.9 351.3L359.8 350.8L360.1 350.1L360.0 349.1L359.9 348.3L359.9 347.7L359.8 347.4L359.8 347.2L359.3 346.8L358.3 346.3L356.8 345.5L354.7 344.5L353.2 343.4L352.1 342.1L351.5 340.8L351.4 339.3L351.9 338.3L352.8 337.7L354.3 337.6L356.3 338.0L357.8 338.0L358.7 337.7L359.2 337.1L359.2 336.1L359.2 335.3L359.2 334.8L359.2 334.4L359.2 334.3L358.7 333.8L357.7 333.1L356.2 332.0L354.2 330.7L352.7 329.3L351.7 327.9L351.3 326.6L351.3 325.1L351.9 324.3L352.9 323.9L354.5 324.1L356.5 324.8L358.0 325.2L359.1 325.1L359.6 324.6L359.7 323.7L359.8 322.9L359.9 322.4L359.9 322.1L359.9 321.9L359.4 321.4L358.5 320.5L357.0 319.2L355.1 317.6L353.7 316.0L352.8 314.5L352.5 313.1L352.7 311.8L353.4 311.0L354.5 310.9L356.1 311.4L358.1 312.5L359.6 313.1L360.7 313.2L361.4 312.9L361.6 312.0L361.7 311.4L361.8 310.9L361.9 310.6L361.9 310.4L361.5 309.8L360.6 308.8L359.2 307.3L357.4 305.4L356.1 303.6L355.4 302.0L355.2 300.6L355.5 299.4L356.3 298.9L357.5 299.0L359.1 299.7L361.0 301.2L362.6 302.0L363.7 302.4L364.4 302.2L364.7 301.4L364.9 300.8L365.1 300.4L365.2 300.1L365.3 300.0L364.9 299.3L364.0 298.2L362.8 296.5L361.1 294.3L359.9 292.4L359.3 290.8L359.3 289.4L359.8 288.3L360.6 288.0L361.8 288.3L363.4 289.3L365.3 291.1L366.8 292.2L368.0 292.7L368.7 292.7L369.1 292.0L369.4 291.5L369.6 291.1L369.7 290.9L369.8 290.8L369.5 290.1L368.7 288.8L367.6 287.0L366.1 284.6L365.1 282.6L364.6 280.9L364.7 279.6L365.3 278.7L366.3 278.5L367.5 279.1L369.0 280.3L370.8 282.4L372.3 283.7L373.4 284.5L374.2 284.6L374.6 284.0L375.0 283.6L375.2 283.3L375.4 283.1L375.5 283.0L375.2 282.3L374.6 280.9L373.6 279.0L372.3 276.4L371.5 274.3L371.2 272.6L371.4 271.4L372.1 270.7L373.1 270.7L374.3 271.5L375.7 273.0L377.4 275.2L378.8 276.8L379.9 277.7L380.7 278.0L381.2 277.6L381.6 277.2L381.9 277.0L382.1 276.8L382.2 276.8L382.0 276.0L381.5 274.6L380.7 272.6L379.6 269.9L378.9 267.8L378.8 266.1L379.2 265.1L380.0 264.5L381.0 264.7L382.2 265.7L383.5 267.4L385.0 269.8L386.3 271.6L387.3 272.7L388.1 273.1L388.7 272.8L389.2 272.5L389.5 272.4L389.7 272.2L389.8 272.2L389.7 271.5L389.3 270.1L388.7 268.0L387.8 265.2L387.4 263.1L387.4 261.5L387.9 260.6L388.9 260.2L389.9 260.6L391.0 261.7L392.2 263.6L393.5 266.2L394.6 268.1L395.5 269.4L396.3 269.9L397.0 269.7L397.5 269.6L397.9 269.5L398.1 269.4L398.2 269.4L398.2 268.7L397.9 267.3L397.5 265.2L396.9 262.4L396.6 260.3L396.8 258.9L397.5 258.1L398.5 257.9L399.5 258.5L400.5 259.8L401.6 261.8L402.6 264.5L403.6 266.5L404.5 267.9L405.2 268.5L405.9 268.5L406.5 268.5L406.9 268.4L407.1 268.4L407.2 268.4L407.2 267.8L407.1 266.4L406.9 264.3L406.5 261.6L406.6 259.5L406.9 258.2L407.6 257.6L408.7 257.6L409.7 258.4L410.6 259.8L411.5 261.9L412.3 264.7L413.1 266.8L413.9 268.2L414.6 269.0L415.3 269.1L415.9 269.2L416.3 269.2L416.6 269.3L416.7 269.3L416.8 268.6L416.8 267.3L416.8 265.3L416.7 262.7L416.9 260.8L417.4 259.6L418.2 259.1L419.3 259.4L420.3 260.3L421.1 261.8L421.8 264.0L422.4 266.7L422.9 268.9L423.6 270.4L424.3 271.3L425.0 271.5L425.6 271.7L426.0 271.8L426.3 271.9L426.4 272.0L426.5 271.4L426.7 270.1L426.9 268.3L427.1 265.7L427.5 264.0L428.2 262.9L429.1 262.7L430.2 263.1L431.1 264.2L431.8 265.8L432.3 267.9L432.6 270.7L432.9 272.8L433.4 274.4L434.1 275.3L434.8 275.7L435.4 276.0L435.8 276.2L436.1 276.3L436.2 276.4L436.4 275.9L436.7 274.7L437.1 273.0L437.6 270.7L438.2 269.1L439.0 268.2L440.0 268.2L441.1 268.8L441.9 270.0L442.5 271.6L442.7 273.8L442.7 276.4L442.9 278.5L443.3 280.0L443.8 281.1L444.5 281.6L445.1 282.0L445.5 282.3L445.8 282.5L445.9 282.5L446.2 282.1L446.6 281.1L447.2 279.5L447.9 277.4L448.8 276.0L449.7 275.4L450.7 275.5L451.8 276.3L452.5 277.6L452.9 279.3L453.0 281.3L452.7 283.8L452.6 285.8L452.8 287.4L453.3 288.4L454.0 289.0L454.6 289.5L455.0 289.9L455.2 290.1L455.3 290.2L455.7 289.8L456.2 289.0L457.0 287.6L458.0 285.8L459.0 284.6L460.0 284.2L461.0 284.5L462.1 285.5L462.7 286.9L462.9 288.5L462.8 290.5L462.2 292.8L462.0 294.7L462.0 296.2L462.4 297.3L463.0 298.0L463.6 298.5L464.0 299.0L464.2 299.2L464.3 299.4L464.7 299.1L465.4 298.3L466.3 297.2L467.5 295.7L468.7 294.8L469.8 294.6L470.8 295.1L471.8 296.3L472.3 297.6L472.4 299.2L472.0 301.1L471.2 303.1L470.7 304.8L470.6 306.3L470.9 307.4L471.5 308.2L472.0 308.8L472.3 309.3L472.6 309.6L472.7 309.7L473.1 309.5L473.9 309.0L475.0 308.1L476.4 306.9L477.7 306.3L478.8 306.3L479.9 307.0L480.7 308.3L481.1 309.7L481.0 311.2L480.5 312.9L479.4 314.6L478.8 316.2L478.5 317.5L478.6 318.6L479.2 319.5L479.6 320.2L479.9 320.7L480.1 321.0L480.2 321.2L480.7 321.1L481.6 320.7L482.8 320.1L484.4 319.2L485.8 318.9L487.0 319.2L488.0 320.0L488.8 321.4L489.0 322.8L488.8 324.2L488.0 325.7L486.7 327.1L485.9 328.4L485.5 329.6L485.5 330.7L486.0 331.7L486.4 332.4L486.6 332.9L486.8 333.3L486.9 333.5L487.4 333.5L488.3 333.3L489.7 332.9L491.4 332.4L492.9 332.4L494.1 332.9L495.1 333.9L495.7 335.4L495.8 336.7L495.4 338.0L494.5 339.2L493.0 340.4L492.0 341.4L491.4 342.5L491.4 343.5L491.8 344.5L492.1 345.3L492.3 345.8L492.5 346.2L492.5 346.4L493.0 346.5L494.0 346.5L495.4 346.4L497.3 346.3L498.9 346.6L500.1 347.3L500.9 348.4L501.5 349.9L501.5 351.2L500.9 352.4L499.8 353.3L498.1 354.1L497.0 354.9L496.3 355.8L496.1 356.7L496.4 357.7L496.6 358.5L496.8 359.1L496.9 359.5L497.0 359.7L497.5 359.9L498.5 360.1L500.0 360.3L502.0 360.6L503.6 361.1L504.7 362.0L505.5 363.2L505.9 364.8L505.8 366.0L505.1 367.0L503.8 367.7L502.0 368.0L500.7 368.6L499.9 369.3L499.6 370.2L499.8 371.2L500.0 372.0L500.1 372.5L500.2 372.9L500.2 373.1L500.8 373.4L501.8 373.8L503.3 374.3L505.3 374.9L506.9 375.8L508.0 376.8L508.7 378.1L509.0 379.7L508.7 380.8L507.8 381.6L506.5 382.0L504.5 382.0L503.1 382.3L502.2 382.8L501.9 383.5L502.0 384.5L502.1 385.3L502.1 385.9L502.2 386.2L502.2 386.4L502.7 386.8L503.7 387.3L505.2 388.1L507.3 389.1L508.8 390.2L509.9 391.5L510.5 392.8L510.6 394.3L510.1 395.3L509.2 395.9L507.7 396.0L505.7 395.6L504.2 395.6L503.3 395.9L502.8 396.5L502.8 397.5L502.8 398.3L502.8 398.8Z" stroke-width="2.0" />
<path d="M497.8 396.7L497.8 399.7L497.6 402.7L497.4 405.6L497.1 408.4L496.8 411.3L496.3 414.0L495.8 416.7L495.2 419.4L494.5 422.0L493.8 424.5L492.9 426.9L492.0 429.3L491.0 431.6L490.0 433.8L488.9 435.9L487.6 438.0L486.4 439.9L485.0 441.8L483.6 443.6L482.2 445.3L480.6 446.9L479.1 448.4L477.4 449.8L475.7 451.1L473.9 452.3L472.1 453.4L470.3 454.3L468.4 455.2L466.4 456.0L464.4 456.6L462.4 457.2L460.3 457.6L458.2 458.0L456.0 458.2L453.8 458.3L451.6 458.3L449.4 458.2L447.2 457.9L444.9 457.6L442.6 457.2L440.3 456.6L438.0 455.9L435.7 455.2L433.3 454.3L431.0 453.3L428.7 452.2L426.3 451.0L424.0 449.7L421.7 448.3L419.4 446.8L417.1 445.2L414.8 443.5L412.6 441.7L410.4 439.8L408.2 437.8L406.0 435.8L403.8 433.6L401.7 431.4L399.6 429.1L397.6 426.7L395.6 424.3L393.6 421.8L391.7 419.2L389.9 416.5L388.1 413.8L386.3 411.1L384.6 408.2L382.9 405.4L381.4 402.4L379.8 399.5L378.4 396.5L377.0 393.4L375.6 390.4L374.4 387.3L373.1 384.1L372.0 381.0L371.0 377.8L370.0 374.7L369.1 371.5L368.2 368.3L367.5 365.1L366.8 361.9L366.2 358.7L365.7 355.5L365.2 352.4L364.9 349.2L364.6 346.1L364.4 343.0L364.2 339.9L364.2 336.9L364.2 333.9L364.4 330.9L364.6 328.0L364.9 325.2L365.2 322.3L365.7 319.6L366.2 316.9L366.8 314.2L367.5 311.6L368.2 309.1L369.1 306.7L370.0 304.3L371.0 302.0L372.0 299.8L373.1 297.7L374.4 295.6L375.6 293.7L377.0 291.8L378.4 290.0L379.8 288.3L381.4 286.7L382.9 285.2L384.6 283.8L386.3 282.5L388.1 281.3L389.9 280.2L391.7 279.3L393.6 278.4L395.6 277.6L397.6 277.0L399.6 276.4L401.7 276.0L403.8 275.6L406.0 275.4L408.2 275.3L410.4 275.3L412.6 275.4L414.8 275.7L417.1 276.0L419.4 276.4L421.7 277.0L424.0 277.7L426.3 278.4L428.7 279.3L431.0 280.3L433.3 281.4L435.7 282.6L438.0 283.9L440.3 285.3L442.6 286.8L444.9 288.4L447.2 290.1L449.4 291.9L451.6 293.8L453.8 295.8L456.0 297.8L458.2 300.0L460.3 302.2L462.4 304.5L464.4 306.9L466.4 309.3L468.4 311.8L470.3 314.4L472.1 317.1L473.9 319.8L475.7 322.5L477.4 325.4L479.1 328.2L480.6 331.2L482.2 334.1L483.6 337.1L485.0 340.2L486.4 343.2L487.6 346.3L488.9 349.5L490.0 352.6L491.0 355.8L492.0 358.9L492.9 362.1L493.8 365.3L494.5 368.5L495.2 371.7L495.8 374.9L496.3 378.1L496.8 381.2L497.1 384.4L497.4 387.5L497.6 390.6L497.8 393.7L497.8 396.7Z" stroke-width="2.2" />
<path d="M392.8 296.1L393.9 294.8L395.3 293.4L397.0 291.9L398.8 290.5L400.7 289.1L402.7 287.9L404.8 286.8L406.7 285.8L408.6 285.1L410.4 284.7L412.1 284.5L413.8 284.6L415.6 284.8L417.4 285.2L419.1 285.8L420.7 286.6L422.3 287.4L423.7 288.5L425.1 289.6L426.2 290.8L427.2 292.2L428.1 293.8L428.8 295.6L429.5 297.6L430.1 299.6L430.5 301.7L430.9 303.9L431.2 306.0L431.4 308.1L431.5 310.1L431.5 312.1L431.5 314.2L431.3 316.3L431.1 318.4L430.7 320.6L430.3 322.6L429.8 324.6L429.3 326.4L428.7 328.1L428.0 329.5L427.2 330.8L426.4 331.9L425.4 333.0L424.4 334.0L423.3 334.8L422.1 335.4L420.9 336.0L419.7 336.3L418.6 336.5L417.4 336.5L416.2 336.3L415.1 335.9L413.9 335.3L412.7 334.5L411.5 333.6L410.2 332.6L409.0 331.5L407.7 330.3L406.4 329.0L405.1 327.7L403.7 326.3L402.2 324.7L400.5 323.0L398.9 321.1L397.2 319.2L395.7 317.3L394.2 315.4L392.9 313.5L391.9 311.8L391.1 310.1L390.6 308.5L390.2 307.0L390.0 305.6L389.9 304.1L390.0 302.7L390.2 301.3L390.6 300.0L391.2 298.7L391.9 297.4Z" stroke-width="2.0" />
<path d="M411.4 287.2L410.4 287.8L409.1 288.7L407.4 289.6L405.6 290.7L403.7 291.9L401.8 293.1L399.9 294.4L398.3 295.7L396.9 296.9L395.8 298.1L395.0 299.2L394.3 300.4L393.8 301.5L393.4 302.6L393.2 303.8L393.1 305.0L393.1 306.2L393.3 307.4L393.6 308.7L394.1 310.1L394.8 311.6L395.8 313.2L397.0 314.9L398.4 316.6L399.9 318.4L401.4 320.2L402.9 321.9L404.4 323.4L405.8 324.9L407.1 326.2L408.3 327.4L409.5 328.4L410.7 329.4L411.9 330.3L413.1 331.1L414.2 331.8L415.2 332.5L416.0 333.1L416.8 333.6L417.4 334.0" stroke-width="1.6" />
<path d="M443.8 306.6L444.2 305.2L444.8 303.9L445.4 302.9L446.2 302.1L447.1 301.4L448.1 300.9L449.1 300.6L450.2 300.4L451.4 300.4L452.6 300.5L453.9 300.8L455.4 301.2L456.9 301.8L458.6 302.6L460.3 303.5L462.0 304.5L463.7 305.7L465.4 307.1L466.9 308.5L468.4 310.1L469.8 311.9L471.3 313.9L472.7 316.2L474.1 318.6L475.4 321.1L476.7 323.6L477.9 326.1L479.0 328.6L479.9 330.9L480.7 333.0L481.3 335.0L481.9 337.1L482.3 339.1L482.6 341.0L482.9 342.9L483.0 344.7L483.0 346.4L482.9 347.9L482.7 349.3L482.4 350.5L482.0 351.5L481.4 352.4L480.8 353.1L480.0 353.7L479.1 354.2L478.2 354.5L477.2 354.8L476.1 354.9L474.9 354.9L473.7 354.9L472.4 354.8L470.9 354.5L469.3 354.2L467.7 353.8L466.0 353.2L464.2 352.6L462.5 351.8L460.9 350.9L459.3 349.9L457.8 348.8L456.4 347.5L454.9 346.1L453.5 344.6L452.1 342.9L450.8 341.2L449.5 339.3L448.3 337.4L447.2 335.4L446.3 333.3L445.5 331.2L444.9 328.9L444.3 326.4L443.9 323.8L443.6 321.0L443.3 318.2L443.2 315.4L443.2 312.8L443.3 310.4L443.5 308.3Z" stroke-width="2.0" />
<path d="M453.6 303.0L453.2 303.3L452.5 303.5L451.8 303.7L451.0 304.0L450.1 304.4L449.2 304.9L448.4 305.5L447.7 306.3L447.2 307.3L446.8 308.6L446.6 310.2L446.4 312.1L446.4 314.3L446.4 316.7L446.5 319.2L446.7 321.8L447.0 324.4L447.4 326.8L447.9 329.1L448.5 331.2L449.2 333.1L450.1 335.0L451.1 336.9L452.2 338.6L453.4 340.3L454.6 342.0L455.9 343.5L457.2 344.9L458.5 346.2L459.8 347.3L461.1 348.3L462.6 349.1L464.2 349.8L465.8 350.4L467.5 350.9L469.0 351.3L470.5 351.6L471.8 351.9L472.9 352.1L473.7 352.4" stroke-width="1.6" />
<path d="M382.3 342.6L382.7 341.7L383.2 340.8L383.7 340.2L384.2 339.6L384.9 339.2L385.6 338.9L386.4 338.8L387.2 338.7L388.2 338.9L389.3 339.1L390.5 339.5L392.0 340.0L393.6 340.6L395.2 341.3L397.0 342.2L398.7 343.2L400.5 344.4L402.1 345.7L403.7 347.2L405.1 348.8L406.4 350.7L407.7 352.8L409.0 355.2L410.3 357.7L411.4 360.4L412.5 363.1L413.5 365.8L414.4 368.5L415.1 371.0L415.7 373.4L416.1 375.7L416.4 378.1L416.5 380.5L416.5 382.8L416.4 385.1L416.2 387.3L415.9 389.4L415.6 391.3L415.2 393.0L414.8 394.5L414.3 395.8L413.8 397.0L413.1 398.0L412.4 398.9L411.7 399.7L410.8 400.3L409.9 400.7L409.0 400.9L408.0 400.8L406.9 400.6L405.7 400.1L404.4 399.4L403.0 398.5L401.6 397.4L400.1 396.1L398.5 394.7L397.0 393.1L395.5 391.3L394.1 389.4L392.8 387.4L391.5 385.1L390.2 382.6L388.8 379.7L387.5 376.7L386.2 373.6L384.9 370.4L383.8 367.4L382.8 364.4L382.0 361.7L381.4 359.3L381.0 357.1L380.7 355.0L380.6 353.0L380.6 351.2L380.7 349.4L380.9 347.8L381.2 346.3L381.5 344.9L381.9 343.7Z" stroke-width="2.0" />
<path d="M390.3 341.6L390.0 341.7L389.6 341.8L389.0 341.9L388.5 342.0L387.9 342.2L387.2 342.4L386.7 342.7L386.1 343.2L385.7 343.8L385.3 344.6L385.0 345.5L384.7 346.6L384.4 347.8L384.1 349.1L383.9 350.5L383.7 352.0L383.7 353.6L383.8 355.4L384.0 357.3L384.4 359.3L385.0 361.5L385.7 364.1L386.6 366.9L387.7 369.8L388.8 372.8L390.0 375.7L391.2 378.6L392.4 381.3L393.6 383.8L394.8 385.9L396.0 387.8L397.3 389.5L398.7 391.0L400.1 392.4L401.5 393.7L402.8 394.8L404.1 395.8L405.2 396.7L406.2 397.4L406.9 398.1" stroke-width="1.6" />
<path d="M422.7 403.3L423.2 402.3L423.8 401.4L424.4 400.7L425.2 400.1L426.0 399.6L426.9 399.3L427.9 399.0L429.0 398.9L430.2 398.9L431.5 398.9L432.9 399.0L434.5 399.2L436.2 399.5L438.0 400.0L439.9 400.5L441.8 401.1L443.7 401.9L445.6 402.8L447.4 403.8L449.1 405.0L450.8 406.4L452.5 408.0L454.3 409.9L456.1 411.9L457.8 413.9L459.4 416.1L461.0 418.2L462.4 420.3L463.8 422.4L464.9 424.3L465.9 426.2L466.8 428.1L467.7 430.1L468.4 432.0L469.0 433.9L469.5 435.8L469.9 437.5L470.1 439.1L470.2 440.6L470.1 441.9L469.8 443.0L469.4 444.1L468.9 445.0L468.2 445.8L467.4 446.4L466.4 447.0L465.4 447.4L464.2 447.7L462.8 447.9L461.4 448.0L459.8 448.0L457.9 447.8L455.9 447.5L453.7 447.2L451.4 446.6L449.1 446.0L446.8 445.2L444.5 444.3L442.3 443.2L440.3 441.9L438.3 440.4L436.3 438.6L434.2 436.6L432.2 434.4L430.2 432.1L428.3 429.7L426.6 427.3L425.0 425.0L423.7 422.8L422.7 420.8L421.9 418.8L421.4 416.9L421.1 414.9L421.0 412.9L421.0 411.0L421.2 409.2L421.5 407.5L421.9 405.9L422.3 404.5Z" stroke-width="2.0" />
<path d="M432.5 401.4L432.1 401.6L431.5 401.7L430.7 401.9L429.9 402.1L429.1 402.4L428.3 402.7L427.5 403.2L426.7 403.7L426.1 404.4L425.7 405.3L425.3 406.4L425.0 407.6L424.7 409.0L424.4 410.5L424.2 412.1L424.2 413.7L424.3 415.5L424.5 417.3L425.0 419.0L425.7 420.8L426.7 422.7L427.9 424.7L429.4 426.8L431.0 429.0L432.8 431.2L434.7 433.4L436.6 435.5L438.6 437.3L440.5 439.0L442.3 440.4L444.2 441.5L446.3 442.4L448.4 443.2L450.7 443.7L452.9 444.2L455.0 444.5L457.0 444.8L458.8 445.0L460.3 445.3L461.4 445.5" stroke-width="1.6" />
<path d="M463.1 376.9L463.5 375.9L463.9 375.0L464.5 374.3L465.1 373.7L465.7 373.2L466.5 372.9L467.3 372.6L468.1 372.5L469.1 372.5L470.1 372.5L471.2 372.6L472.5 372.9L473.9 373.3L475.4 373.8L476.9 374.3L478.5 375.0L480.0 375.8L481.5 376.7L482.9 377.6L484.2 378.7L485.4 379.9L486.7 381.2L487.9 382.6L489.1 384.2L490.3 385.8L491.4 387.5L492.4 389.2L493.3 391.0L494.1 392.7L494.7 394.5L495.2 396.3L495.6 398.3L496.0 400.4L496.2 402.6L496.3 404.7L496.3 406.8L496.3 408.8L496.1 410.7L495.9 412.4L495.6 413.8L495.2 415.1L494.7 416.2L494.0 417.2L493.3 418.2L492.5 418.9L491.6 419.6L490.7 420.1L489.7 420.5L488.7 420.7L487.7 420.8L486.6 420.7L485.5 420.5L484.3 420.1L483.1 419.6L481.8 418.9L480.5 418.2L479.2 417.2L477.9 416.2L476.6 415.1L475.4 413.8L474.1 412.4L472.7 410.7L471.3 408.9L469.9 406.9L468.5 404.8L467.1 402.7L465.9 400.6L464.8 398.4L463.8 396.4L463.1 394.5L462.6 392.6L462.2 390.7L462.0 388.7L461.9 386.7L461.9 384.8L462.0 382.9L462.2 381.2L462.5 379.5L462.8 378.1Z" stroke-width="2.0" />
<path d="M471.1 375.0L470.8 375.2L470.3 375.3L469.8 375.5L469.2 375.7L468.6 376.0L468.0 376.3L467.4 376.7L466.9 377.3L466.4 378.0L466.1 378.9L465.8 380.0L465.6 381.2L465.4 382.7L465.2 384.2L465.1 385.8L465.0 387.5L465.1 389.3L465.3 391.1L465.6 392.8L466.1 394.5L466.8 396.2L467.7 398.1L468.7 400.0L469.9 402.0L471.1 404.0L472.4 405.9L473.7 407.8L475.0 409.5L476.3 411.0L477.4 412.3L478.5 413.4L479.7 414.4L480.9 415.2L482.1 415.8L483.3 416.4L484.4 416.9L485.4 417.3L486.3 417.7L487.1 418.0L487.7 418.3" stroke-width="1.6" />
<path d="M452.0 330.0L452.5 329.1L453.2 327.8L453.9 326.3L454.8 324.6L455.7 322.9L456.7 321.1L457.7 319.5L458.8 318.0L459.9 316.8L461.0 316.0L462.2 315.5L463.4 315.1L464.8 315.0L466.2 314.9L467.6 315.1L469.0 315.4L470.4 315.8L471.7 316.4L472.9 317.1L474.0 318.0L475.0 319.2L475.9 320.7L476.8 322.5L477.6 324.5L478.3 326.6L479.0 328.7L479.6 330.7L480.1 332.4L480.6 333.9L481.0 335.0" stroke-width="1.6" />
<path d="M448.0 342.0L480.0 340.0" stroke-width="1.5" />
<path d="M469.0 397.0L469.6 396.5L470.5 395.7L471.4 394.7L472.5 393.7L473.7 392.6L474.9 391.6L476.2 390.6L477.5 389.8L478.8 389.3L480.0 389.0L481.3 389.1L482.7 389.4L484.2 390.0L485.7 390.7L487.2 391.5L488.6 392.4L490.0 393.2L491.2 394.0L492.2 394.6L493.0 395.0" stroke-width="1.6" />
<path d="M430.0 443.0L431.2 442.6L432.8 442.1L434.7 441.4L436.8 440.7L439.0 439.9L441.3 439.2L443.7 438.5L445.9 437.8L448.1 437.3L450.0 437.0L451.8 436.8L453.7 436.8L455.6 436.8L457.5 436.9L459.2 437.1L460.9 437.3L462.5 437.6L463.9 437.8L465.1 437.9L466.0 438.0" stroke-width="1.6" />
<path d="M457.0 378.5L457.0 379.5L456.9 380.5L456.9 381.4L456.8 382.4L456.6 383.3L456.4 384.2L456.2 385.1L456.0 386.0L455.8 386.8L455.5 387.7L455.1 388.5L454.8 389.3L454.4 390.0L454.0 390.8L453.6 391.5L453.1 392.1L452.6 392.8L452.1 393.4L451.6 394.0L451.0 394.5L450.5 395.1L449.8 395.6L449.2 396.0L448.6 396.4L447.9 396.8L447.2 397.2L446.5 397.5L445.8 397.8L445.0 398.1L444.2 398.3L443.5 398.4L442.7 398.6L441.9 398.7L441.1 398.8L440.2 398.8L439.4 398.8L438.5 398.8L437.7 398.7L436.8 398.6L435.9 398.4L435.0 398.2L434.2 398.0L433.3 397.7L432.4 397.4L431.5 397.1L430.6 396.7L429.7 396.3L428.8 395.9L428.0 395.4L427.1 394.9L426.2 394.4L425.3 393.8L424.5 393.2L423.6 392.6L422.8 392.0L421.9 391.3L421.1 390.6L420.3 389.8L419.5 389.1L418.8 388.3L418.0 387.5L417.2 386.6L416.5 385.8L415.8 384.9L415.1 384.0L414.4 383.1L413.8 382.1L413.2 381.2L412.5 380.2L412.0 379.2L411.4 378.2L410.9 377.2L410.4 376.2L409.9 375.2L409.4 374.1L409.0 373.1L408.6 372.1L408.2 371.0L407.9 369.9L407.5 368.9L407.2 367.8L407.0 366.8L406.8 365.7L406.6 364.7L406.4 363.6L406.2 362.6L406.1 361.5L406.1 360.5L406.0 359.5L406.0 358.5L406.0 357.5L406.1 356.5L406.1 355.6L406.2 354.6L406.4 353.7L406.6 352.8L406.8 351.9L407.0 351.0L407.2 350.2L407.5 349.3L407.9 348.5L408.2 347.7L408.6 347.0L409.0 346.2L409.4 345.5L409.9 344.9L410.4 344.2L410.9 343.6L411.4 343.0L412.0 342.5L412.5 341.9L413.2 341.4L413.8 341.0L414.4 340.6L415.1 340.2L415.8 339.8L416.5 339.5L417.2 339.2L418.0 338.9L418.8 338.7L419.5 338.6L420.3 338.4L421.1 338.3L421.9 338.2L422.8 338.2L423.6 338.2L424.5 338.2L425.3 338.3L426.2 338.4L427.1 338.6L428.0 338.8L428.8 339.0L429.7 339.3L430.6 339.6L431.5 339.9L432.4 340.3L433.3 340.7L434.2 341.1L435.0 341.6L435.9 342.1L436.8 342.6L437.7 343.2L438.5 343.8L439.4 344.4L440.2 345.0L441.1 345.7L441.9 346.4L442.7 347.2L443.5 347.9L444.2 348.7L445.0 349.5L445.8 350.4L446.5 351.2L447.2 352.1L447.9 353.0L448.6 353.9L449.2 354.9L449.8 355.8L450.5 356.8L451.0 357.8L451.6 358.8L452.1 359.8L452.6 360.8L453.1 361.8L453.6 362.9L454.0 363.9L454.4 364.9L454.8 366.0L455.1 367.1L455.5 368.1L455.8 369.2L456.0 370.2L456.2 371.3L456.4 372.3L456.6 373.4L456.8 374.4L456.9 375.5L456.9 376.5L457.0 377.5L457.0 378.5Z" fill="url(#bg)" stroke="none"/>
<path d="M457.0 378.5L457.0 379.5L456.9 380.5L456.9 381.4L456.8 382.4L456.6 383.3L456.4 384.2L456.2 385.1L456.0 386.0L455.8 386.8L455.5 387.7L455.1 388.5L454.8 389.3L454.4 390.0L454.0 390.8L453.6 391.5L453.1 392.1L452.6 392.8L452.1 393.4L451.6 394.0L451.0 394.5L450.5 395.1L449.8 395.6L449.2 396.0L448.6 396.4L447.9 396.8L447.2 397.2L446.5 397.5L445.8 397.8L445.0 398.1L444.2 398.3L443.5 398.4L442.7 398.6L441.9 398.7L441.1 398.8L440.2 398.8L439.4 398.8L438.5 398.8L437.7 398.7L436.8 398.6L435.9 398.4L435.0 398.2L434.2 398.0L433.3 397.7L432.4 397.4L431.5 397.1L430.6 396.7L429.7 396.3L428.8 395.9L428.0 395.4L427.1 394.9L426.2 394.4L425.3 393.8L424.5 393.2L423.6 392.6L422.8 392.0L421.9 391.3L421.1 390.6L420.3 389.8L419.5 389.1L418.8 388.3L418.0 387.5L417.2 386.6L416.5 385.8L415.8 384.9L415.1 384.0L414.4 383.1L413.8 382.1L413.2 381.2L412.5 380.2L412.0 379.2L411.4 378.2L410.9 377.2L410.4 376.2L409.9 375.2L409.4 374.1L409.0 373.1L408.6 372.1L408.2 371.0L407.9 369.9L407.5 368.9L407.2 367.8L407.0 366.8L406.8 365.7L406.6 364.7L406.4 363.6L406.2 362.6L406.1 361.5L406.1 360.5L406.0 359.5L406.0 358.5L406.0 357.5L406.1 356.5L406.1 355.6L406.2 354.6L406.4 353.7L406.6 352.8L406.8 351.9L407.0 351.0L407.2 350.2L407.5 349.3L407.9 348.5L408.2 347.7L408.6 347.0L409.0 346.2L409.4 345.5L409.9 344.9L410.4 344.2L410.9 343.6L411.4 343.0L412.0 342.5L412.5 341.9L413.2 341.4L413.8 341.0L414.4 340.6L415.1 340.2L415.8 339.8L416.5 339.5L417.2 339.2L418.0 338.9L418.8 338.7L419.5 338.6L420.3 338.4L421.1 338.3L421.9 338.2L422.8 338.2L423.6 338.2L424.5 338.2L425.3 338.3L426.2 338.4L427.1 338.6L428.0 338.8L428.8 339.0L429.7 339.3L430.6 339.6L431.5 339.9L432.4 340.3L433.3 340.7L434.2 341.1L435.0 341.6L435.9 342.1L436.8 342.6L437.7 343.2L438.5 343.8L439.4 344.4L440.2 345.0L441.1 345.7L441.9 346.4L442.7 347.2L443.5 347.9L444.2 348.7L445.0 349.5L445.8 350.4L446.5 351.2L447.2 352.1L447.9 353.0L448.6 353.9L449.2 354.9L449.8 355.8L450.5 356.8L451.0 357.8L451.6 358.8L452.1 359.8L452.6 360.8L453.1 361.8L453.6 362.9L454.0 363.9L454.4 364.9L454.8 366.0L455.1 367.1L455.5 368.1L455.8 369.2L456.0 370.2L456.2 371.3L456.4 372.3L456.6 373.4L456.8 374.4L456.9 375.5L456.9 376.5L457.0 377.5L457.0 378.5Z" stroke-width="2.2" />
<path d="M428.0 396.0L426.8 395.5L425.7 394.9L424.6 394.3L423.4 393.6L422.3 392.8L421.2 391.9L420.1 391.0L419.1 390.1L418.0 389.0L417.0 388.0L416.0 386.8L415.1 385.7L414.2 384.4L413.3 383.2L412.4 381.9L411.7 380.6L410.9 379.2L410.2 377.8L409.5 376.4L408.9 375.0L408.4 373.5L407.9 372.1L407.5 370.6L407.1 369.1L406.7 367.7L406.5 366.2L406.3 364.8L406.1 363.3L406.0 361.9L406.0 360.5L406.0 359.1L406.1 357.8L406.3 356.5L406.5 355.2L406.7 353.9L407.1 352.7L407.5 351.6L407.9 350.5L408.4 349.4L408.9 348.4L409.5 347.5L410.2 346.6L410.9 345.8L411.7 345.1L412.4 344.4L413.3 343.8L414.2 343.2L415.1 342.8L416.0 342.4L417.0 342.0L418.0 341.8L419.1 341.6L420.1 341.5L421.2 341.5L422.3 341.6L423.4 341.7L424.6 341.9L425.7 342.2L426.8 342.6L428.0 343.0L429.2 343.5L430.3 344.1L431.4 344.7L432.6 345.4L433.7 346.2L434.8 347.1L435.9 348.0L436.9 348.9L438.0 350.0L439.0 351.0" stroke-width="1.8" />
<path d="M437.6 376.7L437.6 377.2L437.6 377.7L437.5 378.2L437.5 378.6L437.4 379.1L437.4 379.5L437.3 380.0L437.2 380.4L437.0 380.8L436.9 381.2L436.8 381.6L436.6 382.0L436.4 382.4L436.3 382.8L436.1 383.1L435.9 383.4L435.7 383.8L435.4 384.1L435.2 384.3L434.9 384.6L434.7 384.9L434.4 385.1L434.1 385.3L433.8 385.6L433.5 385.7L433.2 385.9L432.9 386.1L432.6 386.2L432.2 386.3L431.9 386.4L431.6 386.5L431.2 386.6L430.8 386.7L430.5 386.7L430.1 386.7L429.7 386.7L429.3 386.7L429.0 386.6L428.6 386.6L428.2 386.5L427.8 386.4L427.4 386.3L427.0 386.2L426.6 386.0L426.2 385.8L425.8 385.7L425.4 385.5L425.0 385.2L424.6 385.0L424.2 384.8L423.8 384.5L423.4 384.2L423.1 383.9L422.7 383.6L422.3 383.3L421.9 382.9L421.6 382.6L421.2 382.2L420.8 381.8L420.5 381.4L420.2 381.0L419.8 380.6L419.5 380.2L419.2 379.8L418.9 379.3L418.6 378.9L418.3 378.4L418.0 377.9L417.7 377.4L417.5 377.0L417.2 376.5L417.0 376.0L416.7 375.5L416.5 375.0L416.3 374.4L416.1 373.9L416.0 373.4L415.8 372.9L415.6 372.4L415.5 371.8L415.4 371.3L415.2 370.8L415.1 370.3L415.0 369.7L415.0 369.2L414.9 368.7L414.9 368.2L414.8 367.7L414.8 367.2L414.8 366.7L414.8 366.2L414.8 365.7L414.9 365.2L414.9 364.8L415.0 364.3L415.0 363.9L415.1 363.4L415.2 363.0L415.4 362.6L415.5 362.2L415.6 361.8L415.8 361.4L416.0 361.0L416.1 360.6L416.3 360.3L416.5 360.0L416.7 359.6L417.0 359.3L417.2 359.1L417.5 358.8L417.7 358.5L418.0 358.3L418.3 358.1L418.6 357.8L418.9 357.7L419.2 357.5L419.5 357.3L419.8 357.2L420.2 357.1L420.5 357.0L420.8 356.9L421.2 356.8L421.6 356.7L421.9 356.7L422.3 356.7L422.7 356.7L423.1 356.7L423.4 356.8L423.8 356.8L424.2 356.9L424.6 357.0L425.0 357.1L425.4 357.2L425.8 357.4L426.2 357.6L426.6 357.7L427.0 357.9L427.4 358.2L427.8 358.4L428.2 358.6L428.6 358.9L429.0 359.2L429.3 359.5L429.7 359.8L430.1 360.1L430.5 360.5L430.8 360.8L431.2 361.2L431.6 361.6L431.9 362.0L432.2 362.4L432.6 362.8L432.9 363.2L433.2 363.6L433.5 364.1L433.8 364.5L434.1 365.0L434.4 365.5L434.7 366.0L434.9 366.4L435.2 366.9L435.4 367.4L435.7 367.9L435.9 368.4L436.1 369.0L436.3 369.5L436.4 370.0L436.6 370.5L436.8 371.0L436.9 371.6L437.0 372.1L437.2 372.6L437.3 373.1L437.4 373.7L437.4 374.2L437.5 374.7L437.5 375.2L437.6 375.7L437.6 376.2L437.6 376.7Z" stroke-width="2.2" />
<path d="M398.0 382.0L571.0 343.0" stroke-width="1.0" />
<path d="M527.5 362.0L610.0 310.0" stroke-width="1.0" />
<path d="M462.1 207.5L462.2 206.1L462.4 204.8L462.7 203.4L463.3 202.1L463.9 200.8L464.7 199.5L465.6 198.2L466.7 196.9L467.8 195.7L469.2 194.5L470.6 193.3L472.2 192.2L473.8 191.1L475.6 190.1L477.5 189.1L479.5 188.2L481.6 187.3L483.8 186.5L486.1 185.7L488.4 185.0L490.9 184.3L493.4 183.7L495.9 183.2L498.5 182.8L501.2 182.4L503.8 182.1L506.6 181.8L509.3 181.6L512.0 181.5L514.8 181.5L517.6 181.5L520.3 181.6L523.0 181.8L525.8 182.1L528.4 182.4L531.1 182.8L533.7 183.2L536.2 183.7L538.7 184.3L541.1 185.0L543.5 185.7L545.8 186.5L548.0 187.3L550.1 188.2L552.1 189.1L554.0 190.1L555.8 191.1L557.4 192.2L559.0 193.3L560.4 194.5L561.8 195.7L562.9 196.9L564.0 198.2L564.9 199.5L565.7 200.8L566.3 202.1L566.9 203.4L567.2 204.8L567.4 206.1L567.5 207.5L567.5 220.8L567.4 222.2L567.2 223.5L566.9 224.9L566.3 226.2L565.7 227.5L564.9 228.8L564.0 230.1L562.9 231.4L561.8 232.6L560.4 233.8L559.0 235.0L557.4 236.1L555.8 237.2L554.0 238.2L552.1 239.2L550.1 240.1L548.0 241.0L545.8 241.8L543.5 242.6L541.1 243.3L538.7 244.0L536.2 244.6L533.7 245.1L531.1 245.5L528.4 245.9L525.8 246.2L523.0 246.5L520.3 246.7L517.6 246.8L514.8 246.8L512.0 246.8L509.3 246.7L506.6 246.5L503.8 246.2L501.2 245.9L498.5 245.5L495.9 245.1L493.4 244.6L490.9 244.0L488.4 243.3L486.1 242.6L483.8 241.8L481.6 241.0L479.5 240.1L477.5 239.2L475.6 238.2L473.8 237.2L472.2 236.1L470.6 235.0L469.2 233.8L467.8 232.6L466.7 231.4L465.6 230.1L464.7 228.8L463.9 227.5L463.3 226.2L462.7 224.9L462.4 223.5L462.2 222.2L462.1 220.8Z" fill="url(#bg)" stroke="none"/>
<path d="M567.5 207.5L567.5 208.4L567.4 209.3L567.2 210.2L567.0 211.1L566.7 212.0L566.3 212.9L565.9 213.8L565.5 214.7L564.9 215.5L564.3 216.4L563.7 217.2L562.9 218.1L562.2 218.9L561.3 219.7L560.4 220.5L559.5 221.3L558.5 222.0L557.4 222.8L556.3 223.5L555.2 224.2L554.0 224.9L552.7 225.6L551.4 226.2L550.1 226.8L548.7 227.4L547.2 228.0L545.8 228.5L544.3 229.1L542.7 229.5L541.1 230.0L539.5 230.5L537.9 230.9L536.2 231.3L534.5 231.6L532.8 231.9L531.1 232.2L529.3 232.5L527.5 232.7L525.8 232.9L524.0 233.1L522.1 233.2L520.3 233.4L518.5 233.4L516.6 233.5L514.8 233.5L513.0 233.5L511.1 233.4L509.3 233.4L507.5 233.2L505.6 233.1L503.8 232.9L502.1 232.7L500.3 232.5L498.5 232.2L496.8 231.9L495.1 231.6L493.4 231.3L491.7 230.9L490.1 230.5L488.4 230.0L486.9 229.5L485.3 229.1L483.8 228.5L482.4 228.0L480.9 227.4L479.5 226.8L478.2 226.2L476.9 225.6L475.6 224.9L474.4 224.2L473.3 223.5L472.2 222.8L471.1 222.0L470.1 221.3L469.2 220.5L468.3 219.7L467.4 218.9L466.7 218.1L465.9 217.2L465.3 216.4L464.7 215.5L464.1 214.7L463.7 213.8L463.3 212.9L462.9 212.0L462.6 211.1L462.4 210.2L462.2 209.3L462.1 208.4L462.1 207.5L462.1 206.6L462.2 205.7L462.4 204.8L462.6 203.9L462.9 203.0L463.3 202.1L463.7 201.2L464.1 200.3L464.7 199.5L465.3 198.6L465.9 197.8L466.7 196.9L467.4 196.1L468.3 195.3L469.2 194.5L470.1 193.7L471.1 193.0L472.2 192.2L473.3 191.5L474.4 190.8L475.6 190.1L476.9 189.4L478.2 188.8L479.5 188.2L480.9 187.6L482.4 187.0L483.8 186.5L485.3 185.9L486.9 185.5L488.4 185.0L490.1 184.5L491.7 184.1L493.4 183.7L495.1 183.4L496.8 183.1L498.5 182.8L500.3 182.5L502.1 182.3L503.8 182.1L505.6 181.9L507.5 181.8L509.3 181.6L511.1 181.6L513.0 181.5L514.8 181.5L516.6 181.5L518.5 181.6L520.3 181.6L522.1 181.8L524.0 181.9L525.8 182.1L527.5 182.3L529.3 182.5L531.1 182.8L532.8 183.1L534.5 183.4L536.2 183.7L537.9 184.1L539.5 184.5L541.1 185.0L542.7 185.5L544.3 185.9L545.8 186.5L547.2 187.0L548.7 187.6L550.1 188.2L551.4 188.8L552.7 189.4L554.0 190.1L555.2 190.8L556.3 191.5L557.4 192.2L558.5 193.0L559.5 193.7L560.4 194.5L561.3 195.3L562.2 196.1L562.9 196.9L563.7 197.8L564.3 198.6L564.9 199.5L565.5 200.3L565.9 201.2L566.3 202.1L566.7 203.0L567.0 203.9L567.2 204.8L567.4 205.7L567.5 206.6L567.5 207.5Z" stroke-width="2.2" />
<path d="M567.5 220.8L567.4 222.2L567.2 223.5L566.9 224.9L566.3 226.2L565.7 227.5L564.9 228.8L564.0 230.1L562.9 231.4L561.8 232.6L560.4 233.8L559.0 235.0L557.4 236.1L555.8 237.2L554.0 238.2L552.1 239.2L550.1 240.1L548.0 241.0L545.8 241.8L543.5 242.6L541.1 243.3L538.7 244.0L536.2 244.6L533.7 245.1L531.1 245.5L528.4 245.9L525.8 246.2L523.0 246.5L520.3 246.7L517.6 246.8L514.8 246.8L512.0 246.8L509.3 246.7L506.6 246.5L503.8 246.2L501.2 245.9L498.5 245.5L495.9 245.1L493.4 244.6L490.9 244.0L488.4 243.3L486.1 242.6L483.8 241.8L481.6 241.0L479.5 240.1L477.5 239.2L475.6 238.2L473.8 237.2L472.2 236.1L470.6 235.0L469.2 233.8L467.8 232.6L466.7 231.4L465.6 230.1L464.7 228.8L463.9 227.5L463.3 226.2L462.7 224.9L462.4 223.5L462.2 222.2L462.1 220.8" stroke-width="2.2" />
<path d="M462.1 207.5L462.1 220.8" stroke-width="2.2" />
<path d="M567.5 207.5L567.5 220.8" stroke-width="2.2" />
<path d="M489.0 189.5L489.0 188.8L489.1 188.2L489.3 187.5L489.6 186.8L489.9 186.2L490.3 185.5L490.7 184.9L491.2 184.3L491.8 183.7L492.5 183.1L493.2 182.5L494.0 182.0L494.8 181.4L495.7 180.9L496.6 180.4L497.6 180.0L498.6 179.6L499.7 179.1L500.8 178.8L502.0 178.4L503.2 178.1L504.4 177.8L505.7 177.6L507.0 177.3L508.3 177.1L509.6 177.0L510.9 176.9L512.3 176.8L513.6 176.7L515.0 176.7L516.4 176.7L517.7 176.8L519.1 176.9L520.4 177.0L521.7 177.1L523.0 177.3L524.3 177.6L525.6 177.8L526.8 178.1L528.0 178.4L529.2 178.8L530.3 179.1L531.4 179.6L532.4 180.0L533.4 180.4L534.3 180.9L535.2 181.4L536.0 182.0L536.8 182.5L537.5 183.1L538.2 183.7L538.8 184.3L539.3 184.9L539.7 185.5L540.1 186.2L540.4 186.8L540.7 187.5L540.9 188.2L541.0 188.8L541.0 189.5L541.0 207.6L541.0 208.3L540.9 208.9L540.7 209.6L540.4 210.3L540.1 210.9L539.7 211.6L539.3 212.2L538.8 212.8L538.2 213.4L537.5 214.0L536.8 214.6L536.0 215.1L535.2 215.7L534.3 216.2L533.4 216.7L532.4 217.1L531.4 217.5L530.3 218.0L529.2 218.3L528.0 218.7L526.8 219.0L525.6 219.3L524.3 219.5L523.0 219.8L521.7 220.0L520.4 220.1L519.1 220.2L517.7 220.3L516.4 220.4L515.0 220.4L513.6 220.4L512.3 220.3L510.9 220.2L509.6 220.1L508.3 220.0L507.0 219.8L505.7 219.5L504.4 219.3L503.2 219.0L502.0 218.7L500.8 218.3L499.7 218.0L498.6 217.5L497.6 217.1L496.6 216.7L495.7 216.2L494.8 215.7L494.0 215.1L493.2 214.6L492.5 214.0L491.8 213.4L491.2 212.8L490.7 212.2L490.3 211.6L489.9 210.9L489.6 210.3L489.3 209.6L489.1 208.9L489.0 208.3L489.0 207.6Z" fill="url(#bg)" stroke="none"/>
<path d="M489.0 189.5L489.0 188.8L489.1 188.2L489.3 187.5L489.6 186.8L489.9 186.2L490.3 185.5L490.7 184.9L491.2 184.3L491.8 183.7L492.5 183.1L493.2 182.5L494.0 182.0L494.8 181.4L495.7 180.9L496.6 180.4L497.6 180.0L498.6 179.6L499.7 179.1L500.8 178.8L502.0 178.4L503.2 178.1L504.4 177.8L505.7 177.6L507.0 177.3L508.3 177.1L509.6 177.0L510.9 176.9L512.3 176.8L513.6 176.7L515.0 176.7L516.4 176.7L517.7 176.8L519.1 176.9L520.4 177.0L521.7 177.1L523.0 177.3L524.3 177.6L525.6 177.8L526.8 178.1L528.0 178.4L529.2 178.8L530.3 179.1L531.4 179.6L532.4 180.0L533.4 180.4L534.3 180.9L535.2 181.4L536.0 182.0L536.8 182.5L537.5 183.1L538.2 183.7L538.8 184.3L539.3 184.9L539.7 185.5L540.1 186.2L540.4 186.8L540.7 187.5L540.9 188.2L541.0 188.8L541.0 189.5" stroke-width="2.2" />
<path d="M541.0 191.8L541.0 192.5L540.9 193.1L540.7 193.8L540.4 194.5L540.1 195.1L539.7 195.8L539.3 196.4L538.8 197.0L538.2 197.6L537.5 198.2L536.8 198.8L536.0 199.3L535.2 199.9L534.3 200.4L533.4 200.9L532.4 201.3L531.4 201.7L530.3 202.2L529.2 202.5L528.0 202.9L526.8 203.2L525.6 203.5L524.3 203.7L523.0 204.0L521.7 204.2L520.4 204.3L519.1 204.4L517.7 204.5L516.4 204.6L515.0 204.6L513.6 204.6L512.3 204.5L510.9 204.4L509.6 204.3L508.3 204.2L507.0 204.0L505.7 203.7L504.4 203.5L503.2 203.2L502.0 202.9L500.8 202.5L499.7 202.2L498.6 201.7L497.6 201.3L496.6 200.9L495.7 200.4L494.8 199.9L494.0 199.3L493.2 198.8L492.5 198.2L491.8 197.6L491.2 197.0L490.7 196.4L490.3 195.8L489.9 195.1L489.6 194.5L489.3 193.8L489.1 193.1L489.0 192.5L489.0 191.8" stroke-width="2.2" />
<path d="M541.0 202.3L541.0 203.0L540.9 203.6L540.7 204.3L540.4 205.0L540.1 205.6L539.7 206.3L539.3 206.9L538.8 207.5L538.2 208.1L537.5 208.7L536.8 209.3L536.0 209.8L535.2 210.4L534.3 210.9L533.4 211.4L532.4 211.8L531.4 212.2L530.3 212.7L529.2 213.0L528.0 213.4L526.8 213.7L525.6 214.0L524.3 214.2L523.0 214.5L521.7 214.7L520.4 214.8L519.1 214.9L517.7 215.0L516.4 215.1L515.0 215.1L513.6 215.1L512.3 215.0L510.9 214.9L509.6 214.8L508.3 214.7L507.0 214.5L505.7 214.2L504.4 214.0L503.2 213.7L502.0 213.4L500.8 213.0L499.7 212.7L498.6 212.2L497.6 211.8L496.6 211.4L495.7 210.9L494.8 210.4L494.0 209.8L493.2 209.3L492.5 208.7L491.8 208.1L491.2 207.5L490.7 206.9L490.3 206.3L489.9 205.6L489.6 205.0L489.3 204.3L489.1 203.6L489.0 203.0L489.0 202.3" stroke-width="2.2" />
<path d="M541.0 207.6L541.0 208.3L540.9 208.9L540.7 209.6L540.4 210.3L540.1 210.9L539.7 211.6L539.3 212.2L538.8 212.8L538.2 213.4L537.5 214.0L536.8 214.6L536.0 215.1L535.2 215.7L534.3 216.2L533.4 216.7L532.4 217.1L531.4 217.5L530.3 218.0L529.2 218.3L528.0 218.7L526.8 219.0L525.6 219.3L524.3 219.5L523.0 219.8L521.7 220.0L520.4 220.1L519.1 220.2L517.7 220.3L516.4 220.4L515.0 220.4L513.6 220.4L512.3 220.3L510.9 220.2L509.6 220.1L508.3 220.0L507.0 219.8L505.7 219.5L504.4 219.3L503.2 219.0L502.0 218.7L500.8 218.3L499.7 218.0L498.6 217.5L497.6 217.1L496.6 216.7L495.7 216.2L494.8 215.7L494.0 215.1L493.2 214.6L492.5 214.0L491.8 213.4L491.2 212.8L490.7 212.2L490.3 211.6L489.9 210.9L489.6 210.3L489.3 209.6L489.1 208.9L489.0 208.3L489.0 207.6" stroke-width="2.2" />
<path d="M489.0 189.5L489.0 207.6" stroke-width="2.2" />
<path d="M541.0 189.5L541.0 207.6" stroke-width="2.2" />
<path d="M494 145.3 C494 140 497 137 501.5 135.6 L669 51.8 C675 49.5 684 50 690 55 C694 58 695 62 694.8 66.9 L694.8 79.7 C694.8 82 693.5 83.5 691.6 84 L557.3 153.9 C548 159 539 168 538 177.5 L537.6 188.2 C537 196 526 199 515.8 199 C505 199 494 195 494 188.2 Z" fill="url(#bg)" stroke="none"/>
<path d="M494 145.3 C494 140 497 137 501.5 135.6 L669 51.8 C675 49.5 684 50 690 55 C694 58 695 62 694.8 66.9 L694.8 79.7 C694.8 82 693.5 83.5 691.6 84 L557.3 153.9 C548 159 539 168 538 177.5 L537.6 188.2 C537 196 526 199 515.8 199 C505 199 494 195 494 188.2 Z" stroke-width="2.2" />
<path d="M494 145.3 C496 150 506 153.5 518.7 153.9 C524 154 528 153.3 531.6 151.7 L691.6 70.1 C693.5 69 694.5 68 694.8 66.9" stroke-width="2.2" />
<path d="M529.4 143.6L529.4 143.8L529.4 144.1L529.3 144.3L529.3 144.6L529.2 144.8L529.1 145.1L529.0 145.3L528.9 145.6L528.7 145.8L528.6 146.0L528.4 146.3L528.3 146.5L528.1 146.7L527.8 146.9L527.6 147.2L527.4 147.4L527.1 147.6L526.9 147.8L526.6 148.0L526.3 148.2L526.0 148.4L525.7 148.5L525.3 148.7L525.0 148.9L524.6 149.0L524.3 149.2L523.9 149.3L523.5 149.5L523.1 149.6L522.8 149.7L522.3 149.9L521.9 150.0L521.5 150.1L521.1 150.2L520.6 150.3L520.2 150.4L519.8 150.4L519.3 150.5L518.9 150.5L518.4 150.6L518.0 150.6L517.5 150.7L517.0 150.7L516.6 150.7L516.1 150.7L515.6 150.7L515.2 150.7L514.7 150.7L514.2 150.6L513.8 150.6L513.3 150.5L512.9 150.5L512.4 150.4L512.0 150.4L511.6 150.3L511.1 150.2L510.7 150.1L510.3 150.0L509.9 149.9L509.5 149.7L509.1 149.6L508.7 149.5L508.3 149.3L507.9 149.2L507.6 149.0L507.2 148.9L506.9 148.7L506.5 148.5L506.2 148.4L505.9 148.2L505.6 148.0L505.3 147.8L505.1 147.6L504.8 147.4L504.6 147.2L504.4 146.9L504.1 146.7L503.9 146.5L503.8 146.3L503.6 146.0L503.5 145.8L503.3 145.6L503.2 145.3L503.1 145.1L503.0 144.8L502.9 144.6L502.9 144.3L502.8 144.1L502.8 143.8L502.8 143.6L502.8 143.4L502.8 143.1L502.9 142.9L502.9 142.6L503.0 142.4L503.1 142.1L503.2 141.9L503.3 141.6L503.5 141.4L503.6 141.2L503.8 140.9L503.9 140.7L504.1 140.5L504.4 140.3L504.6 140.0L504.8 139.8L505.1 139.6L505.3 139.4L505.6 139.2L505.9 139.0L506.2 138.8L506.5 138.7L506.9 138.5L507.2 138.3L507.6 138.2L507.9 138.0L508.3 137.9L508.7 137.7L509.1 137.6L509.4 137.5L509.9 137.3L510.3 137.2L510.7 137.1L511.1 137.0L511.6 136.9L512.0 136.8L512.4 136.8L512.9 136.7L513.3 136.7L513.8 136.6L514.2 136.6L514.7 136.5L515.2 136.5L515.6 136.5L516.1 136.5L516.6 136.5L517.0 136.5L517.5 136.5L518.0 136.6L518.4 136.6L518.9 136.7L519.3 136.7L519.8 136.8L520.2 136.8L520.6 136.9L521.1 137.0L521.5 137.1L521.9 137.2L522.3 137.3L522.8 137.5L523.1 137.6L523.5 137.7L523.9 137.9L524.3 138.0L524.6 138.2L525.0 138.3L525.3 138.5L525.7 138.7L526.0 138.8L526.3 139.0L526.6 139.2L526.9 139.4L527.1 139.6L527.4 139.8L527.6 140.0L527.8 140.3L528.1 140.5L528.3 140.7L528.4 140.9L528.6 141.2L528.7 141.4L528.9 141.6L529.0 141.9L529.1 142.1L529.2 142.4L529.3 142.6L529.3 142.9L529.4 143.1L529.4 143.4L529.4 143.6Z" stroke-width="2.2" />
<path d="M358.0 152.0L476.2 192.3" stroke-width="1.5" />
<circle cx="476.2" cy="192.3" r="2.8" fill="#161616" stroke="none"/>
<path d="M684.0 237.3L615.2 264.2" stroke-width="1.5" />
<circle cx="615.2" cy="264.2" r="2.8" fill="#161616" stroke="none"/>
<path d="M686.7 325.1L635.2 325.1" stroke-width="1.5" />
<path d="M292.5 421.3 L315.1 421.3 L375.6 402.8 M315.1 421.3 L386.9 425.8" stroke-width="1.5" />
<circle cx="389" cy="428" r="3.2" fill="#161616" stroke="none"/>
<circle cx="376" cy="403" r="2.2" fill="#161616" stroke="none"/>
<path d="M686.0 429.7L556.0 418.6" stroke-width="1.5" />
<path d="M551 418.2 L560 414.6 L559.4 422.2 Z" fill="#161616" stroke="none"/>
<path d="M680.3 578.6L571.0 606.5" stroke-width="1.5" />
<circle cx="571.8" cy="599.1" r="2.4" fill="#161616" stroke="none"/>
<path d="M338.2 650.1L411.4 650.1" stroke-width="1.5" />
<path d="M802.5 966.8 V980 H984.4 V969.1 H898 V974.3 H802.5" stroke-width="2.0" />
</g>
<g>
<text transform="matrix(0.62,0,0,1,285,158.4)" x="0" y="0" font-size="20.9" textLength="104.7" lengthAdjust="spacing">CONTROL</text>
<text transform="matrix(0.62,0,0,1,696.6,242.7)" x="0" y="0" font-size="20.8" textLength="179.5" lengthAdjust="spacing">CONTROL LEVER</text>
<text transform="matrix(0.62,0,0,1,700.8,333.4)" x="0" y="0" font-size="20.0" textLength="191.6" lengthAdjust="spacing">VALVE ASSEMBLY</text>
<text transform="matrix(0.62,0,0,1,202.7,427.4)" x="0" y="0" font-size="20.35" textLength="133.4" lengthAdjust="spacing">GEAR TRAIN</text>
<text transform="matrix(0.62,0,0,1,697,435.5)" x="0" y="0" font-size="20.35" textLength="133.1" lengthAdjust="spacing">GEAR TRAIN</text>
<text transform="matrix(0.62,0,0,1,696.7,584.6)" x="0" y="0" font-size="20.6" textLength="194.0" lengthAdjust="spacing">SEALING GASKET</text>
<text transform="matrix(0.62,0,0,1,235.6,656.4)" x="0" y="0" font-size="20.0" textLength="152.9" lengthAdjust="spacing">MAIN CASING</text>
<text transform="matrix(0.62,0,0,1,46.3,972.5)" x="0" y="0" font-size="26.9" textLength="1094.7" lengthAdjust="spacing">TECHNICAL PATENT ILLUSTRATION: PVC WATER STOP TER EXPODED VIEW</text>
<text transform="matrix(0.62,0,0,1,800.2,1011.1)" x="0" y="0" font-size="21.8" textLength="301.5" lengthAdjust="spacing">SIZE: 2 INCH DIAMETER</text>
</g>
</svg>
</body></html>
